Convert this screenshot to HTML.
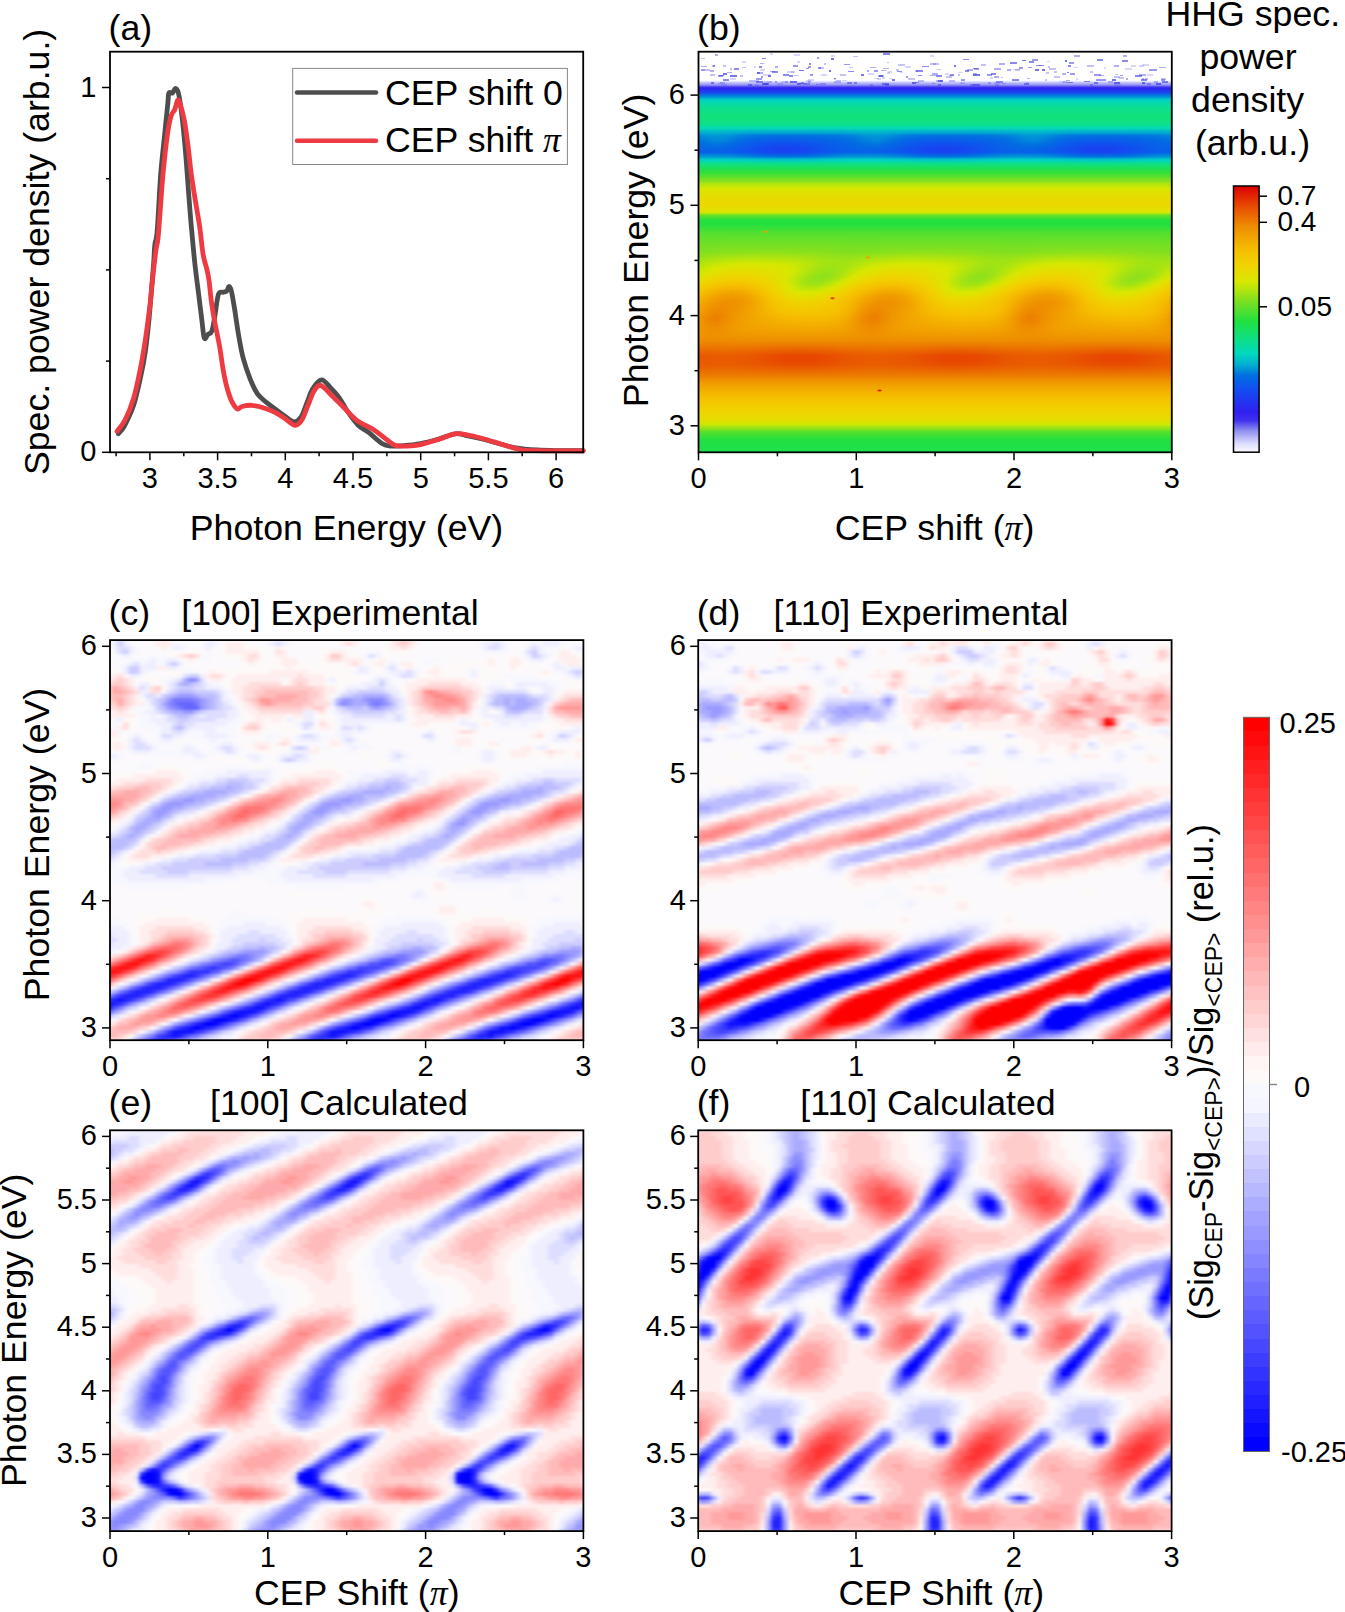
<!DOCTYPE html>
<html><head><meta charset="utf-8"><style>
html,body{margin:0;padding:0;background:#fff;}
body{width:1345px;height:1612px;position:relative;overflow:hidden;font-family:"Liberation Sans",sans-serif;}
.hm{position:absolute;overflow:hidden;}
.hm div{width:100%;}
svg.main{position:absolute;left:0;top:0;}
</style></head><body>
<div class="hm" style="left:698.5px;top:51.7px;width:473.3px;height:400.6px"><div style="position:absolute;left:-6.0px;top:-6.0px;width:485.3px;filter:blur(1.0px)"><div style="height:4px;background:#fff"></div><div style="height:4px;background:#fff"></div><div style="height:4px;background:#fff"></div><div style="height:4px;background:#fff"></div><div style="height:4px;background:#fff"></div><div style="height:4px;background:#fff"></div><div style="height:4px;background:#fff"></div><div style="height:4px;background:#fff"></div><div style="height:4px;background:#fff"></div><div style="height:4px;background:#a8a8f4"></div><div style="height:4px;background:#2e23f0"></div><div style="height:4px;background:#1c3ef0"></div><div style="height:4px;background:#0085db"></div><div style="height:4px;background:#00d3c2"></div><div style="height:4px;background:#07dba6"></div><div style="height:4px;background:#0cde90"></div><div style="height:4px;background:#0fdf85"></div><div style="height:4px;background:#12e079"></div><div style="height:4px;background:#11e07e"></div><div style="height:4px;background:#0edf8a"></div><div style="height:4px;background:linear-gradient(90deg,#04dab2,#04dab1,#04dab1,#04dab1,#04dab1,#04dab1,#04dab1,#04dab2,#04dab2,#03dab2,#03dab2,#03dab2,#03dab2,#03dab2,#03dab2,#03dab2,#03dab2,#03dab2,#03dab2,#04dab2,#04dab2,#04dab1,#04dab1,#04dab1,#04dab1,#04dab1,#04dab1,#04dab2,#04dab2,#03dab2,#03dab2,#03dab2,#03dab2,#03dab2,#03dab2,#03dab2,#03dab2,#03dab2,#03dab2,#03dab2,#04dab2,#04dab2,#04dab1,#04dab1,#04dab1,#04dab1,#04dab1,#04dab1,#04dab2,#03dab2,#03dab2,#03dab2,#03dab2,#03dab2,#03dab2,#03dab2,#03dab2,#03dab2,#03dab2,#03dab2,#04dab2,#04dab2,#04dab1,#04dab1)"></div><div style="height:4px;background:linear-gradient(90deg,#00b2cf,#00b4ce,#00b6ce,#00b7cd,#00b7cd,#00b5ce,#00b3cf,#00b1d0,#00b0d0,#00afd0,#00aed0,#00aed1,#00aed1,#00aed1,#00aed1,#00aed0,#00aed0,#00afd0,#00afd0,#00b0d0,#00b1cf,#00b3cf,#00b5ce,#00b7cd,#00b7cd,#00b6ce,#00b4ce,#00b2cf,#00b0d0,#00afd0,#00aed0,#00aed1,#00aed1,#00aed1,#00aed1,#00aed1,#00aed0,#00aed0,#00afd0,#00b0d0,#00b1d0,#00b2cf,#00b4ce,#00b6ce,#00b7cd,#00b7cd,#00b5ce,#00b3cf,#00b1d0,#00b0d0,#00afd0,#00aed0,#00aed1,#00aed1,#00aed1,#00aed1,#00aed0,#00aed0,#00afd0,#00afd0,#00b0d0,#00b1cf,#00b3cf,#00b5ce)"></div><div style="height:4px;background:linear-gradient(90deg,#0081dc,#008ada,#0092d8,#0096d7,#0094d7,#008ed9,#0084db,#007cdd,#0075df,#0071e0,#0070e0,#006fe0,#006fe0,#006fe0,#0070e0,#0070e0,#0071e0,#0073df,#0075df,#0078de,#007edd,#0085db,#008ed8,#0095d7,#0096d7,#0091d8,#0089da,#007fdc,#0078de,#0073df,#0070e0,#006fe0,#006fe0,#006fe0,#006fe0,#0070e0,#0070e0,#0072e0,#0074df,#0076de,#007bdd,#0082dc,#008ad9,#0092d8,#0096d6,#0094d7,#008dd9,#0084db,#007bdd,#0075df,#0071e0,#0070e0,#006fe0,#006fe0,#006fe0,#0070e0,#0070e0,#0071e0,#0073df,#0075df,#0078de,#007edc,#0086db,#008fd8)"></div><div style="height:4px;background:linear-gradient(90deg,#016ee1,#0078de,#0084db,#008ad9,#0087da,#007cdd,#016fe1,#0469e4,#0664e6,#0861e8,#095fe9,#095ee9,#095de9,#095ee9,#095fe9,#0860e8,#0762e7,#0663e6,#0566e5,#0468e4,#026ce2,#0072df,#007fdc,#0088da,#008ada,#0082dc,#0074df,#026be2,#0566e5,#0762e7,#0860e8,#095ee9,#095de9,#095de9,#095ee9,#085fe8,#0861e8,#0763e7,#0665e6,#0567e5,#036ae3,#016ee1,#0079de,#0085db,#008ad9,#0087da,#007bdd,#016ee1,#0468e4,#0664e6,#0861e8,#095fe9,#095ee9,#095de9,#095ee9,#095fe9,#0860e8,#0762e7,#0664e6,#0566e5,#0468e4,#026ce2,#0073df,#0080dc)"></div><div style="height:4px;background:linear-gradient(90deg,#0469e4,#016de1,#0072df,#0076de,#0072e0,#026ce2,#0565e5,#095fe9,#0c59ec,#0e54ee,#1050f0,#114ef0,#124ef0,#114ef0,#1050f0,#0f53ef,#0d57ed,#0b5beb,#095ee9,#0762e7,#0567e5,#026be2,#006fe0,#0075df,#0075df,#016ee1,#0469e4,#0762e7,#0a5bea,#0d56ed,#0f52ef,#114ff0,#124ef0,#124ef0,#114ff0,#0f51ef,#0e55ee,#0c59ec,#0a5dea,#0860e8,#0665e6,#0469e4,#016de1,#0073df,#0076de,#0071e0,#026ce2,#0665e6,#095ee9,#0c58ec,#0e54ee,#1050f0,#114ef0,#124ef0,#114ef0,#1050f0,#0e53ee,#0d57ed,#0b5beb,#095fe9,#0763e7,#0567e5,#026be2,#0070e0)"></div><div style="height:4px;background:linear-gradient(90deg,#0762e7,#0665e6,#0567e5,#0567e5,#0665e6,#0860e8,#0b5beb,#0e55ee,#114ff0,#144af0,#1746f0,#1843f0,#1942f0,#1843f0,#1746f0,#144af0,#114ef0,#0f53ef,#0c58ec,#0a5dea,#0860e8,#0664e6,#0566e5,#0567e5,#0566e5,#0763e7,#095ee9,#0c58ec,#0f51ef,#134cf0,#1648f0,#1844f0,#1943f0,#1943f0,#1844f0,#1648f0,#134cf0,#1050f0,#0d56ed,#0b5beb,#095fe9,#0762e7,#0665e6,#0567e5,#0567e5,#0664e6,#0860e8,#0b5beb,#0e54ee,#114ef0,#144af0,#1746f0,#1943f0,#1942f0,#1843f0,#1746f0,#144af0,#114ef0,#0e53ee,#0c58ec,#0a5dea,#0861e8,#0664e6,#0566e5)"></div><div style="height:4px;background:linear-gradient(90deg,#095fe9,#0860e8,#0761e7,#0860e8,#095fe9,#0a5cea,#0c58ec,#0f53ef,#114ef0,#144af0,#1646f0,#1844f0,#1943f0,#1844f0,#1646f0,#144af0,#114ef0,#0f52ef,#0c57ec,#0b5beb,#095ee9,#0860e8,#0861e8,#0861e8,#0860e8,#095de9,#0b5aeb,#0d55ed,#1050f0,#134cf0,#1548f0,#1745f0,#1843f0,#1843f0,#1745f0,#1548f0,#134cf0,#1050f0,#0e55ee,#0b59eb,#0a5dea,#085fe8,#0861e8,#0761e7,#0860e8,#095fe9,#0a5cea,#0c57ec,#0f53ef,#114ef0,#144af0,#1746f0,#1844f0,#1943f0,#1844f0,#1647f0,#144af0,#114ef0,#0f53ef,#0c57ec,#0a5bea,#095ee9,#0860e8,#0861e8)"></div><div style="height:4px;background:linear-gradient(90deg,#008ed9,#0090d8,#0090d8,#008fd8,#008dd9,#0089da,#0083db,#007cdd,#0075df,#016fe1,#026de2,#036be3,#036ae3,#036be3,#026ce2,#016fe1,#0075df,#007cdd,#0083db,#0088da,#008dd9,#008fd8,#0090d8,#0090d8,#008ed8,#008bd9,#0086db,#0080dc,#0078de,#0071e0,#016ee1,#026ce2,#036ae3,#036ae3,#026ce2,#016ee1,#0071e0,#0079de,#0080dc,#0086db,#008bd9,#008ed8,#0090d8,#0090d8,#008fd8,#008dd9,#0088da,#0083db,#007cdd,#0074df,#016fe1,#026ce2,#036be3,#036ae3,#036be3,#026de2,#006fe0,#0075df,#007cdd,#0083db,#0089da,#008dd9,#008fd8,#0090d8)"></div><div style="height:4px;background:linear-gradient(90deg,#00d3c2,#00d4c2,#00d4c2,#00d4c2,#00d3c2,#00d2c2,#00d1c3,#00cfc3,#00cec4,#00ccc5,#00cac5,#00c9c6,#00c9c6,#00c9c6,#00cac5,#00ccc5,#00cdc4,#00cfc4,#00d1c3,#00d2c2,#00d3c2,#00d4c2,#00d4c2,#00d4c2,#00d4c2,#00d3c2,#00d2c3,#00d0c3,#00cec4,#00cdc5,#00cbc5,#00cac6,#00c9c6,#00c9c6,#00cac6,#00cbc5,#00cdc5,#00cec4,#00d0c3,#00d2c3,#00d3c2,#00d4c2,#00d4c2,#00d4c2,#00d4c2,#00d3c2,#00d2c2,#00d1c3,#00cfc4,#00cdc4,#00ccc5,#00cac6,#00c9c6,#00c9c6,#00c9c6,#00cac5,#00ccc5,#00cec4,#00cfc3,#00d1c3,#00d2c2,#00d3c2,#00d4c2,#00d4c2)"></div><div style="height:4px;background:linear-gradient(90deg,#0fe084,#0fe084,#0fe084,#0fe084,#0fe084,#0fe084,#0fdf84,#0fdf85,#0fdf85,#0fdf86,#0edf86,#0edf86,#0edf86,#0edf86,#0edf86,#0fdf86,#0fdf85,#0fdf85,#0fdf84,#0fe084,#0fe084,#0fe084,#0fe084,#0fe084,#0fe084,#0fe084,#0fdf84,#0fdf85,#0fdf85,#0fdf85,#0fdf86,#0edf86,#0edf86,#0edf86,#0edf86,#0fdf86,#0fdf85,#0fdf85,#0fdf85,#0fdf84,#0fe084,#0fe084,#0fe084,#0fe084,#0fe084,#0fe084,#0fdf84,#0fdf84,#0fdf85,#0fdf85,#0fdf86,#0edf86,#0edf86,#0edf86,#0edf86,#0edf86,#0fdf86,#0fdf85,#0fdf85,#0fdf84,#0fe084,#0fe084,#0fe084,#0fe084)"></div><div style="height:4px;background:#1ae059"></div><div style="height:4px;background:#2fe03b"></div><div style="height:4px;background:#53e02f"></div><div style="height:4px;background:#7ce021"></div><div style="height:4px;background:#afe40f"></div><div style="height:4px;background:#d5e801"></div><div style="height:4px;background:#dee300"></div><div style="height:4px;background:#e5dd00"></div><div style="height:4px;background:#e9da00"></div><div style="height:4px;background:#ebd800"></div><div style="height:4px;background:#e7dc00"></div><div style="height:4px;background:#d9e700"></div><div style="height:4px;background:#5be02c"></div><div style="height:4px;background:#27e03e"></div><div style="height:4px;background:#21e040"></div><div style="height:4px;background:#36e039"></div><div style="height:4px;background:#4ee031"></div><div style="height:4px;background:#5be02c"></div><div style="height:4px;background:linear-gradient(90deg,#66e029,#66e029,#66e029,#66e029,#66e029,#67e028,#67e028,#67e028,#67e028,#67e028,#67e028,#67e028,#67e028,#67e028,#67e028,#67e028,#67e028,#67e028,#67e028,#67e028,#66e029,#66e029,#66e029,#66e029,#66e029,#67e028,#67e028,#67e028,#67e028,#67e028,#67e028,#67e028,#67e028,#67e028,#67e028,#67e028,#67e028,#67e028,#67e028,#67e028,#66e029,#66e029,#66e029,#66e029,#66e029,#66e029,#67e028,#67e028,#67e028,#67e028,#67e028,#67e028,#67e028,#67e028,#67e028,#67e028,#67e028,#67e028,#67e028,#67e028,#67e028,#66e029,#66e029,#66e029)"></div><div style="height:4px;background:linear-gradient(90deg,#71e025,#71e025,#71e025,#71e025,#72e025,#72e025,#72e025,#73e024,#73e024,#73e024,#73e024,#73e024,#73e024,#73e024,#73e024,#73e024,#73e024,#72e025,#72e025,#72e025,#71e025,#71e025,#71e025,#71e025,#71e025,#72e025,#72e025,#73e024,#73e024,#73e024,#73e024,#73e024,#73e024,#73e024,#73e024,#73e024,#73e024,#72e025,#72e025,#72e025,#71e025,#71e025,#71e025,#71e025,#71e025,#72e025,#72e025,#72e025,#73e024,#73e024,#73e024,#73e024,#73e024,#73e024,#73e024,#73e024,#73e024,#73e024,#72e025,#72e025,#72e025,#71e025,#71e025,#71e025)"></div><div style="height:4px;background:linear-gradient(90deg,#7ae022,#7ae022,#7be022,#7ce021,#7ce021,#7de021,#7ee021,#7fe020,#7fe020,#7fe020,#7fe020,#7fe020,#7fe020,#7fe020,#7fe020,#7ee021,#7ee021,#7de021,#7ce021,#7be022,#7ae022,#7ae022,#7be022,#7be022,#7ce021,#7de021,#7ee021,#7ee021,#7fe020,#7fe020,#7fe020,#7fe020,#7fe020,#7fe020,#7fe020,#7ee021,#7ee021,#7de021,#7ce021,#7be022,#7be022,#7ae022,#7ae022,#7be022,#7ce021,#7ce021,#7de021,#7ee021,#7fe020,#7fe020,#7fe020,#7fe020,#7fe020,#7fe020,#7fe020,#7fe020,#7ee021,#7ee021,#7de021,#7ce021,#7be022,#7ae022,#7ae022,#7be022)"></div><div style="height:4px;background:linear-gradient(90deg,#81e020,#82e01f,#83e01f,#85e01e,#87e11d,#89e11d,#8ae11c,#8be11c,#8be11c,#8ce11c,#8ce11c,#8ce11c,#8be11c,#8be11c,#8ae11c,#89e11d,#87e11d,#86e11e,#84e01f,#82e01f,#81e020,#81e01f,#82e01f,#84e01e,#86e11e,#88e11d,#8ae11d,#8be11c,#8be11c,#8ce11c,#8ce11c,#8ce11c,#8be11c,#8be11c,#8be11c,#8ae11c,#88e11d,#87e11e,#85e01e,#83e01f,#82e01f,#81e020,#82e01f,#83e01f,#85e01e,#87e11d,#89e11d,#8ae11c,#8be11c,#8be11c,#8ce11c,#8ce11c,#8ce11c,#8be11c,#8be11c,#8ae11c,#89e11d,#87e11d,#86e11e,#84e01f,#82e01f,#81e020,#81e01f,#83e01f)"></div><div style="height:4px;background:linear-gradient(90deg,#91e21a,#93e219,#96e218,#9ae217,#9ee315,#a0e314,#a2e314,#a3e313,#a4e313,#a4e313,#a4e313,#a4e313,#a3e313,#a2e314,#a0e314,#9de315,#9ae217,#96e218,#93e219,#91e21a,#90e11a,#92e21a,#95e219,#98e217,#9ce316,#9fe315,#a1e314,#a3e313,#a4e313,#a4e313,#a4e313,#a4e313,#a3e313,#a2e313,#a1e314,#9fe315,#9ce316,#98e217,#95e219,#92e21a,#90e11a,#91e21a,#93e219,#96e218,#9ae216,#9ee315,#a0e314,#a2e313,#a3e313,#a4e313,#a4e313,#a4e313,#a4e313,#a3e313,#a2e314,#a0e314,#9de315,#9ae217,#96e218,#93e219,#91e21a,#90e11a,#92e21a,#95e218)"></div><div style="height:4px;background:linear-gradient(90deg,#9ee315,#a3e313,#aae411,#b0e40e,#b6e50c,#bae50b,#bce50a,#bee60a,#bee609,#bee609,#bde60a,#bce50a,#bbe50b,#b8e50c,#b4e50d,#afe40f,#a9e411,#a3e313,#9ee315,#9ce316,#9de316,#a1e314,#a7e412,#ade410,#b3e50d,#b8e50c,#bbe50a,#bde60a,#bee609,#bee609,#bee60a,#bde60a,#bce50a,#b9e50b,#b6e50c,#b1e40e,#ace410,#a5e312,#a0e314,#9ce316,#9ce316,#9ee315,#a4e313,#aae411,#b1e40e,#b6e50c,#bae50b,#bce50a,#bee60a,#bee609,#bee609,#bde60a,#bce50a,#bbe50b,#b8e50c,#b4e50d,#aee40f,#a8e411,#a2e314,#9ee315,#9ce316,#9de316,#a1e314,#a7e412)"></div><div style="height:4px;background:linear-gradient(90deg,#a8e411,#b2e50e,#bce50a,#c6e607,#cde704,#d3e802,#d6e801,#d7e800,#d7e800,#d6e801,#d4e801,#d2e702,#cee704,#c9e706,#c1e608,#b8e50c,#aee40f,#a6e312,#a0e314,#a0e314,#a4e313,#ade410,#b7e50c,#c2e608,#cae705,#d0e703,#d4e801,#d6e801,#d7e800,#d6e801,#d5e801,#d3e802,#d0e703,#cce705,#c5e607,#bce50a,#b3e50e,#a9e411,#a2e314,#9fe315,#a2e314,#a8e411,#b2e50e,#bde60a,#c6e606,#cee704,#d3e802,#d6e801,#d7e800,#d7e800,#d6e801,#d4e801,#d2e702,#cee704,#c8e706,#c1e608,#b7e50c,#aee40f,#a5e312,#a0e314,#a0e314,#a5e313,#ade410,#b8e50c)"></div><div style="height:4px;background:linear-gradient(90deg,#b1e40e,#c0e609,#cfe703,#d9e700,#dce500,#dee300,#dfe200,#dfe200,#dfe200,#dee300,#dde400,#dbe500,#d9e700,#d2e702,#c5e607,#b7e50c,#aae411,#a0e314,#9ce316,#a0e314,#aae411,#b9e50b,#c8e706,#d6e801,#dbe600,#dde400,#dfe200,#dfe200,#dfe200,#dfe300,#dee300,#dce400,#dae600,#d7e800,#cbe705,#bee60a,#b0e40f,#a4e313,#9de315,#9de315,#a5e313,#b1e40e,#c1e608,#d0e703,#d9e700,#dce400,#dee300,#dfe200,#dfe200,#dfe200,#dee300,#dde400,#dbe500,#d9e700,#d1e703,#c4e607,#b6e50c,#a9e411,#a0e314,#9ce316,#a0e314,#abe410,#b9e50b,#c9e705)"></div><div style="height:4px;background:linear-gradient(90deg,#bce50a,#d1e702,#dce500,#e1e100,#e4de00,#e6dc00,#e7dc00,#e7dc00,#e6dd00,#e4de00,#e2e000,#dfe200,#dbe500,#d3e802,#c1e609,#aee40f,#9fe315,#97e218,#97e218,#a2e314,#b3e50e,#c7e606,#d9e700,#dfe200,#e3df00,#e5dd00,#e6dc00,#e7dc00,#e6dc00,#e5dd00,#e3df00,#e1e100,#dde400,#d9e700,#c9e705,#b7e50c,#a5e312,#99e217,#96e218,#9ce316,#aae411,#bee60a,#d2e702,#dce400,#e1e100,#e4de00,#e6dc00,#e7dc00,#e6dc00,#e6dd00,#e4de00,#e2e000,#dfe200,#dbe500,#d2e702,#c0e609,#ade410,#9ee315,#96e218,#98e217,#a2e314,#b4e50d,#c9e706,#dae700)"></div><div style="height:4px;background:linear-gradient(90deg,#cde704,#dce400,#e3df00,#e9da00,#ecd700,#eed600,#eed500,#eed600,#ecd700,#e9da00,#e6dc00,#e1e000,#dbe500,#cce704,#b5e50d,#a1e314,#92e219,#8fe11b,#96e218,#a8e411,#c0e609,#d9e700,#e0e100,#e6dc00,#ebd800,#edd600,#eed500,#eed600,#edd700,#ebd800,#e8db00,#e4de00,#dee300,#d7e800,#c0e609,#aae411,#98e217,#8fe11b,#91e21a,#9fe315,#b5e50d,#cee704,#dde400,#e4de00,#e9da00,#ecd700,#eed600,#eed500,#eed600,#ecd700,#e9da00,#e6dd00,#e1e100,#dbe600,#cbe705,#b4e50d,#a0e315,#92e219,#8fe11b,#97e218,#a9e411,#c2e608,#d9e700,#e1e100)"></div><div style="height:4px;background:linear-gradient(90deg,#dde400,#e5dd00,#edd700,#f1d200,#f1cf00,#f2cd00,#f2cd00,#f2ce00,#f1d100,#efd500,#ead900,#e3df00,#dbe500,#c7e606,#aee40f,#9ae216,#91e21a,#94e219,#a3e313,#bce50a,#d8e800,#e1e000,#ead900,#f0d400,#f1d000,#f2ce00,#f2cd00,#f2ce00,#f1d000,#f0d300,#edd700,#e6dc00,#dfe200,#d4e801,#bae50b,#a3e313,#94e219,#91e21a,#9ae216,#afe40f,#cbe705,#dde400,#e6dc00,#edd600,#f1d200,#f2ce00,#f2cd00,#f2cd00,#f2ce00,#f1d100,#efd500,#e9d900,#e3df00,#dbe600,#c6e607,#ade410,#99e217,#90e11a,#94e219,#a4e313,#bde60a,#d9e700,#e2e000,#ead900)"></div><div style="height:4px;background:linear-gradient(90deg,#e7db00,#f0d400,#f2cd00,#f3c800,#f4c400,#f5c300,#f5c300,#f4c500,#f3c900,#f1cf00,#eed500,#e6dd00,#dce400,#c9e706,#b0e40e,#a1e314,#9ee315,#a8e411,#bde60a,#d9e800,#e2df00,#ecd700,#f1d000,#f3ca00,#f4c600,#f5c300,#f5c300,#f4c400,#f3c700,#f2cc00,#f1d200,#ead900,#e1e100,#d6e801,#bbe50b,#a7e412,#9ee315,#a2e314,#b2e50e,#cce704,#dee300,#e8db00,#f0d400,#f2cd00,#f3c800,#f4c400,#f5c300,#f5c300,#f4c600,#f3ca00,#f1cf00,#eed600,#e5dd00,#dce500,#c7e606,#afe40f,#a0e314,#9ee315,#a9e411,#bfe609,#d9e700,#e3df00,#ecd700,#f1d000)"></div><div style="height:4px;background:linear-gradient(90deg,#f0d200,#f3ca00,#f5c300,#f6bd00,#f5b800,#f5b500,#f5b600,#f6bb00,#f5c100,#f3c800,#f1d000,#ead900,#e0e200,#d4e801,#c0e609,#b6e50c,#b9e50b,#c9e706,#dbe600,#e4de00,#eed600,#f2ce00,#f4c600,#f5c000,#f5ba00,#f5b600,#f5b500,#f5b800,#f6be00,#f4c500,#f2cc00,#efd500,#e4de00,#dbe600,#c8e706,#b9e50b,#b6e50c,#c0e609,#d4e801,#dfe200,#e9da00,#f1d200,#f3ca00,#f5c300,#f6bd00,#f5b700,#f5b500,#f5b700,#f6bb00,#f5c200,#f3c900,#f1d100,#e9da00,#dfe200,#d3e802,#bfe609,#b6e50c,#bae50b,#cae705,#dbe500,#e4de00,#eed600,#f2cd00,#f4c600)"></div><div style="height:4px;background:linear-gradient(90deg,#f3c900,#f5c100,#f5b800,#f4af00,#f3a900,#f2a600,#f2a800,#f3ae00,#f5b700,#f5c200,#f2cb00,#efd500,#e5dd00,#dde400,#d8e800,#d5e801,#d9e700,#dfe200,#e6dc00,#efd500,#f2cd00,#f4c500,#f6bd00,#f4b300,#f3ab00,#f2a700,#f2a700,#f3ab00,#f4b200,#f6be00,#f4c700,#f1d000,#ead900,#e1e100,#dae600,#d6e801,#d8e800,#dce500,#e3df00,#ebd900,#f1d100,#f3c900,#f5c100,#f5b700,#f3ae00,#f3a800,#f2a600,#f3a800,#f3ae00,#f5b800,#f5c200,#f2cc00,#eed500,#e5dd00,#dde400,#d8e800,#d5e801,#dae700,#dfe200,#e7dc00,#efd500,#f2cd00,#f4c400,#f6bc00)"></div><div style="height:4px;background:linear-gradient(90deg,#f5c200,#f5b800,#f3ac00,#f2a300,#f19d00,#f09b00,#f19d00,#f2a400,#f3ae00,#f6bc00,#f4c600,#f1cf00,#ecd700,#e6dd00,#e2e000,#e2e000,#e5dd00,#ead900,#f0d400,#f2cd00,#f4c600,#f6be00,#f4b100,#f2a700,#f19f00,#f09b00,#f09b00,#f1a000,#f3a900,#f5b500,#f5c100,#f2cb00,#f0d400,#e8da00,#e3df00,#e2e000,#e3df00,#e7db00,#edd700,#f1d100,#f3c900,#f5c200,#f5b700,#f3ac00,#f2a200,#f19c00,#f09b00,#f19d00,#f2a400,#f4af00,#f6bc00,#f4c700,#f1d000,#ecd800,#e5dd00,#e2e000,#e2e000,#e5dd00,#ead900,#f0d400,#f2cd00,#f4c500,#f6bd00,#f4b100)"></div><div style="height:4px;background:linear-gradient(90deg,#f6bc00,#f4af00,#f2a300,#f09900,#ef9400,#ef9300,#f09600,#f19e00,#f3a800,#f5b500,#f5c100,#f3ca00,#f1d100,#eed500,#ecd700,#ecd700,#eed500,#f1d200,#f2cd00,#f3c700,#f5c000,#f5b500,#f3a800,#f19d00,#f09600,#ef9300,#ef9400,#f09a00,#f2a300,#f4af00,#f6bd00,#f4c600,#f2ce00,#f0d400,#edd700,#ecd800,#edd600,#f0d400,#f1d000,#f3ca00,#f4c400,#f6bb00,#f4ae00,#f2a200,#f09900,#ef9400,#ef9300,#f09700,#f19e00,#f3a900,#f5b600,#f5c200,#f3ca00,#f1d100,#eed600,#ecd800,#ecd700,#efd500,#f1d200,#f2cd00,#f4c700,#f5c000,#f4b500,#f2a800)"></div><div style="height:4px;background:linear-gradient(90deg,#f5b600,#f3a800,#f09b00,#ef9200,#ee8e00,#ef9000,#ef9400,#f09c00,#f2a600,#f4b200,#f6be00,#f4c500,#f2cb00,#f1cf00,#f1d000,#f1d000,#f1cf00,#f2cc00,#f3c900,#f4c400,#f6bc00,#f4af00,#f1a100,#f09600,#ef9000,#ee8f00,#ef9200,#f09800,#f1a100,#f3ac00,#f5b800,#f5c200,#f3c800,#f2cd00,#f1d000,#f1d100,#f1d000,#f2ce00,#f3ca00,#f4c600,#f5c000,#f5b600,#f2a800,#f09b00,#ef9200,#ee8e00,#ef9000,#ef9400,#f19c00,#f2a600,#f4b200,#f6be00,#f4c600,#f2cb00,#f1cf00,#f1d000,#f1d000,#f1cf00,#f2cc00,#f3c800,#f5c300,#f6bb00,#f3ae00,#f1a000)"></div><div style="height:4px;background:linear-gradient(90deg,#f4b200,#f2a300,#f09500,#ee8d00,#ee8c00,#ef9000,#f09600,#f19e00,#f2a700,#f4b100,#f5bb00,#f5c200,#f4c600,#f3c900,#f2cb00,#f2cb00,#f3ca00,#f3c800,#f4c600,#f5c100,#f5b900,#f3ab00,#f09c00,#ef9000,#ee8c00,#ee8e00,#ef9300,#f09a00,#f2a200,#f3ac00,#f5b600,#f6bf00,#f4c400,#f3c800,#f3ca00,#f2cb00,#f3cb00,#f3c900,#f4c700,#f5c300,#f6be00,#f4b200,#f2a300,#ef9500,#ee8d00,#ee8c00,#ef9000,#f09700,#f19e00,#f2a700,#f4b100,#f6bb00,#f5c200,#f4c700,#f3ca00,#f2cb00,#f2cb00,#f3ca00,#f3c800,#f4c500,#f5c100,#f5b800,#f3aa00,#f09b00)"></div><div style="height:4px;background:linear-gradient(90deg,#f3ae00,#f19e00,#ef9000,#ee8700,#ee8a00,#ef9200,#f09900,#f1a000,#f2a800,#f4b000,#f5b800,#f6be00,#f5c200,#f4c400,#f4c600,#f4c600,#f4c500,#f4c400,#f5c200,#f6be00,#f4b400,#f2a600,#f09600,#ee8a00,#ee8700,#ee8e00,#f09600,#f19d00,#f2a400,#f3ac00,#f4b400,#f6bb00,#f5c000,#f5c300,#f4c500,#f4c600,#f4c600,#f4c500,#f5c300,#f5c000,#f5b900,#f3ad00,#f19d00,#ee8f00,#ed8700,#ee8b00,#ef9200,#f09a00,#f1a100,#f3a800,#f4b000,#f5b800,#f6bf00,#f5c200,#f4c400,#f4c600,#f4c600,#f4c500,#f4c400,#f5c200,#f6be00,#f4b300,#f2a500,#ef9500)"></div><div style="height:4px;background:linear-gradient(90deg,#f2a700,#f09800,#ee8900,#ed8000,#ee8700,#ef9200,#f09a00,#f1a100,#f2a700,#f3ad00,#f4b300,#f5b800,#f6bc00,#f6be00,#f6bf00,#f6c000,#f6bf00,#f6bf00,#f6bc00,#f5b700,#f3ae00,#f19f00,#ef9000,#ed8200,#ed8200,#ee8e00,#f09700,#f19e00,#f2a400,#f3aa00,#f4b000,#f5b500,#f5ba00,#f6bd00,#f6bf00,#f6c000,#f6c000,#f6bf00,#f6be00,#f5ba00,#f4b300,#f2a700,#f09700,#e80,#ed8000,#e80,#ef9200,#f09b00,#f1a100,#f2a700,#f3ad00,#f4b300,#f5b800,#f6bc00,#f6be00,#f6bf00,#f6c000,#f6bf00,#f6bf00,#f6bc00,#f5b700,#f3ad00,#f19e00,#ee8f00)"></div><div style="height:4px;background:linear-gradient(90deg,#f2a300,#ef9400,#ed8600,#ed8000,#ee8900,#ef9400,#f19c00,#f1a200,#f2a600,#f3aa00,#f3ae00,#f4b100,#f4b400,#f5b600,#f5b700,#f5b800,#f5b800,#f5b700,#f5b500,#f4b100,#f3a800,#f09b00,#ee8d00,#ed8100,#ed8300,#ee8f00,#f09800,#f19f00,#f2a400,#f3a800,#f3ac00,#f4b000,#f4b300,#f5b500,#f5b700,#f5b800,#f5b800,#f5b700,#f5b600,#f4b300,#f3ad00,#f2a200,#ef9400,#ed8500,#ed8000,#ee8a00,#ef9400,#f19c00,#f1a200,#f2a600,#f3aa00,#f3ae00,#f4b200,#f4b400,#f5b600,#f5b700,#f5b800,#f5b800,#f5b700,#f5b500,#f4b000,#f2a800,#f09b00,#ee8d00)"></div><div style="height:4px;background:linear-gradient(90deg,#f1a000,#ef9400,#ee8a00,#ed8600,#ee8e00,#f09600,#f19d00,#f1a200,#f2a500,#f2a700,#f3aa00,#f3ac00,#f3ae00,#f4af00,#f4b000,#f4b000,#f4b000,#f4b000,#f3ae00,#f3ab00,#f2a400,#f09a00,#ee8f00,#ed8600,#ee8900,#ef9200,#f09a00,#f1a000,#f2a300,#f2a600,#f3a900,#f3ab00,#f3ad00,#f4ae00,#f4af00,#f4b000,#f4b000,#f4b000,#f4af00,#f3ad00,#f2a800,#f19f00,#ef9400,#ee8900,#ed8600,#ee8e00,#f09700,#f19d00,#f1a200,#f2a500,#f2a700,#f3aa00,#f3ac00,#f3ae00,#f4af00,#f4b000,#f4b000,#f4b000,#f4b000,#f3ae00,#f3ab00,#f2a400,#f09900,#ee8e00)"></div><div style="height:4px;background:linear-gradient(90deg,#f19d00,#f09500,#ee8f00,#ee8d00,#ef9100,#f09800,#f19d00,#f1a000,#f1a200,#f2a300,#f2a500,#f2a600,#f2a700,#f2a800,#f3a800,#f3a900,#f3a900,#f3a800,#f2a700,#f2a500,#f1a100,#f09900,#ef9100,#ee8d00,#ee8f00,#ef9500,#f09a00,#f19e00,#f1a100,#f2a300,#f2a400,#f2a500,#f2a700,#f2a800,#f3a800,#f3a800,#f3a900,#f3a800,#f2a800,#f2a600,#f2a300,#f19d00,#ef9500,#ee8e00,#ee8d00,#ef9200,#f09800,#f19d00,#f1a000,#f1a200,#f2a300,#f2a500,#f2a600,#f2a700,#f2a800,#f3a800,#f3a900,#f3a900,#f3a800,#f2a700,#f2a500,#f1a000,#f09900,#ef9100)"></div><div style="height:4px;background:linear-gradient(90deg,#f09a00,#ef9500,#ef9100,#ef9000,#ef9300,#f09700,#f09a00,#f19c00,#f19d00,#f19e00,#f19f00,#f19f00,#f1a000,#f1a000,#f1a100,#f1a100,#f1a100,#f1a100,#f1a000,#f19f00,#f19c00,#f09800,#ef9300,#ef9000,#ef9100,#ef9500,#f09900,#f09b00,#f19d00,#f19e00,#f19e00,#f19f00,#f1a000,#f1a000,#f1a100,#f1a100,#f1a100,#f1a100,#f1a000,#f1a000,#f19e00,#f09a00,#ef9500,#ef9100,#ef9000,#ef9300,#f09700,#f09a00,#f19c00,#f19d00,#f19e00,#f19f00,#f19f00,#f1a000,#f1a000,#f1a100,#f1a100,#f1a100,#f1a100,#f1a000,#f19f00,#f19c00,#f09700,#ef9300)"></div><div style="height:4px;background:linear-gradient(90deg,#ef9500,#ef9200,#ef9000,#ef9000,#ef9100,#ef9300,#ef9500,#f09600,#f09700,#f09700,#f09700,#f09800,#f09800,#f09800,#f09800,#f09800,#f09800,#f09800,#f09800,#f09800,#f09600,#ef9400,#ef9100,#ef9000,#ef9100,#ef9200,#ef9400,#f09600,#f09600,#f09700,#f09700,#f09800,#f09800,#f09800,#f09800,#f09800,#f09800,#f09800,#f09800,#f09800,#f09700,#ef9500,#ef9200,#ef9000,#ef9000,#ef9100,#ef9400,#ef9500,#f09600,#f09700,#f09700,#f09700,#f09800,#f09800,#f09800,#f09800,#f09800,#f09800,#f09800,#f09800,#f09700,#f09600,#ef9400,#ef9100)"></div><div style="height:4px;background:linear-gradient(90deg,#ee8e00,#ee8d00,#ee8c00,#ee8c00,#ee8c00,#ee8d00,#ee8e00,#ee8e00,#ee8f00,#ee8f00,#ee8f00,#ee8f00,#ee8f00,#ee8f00,#ee8f00,#ee8f00,#ee8f00,#ee8f00,#ee8f00,#ee8f00,#ee8e00,#ee8d00,#ee8c00,#ee8b00,#ee8c00,#ee8d00,#ee8e00,#ee8e00,#ee8e00,#ee8f00,#ee8f00,#ee8f00,#ee8f00,#ee8f00,#ee8f00,#ee8f00,#ee8f00,#ee8f00,#ee8f00,#ee8f00,#ee8f00,#ee8e00,#ee8d00,#ee8c00,#ee8c00,#ee8c00,#ee8d00,#ee8e00,#ee8e00,#ee8f00,#ee8f00,#ee8f00,#ee8f00,#ee8f00,#ee8f00,#ee8f00,#ee8f00,#ee8f00,#ee8f00,#ee8f00,#ee8f00,#ee8e00,#ee8d00,#ee8c00)"></div><div style="height:4px;background:linear-gradient(90deg,#ed8100,#ed8100,#ed8100,#ed8100,#ed8100,#ed8200,#ed8200,#ed8200,#ed8100,#ed8100,#ed8000,#ed8000,#ed7f00,#ed7f00,#ed7f00,#ed7f00,#ed7f00,#ed8000,#ed8000,#ed8100,#ed8100,#ed8100,#ed8100,#ed8100,#ed8100,#ed8100,#ed8200,#ed8200,#ed8100,#ed8100,#ed8000,#ed8000,#ed7f00,#ed7f00,#ed7f00,#ed7f00,#ed7f00,#ed8000,#ed8000,#ed8100,#ed8100,#ed8100,#ed8100,#ed8100,#ed8100,#ed8100,#ed8200,#ed8200,#ed8200,#ed8100,#ed8100,#ed8000,#ed8000,#ed7f00,#ed7f00,#ed7f00,#ed7f00,#ed7f00,#ed8000,#ed8000,#ed8100,#ed8100,#ed8100,#ed8100)"></div><div style="height:4px;background:linear-gradient(90deg,#ec7300,#ec7300,#ec7400,#ec7400,#ec7500,#ec7500,#ec7400,#ec7300,#eb7200,#eb7100,#eb6f00,#eb6e00,#eb6d00,#eb6c00,#eb6c00,#eb6c00,#eb6d00,#eb6e00,#eb6f00,#eb7100,#eb7200,#ec7300,#ec7400,#ec7400,#ec7500,#ec7500,#ec7400,#ec7400,#ec7300,#eb7100,#eb7000,#eb6e00,#eb6d00,#eb6c00,#eb6c00,#eb6c00,#eb6c00,#eb6d00,#eb6f00,#eb7000,#eb7200,#ec7300,#ec7300,#ec7400,#ec7400,#ec7500,#ec7500,#ec7400,#ec7300,#eb7200,#eb7100,#eb6f00,#eb6e00,#eb6d00,#eb6c00,#eb6c00,#eb6c00,#eb6d00,#eb6e00,#eb6f00,#eb7100,#eb7200,#ec7300,#ec7400)"></div><div style="height:4px;background:linear-gradient(90deg,#ea6300,#ea6500,#ea6600,#ea6700,#ea6700,#ea6700,#ea6600,#ea6400,#ea6200,#ea5f00,#e95d00,#e95b00,#e95900,#e95700,#e95700,#e95700,#e95900,#e95b00,#e95d00,#ea6000,#ea6200,#ea6400,#ea6600,#ea6700,#ea6700,#ea6700,#ea6600,#ea6500,#ea6300,#ea6100,#ea5e00,#e95c00,#e95900,#e95800,#e95700,#e95700,#e95800,#e95a00,#e95c00,#ea5f00,#ea6100,#ea6300,#ea6500,#ea6600,#ea6700,#ea6700,#ea6700,#ea6500,#ea6400,#ea6200,#ea5f00,#e95d00,#e95a00,#e95800,#e95700,#e95700,#e95700,#e95900,#e95b00,#e95d00,#ea6000,#ea6200,#ea6400,#ea6600)"></div><div style="height:4px;background:linear-gradient(90deg,#e95600,#e95900,#e95a00,#e95b00,#e95c00,#e95b00,#e95a00,#e95700,#e95500,#e85200,#e84e00,#e84b00,#e74800,#e74600,#e74500,#e74600,#e74800,#e84b00,#e84f00,#e85200,#e95500,#e95800,#e95a00,#e95b00,#e95c00,#e95b00,#e95a00,#e95900,#e95600,#e85300,#e85000,#e84c00,#e74900,#e74700,#e74600,#e74600,#e74700,#e74a00,#e84d00,#e85000,#e95400,#e95600,#e95900,#e95b00,#e95b00,#e95c00,#e95b00,#e95900,#e95700,#e95500,#e85100,#e84e00,#e74b00,#e74800,#e74600,#e74500,#e74600,#e74800,#e84b00,#e84f00,#e85200,#e95500,#e95800,#e95a00)"></div><div style="height:4px;background:linear-gradient(90deg,#e95600,#e95900,#e95a00,#e95b00,#e95c00,#e95b00,#e95a00,#e95700,#e95500,#e85100,#e84e00,#e74a00,#e74700,#e74600,#e74500,#e74600,#e74800,#e74b00,#e84e00,#e85200,#e95500,#e95800,#e95a00,#e95b00,#e95c00,#e95b00,#e95a00,#e95800,#e95600,#e85300,#e84f00,#e84c00,#e74900,#e74600,#e74500,#e74500,#e74700,#e74900,#e84c00,#e85000,#e95300,#e95600,#e95900,#e95a00,#e95b00,#e95c00,#e95b00,#e95900,#e95700,#e95400,#e85100,#e84e00,#e74a00,#e74700,#e74500,#e74500,#e74600,#e74800,#e84b00,#e84e00,#e85200,#e95500,#e95800,#e95a00)"></div><div style="height:4px;background:linear-gradient(90deg,#e95800,#e95a00,#e95c00,#e95c00,#e95c00,#e95c00,#e95b00,#e95900,#e95700,#e95400,#e85200,#e84f00,#e84d00,#e84b00,#e84b00,#e84b00,#e84d00,#e84f00,#e85200,#e95500,#e95700,#e95900,#e95b00,#e95c00,#e95c00,#e95c00,#e95b00,#e95a00,#e95800,#e95600,#e85300,#e85000,#e84e00,#e84c00,#e84b00,#e84b00,#e84c00,#e84e00,#e85100,#e95300,#e95600,#e95800,#e95a00,#e95c00,#e95c00,#e95c00,#e95c00,#e95b00,#e95900,#e95700,#e95400,#e85100,#e84f00,#e84d00,#e84b00,#e84b00,#e84b00,#e84d00,#e84f00,#e85200,#e95500,#e95700,#e95900,#e95b00)"></div><div style="height:4px;background:linear-gradient(90deg,#ea6200,#ea6300,#ea6400,#ea6500,#ea6500,#ea6500,#ea6400,#ea6300,#ea6100,#ea6000,#ea5e00,#e95d00,#e95b00,#e95a00,#e95a00,#e95a00,#e95b00,#e95d00,#ea5e00,#ea6000,#ea6200,#ea6300,#ea6400,#ea6500,#ea6500,#ea6500,#ea6400,#ea6300,#ea6200,#ea6100,#ea5f00,#e95d00,#e95c00,#e95b00,#e95a00,#e95a00,#e95b00,#e95c00,#ea5e00,#ea5f00,#ea6100,#ea6200,#ea6300,#ea6400,#ea6500,#ea6500,#ea6500,#ea6400,#ea6300,#ea6100,#ea6000,#ea5e00,#e95c00,#e95b00,#e95a00,#e95a00,#e95b00,#e95b00,#e95d00,#ea5e00,#ea6000,#ea6200,#ea6300,#ea6400)"></div><div style="height:4px;background:linear-gradient(90deg,#eb6f00,#eb7000,#eb7000,#eb7000,#eb7100,#eb7000,#eb7000,#eb7000,#eb6f00,#eb6e00,#eb6d00,#eb6d00,#eb6c00,#eb6c00,#eb6b00,#eb6c00,#eb6c00,#eb6d00,#eb6d00,#eb6e00,#eb6f00,#eb7000,#eb7000,#eb7000,#eb7100,#eb7000,#eb7000,#eb7000,#eb6f00,#eb6e00,#eb6e00,#eb6d00,#eb6c00,#eb6c00,#eb6b00,#eb6b00,#eb6c00,#eb6c00,#eb6d00,#eb6e00,#eb6f00,#eb6f00,#eb7000,#eb7000,#eb7100,#eb7100,#eb7000,#eb7000,#eb7000,#eb6f00,#eb6e00,#eb6d00,#eb6d00,#eb6c00,#eb6c00,#eb6b00,#eb6c00,#eb6c00,#eb6d00,#eb6d00,#eb6e00,#eb6f00,#eb7000,#eb7000)"></div><div style="height:4px;background:linear-gradient(90deg,#ed7d00,#ed7d00,#ed7e00,#ed7e00,#ed7e00,#ed7e00,#ed7d00,#ed7d00,#ed7d00,#ed7d00,#ec7c00,#ec7c00,#ec7c00,#ec7c00,#ec7c00,#ec7c00,#ec7c00,#ec7c00,#ec7c00,#ed7d00,#ed7d00,#ed7d00,#ed7d00,#ed7e00,#ed7e00,#ed7e00,#ed7e00,#ed7d00,#ed7d00,#ed7d00,#ed7d00,#ec7c00,#ec7c00,#ec7c00,#ec7c00,#ec7c00,#ec7c00,#ec7c00,#ec7c00,#ed7d00,#ed7d00,#ed7d00,#ed7d00,#ed7e00,#ed7e00,#ed7e00,#ed7e00,#ed7d00,#ed7d00,#ed7d00,#ed7d00,#ec7c00,#ec7c00,#ec7c00,#ec7c00,#ec7c00,#ec7c00,#ec7c00,#ec7c00,#ec7c00,#ed7d00,#ed7d00,#ed7d00,#ed7d00)"></div><div style="height:4px;background:#ef9000"></div><div style="height:4px;background:#f19e00"></div><div style="height:4px;background:#f3a900"></div><div style="height:4px;background:#f4b300"></div><div style="height:4px;background:#f6bc00"></div><div style="height:4px;background:#f5c300"></div><div style="height:4px;background:#f3ca00"></div><div style="height:4px;background:#f1d000"></div><div style="height:4px;background:#efd500"></div><div style="height:4px;background:#ead900"></div><div style="height:4px;background:#e4de00"></div><div style="height:4px;background:#cfe703"></div><div style="height:4px;background:#99e217"></div><div style="height:4px;background:#55e02e"></div><div style="height:4px;background:#3ae037"></div><div style="height:4px;background:#22e03f"></div><div style="height:4px;background:#1fe044"></div><div style="height:4px;background:#1ee048"></div><div style="height:4px;background:#1de04c"></div><div style="height:4px;background:#1ce051"></div><div style="height:4px;background:#1be055"></div></div></div><div class="hm" style="left:110.0px;top:640.1px;width:473.4px;height:400.1px"><div style="position:absolute;left:-6.0px;top:-6.0px;width:485.4px;filter:blur(1.0px)"><div style="height:4px;background:linear-gradient(90deg,#fbf9fc,#fbf9fc,#f7f7fe,#f7f7fe,#f7f7fe,#fbf9fc,#fbf9fc,#fbf9fc,#fbf9fc,#fbf9fc,#fdf9f8,#fdf9f8,#fbf9fc,#fbf9fc,#fbf9fc,#fbf9fc,#fbf9fc,#fbf9fc,#fbf9fc,#fbf9fc,#fbf9fc,#fbf9fc,#fbf9fc,#fbf9fc,#fbf9fc,#fbf9fc,#fbf9fc,#fbf9fc,#fbf9fc,#fbf9fc,#fbf9fc,#fbf9fc,#fbf9fc,#fbf9fc,#fbf9fc,#fbf9fc,#fbf9fc,#fbf9fc,#fbf9fc,#fbf9fc,#fbf9fc,#fbf9fc,#fbf9fc,#fbf9fc,#fbf9fc,#fbf9fc,#fbf9fc,#fbf9fc,#fbf9fc,#fbf9fc,#fbf9fc,#fbf9fc,#fbf9fc,#fdf9f8,#fee,#fee,#fee,#fdf9f8,#fbf9fc,#fbf9fc,#fbf9fc,#fbf9fc,#fbf9fc,#fbf9fc,#fbf9fc,#fbf9fc,#fbf9fc,#fbf9fc,#fbf9fc,#fbf9fc,#fbf9fc,#fbf9fc,#fbf9fc,#fbf9fc,#fbf9fc,#fbf9fc,#fbf9fc,#fbf9fc,#fbf9fc,#fbf9fc,#fbf9fc,#f7f7fe,#eef,#f7f7fe,#fbf9fc,#fbf9fc,#fbf9fc,#fbf9fc,#fbf9fc,#fbf9fc)"></div><div style="height:4px;background:linear-gradient(90deg,#fbf9fc,#fbf9fc,#eef,#ddf,#eef,#fbf9fc,#fbf9fc,#fbf9fc,#fbf9fc,#fbf9fc,#fee,#fee,#fdf9f8,#fbf9fc,#fbf9fc,#fbf9fc,#fbf9fc,#fbf9fc,#fbf9fc,#f7f7fe,#f7f7fe,#fbf9fc,#fbf9fc,#fdf9f8,#fdf9f8,#fdf9f8,#fbf9fc,#fbf9fc,#fbf9fc,#fbf9fc,#f7f7fe,#f7f7fe,#eef,#f7f7fe,#f7f7fe,#fbf9fc,#fbf9fc,#fbf9fc,#fbf9fc,#fbf9fc,#fbf9fc,#fbf9fc,#fbf9fc,#fdf9f8,#fee,#fee,#fee,#fdf9f8,#fbf9fc,#fbf9fc,#fbf9fc,#fbf9fc,#fdf9f8,#fee,#fdd,#fcc,#fdd,#fee,#fbf9fc,#fbf9fc,#fbf9fc,#fbf9fc,#fbf9fc,#fbf9fc,#fbf9fc,#fbf9fc,#fbf9fc,#fbf9fc,#fbf9fc,#fbf9fc,#f7f7fe,#f7f7fe,#f7f7fe,#f7f7fe,#fbf9fc,#fbf9fc,#fbf9fc,#fbf9fc,#fbf9fc,#fbf9fc,#f7f7fe,#eef,#eef,#eef,#f7f7fe,#fbf9fc,#fbf9fc,#fbf9fc,#fbf9fc,#fbf9fc)"></div><div style="height:4px;background:linear-gradient(90deg,#fbf9fc,#f7f7fe,#eef,#ccf,#eef,#fbf9fc,#fbf9fc,#fbf9fc,#fbf9fc,#fdf9f8,#fee,#fee,#fee,#f7f7fe,#f7f7fe,#fbf9fc,#fbf9fc,#fbf9fc,#fbf9fc,#eef,#eef,#fbf9fc,#fdf9f8,#fee,#fee,#fee,#fdf9f8,#fbf9fc,#fbf9fc,#fbf9fc,#f7f7fe,#eef,#ddf,#eef,#f7f7fe,#fbf9fc,#fbf9fc,#fbf9fc,#fbf9fc,#fbf9fc,#fbf9fc,#fbf9fc,#fbf9fc,#fdf9f8,#fee,#fdd,#fee,#fdf9f8,#fbf9fc,#fbf9fc,#fbf9fc,#fbf9fc,#fdf9f8,#fee,#fdd,#fcc,#fdd,#fee,#fbf9fc,#fbf9fc,#fbf9fc,#fbf9fc,#fbf9fc,#fbf9fc,#fbf9fc,#fbf9fc,#fbf9fc,#fbf9fc,#fbf9fc,#f7f7fe,#eef,#eef,#ddf,#eef,#f7f7fe,#fbf9fc,#fbf9fc,#fbf9fc,#f7f7fe,#eef,#f7f7fe,#eef,#eef,#eef,#f7f7fe,#fbf9fc,#fbf9fc,#fbf9fc,#fbf9fc,#fbf9fc)"></div><div style="height:4px;background:linear-gradient(90deg,#fbf9fc,#fbf9fc,#eef,#ddf,#ddf,#eef,#fbf9fc,#fbf9fc,#fbf9fc,#fbf9fc,#fdf9f8,#fee,#fdf9f8,#eef,#eef,#f7f7fe,#fbf9fc,#fbf9fc,#fbf9fc,#eef,#f7f7fe,#fbf9fc,#fdf9f8,#fee,#fee,#fee,#fdf9f8,#fdf9f8,#fdf9f8,#fbf9fc,#fbf9fc,#fdf9f8,#fee,#fdf9f8,#fbf9fc,#fbf9fc,#fbf9fc,#fbf9fc,#fbf9fc,#fbf9fc,#fbf9fc,#fbf9fc,#fbf9fc,#fbf9fc,#fbf9fc,#fbf9fc,#fbf9fc,#fbf9fc,#fbf9fc,#fbf9fc,#fbf9fc,#fbf9fc,#fdf9f8,#fee,#fee,#fdd,#fee,#fdf9f8,#fbf9fc,#fbf9fc,#fbf9fc,#fbf9fc,#fbf9fc,#fbf9fc,#fbf9fc,#fbf9fc,#fbf9fc,#fbf9fc,#fbf9fc,#f7f7fe,#eef,#ddf,#ddf,#eef,#f7f7fe,#fbf9fc,#fbf9fc,#fbf9fc,#eef,#ddf,#eef,#f7f7fe,#f7f7fe,#f7f7fe,#fdf9f8,#fdf9f8,#f7f7fe,#eef,#eef,#f7f7fe)"></div><div style="height:4px;background:linear-gradient(90deg,#fbf9fc,#fbf9fc,#f7f7fe,#ddf,#ccf,#eef,#f7f7fe,#fbf9fc,#fbf9fc,#fbf9fc,#fbf9fc,#fbf9fc,#fbf9fc,#fdf9f8,#fbf9fc,#fdf9f8,#fdf9f8,#fdf9f8,#fbf9fc,#f7f7fe,#fbf9fc,#fbf9fc,#fdf9f8,#fee,#fee,#fee,#fee,#fee,#fee,#fdf9f8,#fbf9fc,#fdf9f8,#fdd,#fee,#fbf9fc,#fbf9fc,#fbf9fc,#fbf9fc,#fbf9fc,#fbf9fc,#fdf9f8,#fdf9f8,#fee,#fee,#fee,#fdf9f8,#fbf9fc,#fbf9fc,#fbf9fc,#f7f7fe,#f7f7fe,#fbf9fc,#fbf9fc,#fdf9f8,#fdf9f8,#fdf9f8,#fdf9f8,#fbf9fc,#fbf9fc,#fbf9fc,#fbf9fc,#fbf9fc,#fbf9fc,#fbf9fc,#fbf9fc,#fbf9fc,#fbf9fc,#fbf9fc,#fbf9fc,#fbf9fc,#f7f7fe,#f7f7fe,#f7f7fe,#f7f7fe,#fbf9fc,#fbf9fc,#fbf9fc,#f7f7fe,#ddf,#ccf,#eef,#f7f7fe,#f7f7fe,#fbf9fc,#fee,#fee,#fdf9f8,#f7f7fe,#f7f7fe,#f7f7fe)"></div><div style="height:4px;background:linear-gradient(90deg,#fbf9fc,#fbf9fc,#fbf9fc,#f7f7fe,#eef,#f7f7fe,#fbf9fc,#fbf9fc,#fbf9fc,#f7f7fe,#fbf9fc,#fbf9fc,#fbf9fc,#fdf9f8,#fee,#fdd,#fcc,#fdd,#fbf9fc,#f7f7fe,#fbf9fc,#fbf9fc,#fbf9fc,#fdf9f8,#fdf9f8,#fdf9f8,#fee,#fdd,#fdd,#fdf9f8,#fbf9fc,#fdf9f8,#fee,#fee,#fdf9f8,#fdf9f8,#fbf9fc,#fbf9fc,#fbf9fc,#fbf9fc,#fdf9f8,#fee,#fcc,#fcc,#fee,#fdf9f8,#fdf9f8,#fdf9f8,#f7f7fe,#ddf,#eef,#fdf9f8,#fdf9f8,#fbf9fc,#fbf9fc,#fbf9fc,#fbf9fc,#fbf9fc,#fbf9fc,#fbf9fc,#fbf9fc,#fbf9fc,#fbf9fc,#fbf9fc,#fbf9fc,#fbf9fc,#fbf9fc,#fbf9fc,#fbf9fc,#fbf9fc,#fbf9fc,#fdf9f8,#fbf9fc,#fbf9fc,#fbf9fc,#fdf9f8,#fdf9f8,#f7f7fe,#eef,#ccf,#ddf,#eef,#f7f7fe,#fdf9f8,#fee,#fee,#fee,#fdf9f8,#fdf9f8,#fbf9fc)"></div><div style="height:4px;background:linear-gradient(90deg,#fbf9fc,#fbf9fc,#fbf9fc,#fbf9fc,#fbf9fc,#f7f7fe,#f7f7fe,#f7f7fe,#f7f7fe,#eef,#f7f7fe,#f7f7fe,#eef,#eef,#f7f7fe,#fdf9f8,#fee,#fdf9f8,#f7f7fe,#f7f7fe,#fbf9fc,#fbf9fc,#fbf9fc,#fbf9fc,#fbf9fc,#fdf9f8,#fee,#fdd,#fee,#fdf9f8,#fbf9fc,#fdf9f8,#fdf9f8,#fee,#fee,#fee,#fbf9fc,#fbf9fc,#fbf9fc,#fbf9fc,#fdf9f8,#fee,#fdd,#fdd,#fee,#fee,#fee,#fee,#fbf9fc,#f7f7fe,#fdf9f8,#fee,#fdf9f8,#fbf9fc,#fbf9fc,#fbf9fc,#fdf9f8,#fbf9fc,#fbf9fc,#f7f7fe,#f7f7fe,#f7f7fe,#fbf9fc,#fbf9fc,#fdf9f8,#fdf9f8,#fdf9f8,#fdf9f8,#fbf9fc,#fbf9fc,#fdf9f8,#fee,#fdf9f8,#fbf9fc,#fdf9f8,#fee,#fee,#fbf9fc,#f7f7fe,#eef,#eef,#f7f7fe,#fbf9fc,#fbf9fc,#fee,#fee,#fee,#fee,#fdf9f8,#fbf9fc)"></div><div style="height:4px;background:linear-gradient(90deg,#fbf9fc,#fbf9fc,#fbf9fc,#fbf9fc,#f7f7fe,#eef,#ddf,#f7f7fe,#eef,#eef,#f7f7fe,#f7f7fe,#ddf,#ccf,#eef,#fbf9fc,#fbf9fc,#fbf9fc,#fbf9fc,#fbf9fc,#fbf9fc,#fbf9fc,#fbf9fc,#fbf9fc,#fbf9fc,#fbf9fc,#fdf9f8,#fee,#fdf9f8,#fdf9f8,#fdf9f8,#fdf9f8,#fdf9f8,#fee,#fee,#fee,#fdf9f8,#fdf9f8,#fdf9f8,#fbf9fc,#fdf9f8,#fdf9f8,#fdf9f8,#fdf9f8,#fdf9f8,#fee,#fdd,#fee,#fbf9fc,#fdf9f8,#fee,#fee,#fbf9fc,#eef,#f7f7fe,#fee,#fee,#fdf9f8,#fbf9fc,#f7f7fe,#f7f7fe,#fbf9fc,#fbf9fc,#fbf9fc,#fdf9f8,#fdf9f8,#fdf9f8,#fdf9f8,#fdf9f8,#fdf9f8,#fdf9f8,#fee,#fdf9f8,#fbf9fc,#fdf9f8,#fee,#fee,#fdf9f8,#fdf9f8,#fdf9f8,#fbf9fc,#fbf9fc,#fbf9fc,#eef,#f7f7fe,#fee,#fee,#fee,#fdf9f8,#fbf9fc)"></div><div style="height:4px;background:linear-gradient(90deg,#fbf9fc,#fbf9fc,#fbf9fc,#fbf9fc,#eef,#ccf,#ccf,#eef,#eef,#eef,#fee,#fee,#eef,#eef,#f7f7fe,#fbf9fc,#fbf9fc,#fbf9fc,#fbf9fc,#fbf9fc,#fbf9fc,#fbf9fc,#fbf9fc,#fbf9fc,#fbf9fc,#fdf9f8,#fdf9f8,#fdf9f8,#fdf9f8,#fdf9f8,#fdf9f8,#fdf9f8,#fdf9f8,#fdf9f8,#fee,#fdf9f8,#fdf9f8,#fdf9f8,#fdf9f8,#fdf9f8,#fdf9f8,#fdf9f8,#fdf9f8,#fdf9f8,#fbf9fc,#fdf9f8,#fdf9f8,#eef,#eef,#f7f7fe,#fdf9f8,#fdf9f8,#eef,#ddf,#f7f7fe,#fdf9f8,#fee,#fbf9fc,#fbf9fc,#fbf9fc,#fdf9f8,#fee,#fdf9f8,#fbf9fc,#fdf9f8,#fdf9f8,#fdf9f8,#fdf9f8,#fbf9fc,#fbf9fc,#fdf9f8,#fdf9f8,#fdf9f8,#fbf9fc,#fdf9f8,#fee,#fdf9f8,#fbf9fc,#fbf9fc,#fbf9fc,#fbf9fc,#fbf9fc,#fbf9fc,#eef,#eef,#f7f7fe,#eef,#eef,#eef,#f7f7fe)"></div><div style="height:4px;background:linear-gradient(90deg,#fdf9f8,#fdf9f8,#fdf9f8,#fdf9f8,#eef,#ccf,#ccf,#eef,#f7f7fe,#f7f7fe,#fbf9fc,#fbf9fc,#fdf9f8,#fdf9f8,#fdf9f8,#f7f7fe,#f7f7fe,#f7f7fe,#fbf9fc,#fdf9f8,#fee,#fdf9f8,#fdf9f8,#fdf9f8,#fdf9f8,#fdf9f8,#fdf9f8,#fdf9f8,#fdf9f8,#fdf9f8,#fdf9f8,#fee,#fee,#fee,#fee,#fee,#fee,#fee,#fdf9f8,#fdf9f8,#fdf9f8,#fdf9f8,#fdf9f8,#fdf9f8,#fdf9f8,#fbf9fc,#f7f7fe,#eef,#eef,#f7f7fe,#fdf9f8,#fdf9f8,#f7f7fe,#eef,#eef,#eef,#ddf,#eef,#fbf9fc,#fdf9f8,#fee,#fee,#fdf9f8,#fdf9f8,#fdf9f8,#fdf9f8,#fdf9f8,#f7f7fe,#eef,#fbf9fc,#fdf9f8,#fdf9f8,#fdf9f8,#fbf9fc,#fbf9fc,#fbf9fc,#fbf9fc,#fbf9fc,#fbf9fc,#fbf9fc,#fdf9f8,#fee,#fdf9f8,#f7f7fe,#f7f7fe,#eef,#ddf,#ccf,#ddf,#eef)"></div><div style="height:4px;background:linear-gradient(90deg,#fdf9f8,#fee,#fee,#fdd,#fdf9f8,#eef,#eef,#f7f7fe,#fdf9f8,#fdf9f8,#fbf9fc,#fbf9fc,#fdf9f8,#fdf9f8,#f7f7fe,#ddf,#ccf,#ccf,#eef,#fee,#fdd,#fdd,#fee,#fdf9f8,#fdf9f8,#fee,#fee,#fee,#fee,#fee,#fee,#fee,#fee,#fee,#fee,#fee,#fdd,#fee,#fee,#fee,#fee,#fdf9f8,#fdf9f8,#fdf9f8,#fdf9f8,#fdf9f8,#fdf9f8,#fbf9fc,#fbf9fc,#fbf9fc,#f7f7fe,#f7f7fe,#f7f7fe,#f7f7fe,#eef,#ddf,#ddf,#eef,#fdf9f8,#fdf9f8,#fdf9f8,#fee,#fdf9f8,#fdf9f8,#fdf9f8,#fdf9f8,#fdf9f8,#f7f7fe,#eef,#fbf9fc,#fdf9f8,#fdf9f8,#fdf9f8,#fbf9fc,#f7f7fe,#f7f7fe,#f7f7fe,#f7f7fe,#f7f7fe,#fbf9fc,#fbf9fc,#fdf9f8,#fdf9f8,#fbf9fc,#fbf9fc,#f7f7fe,#eef,#ddf,#eef,#f7f7fe)"></div><div style="height:4px;background:linear-gradient(90deg,#fee,#fee,#fdd,#fcc,#fdd,#fee,#fdf9f8,#fdf9f8,#fdf9f8,#fdf9f8,#fdf9f8,#f7f7fe,#f7f7fe,#eef,#ddf,#aaf,#88f,#99f,#ddf,#f7f7fe,#fee,#fee,#fdf9f8,#fdf9f8,#fee,#fee,#fee,#fee,#fee,#fee,#fee,#fee,#fee,#f7f7fe,#fdf9f8,#fdd,#fdd,#fdd,#fee,#fee,#fee,#f7f7fe,#eef,#fbf9fc,#fdf9f8,#fdf9f8,#fdf9f8,#fbf9fc,#fbf9fc,#f7f7fe,#eef,#ddf,#eef,#fbf9fc,#fbf9fc,#f7f7fe,#fbf9fc,#fdf9f8,#fee,#fee,#fee,#fee,#fee,#fee,#fee,#fee,#fee,#fdf9f8,#fdf9f8,#fdf9f8,#fdf9f8,#fbf9fc,#fbf9fc,#f7f7fe,#fbf9fc,#f7f7fe,#f7f7fe,#f7f7fe,#f7f7fe,#f7f7fe,#f7f7fe,#f7f7fe,#f7f7fe,#fbf9fc,#fbf9fc,#fdf9f8,#fdf9f8,#f7f7fe,#f7f7fe,#fbf9fc)"></div><div style="height:4px;background:linear-gradient(90deg,#fee,#fdd,#fcc,#fcc,#fdd,#fee,#fbf9fc,#eef,#eef,#fdf9f8,#fdf9f8,#f7f7fe,#eef,#ddf,#bbf,#aaf,#bbf,#ccf,#ddf,#eef,#f7f7fe,#f7f7fe,#fbf9fc,#fdf9f8,#fee,#fee,#fee,#fdd,#fdd,#fdd,#fdd,#fdd,#fdd,#fdf9f8,#fee,#fdd,#fcc,#fdd,#fee,#fee,#fee,#fdf9f8,#fbf9fc,#fdf9f8,#fdf9f8,#fbf9fc,#f7f7fe,#f7f7fe,#eef,#eef,#eef,#ccf,#eef,#f7f7fe,#fbf9fc,#fdf9f8,#fee,#fee,#fee,#fee,#fdd,#fdd,#fdd,#fdd,#fdd,#fdd,#fee,#fee,#fee,#fdf9f8,#fbf9fc,#f7f7fe,#f7f7fe,#f7f7fe,#fdf9f8,#fdf9f8,#eef,#eef,#eef,#eef,#eef,#eef,#f7f7fe,#f7f7fe,#fbf9fc,#fdf9f8,#fdf9f8,#fdf9f8,#fdf9f8,#fdf9f8)"></div><div style="height:4px;background:linear-gradient(90deg,#fee,#fcc,#faa,#fbb,#fcc,#fdd,#fee,#ddf,#eef,#fdd,#fcc,#fdf9f8,#eef,#ddf,#ccf,#ccf,#ccf,#ddf,#ddf,#eef,#eef,#eef,#f7f7fe,#fdf9f8,#fee,#fee,#fdd,#fdd,#fdd,#fcc,#fcc,#fcc,#fcc,#fcc,#fcc,#fcc,#fcc,#fcc,#fcc,#fdd,#fdd,#fee,#fee,#fdf9f8,#fbf9fc,#eef,#eef,#eef,#eef,#ddf,#ddf,#ddf,#eef,#eef,#f7f7fe,#fdf9f8,#fee,#fee,#fdd,#fcc,#fcc,#fcc,#fcc,#fcc,#fcc,#fcc,#fdd,#fdd,#fee,#fee,#fbf9fc,#eef,#eef,#eef,#f7f7fe,#f7f7fe,#eef,#eef,#f7f7fe,#fdf9f8,#f7f7fe,#eef,#eef,#f7f7fe,#fbf9fc,#fdf9f8,#fdf9f8,#fdf9f8,#fdf9f8,#fdf9f8)"></div><div style="height:4px;background:linear-gradient(90deg,#fdd,#fcc,#faa,#faa,#fbb,#fcc,#fdd,#eef,#eef,#fdd,#fdd,#f7f7fe,#ddf,#ccf,#bbf,#bbf,#bbf,#ccf,#ccf,#ccf,#ccf,#ddf,#eef,#f7f7fe,#fee,#fee,#fdd,#fdd,#fcc,#fcc,#fbb,#fbb,#fbb,#fbb,#fbb,#fbb,#fbb,#fbb,#fcc,#fcc,#fdd,#fee,#fee,#f7f7fe,#eef,#ddf,#ddf,#ccf,#ccf,#ccf,#ccf,#ccf,#ddf,#eef,#eef,#fdf9f8,#fee,#fdd,#fcc,#f99,#f88,#f99,#faa,#faa,#fbb,#fbb,#fcc,#fcc,#fdd,#fee,#f7f7fe,#eef,#ddf,#ddf,#ddf,#ddf,#ddf,#ddf,#eef,#fdf9f8,#f7f7fe,#eef,#eef,#f7f7fe,#fdf9f8,#fee,#fee,#fee,#fee,#fee)"></div><div style="height:4px;background:linear-gradient(90deg,#fdd,#fcc,#fbb,#fbb,#fcc,#fdd,#fee,#f7f7fe,#ddf,#ddf,#eef,#ccf,#bbf,#aaf,#99f,#99f,#99f,#aaf,#bbf,#bbf,#bbf,#ccf,#eef,#f7f7fe,#fdf9f8,#fee,#fdd,#fdd,#fcc,#fbb,#fbb,#fbb,#faa,#faa,#faa,#faa,#fbb,#fbb,#fcc,#fcc,#fdd,#fee,#fbf9fc,#eef,#ccf,#ccf,#bbf,#bbf,#aaf,#aaf,#aaf,#aaf,#bbf,#ddf,#eef,#f7f7fe,#fee,#fdd,#fcc,#faa,#f99,#f88,#f88,#f99,#f99,#faa,#fbb,#fcc,#fdd,#fee,#eef,#ddf,#ccf,#bbf,#bbf,#bbf,#bbf,#bbf,#ccf,#ddf,#ddf,#ddf,#eef,#fbf9fc,#fee,#fdd,#fdd,#fdd,#fdd,#fdd)"></div><div style="height:4px;background:linear-gradient(90deg,#fdd,#fcc,#fbb,#faa,#fcc,#fdd,#fee,#fdf9f8,#eef,#ddf,#ccf,#bbf,#99f,#77f,#77f,#77f,#77f,#88f,#99f,#aaf,#bbf,#ccf,#eef,#eef,#fbf9fc,#fee,#fdd,#fcc,#fbb,#f99,#f99,#faa,#faa,#faa,#faa,#fbb,#fbb,#fbb,#fcc,#fdd,#fdd,#fee,#eef,#bbf,#99f,#99f,#aaf,#aaf,#99f,#88f,#88f,#88f,#aaf,#ccf,#ddf,#eef,#fee,#fdd,#fcc,#faa,#faa,#f99,#f99,#f88,#f88,#f99,#faa,#fcc,#fdd,#fdf9f8,#eef,#ddf,#bbf,#bbf,#aaf,#bbf,#aaf,#aaf,#bbf,#bbf,#ccf,#ddf,#eef,#fee,#fdd,#fcc,#fbb,#fbb,#fbb,#fcc)"></div><div style="height:4px;background:linear-gradient(90deg,#fdd,#fdd,#fcc,#faa,#fcc,#fdd,#fee,#fee,#f7f7fe,#ddf,#ccf,#aaf,#88f,#77f,#66f,#66f,#66f,#77f,#99f,#aaf,#bbf,#ccf,#ddf,#eef,#f7f7fe,#fdf9f8,#fee,#fdd,#fcc,#faa,#f99,#faa,#fbb,#fbb,#fbb,#fbb,#fbb,#fcc,#fcc,#fdd,#fdd,#fdd,#eef,#aaf,#88f,#99f,#aaf,#aaf,#aaf,#88f,#77f,#88f,#99f,#bbf,#ddf,#eef,#fee,#fdd,#fcc,#fbb,#faa,#f99,#f99,#f99,#f99,#f99,#faa,#fcc,#fee,#fbf9fc,#eef,#ccf,#bbf,#bbf,#aaf,#bbf,#aaf,#aaf,#aaf,#bbf,#ccf,#eef,#fee,#fcc,#fbb,#faa,#faa,#faa,#faa,#fbb)"></div><div style="height:4px;background:linear-gradient(90deg,#fee,#fdd,#fdd,#fcc,#fdd,#fee,#f7f7fe,#f7f7fe,#f7f7fe,#eef,#ccf,#bbf,#99f,#88f,#77f,#66f,#66f,#66f,#99f,#aaf,#bbf,#ccf,#ddf,#ddf,#eef,#fbf9fc,#fee,#fee,#fdd,#fcc,#fcc,#fcc,#fcc,#fcc,#fcc,#fcc,#fcc,#fdd,#fdd,#fcc,#fcc,#fee,#f7f7fe,#ddf,#ccf,#bbf,#bbf,#bbf,#ccf,#aaf,#99f,#aaf,#bbf,#ccf,#ddf,#eef,#fdf9f8,#fee,#fdd,#fcc,#fbb,#faa,#faa,#faa,#fbb,#fbb,#faa,#fcc,#fee,#f7f7fe,#eef,#eef,#ddf,#ddf,#bbf,#aaf,#aaf,#aaf,#bbf,#ccf,#ddf,#eef,#fdd,#faa,#f99,#f99,#f99,#f99,#faa,#fbb)"></div><div style="height:4px;background:linear-gradient(90deg,#fee,#fee,#fee,#fdd,#fee,#fdf9f8,#f7f7fe,#f7f7fe,#eef,#eef,#ddf,#ccf,#bbf,#aaf,#aaf,#99f,#99f,#bbf,#ccf,#ddf,#ddf,#ddf,#ddf,#eef,#eef,#f7f7fe,#fdf9f8,#fee,#fee,#fdd,#fdd,#fdd,#fdd,#fdd,#fdd,#fdd,#fdd,#eef,#eef,#fee,#fdd,#fdf9f8,#f7f7fe,#eef,#ddf,#ddf,#ccf,#ccf,#ccf,#ccf,#ccf,#ccf,#ddf,#ddf,#eef,#eef,#fdf9f8,#fee,#fdd,#fdd,#fcc,#fcc,#fbb,#fbb,#fcc,#fcc,#fbb,#fdd,#fdf9f8,#f7f7fe,#eef,#fbf9fc,#fdf9f8,#eef,#ccf,#bbf,#bbf,#ccf,#ddf,#ddf,#ddf,#f7f7fe,#fdd,#fbb,#fbb,#faa,#faa,#faa,#faa,#fbb)"></div><div style="height:4px;background:linear-gradient(90deg,#fee,#fee,#fee,#fee,#fee,#fee,#fdf9f8,#f7f7fe,#f7f7fe,#eef,#f7f7fe,#eef,#ddf,#ccf,#bbf,#bbf,#ccf,#ddf,#eef,#ddf,#ddf,#ddf,#ddf,#eef,#eef,#f7f7fe,#fdf9f8,#fdf9f8,#fee,#fee,#fee,#fee,#fee,#fee,#fdf9f8,#fee,#fee,#eef,#eef,#fdf9f8,#fdf9f8,#fdf9f8,#fbf9fc,#f7f7fe,#eef,#eef,#ddf,#ddf,#ddf,#ddf,#ddf,#ddf,#eef,#eef,#ddf,#eef,#fbf9fc,#fee,#fee,#fee,#fee,#fdd,#fdd,#fdd,#fdd,#fee,#fee,#fee,#fdf9f8,#f7f7fe,#eef,#eef,#eef,#eef,#ddf,#ddf,#ddf,#eef,#eef,#eef,#eef,#f7f7fe,#fee,#fdd,#fcc,#fcc,#fbb,#fbb,#fbb,#fcc)"></div><div style="height:4px;background:linear-gradient(90deg,#fdf9f8,#fdf9f8,#f7f7fe,#eef,#fdf9f8,#fdf9f8,#fdf9f8,#f7f7fe,#f7f7fe,#eef,#eef,#eef,#ddf,#ddf,#ccf,#ccf,#ddf,#ddf,#ddf,#ddf,#ddf,#eef,#eef,#eef,#f7f7fe,#f7f7fe,#fdf9f8,#fdf9f8,#fee,#fee,#fdf9f8,#fee,#fee,#fdf9f8,#eef,#f7f7fe,#fdf9f8,#eef,#eef,#fbf9fc,#fee,#fdf9f8,#fdf9f8,#f7f7fe,#eef,#eef,#eef,#eef,#eef,#eef,#eef,#eef,#eef,#eef,#ddf,#eef,#fbf9fc,#fdf9f8,#fee,#fee,#fee,#fee,#fee,#fee,#fee,#fbf9fc,#eef,#fbf9fc,#fbf9fc,#fdf9f8,#fdf9f8,#f7f7fe,#eef,#eef,#eef,#eef,#eef,#eef,#eef,#eef,#eef,#f7f7fe,#fdf9f8,#fee,#fee,#fdd,#fdd,#fdd,#fdd,#fdd)"></div><div style="height:4px;background:linear-gradient(90deg,#fdf9f8,#fdf9f8,#f7f7fe,#fbf9fc,#fdd,#fdf9f8,#fbf9fc,#f7f7fe,#f7f7fe,#f7f7fe,#eef,#eef,#eef,#ddf,#ccf,#ddf,#ddf,#eef,#eef,#eef,#eef,#eef,#eef,#f7f7fe,#f7f7fe,#fbf9fc,#fee,#fdd,#fdd,#fee,#fdf9f8,#fdf9f8,#fdf9f8,#fdf9f8,#fdf9f8,#fdf9f8,#eef,#ddf,#ddf,#fdf9f8,#fdd,#fee,#fdf9f8,#f7f7fe,#eef,#eef,#eef,#eef,#f7f7fe,#f7f7fe,#f7f7fe,#f7f7fe,#f7f7fe,#f7f7fe,#f7f7fe,#f7f7fe,#fdf9f8,#fee,#fee,#fee,#fdf9f8,#fdf9f8,#fdf9f8,#fdf9f8,#fdf9f8,#f7f7fe,#eef,#eef,#eef,#fdf9f8,#fee,#fdf9f8,#f7f7fe,#eef,#eef,#f7f7fe,#f7f7fe,#eef,#f7f7fe,#f7f7fe,#fbf9fc,#fdf9f8,#fdf9f8,#fdf9f8,#fee,#fee,#fee,#fee,#fee,#fee)"></div><div style="height:4px;background:linear-gradient(90deg,#fbf9fc,#fbf9fc,#f7f7fe,#fee,#fdd,#fdf9f8,#fbf9fc,#f7f7fe,#f7f7fe,#f7f7fe,#f7f7fe,#eef,#eef,#ccf,#bbf,#ddf,#eef,#eef,#eef,#eef,#eef,#f7f7fe,#f7f7fe,#f7f7fe,#f7f7fe,#fdf9f8,#fdd,#fcc,#fcc,#fee,#fdf9f8,#fdf9f8,#fdf9f8,#fdf9f8,#fdf9f8,#fdf9f8,#f7f7fe,#ddf,#eef,#fdf9f8,#fee,#fee,#fdf9f8,#f7f7fe,#ddf,#ddf,#eef,#ddf,#eef,#f7f7fe,#fbf9fc,#fbf9fc,#fbf9fc,#fbf9fc,#fbf9fc,#fbf9fc,#fbf9fc,#fdf9f8,#fdf9f8,#fdf9f8,#fdf9f8,#fdf9f8,#fdf9f8,#fdf9f8,#fdf9f8,#fdf9f8,#fdf9f8,#f7f7fe,#eef,#f7f7fe,#fdf9f8,#fbf9fc,#f7f7fe,#f7f7fe,#f7f7fe,#f7f7fe,#f7f7fe,#f7f7fe,#f7f7fe,#f7f7fe,#fbf9fc,#fdf9f8,#fdf9f8,#fdf9f8,#fdf9f8,#fdf9f8,#f7f7fe,#eef,#f7f7fe,#fdf9f8)"></div><div style="height:4px;background:linear-gradient(90deg,#fdf9f8,#fee,#fee,#f7f7fe,#fbf9fc,#fbf9fc,#fbf9fc,#fbf9fc,#fbf9fc,#f7f7fe,#f7f7fe,#eef,#eef,#ddf,#ddf,#eef,#f7f7fe,#f7f7fe,#f7f7fe,#eef,#eef,#f7f7fe,#f7f7fe,#f7f7fe,#f7f7fe,#fdf9f8,#fee,#fee,#fee,#fdf9f8,#fbf9fc,#fbf9fc,#fdf9f8,#fdf9f8,#fdf9f8,#fdf9f8,#fbf9fc,#f7f7fe,#f7f7fe,#f7f7fe,#fbf9fc,#fbf9fc,#fbf9fc,#f7f7fe,#eef,#eef,#f7f7fe,#eef,#f7f7fe,#f7f7fe,#fbf9fc,#fbf9fc,#fbf9fc,#fbf9fc,#fbf9fc,#fbf9fc,#fbf9fc,#fbf9fc,#fbf9fc,#f7f7fe,#eef,#fbf9fc,#fbf9fc,#fbf9fc,#fdf9f8,#fee,#fdd,#fdd,#fee,#fdf9f8,#fbf9fc,#fbf9fc,#fbf9fc,#fbf9fc,#fbf9fc,#fbf9fc,#fbf9fc,#fbf9fc,#fbf9fc,#fdf9f8,#fee,#fdf9f8,#fbf9fc,#f7f7fe,#eef,#eef,#eef,#eef,#f7f7fe,#fbf9fc)"></div><div style="height:4px;background:linear-gradient(90deg,#fdf9f8,#fee,#fee,#fbf9fc,#fbf9fc,#f7f7fe,#eef,#f7f7fe,#fbf9fc,#fbf9fc,#f7f7fe,#ddf,#ddf,#eef,#eef,#f7f7fe,#f7f7fe,#f7f7fe,#f7f7fe,#eef,#eef,#eef,#eef,#f7f7fe,#f7f7fe,#fbf9fc,#fdf9f8,#fdf9f8,#fbf9fc,#fbf9fc,#f7f7fe,#f7f7fe,#f7f7fe,#fdf9f8,#fdf9f8,#f7f7fe,#eef,#ddf,#ddf,#eef,#f7f7fe,#f7f7fe,#fbf9fc,#f7f7fe,#eef,#eef,#f7f7fe,#fbf9fc,#fbf9fc,#fbf9fc,#fbf9fc,#fbf9fc,#fbf9fc,#fbf9fc,#fbf9fc,#fbf9fc,#fbf9fc,#fbf9fc,#f7f7fe,#ddf,#ddf,#f7f7fe,#fbf9fc,#fbf9fc,#fbf9fc,#fdf9f8,#fdf9f8,#fdf9f8,#fdf9f8,#fbf9fc,#fbf9fc,#fbf9fc,#fbf9fc,#fbf9fc,#fbf9fc,#fbf9fc,#fbf9fc,#fbf9fc,#fbf9fc,#fee,#fdd,#fdf9f8,#f7f7fe,#eef,#ccf,#ddf,#eef,#fbf9fc,#fdf9f8,#fdf9f8)"></div><div style="height:4px;background:linear-gradient(90deg,#fbf9fc,#fdf9f8,#fdf9f8,#fdf9f8,#fbf9fc,#eef,#ddf,#eef,#f7f7fe,#fbf9fc,#f7f7fe,#eef,#eef,#f7f7fe,#fbf9fc,#fbf9fc,#fbf9fc,#fbf9fc,#fbf9fc,#f7f7fe,#eef,#f7f7fe,#f7f7fe,#f7f7fe,#fbf9fc,#fbf9fc,#fbf9fc,#fbf9fc,#fdf9f8,#fdf9f8,#f7f7fe,#f7f7fe,#fbf9fc,#fee,#fee,#fbf9fc,#eef,#eef,#eef,#eef,#f7f7fe,#fbf9fc,#fee,#fdf9f8,#eef,#ddf,#eef,#fbf9fc,#fbf9fc,#fbf9fc,#fbf9fc,#fbf9fc,#fbf9fc,#fbf9fc,#fbf9fc,#fbf9fc,#fbf9fc,#fbf9fc,#fbf9fc,#f7f7fe,#eef,#f7f7fe,#fbf9fc,#fbf9fc,#fdf9f8,#fee,#fee,#fee,#fdf9f8,#fbf9fc,#fbf9fc,#fbf9fc,#fbf9fc,#f7f7fe,#fbf9fc,#fbf9fc,#fbf9fc,#fbf9fc,#fbf9fc,#fdf9f8,#fdf9f8,#fbf9fc,#f7f7fe,#eef,#eef,#eef,#fdf9f8,#fee,#fee,#fdf9f8)"></div><div style="height:4px;background:linear-gradient(90deg,#fdf9f8,#fdf9f8,#fee,#fee,#fdf9f8,#eef,#ddf,#ddf,#eef,#f7f7fe,#f7f7fe,#f7f7fe,#f7f7fe,#fbf9fc,#fbf9fc,#f7f7fe,#f7f7fe,#fbf9fc,#fbf9fc,#fbf9fc,#f7f7fe,#f7f7fe,#eef,#eef,#f7f7fe,#fdf9f8,#fdf9f8,#fdf9f8,#fee,#fee,#fee,#fdf9f8,#fee,#fdd,#fee,#fbf9fc,#f7f7fe,#f7f7fe,#f7f7fe,#fbf9fc,#fbf9fc,#fdf9f8,#fee,#fee,#f7f7fe,#eef,#f7f7fe,#f7f7fe,#f7f7fe,#fbf9fc,#fbf9fc,#fbf9fc,#fbf9fc,#fbf9fc,#fbf9fc,#fbf9fc,#fbf9fc,#fbf9fc,#fbf9fc,#fbf9fc,#fbf9fc,#fbf9fc,#fbf9fc,#fbf9fc,#fdf9f8,#fee,#fee,#fee,#fdf9f8,#fbf9fc,#fdf9f8,#fee,#fee,#fbf9fc,#fbf9fc,#fbf9fc,#fbf9fc,#fdf9f8,#fdf9f8,#fbf9fc,#fbf9fc,#f7f7fe,#fbf9fc,#fbf9fc,#fbf9fc,#fbf9fc,#fbf9fc,#fdf9f8,#fdf9f8,#fbf9fc)"></div><div style="height:4px;background:linear-gradient(90deg,#fbf9fc,#fdf9f8,#fee,#fee,#fdf9f8,#eef,#ddf,#ddf,#ddf,#eef,#f7f7fe,#fbf9fc,#fbf9fc,#fbf9fc,#f7f7fe,#eef,#eef,#f7f7fe,#fbf9fc,#fbf9fc,#f7f7fe,#eef,#ddf,#ddf,#eef,#f7f7fe,#fdf9f8,#fdf9f8,#fee,#fdd,#fee,#fdf9f8,#fdf9f8,#fdf9f8,#f7f7fe,#ddf,#ccf,#ddf,#fdf9f8,#fee,#f7f7fe,#f7f7fe,#fdf9f8,#fdf9f8,#fbf9fc,#f7f7fe,#eef,#f7f7fe,#f7f7fe,#f7f7fe,#fbf9fc,#fbf9fc,#fbf9fc,#fbf9fc,#fbf9fc,#fbf9fc,#fbf9fc,#fbf9fc,#fbf9fc,#fbf9fc,#fbf9fc,#fbf9fc,#fbf9fc,#fbf9fc,#f7f7fe,#f7f7fe,#fdf9f8,#fdf9f8,#fdf9f8,#fbf9fc,#fbf9fc,#fdf9f8,#fdf9f8,#fbf9fc,#fbf9fc,#fbf9fc,#fdf9f8,#fee,#fee,#fdf9f8,#eef,#eef,#fdf9f8,#fdf9f8,#fdf9f8,#fbf9fc,#fdf9f8,#fdf9f8,#fbf9fc,#fbf9fc)"></div><div style="height:4px;background:linear-gradient(90deg,#f7f7fe,#f7f7fe,#fbf9fc,#fbf9fc,#fbf9fc,#f7f7fe,#eef,#eef,#eef,#f7f7fe,#f7f7fe,#f7f7fe,#f7f7fe,#f7f7fe,#f7f7fe,#eef,#eef,#eef,#f7f7fe,#fbf9fc,#f7f7fe,#f7f7fe,#eef,#ddf,#eef,#f7f7fe,#fbf9fc,#fbf9fc,#fdf9f8,#fdf9f8,#fdf9f8,#fdf9f8,#fbf9fc,#fbf9fc,#f7f7fe,#eef,#eef,#eef,#fee,#fee,#fdf9f8,#fbf9fc,#fbf9fc,#fbf9fc,#fbf9fc,#f7f7fe,#f7f7fe,#fdf9f8,#fdf9f8,#fdf9f8,#fdf9f8,#fbf9fc,#fbf9fc,#eef,#eef,#f7f7fe,#f7f7fe,#fbf9fc,#fbf9fc,#fbf9fc,#fbf9fc,#fbf9fc,#fbf9fc,#fbf9fc,#f7f7fe,#f7f7fe,#fbf9fc,#fbf9fc,#fbf9fc,#f7f7fe,#eef,#eef,#f7f7fe,#fbf9fc,#fdf9f8,#fee,#fee,#fee,#fee,#fdf9f8,#fdf9f8,#fee,#fdd,#fee,#fee,#fdf9f8,#fdf9f8,#fee,#fdf9f8,#fbf9fc)"></div><div style="height:4px;background:linear-gradient(90deg,#f7f7fe,#eef,#eef,#f7f7fe,#fbf9fc,#fbf9fc,#fbf9fc,#fdf9f8,#fdf9f8,#fbf9fc,#f7f7fe,#f7f7fe,#f7f7fe,#fbf9fc,#f7f7fe,#f7f7fe,#f7f7fe,#eef,#eef,#f7f7fe,#fbf9fc,#fdf9f8,#fdf9f8,#f7f7fe,#f7f7fe,#fbf9fc,#f7f7fe,#eef,#eef,#f7f7fe,#fbf9fc,#fbf9fc,#f7f7fe,#eef,#eef,#ddf,#ddf,#eef,#f7f7fe,#fbf9fc,#fbf9fc,#fbf9fc,#fbf9fc,#fbf9fc,#fbf9fc,#fbf9fc,#fbf9fc,#fdf9f8,#fdf9f8,#fdf9f8,#fbf9fc,#fbf9fc,#f7f7fe,#eef,#ddf,#eef,#f7f7fe,#fbf9fc,#fbf9fc,#fbf9fc,#fbf9fc,#fbf9fc,#fbf9fc,#fbf9fc,#fbf9fc,#fbf9fc,#fbf9fc,#fbf9fc,#fbf9fc,#f7f7fe,#eef,#eef,#f7f7fe,#fbf9fc,#fdf9f8,#fee,#fee,#fee,#fdf9f8,#fdf9f8,#fdf9f8,#fdf9f8,#fee,#fdf9f8,#fdf9f8,#fbf9fc,#fdf9f8,#fee,#fdf9f8,#fbf9fc)"></div><div style="height:4px;background:linear-gradient(90deg,#f7f7fe,#f7f7fe,#f7f7fe,#f7f7fe,#fbf9fc,#fbf9fc,#fbf9fc,#fbf9fc,#fbf9fc,#fbf9fc,#fbf9fc,#fbf9fc,#fbf9fc,#fbf9fc,#fbf9fc,#fbf9fc,#fbf9fc,#f7f7fe,#f7f7fe,#fbf9fc,#fbf9fc,#fdf9f8,#fdf9f8,#fbf9fc,#fdf9f8,#fdf9f8,#fbf9fc,#f7f7fe,#eef,#f7f7fe,#fbf9fc,#fbf9fc,#f7f7fe,#ddf,#ccf,#ddf,#eef,#eef,#f7f7fe,#fbf9fc,#fbf9fc,#fbf9fc,#fbf9fc,#fbf9fc,#fbf9fc,#fbf9fc,#fbf9fc,#fbf9fc,#fbf9fc,#fbf9fc,#fbf9fc,#fdf9f8,#fdf9f8,#eef,#eef,#f7f7fe,#fbf9fc,#fdf9f8,#fbf9fc,#fbf9fc,#fbf9fc,#fbf9fc,#fbf9fc,#fbf9fc,#fbf9fc,#fbf9fc,#fbf9fc,#fbf9fc,#fbf9fc,#f7f7fe,#eef,#eef,#f7f7fe,#fbf9fc,#fbf9fc,#fbf9fc,#fbf9fc,#fbf9fc,#fbf9fc,#fbf9fc,#fbf9fc,#fbf9fc,#fbf9fc,#fbf9fc,#fbf9fc,#fbf9fc,#fbf9fc,#fdf9f8,#fbf9fc,#fbf9fc)"></div><div style="height:4px;background:linear-gradient(90deg,#fbf9fc,#fbf9fc,#fbf9fc,#fbf9fc,#fbf9fc,#fbf9fc,#fbf9fc,#f7f7fe,#f7f7fe,#f7f7fe,#fbf9fc,#fbf9fc,#fdf9f8,#fdf9f8,#fbf9fc,#fbf9fc,#fbf9fc,#fbf9fc,#fbf9fc,#fbf9fc,#fbf9fc,#fbf9fc,#fbf9fc,#fbf9fc,#fbf9fc,#fdf9f8,#fbf9fc,#fbf9fc,#fdf9f8,#fdf9f8,#fbf9fc,#fbf9fc,#fbf9fc,#f7f7fe,#f7f7fe,#f7f7fe,#f7f7fe,#fbf9fc,#fbf9fc,#fdf9f8,#fdf9f8,#fdf9f8,#fdf9f8,#fbf9fc,#fbf9fc,#fbf9fc,#fbf9fc,#fbf9fc,#fbf9fc,#fbf9fc,#fbf9fc,#fdf9f8,#fdf9f8,#fbf9fc,#f7f7fe,#f7f7fe,#fbf9fc,#fbf9fc,#f7f7fe,#fbf9fc,#fbf9fc,#fbf9fc,#fbf9fc,#fbf9fc,#fbf9fc,#fbf9fc,#fbf9fc,#fbf9fc,#fbf9fc,#fbf9fc,#fbf9fc,#fbf9fc,#fbf9fc,#fbf9fc,#fbf9fc,#fbf9fc,#fbf9fc,#fbf9fc,#fbf9fc,#fbf9fc,#fbf9fc,#fbf9fc,#fbf9fc,#fbf9fc,#fbf9fc,#f7f7fe,#f7f7fe,#f7f7fe,#fbf9fc,#fbf9fc)"></div><div style="height:4px;background:linear-gradient(90deg,#fbf9fc,#fbf9fc,#fbf9fc,#fbf9fc,#fbf9fc,#fbf9fc,#f7f7fe,#f7f7fe,#f7f7fe,#fbf9fc,#fdf9f8,#fdf9f8,#fdf9f8,#fdf9f8,#fdf9f8,#fbf9fc,#fbf9fc,#fbf9fc,#fbf9fc,#fbf9fc,#fbf9fc,#fbf9fc,#f7f7fe,#f7f7fe,#f7f7fe,#f7f7fe,#f7f7fe,#fbf9fc,#fdf9f8,#fdf9f8,#f7f7fe,#f7f7fe,#fbf9fc,#fbf9fc,#fbf9fc,#fbf9fc,#fbf9fc,#fdf9f8,#fdf9f8,#fdf9f8,#fdf9f8,#fdf9f8,#fdf9f8,#fdf9f8,#fbf9fc,#fbf9fc,#fbf9fc,#fbf9fc,#fbf9fc,#fbf9fc,#fbf9fc,#fbf9fc,#fbf9fc,#f7f7fe,#f7f7fe,#f7f7fe,#f7f7fe,#f7f7fe,#f7f7fe,#f7f7fe,#f7f7fe,#fbf9fc,#fbf9fc,#fbf9fc,#fbf9fc,#fbf9fc,#fdf9f8,#fdf9f8,#fdf9f8,#fdf9f8,#fdf9f8,#fdf9f8,#fdf9f8,#fbf9fc,#fbf9fc,#fbf9fc,#fbf9fc,#fbf9fc,#fbf9fc,#fbf9fc,#f7f7fe,#f7f7fe,#f7f7fe,#f7f7fe,#f7f7fe,#f7f7fe,#f7f7fe,#f7f7fe,#f7f7fe,#f7f7fe)"></div><div style="height:4px;background:linear-gradient(90deg,#fbf9fc,#fbf9fc,#fbf9fc,#fbf9fc,#fbf9fc,#fdf9f8,#fdf9f8,#fdf9f8,#fdf9f8,#fdf9f8,#fee,#fee,#fee,#fee,#fdf9f8,#fdf9f8,#fbf9fc,#fbf9fc,#fbf9fc,#f7f7fe,#f7f7fe,#f7f7fe,#f7f7fe,#eef,#eef,#eef,#eef,#eef,#eef,#eef,#eef,#f7f7fe,#fbf9fc,#fbf9fc,#fdf9f8,#fdf9f8,#fdf9f8,#fdf9f8,#fdf9f8,#fee,#fee,#fee,#fee,#fdf9f8,#fdf9f8,#f7f7fe,#f7f7fe,#f7f7fe,#f7f7fe,#f7f7fe,#f7f7fe,#f7f7fe,#eef,#eef,#eef,#eef,#f7f7fe,#f7f7fe,#eef,#eef,#f7f7fe,#fbf9fc,#fbf9fc,#fdf9f8,#fdf9f8,#fdf9f8,#fdf9f8,#fdf9f8,#fee,#fee,#fee,#fee,#fdf9f8,#fdf9f8,#fbf9fc,#fbf9fc,#fbf9fc,#f7f7fe,#f7f7fe,#f7f7fe,#f7f7fe,#eef,#eef,#eef,#eef,#eef,#eef,#eef,#eef,#f7f7fe)"></div><div style="height:4px;background:linear-gradient(90deg,#fbf9fc,#fbf9fc,#fdf9f8,#fdf9f8,#fdf9f8,#fdf9f8,#fee,#fee,#fee,#fee,#fee,#fee,#fee,#fee,#fee,#fdf9f8,#fbf9fc,#f7f7fe,#f7f7fe,#f7f7fe,#f7f7fe,#eef,#eef,#eef,#eef,#ddf,#ddf,#eef,#eef,#eef,#eef,#f7f7fe,#fbf9fc,#fdf9f8,#fdf9f8,#fee,#fee,#fee,#fee,#fee,#fee,#fee,#fee,#fee,#fdf9f8,#fbf9fc,#f7f7fe,#f7f7fe,#eef,#eef,#eef,#eef,#eef,#ddf,#ddf,#ddf,#eef,#eef,#eef,#eef,#f7f7fe,#fbf9fc,#fdf9f8,#fdf9f8,#fee,#fee,#fee,#fee,#fee,#fee,#fee,#fee,#fee,#fdf9f8,#fbf9fc,#f7f7fe,#f7f7fe,#f7f7fe,#eef,#eef,#eef,#eef,#eef,#eef,#eef,#eef,#eef,#eef,#eef,#f7f7fe)"></div><div style="height:4px;background:linear-gradient(90deg,#fdf9f8,#fdf9f8,#fdf9f8,#fee,#fee,#fee,#fee,#fee,#fdd,#fdd,#fdd,#fdd,#fdd,#fee,#fee,#fdf9f8,#f7f7fe,#f7f7fe,#eef,#eef,#eef,#ddf,#ddf,#ccf,#ccf,#ccf,#ccf,#ddf,#ddf,#ddf,#eef,#f7f7fe,#fdf9f8,#fee,#fee,#fee,#fdd,#fdd,#fdd,#fdd,#fdd,#fdd,#fee,#fee,#fdf9f8,#f7f7fe,#f7f7fe,#eef,#eef,#eef,#ddf,#ddf,#ccf,#ccf,#ccf,#ddf,#ddf,#ddf,#eef,#eef,#f7f7fe,#fdf9f8,#fee,#fee,#fee,#fdd,#fdd,#fdd,#fdd,#fdd,#fdd,#fee,#fee,#fbf9fc,#f7f7fe,#f7f7fe,#eef,#eef,#eef,#ddf,#ddf,#ccf,#ccf,#ddf,#ddf,#ddf,#ddf,#ddf,#eef,#f7f7fe)"></div><div style="height:4px;background:linear-gradient(90deg,#fdf9f8,#fee,#fee,#fee,#fdd,#fdd,#fdd,#fcc,#fcc,#fcc,#fcc,#fdd,#fdd,#fee,#fdf9f8,#f7f7fe,#eef,#eef,#ddf,#ddf,#ddf,#ccf,#ccf,#bbf,#bbf,#bbf,#ccf,#ccf,#ddf,#eef,#eef,#fdf9f8,#fee,#fdd,#fdd,#fdd,#fcc,#fcc,#fcc,#fcc,#fdd,#fdd,#fee,#fdf9f8,#f7f7fe,#eef,#eef,#ddf,#ddf,#ccf,#ccf,#ccf,#bbf,#bbf,#bbf,#ccf,#ddf,#eef,#eef,#eef,#fdf9f8,#fee,#fdd,#fdd,#fdd,#fcc,#fcc,#fcc,#fcc,#fcc,#fdd,#fee,#fdf9f8,#f7f7fe,#eef,#eef,#ddf,#ddf,#ccf,#ccf,#ccf,#bbf,#bbf,#ccf,#ccf,#ccf,#ddf,#eef,#eef,#fdf9f8)"></div><div style="height:4px;background:linear-gradient(90deg,#fee,#fdd,#fdd,#fcc,#fcc,#fcc,#fbb,#fbb,#fbb,#fcc,#fcc,#fdd,#fee,#fdf9f8,#f7f7fe,#eef,#ddf,#ddf,#ccf,#ccf,#bbf,#bbf,#bbf,#aaf,#bbf,#bbf,#ccf,#ccf,#ddf,#f7f7fe,#fdf9f8,#fdd,#fdd,#fcc,#fbb,#fbb,#fbb,#fbb,#fcc,#fdd,#fdd,#fee,#fdf9f8,#f7f7fe,#eef,#ddf,#ddf,#ccf,#ccf,#bbf,#bbf,#bbf,#aaf,#bbf,#bbf,#ccf,#ddf,#f7f7fe,#fbf9fc,#fee,#fdd,#fdd,#fcc,#fcc,#fbb,#fbb,#fbb,#fcc,#fcc,#fdd,#fee,#fdf9f8,#eef,#eef,#ddf,#ddf,#ccf,#bbf,#bbf,#bbf,#aaf,#bbf,#bbf,#bbf,#ccf,#ddf,#eef,#f7f7fe,#fee,#fdd)"></div><div style="height:4px;background:linear-gradient(90deg,#fdd,#fcc,#fbb,#fbb,#faa,#faa,#faa,#fbb,#fbb,#fcc,#fdd,#fee,#f7f7fe,#eef,#ddf,#ccf,#ccf,#bbf,#bbf,#aaf,#aaf,#aaf,#aaf,#bbf,#bbf,#ccf,#ddf,#eef,#fdf9f8,#fee,#fdd,#fcc,#fbb,#faa,#faa,#faa,#fbb,#fbb,#fcc,#fdd,#fee,#f7f7fe,#eef,#ddf,#ccf,#ccf,#bbf,#bbf,#aaf,#aaf,#aaf,#aaf,#bbf,#bbf,#ccf,#ddf,#eef,#fee,#fdd,#fdd,#fcc,#fbb,#faa,#faa,#faa,#fbb,#fbb,#fcc,#fdd,#fee,#f7f7fe,#eef,#ddf,#ccf,#ccf,#bbf,#bbf,#aaf,#aaf,#aaf,#aaf,#bbf,#ccf,#ddf,#ddf,#eef,#fdf9f8,#fee,#fdd,#fbb)"></div><div style="height:4px;background:linear-gradient(90deg,#fbb,#faa,#faa,#faa,#faa,#faa,#faa,#fbb,#fcc,#fdd,#fdf9f8,#eef,#ddf,#ccf,#bbf,#bbf,#aaf,#aaf,#aaf,#aaf,#aaf,#bbf,#bbf,#ccf,#ddf,#eef,#fdf9f8,#fee,#fcc,#fbb,#faa,#faa,#f99,#f99,#faa,#faa,#fbb,#fcc,#fdd,#fdf9f8,#eef,#ddf,#ccf,#bbf,#bbf,#aaf,#aaf,#aaf,#bbf,#bbf,#bbf,#bbf,#ccf,#ddf,#eef,#fdf9f8,#fdd,#fcc,#fbb,#faa,#faa,#f99,#f99,#faa,#faa,#fbb,#fcc,#fdd,#fdf9f8,#eef,#ddf,#ccf,#bbf,#bbf,#aaf,#aaf,#aaf,#aaf,#aaf,#bbf,#bbf,#ccf,#ddf,#eef,#fee,#fdd,#fcc,#fbb,#faa,#faa)"></div><div style="height:4px;background:linear-gradient(90deg,#f99,#f99,#f99,#f99,#faa,#faa,#fbb,#fcc,#fdd,#fdf9f8,#eef,#ccf,#bbf,#aaf,#aaf,#99f,#99f,#aaf,#aaf,#bbf,#bbf,#ccf,#ddf,#eef,#fdf9f8,#fdd,#fcc,#fbb,#faa,#f99,#f99,#f88,#f88,#f99,#faa,#fbb,#fcc,#fee,#fdf9f8,#eef,#ccf,#bbf,#aaf,#aaf,#99f,#99f,#aaf,#aaf,#bbf,#ccf,#ccf,#ddf,#eef,#f7f7fe,#fdd,#fcc,#fbb,#faa,#f99,#f99,#f88,#f88,#f99,#faa,#fbb,#fcc,#fee,#fbf9fc,#ddf,#ccf,#bbf,#aaf,#aaf,#99f,#99f,#aaf,#aaf,#bbf,#bbf,#ccf,#ddf,#eef,#fee,#fdd,#fcc,#fbb,#faa,#f99,#f99,#f88)"></div><div style="height:4px;background:linear-gradient(90deg,#f88,#f88,#f88,#f99,#fbb,#fbb,#fcc,#fee,#fbf9fc,#ddf,#ccf,#aaf,#99f,#99f,#99f,#aaf,#aaf,#bbf,#bbf,#ccf,#ddf,#eef,#fbf9fc,#fee,#fcc,#fbb,#f99,#f99,#f88,#f88,#f88,#f88,#f99,#faa,#fbb,#fcc,#fee,#fbf9fc,#ddf,#ccf,#aaf,#99f,#99f,#99f,#aaf,#aaf,#bbf,#bbf,#ccf,#ddf,#eef,#fdf9f8,#fee,#fcc,#faa,#f99,#f99,#f88,#f88,#f88,#f88,#f99,#faa,#fbb,#fcc,#fee,#f7f7fe,#ddf,#ccf,#aaf,#99f,#99f,#99f,#aaf,#aaf,#bbf,#bbf,#ccf,#ddf,#eef,#fdf9f8,#fdd,#fcc,#faa,#f99,#f88,#f88,#f88,#f88,#f88)"></div><div style="height:4px;background:linear-gradient(90deg,#f77,#f88,#f99,#faa,#fbb,#fdd,#fee,#fbf9fc,#ddf,#bbf,#aaf,#99f,#99f,#aaf,#aaf,#bbf,#ccf,#ccf,#ddf,#eef,#f7f7fe,#fee,#fdd,#fbb,#faa,#f88,#f77,#f77,#f77,#f77,#f88,#f99,#faa,#fbb,#fdd,#fee,#f7f7fe,#ddf,#ccf,#aaf,#99f,#99f,#aaf,#aaf,#bbf,#ccf,#ccf,#ddf,#eef,#f7f7fe,#fee,#fdd,#fbb,#faa,#f88,#f77,#f77,#f77,#f77,#f88,#f99,#faa,#fbb,#fdd,#fee,#f7f7fe,#ddf,#ccf,#aaf,#99f,#99f,#aaf,#aaf,#bbf,#ccf,#ddf,#ddf,#eef,#fbf9fc,#fee,#fdd,#fbb,#faa,#f88,#f77,#f77,#f77,#f77,#f88,#f99)"></div><div style="height:4px;background:linear-gradient(90deg,#f88,#f99,#faa,#fcc,#fdd,#fee,#f7f7fe,#ddf,#ccf,#aaf,#99f,#99f,#aaf,#bbf,#ccf,#ddf,#ddf,#eef,#f7f7fe,#fee,#fdd,#fcc,#fbb,#f99,#f88,#f77,#f66,#f77,#f77,#f88,#f99,#fbb,#fcc,#fdd,#fee,#f7f7fe,#ddf,#ccf,#aaf,#99f,#99f,#aaf,#bbf,#ccf,#ccf,#ddf,#eef,#f7f7fe,#fee,#fdd,#fcc,#fbb,#f99,#f88,#f77,#f66,#f77,#f77,#f88,#faa,#fbb,#fcc,#fdd,#fee,#f7f7fe,#ddf,#ccf,#aaf,#99f,#99f,#aaf,#bbf,#ccf,#eef,#eef,#f7f7fe,#fbf9fc,#fee,#fdd,#fcc,#fbb,#f99,#f88,#f66,#f66,#f77,#f77,#f88,#faa,#fbb)"></div><div style="height:4px;background:linear-gradient(90deg,#faa,#fbb,#fcc,#fdd,#fee,#f7f7fe,#ddf,#ccf,#bbf,#aaf,#99f,#aaf,#bbf,#ddf,#eef,#eef,#f7f7fe,#fee,#fee,#fdd,#fcc,#faa,#f99,#f88,#f77,#f66,#f77,#f88,#f99,#faa,#fbb,#fcc,#fdd,#fee,#f7f7fe,#ddf,#ccf,#aaf,#aaf,#aaf,#aaf,#ccf,#ddf,#eef,#eef,#eef,#fbf9fc,#fee,#fdd,#fcc,#faa,#f99,#f88,#f77,#f66,#f77,#f88,#f99,#faa,#fbb,#fcc,#fdd,#fee,#f7f7fe,#ddf,#ccf,#aaf,#aaf,#aaf,#aaf,#ccf,#ddf,#eef,#fdf9f8,#fee,#fee,#fee,#fdd,#fcc,#faa,#f99,#f88,#f77,#f66,#f77,#f88,#f99,#faa,#fbb,#fcc)"></div><div style="height:4px;background:linear-gradient(90deg,#fcc,#fdd,#fee,#fee,#f7f7fe,#eef,#ccf,#bbf,#aaf,#aaf,#aaf,#ccf,#ddf,#eef,#fbf9fc,#fee,#fee,#fdd,#fcc,#fcc,#faa,#f99,#f88,#f88,#f77,#f88,#f88,#faa,#fbb,#fcc,#fdd,#fee,#fee,#f7f7fe,#eef,#ccf,#bbf,#aaf,#aaf,#bbf,#ccf,#ddf,#eef,#fbf9fc,#fdf9f8,#fee,#fee,#fdd,#fcc,#faa,#f99,#f88,#f88,#f77,#f88,#f88,#faa,#fbb,#fcc,#fdd,#fee,#fee,#f7f7fe,#ddf,#ccf,#aaf,#99f,#aaf,#bbf,#ccf,#ddf,#f7f7fe,#fdf9f8,#fee,#fdd,#fdd,#fcc,#fbb,#faa,#f99,#f88,#f88,#f77,#f88,#f99,#faa,#fbb,#fcc,#fdd,#fee)"></div><div style="height:4px;background:linear-gradient(90deg,#fdd,#fee,#fdf9f8,#f7f7fe,#eef,#ddf,#bbf,#aaf,#aaf,#bbf,#ccf,#ddf,#f7f7fe,#fee,#fee,#fdd,#fcc,#fcc,#fbb,#faa,#faa,#f99,#f88,#f99,#f99,#faa,#fbb,#fcc,#fdd,#fdd,#fee,#fdf9f8,#f7f7fe,#eef,#ccf,#bbf,#aaf,#aaf,#bbf,#ccf,#ddf,#f7f7fe,#fee,#fee,#fdd,#fdd,#fcc,#fbb,#fbb,#faa,#f99,#f88,#f99,#f99,#faa,#fbb,#fcc,#fdd,#fee,#fee,#fdf9f8,#f7f7fe,#eef,#ccf,#aaf,#99f,#99f,#bbf,#ccf,#eef,#f7f7fe,#fee,#fee,#fdd,#fcc,#fcc,#fbb,#faa,#f99,#f99,#f88,#f99,#f99,#faa,#fbb,#fcc,#fdd,#fee,#fee,#fdf9f8)"></div><div style="height:4px;background:linear-gradient(90deg,#fee,#fdf9f8,#f7f7fe,#eef,#ddf,#bbf,#aaf,#aaf,#bbf,#ccf,#ddf,#f7f7fe,#fee,#fdd,#fcc,#fcc,#fbb,#fbb,#faa,#faa,#faa,#f99,#faa,#faa,#fbb,#fcc,#fdd,#fdd,#fee,#fee,#fbf9fc,#f7f7fe,#eef,#ddf,#bbf,#aaf,#aaf,#bbf,#ccf,#eef,#fbf9fc,#fee,#fdd,#fcc,#fcc,#fbb,#fbb,#faa,#faa,#faa,#f99,#faa,#faa,#fbb,#fcc,#fdd,#fdd,#fee,#fdf9f8,#fbf9fc,#f7f7fe,#eef,#ddf,#bbf,#aaf,#aaf,#bbf,#ccf,#eef,#fbf9fc,#fee,#fdd,#fcc,#fcc,#fbb,#faa,#faa,#faa,#f99,#f99,#faa,#faa,#fbb,#fcc,#fdd,#fdd,#fee,#fdf9f8,#fbf9fc,#f7f7fe)"></div><div style="height:4px;background:linear-gradient(90deg,#f7f7fe,#eef,#eef,#ddf,#ccf,#bbf,#aaf,#bbf,#ccf,#ddf,#f7f7fe,#fee,#fdd,#fcc,#fbb,#fbb,#faa,#faa,#faa,#faa,#faa,#fbb,#fbb,#fcc,#fdd,#fdd,#fee,#fee,#fdf9f8,#f7f7fe,#eef,#eef,#ddf,#ccf,#bbf,#aaf,#bbf,#ddf,#eef,#fee,#fee,#fdd,#fcc,#fbb,#fbb,#faa,#faa,#faa,#faa,#faa,#fbb,#fbb,#fcc,#fdd,#fdd,#fee,#fee,#fdf9f8,#f7f7fe,#eef,#eef,#ddf,#ccf,#bbf,#aaf,#bbf,#ccf,#eef,#fdf9f8,#fee,#fcc,#fcc,#fbb,#fbb,#faa,#faa,#faa,#faa,#faa,#fbb,#fbb,#fcc,#fdd,#fee,#fee,#fdf9f8,#fdf9f8,#f7f7fe,#eef,#eef)"></div><div style="height:4px;background:linear-gradient(90deg,#eef,#ddf,#ddf,#ccf,#bbf,#aaf,#bbf,#ccf,#eef,#fbf9fc,#fee,#fdd,#fcc,#fbb,#faa,#faa,#faa,#faa,#fbb,#fbb,#fcc,#fcc,#fdd,#fdd,#fee,#fee,#fdf9f8,#f7f7fe,#f7f7fe,#eef,#ddf,#ddf,#ccf,#bbf,#aaf,#bbf,#ccf,#eef,#fee,#fdd,#fcc,#fbb,#fbb,#faa,#faa,#faa,#faa,#fbb,#fbb,#fcc,#fcc,#fdd,#fdd,#fee,#fee,#fdf9f8,#f7f7fe,#eef,#eef,#ddf,#ddf,#ccf,#bbf,#aaf,#bbf,#ccf,#eef,#fdf9f8,#fdd,#fcc,#fbb,#fbb,#faa,#faa,#faa,#faa,#fbb,#fbb,#fcc,#fcc,#fdd,#fdd,#fee,#fdf9f8,#f7f7fe,#f7f7fe,#eef,#eef,#ddf,#ccf)"></div><div style="height:4px;background:linear-gradient(90deg,#ddf,#ccf,#bbf,#bbf,#bbf,#bbf,#ccf,#eef,#fdf9f8,#fdd,#fcc,#fcc,#fbb,#fbb,#fbb,#fbb,#fbb,#fbb,#fcc,#fdd,#fdd,#fee,#fee,#fee,#fdf9f8,#f7f7fe,#f7f7fe,#eef,#eef,#ddf,#ddf,#ccf,#bbf,#bbf,#bbf,#ccf,#eef,#fdf9f8,#fdd,#fcc,#fbb,#fbb,#fbb,#fbb,#fbb,#fbb,#fbb,#fcc,#fdd,#fdd,#fee,#fee,#fee,#fdf9f8,#f7f7fe,#f7f7fe,#eef,#eef,#ddf,#ccf,#bbf,#bbf,#bbf,#bbf,#ccf,#eef,#fdf9f8,#fdd,#fcc,#fbb,#fbb,#fbb,#fbb,#fbb,#fbb,#fbb,#fcc,#fdd,#fdd,#fee,#fee,#fee,#fdf9f8,#f7f7fe,#eef,#eef,#eef,#ddf,#ccf,#bbf)"></div><div style="height:4px;background:linear-gradient(90deg,#ccf,#bbf,#bbf,#bbf,#bbf,#ccf,#ddf,#fdf9f8,#fdd,#fcc,#fcc,#fbb,#fbb,#fbb,#fbb,#fcc,#fcc,#fdd,#fdd,#fee,#fee,#fdf9f8,#fdf9f8,#f7f7fe,#f7f7fe,#eef,#eef,#ddf,#ddf,#ccf,#bbf,#bbf,#bbf,#bbf,#ccf,#eef,#fdf9f8,#fdd,#fcc,#fcc,#fbb,#fbb,#fbb,#fbb,#fcc,#fdd,#fdd,#fdd,#fee,#fee,#fdf9f8,#fdf9f8,#f7f7fe,#f7f7fe,#eef,#eef,#ddf,#ccf,#ccf,#bbf,#bbf,#bbf,#bbf,#ccf,#eef,#fdf9f8,#fdd,#fcc,#fbb,#fbb,#fbb,#fbb,#fbb,#fcc,#fcc,#fdd,#fdd,#fee,#fee,#fdf9f8,#fdf9f8,#f7f7fe,#eef,#eef,#eef,#eef,#ddf,#ccf,#bbf,#bbf)"></div><div style="height:4px;background:linear-gradient(90deg,#bbf,#bbf,#bbf,#bbf,#ccf,#ddf,#fbf9fc,#fee,#fdd,#fcc,#fbb,#fbb,#fcc,#fcc,#fdd,#fdd,#fee,#fee,#fdf9f8,#fdf9f8,#f7f7fe,#f7f7fe,#eef,#eef,#eef,#ddf,#ddf,#ccf,#bbf,#bbf,#bbf,#bbf,#bbf,#ccf,#eef,#fbf9fc,#fdd,#fcc,#fcc,#fbb,#fbb,#fcc,#fcc,#fdd,#fee,#fbf9fc,#fdf9f8,#fdf9f8,#fdf9f8,#f7f7fe,#f7f7fe,#eef,#eef,#eef,#ddf,#ccf,#bbf,#bbf,#bbf,#bbf,#bbf,#bbf,#ccf,#eef,#fdf9f8,#fdd,#fcc,#fcc,#fbb,#fbb,#fcc,#fcc,#fdd,#fdd,#fee,#fee,#fdf9f8,#fbf9fc,#f7f7fe,#f7f7fe,#eef,#eef,#eef,#ddf,#ddf,#ccf,#bbf,#bbf,#bbf,#bbf)"></div><div style="height:4px;background:linear-gradient(90deg,#bbf,#bbf,#ccf,#ddf,#eef,#fbf9fc,#fee,#fdd,#fdd,#fdd,#fcc,#fdd,#fdd,#fee,#fee,#fdf9f8,#fbf9fc,#f7f7fe,#eef,#eef,#eef,#eef,#ddf,#ddf,#ddf,#ccf,#bbf,#bbf,#bbf,#bbf,#bbf,#ccf,#ddf,#eef,#fbf9fc,#fee,#fdd,#fcc,#fcc,#fcc,#fdd,#fdd,#fee,#fee,#fdf9f8,#eef,#eef,#eef,#eef,#eef,#eef,#ddf,#ddf,#ddf,#ccf,#bbf,#bbf,#bbf,#bbf,#bbf,#ccf,#ddf,#eef,#fdf9f8,#fee,#fdd,#fcc,#fcc,#fcc,#fdd,#fdd,#fee,#fee,#fdf9f8,#fbf9fc,#f7f7fe,#eef,#eef,#eef,#eef,#ddf,#ddf,#ddf,#ccf,#bbf,#bbf,#bbf,#bbf,#bbf,#ccf)"></div><div style="height:4px;background:linear-gradient(90deg,#bbf,#ccf,#ddf,#eef,#fbf9fc,#fee,#fdd,#fdd,#fdd,#fee,#fee,#fee,#fdf9f8,#f7f7fe,#eef,#eef,#eef,#ddf,#ddf,#ddf,#ddf,#ccf,#ccf,#ccf,#ccf,#bbf,#bbf,#bbf,#bbf,#bbf,#ccf,#ddf,#eef,#fbf9fc,#fee,#fdd,#fdd,#fdd,#fdd,#fee,#fee,#fdf9f8,#f7f7fe,#eef,#eef,#eef,#ddf,#ddf,#ddf,#ddf,#ccf,#ccf,#ccf,#ccf,#bbf,#bbf,#bbf,#bbf,#bbf,#ccf,#ddf,#eef,#fdf9f8,#fee,#fdd,#fdd,#fdd,#fdd,#fee,#fee,#fdf9f8,#f7f7fe,#eef,#eef,#eef,#ddf,#ddf,#ddf,#ddf,#ccf,#ccf,#ccf,#ccf,#bbf,#bbf,#bbf,#bbf,#bbf,#ccf,#ddf)"></div><div style="height:4px;background:linear-gradient(90deg,#ccf,#ddf,#eef,#f7f7fe,#fdf9f8,#fee,#fee,#fee,#fee,#fbf9fc,#f7f7fe,#eef,#eef,#ddf,#ddf,#ddf,#ccf,#ccf,#ccf,#ccf,#ccf,#ccf,#bbf,#bbf,#bbf,#bbf,#bbf,#ccf,#ccf,#ccf,#ddf,#eef,#f7f7fe,#fee,#fee,#fee,#fee,#fee,#fdf9f8,#f7f7fe,#eef,#eef,#ddf,#ddf,#ddf,#ccf,#ccf,#ccf,#ccf,#ccf,#ccf,#bbf,#bbf,#bbf,#bbf,#bbf,#ccf,#ccf,#ddf,#ddf,#eef,#fbf9fc,#fee,#fee,#fee,#fee,#fee,#fdf9f8,#f7f7fe,#eef,#eef,#eef,#ddf,#ddf,#ccf,#ccf,#ccf,#ccf,#ccf,#ccf,#bbf,#bbf,#bbf,#bbf,#bbf,#ccf,#ccf,#ddf,#ddf,#eef)"></div><div style="height:4px;background:linear-gradient(90deg,#eef,#eef,#f7f7fe,#fbf9fc,#fdf9f8,#fdf9f8,#fbf9fc,#f7f7fe,#eef,#eef,#ddf,#ddf,#ddf,#ccf,#ccf,#ccf,#ccf,#ccf,#ccf,#bbf,#bbf,#bbf,#bbf,#bbf,#ccf,#ccf,#ccf,#ddf,#ddf,#eef,#eef,#f7f7fe,#fbf9fc,#fdf9f8,#fdf9f8,#fbf9fc,#f7f7fe,#eef,#eef,#ddf,#ddf,#ddf,#ccf,#ccf,#ccf,#ccf,#ccf,#ccf,#bbf,#bbf,#bbf,#bbf,#bbf,#ccf,#ccf,#ccf,#ddf,#ddf,#eef,#eef,#f7f7fe,#fbf9fc,#fdf9f8,#fdf9f8,#fbf9fc,#f7f7fe,#eef,#eef,#ddf,#ddf,#ddf,#ccf,#ccf,#bbf,#bbf,#ccf,#ccf,#bbf,#bbf,#bbf,#bbf,#bbf,#ccf,#ccf,#ccf,#ddf,#ddf,#eef,#eef,#f7f7fe)"></div><div style="height:4px;background:linear-gradient(90deg,#eef,#f7f7fe,#f7f7fe,#f7f7fe,#f7f7fe,#eef,#eef,#eef,#ddf,#ddf,#ddf,#ccf,#ccf,#ccf,#ccf,#ccf,#ccf,#ccf,#ccf,#ccf,#ccf,#ccf,#ccf,#ccf,#ddf,#ddf,#ddf,#eef,#eef,#eef,#f7f7fe,#f7f7fe,#f7f7fe,#f7f7fe,#eef,#eef,#eef,#eef,#ddf,#ddf,#ccf,#ccf,#ccf,#ccf,#ccf,#ccf,#ccf,#ccf,#ccf,#ccf,#ccf,#ccf,#ccf,#ddf,#ddf,#ddf,#eef,#eef,#eef,#f7f7fe,#f7f7fe,#f7f7fe,#f7f7fe,#eef,#eef,#eef,#ddf,#ddf,#ddf,#ccf,#ccf,#ccf,#bbf,#bbf,#bbf,#ccf,#ccf,#ccf,#ccf,#ccf,#ccf,#ccf,#ddf,#ddf,#ddf,#eef,#eef,#eef,#f7f7fe,#f7f7fe)"></div><div style="height:4px;background:linear-gradient(90deg,#f7f7fe,#f7f7fe,#f7f7fe,#f7f7fe,#eef,#eef,#eef,#ddf,#ddf,#ddf,#ddf,#ddf,#ccf,#ccf,#ccf,#ccf,#ddf,#ddf,#ddf,#ddf,#ddf,#ddf,#ddf,#ddf,#eef,#eef,#eef,#eef,#f7f7fe,#f7f7fe,#f7f7fe,#f7f7fe,#f7f7fe,#eef,#eef,#eef,#ddf,#ddf,#ddf,#ddf,#ddf,#ccf,#ccf,#ccf,#ccf,#ddf,#ddf,#ddf,#ddf,#ddf,#ddf,#ddf,#ddf,#eef,#eef,#eef,#f7f7fe,#f7f7fe,#f7f7fe,#f7f7fe,#f7f7fe,#f7f7fe,#eef,#eef,#eef,#ddf,#ddf,#ddf,#ddf,#ddf,#ccf,#ccf,#ccf,#ccf,#ccf,#ddf,#ddf,#ddf,#ddf,#ddf,#ddf,#ddf,#eef,#eef,#eef,#f7f7fe,#f7f7fe,#f7f7fe,#f7f7fe,#f7f7fe)"></div><div style="height:4px;background:linear-gradient(90deg,#f7f7fe,#f7f7fe,#f7f7fe,#f7f7fe,#eef,#eef,#eef,#eef,#eef,#eef,#ddf,#ddf,#ddf,#ddf,#ddf,#ddf,#eef,#eef,#eef,#eef,#eef,#eef,#eef,#eef,#eef,#f7f7fe,#f7f7fe,#f7f7fe,#f7f7fe,#f7f7fe,#f7f7fe,#f7f7fe,#f7f7fe,#eef,#eef,#eef,#eef,#eef,#eef,#ddf,#ddf,#ddf,#ddf,#ddf,#ddf,#eef,#eef,#eef,#eef,#eef,#eef,#eef,#eef,#eef,#f7f7fe,#f7f7fe,#f7f7fe,#f7f7fe,#f7f7fe,#f7f7fe,#f7f7fe,#f7f7fe,#eef,#eef,#eef,#eef,#eef,#eef,#ddf,#ddf,#ddf,#ddf,#ddf,#ddf,#eef,#eef,#eef,#eef,#eef,#eef,#eef,#eef,#eef,#f7f7fe,#f7f7fe,#f7f7fe,#f7f7fe,#f7f7fe,#f7f7fe,#f7f7fe)"></div><div style="height:4px;background:linear-gradient(90deg,#fbf9fc,#f7f7fe,#f7f7fe,#f7f7fe,#f7f7fe,#eef,#eef,#eef,#eef,#eef,#eef,#eef,#eef,#eef,#eef,#eef,#eef,#eef,#eef,#f7f7fe,#f7f7fe,#f7f7fe,#f7f7fe,#f7f7fe,#f7f7fe,#f7f7fe,#fbf9fc,#fbf9fc,#fbf9fc,#fbf9fc,#f7f7fe,#f7f7fe,#f7f7fe,#f7f7fe,#eef,#eef,#eef,#eef,#eef,#eef,#eef,#eef,#eef,#eef,#eef,#eef,#eef,#eef,#eef,#eef,#f7f7fe,#f7f7fe,#f7f7fe,#f7f7fe,#f7f7fe,#fbf9fc,#fbf9fc,#fbf9fc,#fbf9fc,#fbf9fc,#fbf9fc,#fbf9fc,#fbf9fc,#f7f7fe,#eef,#eef,#eef,#eef,#eef,#eef,#eef,#eef,#eef,#eef,#eef,#eef,#eef,#f7f7fe,#f7f7fe,#f7f7fe,#f7f7fe,#f7f7fe,#f7f7fe,#f7f7fe,#fbf9fc,#fbf9fc,#fbf9fc,#fbf9fc,#f7f7fe,#f7f7fe)"></div><div style="height:4px;background:linear-gradient(90deg,#fbf9fc,#fbf9fc,#f7f7fe,#f7f7fe,#f7f7fe,#f7f7fe,#f7f7fe,#f7f7fe,#f7f7fe,#f7f7fe,#f7f7fe,#f7f7fe,#f7f7fe,#f7f7fe,#f7f7fe,#f7f7fe,#f7f7fe,#f7f7fe,#f7f7fe,#f7f7fe,#f7f7fe,#f7f7fe,#fbf9fc,#fbf9fc,#fbf9fc,#fbf9fc,#fbf9fc,#fbf9fc,#fbf9fc,#fbf9fc,#fbf9fc,#f7f7fe,#f7f7fe,#f7f7fe,#f7f7fe,#f7f7fe,#f7f7fe,#f7f7fe,#f7f7fe,#f7f7fe,#f7f7fe,#f7f7fe,#f7f7fe,#f7f7fe,#f7f7fe,#f7f7fe,#f7f7fe,#f7f7fe,#f7f7fe,#f7f7fe,#f7f7fe,#fbf9fc,#fbf9fc,#fbf9fc,#fbf9fc,#fbf9fc,#fbf9fc,#fbf9fc,#fbf9fc,#fbf9fc,#fdf9f8,#fee,#fee,#fdf9f8,#f7f7fe,#f7f7fe,#f7f7fe,#f7f7fe,#f7f7fe,#f7f7fe,#f7f7fe,#f7f7fe,#f7f7fe,#f7f7fe,#f7f7fe,#f7f7fe,#f7f7fe,#f7f7fe,#f7f7fe,#f7f7fe,#fbf9fc,#fbf9fc,#fbf9fc,#fbf9fc,#fbf9fc,#fbf9fc,#fbf9fc,#fbf9fc,#fbf9fc,#f7f7fe)"></div><div style="height:4px;background:linear-gradient(90deg,#fbf9fc,#fbf9fc,#fbf9fc,#fbf9fc,#fbf9fc,#f7f7fe,#f7f7fe,#f7f7fe,#f7f7fe,#f7f7fe,#f7f7fe,#f7f7fe,#f7f7fe,#f7f7fe,#f7f7fe,#fbf9fc,#fbf9fc,#fbf9fc,#fbf9fc,#fbf9fc,#fbf9fc,#fbf9fc,#fbf9fc,#fbf9fc,#fbf9fc,#fbf9fc,#fbf9fc,#fbf9fc,#fbf9fc,#fbf9fc,#fbf9fc,#fbf9fc,#fbf9fc,#fbf9fc,#fbf9fc,#fbf9fc,#f7f7fe,#f7f7fe,#f7f7fe,#f7f7fe,#f7f7fe,#f7f7fe,#f7f7fe,#f7f7fe,#fbf9fc,#fbf9fc,#fbf9fc,#fbf9fc,#fbf9fc,#fbf9fc,#fbf9fc,#fbf9fc,#fbf9fc,#fbf9fc,#fbf9fc,#fbf9fc,#fbf9fc,#fbf9fc,#fbf9fc,#fbf9fc,#fdf9f8,#fee,#fee,#fdf9f8,#fbf9fc,#f7f7fe,#f7f7fe,#f7f7fe,#f7f7fe,#f7f7fe,#f7f7fe,#f7f7fe,#f7f7fe,#fbf9fc,#fbf9fc,#fbf9fc,#f7f7fe,#f7f7fe,#fbf9fc,#fbf9fc,#fbf9fc,#fbf9fc,#fbf9fc,#fbf9fc,#fbf9fc,#fbf9fc,#fbf9fc,#fbf9fc,#fbf9fc,#fbf9fc)"></div><div style="height:4px;background:linear-gradient(90deg,#fbf9fc,#fbf9fc,#fbf9fc,#fbf9fc,#fbf9fc,#fbf9fc,#fbf9fc,#fbf9fc,#fbf9fc,#fbf9fc,#fbf9fc,#fbf9fc,#fbf9fc,#fbf9fc,#fbf9fc,#fbf9fc,#fbf9fc,#fbf9fc,#fbf9fc,#fbf9fc,#fbf9fc,#fbf9fc,#fbf9fc,#fbf9fc,#fbf9fc,#fbf9fc,#fbf9fc,#fbf9fc,#fbf9fc,#fbf9fc,#fbf9fc,#fbf9fc,#fbf9fc,#fbf9fc,#fbf9fc,#fdf9f8,#fbf9fc,#fbf9fc,#fbf9fc,#fbf9fc,#fbf9fc,#fbf9fc,#fbf9fc,#fbf9fc,#fbf9fc,#fbf9fc,#fbf9fc,#fbf9fc,#fbf9fc,#fbf9fc,#fbf9fc,#fbf9fc,#fbf9fc,#fbf9fc,#fbf9fc,#fbf9fc,#fbf9fc,#f7f7fe,#eef,#f7f7fe,#fbf9fc,#fdf9f8,#fdf9f8,#fdf9f8,#fbf9fc,#fbf9fc,#fbf9fc,#fbf9fc,#fbf9fc,#fbf9fc,#fbf9fc,#fbf9fc,#fbf9fc,#fbf9fc,#fbf9fc,#f7f7fe,#f7f7fe,#f7f7fe,#fbf9fc,#fbf9fc,#fbf9fc,#fbf9fc,#fbf9fc,#fbf9fc,#fbf9fc,#fbf9fc,#fbf9fc,#fbf9fc,#fbf9fc,#fbf9fc)"></div><div style="height:4px;background:linear-gradient(90deg,#fbf9fc,#fbf9fc,#fbf9fc,#fbf9fc,#fbf9fc,#fbf9fc,#fbf9fc,#fbf9fc,#fbf9fc,#fbf9fc,#fbf9fc,#fbf9fc,#fbf9fc,#fbf9fc,#fbf9fc,#fbf9fc,#fbf9fc,#fbf9fc,#fbf9fc,#fbf9fc,#fbf9fc,#fbf9fc,#fbf9fc,#fbf9fc,#fbf9fc,#fbf9fc,#fbf9fc,#fbf9fc,#fbf9fc,#fbf9fc,#fbf9fc,#fbf9fc,#fbf9fc,#fbf9fc,#fdf9f8,#fdf9f8,#fbf9fc,#fbf9fc,#fbf9fc,#fbf9fc,#fbf9fc,#fbf9fc,#fbf9fc,#fbf9fc,#fbf9fc,#fbf9fc,#fbf9fc,#fbf9fc,#fbf9fc,#fbf9fc,#fbf9fc,#fbf9fc,#fbf9fc,#fbf9fc,#fbf9fc,#fbf9fc,#fbf9fc,#eef,#eef,#f7f7fe,#fbf9fc,#fdf9f8,#fdf9f8,#fdf9f8,#fbf9fc,#fbf9fc,#fbf9fc,#fbf9fc,#fbf9fc,#fbf9fc,#fbf9fc,#fbf9fc,#fbf9fc,#fbf9fc,#fbf9fc,#f7f7fe,#f7f7fe,#f7f7fe,#fbf9fc,#fbf9fc,#fbf9fc,#fbf9fc,#f7f7fe,#f7f7fe,#f7f7fe,#fbf9fc,#fbf9fc,#fbf9fc,#fbf9fc,#fbf9fc)"></div><div style="height:4px;background:linear-gradient(90deg,#fbf9fc,#fbf9fc,#fbf9fc,#fbf9fc,#fbf9fc,#fbf9fc,#fbf9fc,#fbf9fc,#fbf9fc,#fbf9fc,#fbf9fc,#fbf9fc,#fbf9fc,#fbf9fc,#fbf9fc,#fbf9fc,#fbf9fc,#fbf9fc,#fbf9fc,#fbf9fc,#fbf9fc,#fbf9fc,#fbf9fc,#fbf9fc,#fbf9fc,#fbf9fc,#fbf9fc,#fbf9fc,#fbf9fc,#fbf9fc,#fbf9fc,#fbf9fc,#fbf9fc,#fbf9fc,#fbf9fc,#fbf9fc,#fbf9fc,#fbf9fc,#fbf9fc,#fbf9fc,#fbf9fc,#fbf9fc,#fbf9fc,#fbf9fc,#fbf9fc,#fbf9fc,#fbf9fc,#fbf9fc,#fdf9f8,#fdf9f8,#fbf9fc,#fbf9fc,#fbf9fc,#fbf9fc,#fbf9fc,#fbf9fc,#fbf9fc,#f7f7fe,#f7f7fe,#f7f7fe,#fbf9fc,#fbf9fc,#fbf9fc,#fbf9fc,#fbf9fc,#fbf9fc,#fbf9fc,#fbf9fc,#fbf9fc,#fbf9fc,#fbf9fc,#fbf9fc,#fbf9fc,#fbf9fc,#fbf9fc,#fbf9fc,#f7f7fe,#fbf9fc,#fbf9fc,#fbf9fc,#fbf9fc,#fbf9fc,#f7f7fe,#eef,#f7f7fe,#fbf9fc,#fbf9fc,#fbf9fc,#fbf9fc,#fbf9fc)"></div><div style="height:4px;background:linear-gradient(90deg,#fbf9fc,#fbf9fc,#fbf9fc,#fbf9fc,#fbf9fc,#fbf9fc,#fbf9fc,#fbf9fc,#fbf9fc,#fbf9fc,#fbf9fc,#fbf9fc,#fbf9fc,#fbf9fc,#fbf9fc,#fbf9fc,#fbf9fc,#fbf9fc,#fbf9fc,#fbf9fc,#fbf9fc,#fbf9fc,#fbf9fc,#fbf9fc,#fbf9fc,#fbf9fc,#fbf9fc,#fbf9fc,#fbf9fc,#fbf9fc,#fbf9fc,#fbf9fc,#fbf9fc,#fbf9fc,#fbf9fc,#fbf9fc,#fbf9fc,#fbf9fc,#fbf9fc,#fbf9fc,#fbf9fc,#fbf9fc,#fbf9fc,#fbf9fc,#fbf9fc,#fbf9fc,#fbf9fc,#fbf9fc,#fee,#fee,#fdf9f8,#fdf9f8,#fbf9fc,#fbf9fc,#fbf9fc,#fbf9fc,#fbf9fc,#fbf9fc,#fbf9fc,#fbf9fc,#fbf9fc,#fbf9fc,#fbf9fc,#fdf9f8,#fbf9fc,#fbf9fc,#fbf9fc,#fbf9fc,#fbf9fc,#fbf9fc,#fbf9fc,#fbf9fc,#fbf9fc,#fbf9fc,#fbf9fc,#fbf9fc,#fbf9fc,#fbf9fc,#fbf9fc,#fbf9fc,#fbf9fc,#fbf9fc,#fbf9fc,#fbf9fc,#fbf9fc,#fbf9fc,#fbf9fc,#fbf9fc,#fbf9fc,#fbf9fc)"></div><div style="height:4px;background:linear-gradient(90deg,#fbf9fc,#fbf9fc,#fbf9fc,#fbf9fc,#fbf9fc,#fbf9fc,#fbf9fc,#fbf9fc,#fbf9fc,#fbf9fc,#fbf9fc,#fbf9fc,#fbf9fc,#fbf9fc,#fbf9fc,#fbf9fc,#fbf9fc,#fbf9fc,#fbf9fc,#fbf9fc,#fbf9fc,#fbf9fc,#fbf9fc,#fbf9fc,#fbf9fc,#fbf9fc,#fbf9fc,#fbf9fc,#fbf9fc,#fbf9fc,#fbf9fc,#fbf9fc,#fbf9fc,#fbf9fc,#fbf9fc,#fbf9fc,#fbf9fc,#fbf9fc,#fbf9fc,#fbf9fc,#fbf9fc,#fbf9fc,#fbf9fc,#fbf9fc,#fbf9fc,#fbf9fc,#fbf9fc,#fbf9fc,#fdf9f8,#fee,#fdf9f8,#fdf9f8,#fbf9fc,#fbf9fc,#fbf9fc,#fbf9fc,#fbf9fc,#fbf9fc,#fbf9fc,#fbf9fc,#fbf9fc,#fdf9f8,#fee,#fee,#fee,#fdf9f8,#fbf9fc,#fbf9fc,#fbf9fc,#fbf9fc,#fbf9fc,#fbf9fc,#fbf9fc,#fbf9fc,#fbf9fc,#fbf9fc,#fbf9fc,#fbf9fc,#fbf9fc,#fbf9fc,#fbf9fc,#fbf9fc,#fbf9fc,#fbf9fc,#fbf9fc,#fbf9fc,#fbf9fc,#fbf9fc,#fbf9fc,#fbf9fc)"></div><div style="height:4px;background:linear-gradient(90deg,#fbf9fc,#fbf9fc,#fbf9fc,#fbf9fc,#fbf9fc,#fbf9fc,#fbf9fc,#fbf9fc,#fbf9fc,#fbf9fc,#fbf9fc,#fdf9f8,#fdf9f8,#fdf9f8,#fdf9f8,#fbf9fc,#fbf9fc,#fbf9fc,#fbf9fc,#fbf9fc,#fbf9fc,#fbf9fc,#fbf9fc,#fbf9fc,#f7f7fe,#f7f7fe,#fbf9fc,#fbf9fc,#fbf9fc,#fbf9fc,#fbf9fc,#fbf9fc,#fbf9fc,#fbf9fc,#fbf9fc,#fbf9fc,#fdf9f8,#fdf9f8,#fdf9f8,#fdf9f8,#fdf9f8,#fdf9f8,#fdf9f8,#fdf9f8,#fbf9fc,#fbf9fc,#fbf9fc,#fbf9fc,#fdf9f8,#fdf9f8,#fdf9f8,#fdf9f8,#fbf9fc,#fbf9fc,#fbf9fc,#fbf9fc,#fbf9fc,#fbf9fc,#fbf9fc,#fbf9fc,#fbf9fc,#fdf9f8,#fee,#fee,#fee,#fdf9f8,#fbf9fc,#fbf9fc,#fbf9fc,#fdf9f8,#fdf9f8,#fdf9f8,#fdf9f8,#fbf9fc,#fbf9fc,#fbf9fc,#fbf9fc,#fbf9fc,#fbf9fc,#fbf9fc,#fbf9fc,#fbf9fc,#fbf9fc,#fbf9fc,#fbf9fc,#fbf9fc,#fbf9fc,#fbf9fc,#fbf9fc,#fbf9fc)"></div><div style="height:4px;background:linear-gradient(90deg,#f7f7fe,#f7f7fe,#fbf9fc,#fbf9fc,#fbf9fc,#fbf9fc,#fbf9fc,#fdf9f8,#fdf9f8,#fdf9f8,#fdf9f8,#fdf9f8,#fdf9f8,#fdf9f8,#fdf9f8,#fdf9f8,#fdf9f8,#fdf9f8,#fdf9f8,#fbf9fc,#fbf9fc,#fbf9fc,#fbf9fc,#f7f7fe,#f7f7fe,#f7f7fe,#f7f7fe,#f7f7fe,#f7f7fe,#f7f7fe,#f7f7fe,#fbf9fc,#fbf9fc,#fbf9fc,#fdf9f8,#fdf9f8,#fdf9f8,#fdf9f8,#fdf9f8,#fdf9f8,#fdf9f8,#fdf9f8,#fdf9f8,#fdf9f8,#fdf9f8,#fdf9f8,#fdf9f8,#fdf9f8,#fdf9f8,#fbf9fc,#fbf9fc,#fbf9fc,#fbf9fc,#fbf9fc,#f7f7fe,#f7f7fe,#f7f7fe,#f7f7fe,#f7f7fe,#f7f7fe,#fbf9fc,#fbf9fc,#fdf9f8,#fdf9f8,#fdf9f8,#fdf9f8,#fdf9f8,#fdf9f8,#fdf9f8,#fdf9f8,#fdf9f8,#fdf9f8,#fdf9f8,#fdf9f8,#fdf9f8,#fdf9f8,#fdf9f8,#fbf9fc,#fbf9fc,#fbf9fc,#fbf9fc,#fbf9fc,#fbf9fc,#f7f7fe,#f7f7fe,#f7f7fe,#f7f7fe,#f7f7fe,#f7f7fe,#fbf9fc)"></div><div style="height:4px;background:linear-gradient(90deg,#f7f7fe,#f7f7fe,#f7f7fe,#f7f7fe,#fbf9fc,#fbf9fc,#fdf9f8,#fdf9f8,#fdf9f8,#fdf9f8,#fee,#fee,#fee,#fee,#fee,#fee,#fdf9f8,#fdf9f8,#fdf9f8,#fdf9f8,#fbf9fc,#fbf9fc,#f7f7fe,#f7f7fe,#f7f7fe,#f7f7fe,#f7f7fe,#f7f7fe,#f7f7fe,#f7f7fe,#f7f7fe,#f7f7fe,#f7f7fe,#fbf9fc,#fdf9f8,#fdf9f8,#fdf9f8,#fee,#fee,#fee,#fee,#fee,#fee,#fee,#fee,#fdf9f8,#fdf9f8,#fdf9f8,#fdf9f8,#fbf9fc,#fbf9fc,#fbf9fc,#f7f7fe,#f7f7fe,#f7f7fe,#f7f7fe,#f7f7fe,#f7f7fe,#f7f7fe,#f7f7fe,#f7f7fe,#f7f7fe,#f7f7fe,#fbf9fc,#fdf9f8,#fdf9f8,#fdf9f8,#fdf9f8,#fee,#fee,#fee,#fee,#fee,#fee,#fdf9f8,#fdf9f8,#fdf9f8,#fdf9f8,#fbf9fc,#fbf9fc,#f7f7fe,#f7f7fe,#f7f7fe,#f7f7fe,#f7f7fe,#f7f7fe,#f7f7fe,#f7f7fe,#f7f7fe,#f7f7fe)"></div><div style="height:4px;background:linear-gradient(90deg,#eef,#f7f7fe,#f7f7fe,#f7f7fe,#f7f7fe,#fbf9fc,#fdf9f8,#fdf9f8,#fee,#fee,#fee,#fee,#fee,#fee,#fee,#fee,#fee,#fee,#fee,#fdf9f8,#fdf9f8,#fbf9fc,#f7f7fe,#f7f7fe,#f7f7fe,#f7f7fe,#eef,#eef,#eef,#eef,#f7f7fe,#f7f7fe,#f7f7fe,#f7f7fe,#fbf9fc,#fdf9f8,#fee,#fee,#fee,#fee,#fee,#fee,#fee,#fee,#fee,#fee,#fee,#fee,#fdf9f8,#fdf9f8,#fbf9fc,#f7f7fe,#f7f7fe,#f7f7fe,#f7f7fe,#eef,#eef,#eef,#eef,#eef,#eef,#eef,#f7f7fe,#fbf9fc,#fdf9f8,#fdf9f8,#fee,#fee,#fee,#fee,#fee,#fee,#fee,#fee,#fee,#fee,#fee,#fdf9f8,#fdf9f8,#fbf9fc,#f7f7fe,#f7f7fe,#f7f7fe,#eef,#eef,#eef,#eef,#eef,#f7f7fe,#f7f7fe)"></div><div style="height:4px;background:linear-gradient(90deg,#eef,#eef,#eef,#eef,#f7f7fe,#fbf9fc,#fdf9f8,#fee,#fee,#fee,#fdd,#fdd,#fdd,#fdd,#fdd,#fdd,#fdd,#fee,#fee,#fee,#fdf9f8,#f7f7fe,#f7f7fe,#eef,#eef,#eef,#eef,#eef,#eef,#eef,#eef,#eef,#eef,#f7f7fe,#fbf9fc,#fdf9f8,#fee,#fee,#fee,#fdd,#fdd,#fdd,#fdd,#fdd,#fdd,#fdd,#fee,#fee,#fee,#fdf9f8,#f7f7fe,#f7f7fe,#eef,#eef,#eef,#eef,#eef,#eef,#eef,#eef,#eef,#eef,#eef,#f7f7fe,#fdf9f8,#fee,#fee,#fee,#fdd,#fdd,#fdd,#fdd,#fdd,#fdd,#fdd,#fee,#fee,#fee,#fdf9f8,#f7f7fe,#f7f7fe,#eef,#eef,#eef,#eef,#eef,#eef,#eef,#eef,#eef)"></div><div style="height:4px;background:linear-gradient(90deg,#eef,#eef,#eef,#eef,#eef,#f7f7fe,#fdf9f8,#fee,#fee,#fdd,#fdd,#fdd,#fcc,#fcc,#fcc,#fcc,#fcc,#fdd,#fdd,#fee,#fdf9f8,#f7f7fe,#eef,#eef,#eef,#eef,#eef,#ddf,#ddf,#eef,#eef,#eef,#eef,#eef,#f7f7fe,#fdf9f8,#fee,#fee,#fdd,#fdd,#fdd,#fcc,#fcc,#fcc,#fcc,#fcc,#fdd,#fdd,#fee,#fdf9f8,#f7f7fe,#eef,#eef,#eef,#eef,#eef,#ddf,#ddf,#eef,#eef,#eef,#eef,#eef,#f7f7fe,#fdf9f8,#fee,#fee,#fdd,#fdd,#fdd,#fcc,#fcc,#fcc,#fcc,#fcc,#fdd,#fdd,#fee,#fdf9f8,#f7f7fe,#eef,#eef,#eef,#eef,#eef,#ddf,#ddf,#eef,#eef,#eef)"></div><div style="height:4px;background:linear-gradient(90deg,#ddf,#ddf,#eef,#eef,#eef,#f7f7fe,#fdf9f8,#fee,#fee,#fdd,#fdd,#fcc,#fbb,#fbb,#fbb,#fbb,#fbb,#fcc,#fcc,#fdd,#fee,#f7f7fe,#eef,#eef,#eef,#ddf,#ddf,#ddf,#ddf,#ddf,#ddf,#ddf,#eef,#eef,#f7f7fe,#fdf9f8,#fee,#fee,#fdd,#fcc,#fcc,#fbb,#fbb,#fbb,#fbb,#fbb,#fcc,#fcc,#fdd,#fdf9f8,#f7f7fe,#eef,#eef,#eef,#ddf,#ddf,#ddf,#ddf,#ddf,#ddf,#ddf,#eef,#eef,#f7f7fe,#fdf9f8,#fee,#fee,#fdd,#fcc,#fcc,#fbb,#fbb,#fbb,#fbb,#fbb,#fcc,#fcc,#fdd,#fdf9f8,#f7f7fe,#eef,#eef,#eef,#ddf,#ddf,#ddf,#ddf,#ddf,#ddf,#ddf)"></div><div style="height:4px;background:linear-gradient(90deg,#ddf,#ddf,#ddf,#eef,#eef,#f7f7fe,#fbf9fc,#fee,#fee,#fdd,#fcc,#fbb,#faa,#f99,#f99,#f99,#faa,#fbb,#fcc,#fdd,#fdf9f8,#f7f7fe,#eef,#eef,#ddf,#ddf,#ddf,#ddf,#ddf,#ccf,#ddf,#ddf,#ddf,#eef,#eef,#fbf9fc,#fee,#fdd,#fdd,#fcc,#fbb,#faa,#f99,#f99,#f99,#faa,#fbb,#fcc,#fdd,#fdf9f8,#eef,#eef,#eef,#ddf,#ddf,#ddf,#ddf,#ddf,#ccf,#ddf,#ddf,#ddf,#eef,#eef,#fdf9f8,#fee,#fdd,#fdd,#fcc,#fbb,#faa,#f99,#f99,#f99,#faa,#fbb,#fcc,#fdd,#fdf9f8,#eef,#eef,#eef,#ddf,#ddf,#ddf,#ddf,#ddf,#ccf,#ddf,#ddf)"></div><div style="height:4px;background:linear-gradient(90deg,#ddf,#ddf,#eef,#eef,#eef,#f7f7fe,#fdf9f8,#fee,#fdd,#fbb,#faa,#f99,#f88,#f77,#f77,#f88,#f99,#fbb,#fcc,#fdd,#fdf9f8,#eef,#eef,#eef,#ddf,#ddf,#ccf,#ccf,#ccf,#ccf,#ccf,#ccf,#ddf,#ddf,#eef,#fdf9f8,#fee,#fcc,#fbb,#faa,#f99,#f88,#f77,#f77,#f88,#f99,#fbb,#fcc,#fee,#fdf9f8,#eef,#eef,#ddf,#ddf,#ddf,#ccf,#ccf,#ccf,#ccf,#ccf,#ccf,#ddf,#ddf,#eef,#fdf9f8,#fee,#fcc,#fbb,#faa,#f99,#f88,#f77,#f77,#f88,#f99,#fbb,#fdd,#fee,#fdf9f8,#eef,#eef,#ddf,#ddf,#ddf,#ccf,#ccf,#ccf,#ccf,#ccf,#ccf)"></div><div style="height:4px;background:linear-gradient(90deg,#eef,#eef,#eef,#eef,#f7f7fe,#fee,#fdd,#fcc,#faa,#f88,#f77,#f66,#f66,#f66,#f77,#f88,#faa,#fcc,#fdd,#fee,#f7f7fe,#eef,#eef,#ddf,#ccf,#ccf,#bbf,#bbf,#bbf,#aaf,#bbf,#bbf,#ccf,#ddf,#f7f7fe,#fdd,#fcc,#faa,#f88,#f77,#f66,#f66,#f66,#f77,#f99,#faa,#fcc,#fdd,#fee,#f7f7fe,#eef,#eef,#ddf,#ccf,#ccf,#bbf,#bbf,#aaf,#aaf,#bbf,#bbf,#ccf,#eef,#fbf9fc,#fdd,#fbb,#faa,#f88,#f77,#f66,#f66,#f66,#f77,#f99,#faa,#fcc,#fdd,#fee,#f7f7fe,#eef,#eef,#ddf,#ccf,#ccf,#bbf,#bbf,#aaf,#aaf,#bbf,#ccf)"></div><div style="height:4px;background:linear-gradient(90deg,#eef,#eef,#f7f7fe,#fdf9f8,#fee,#fcc,#faa,#f88,#f66,#f55,#f44,#f44,#f55,#f77,#f88,#faa,#fcc,#fdd,#fee,#f7f7fe,#eef,#ddf,#ccf,#bbf,#bbf,#aaf,#99f,#99f,#99f,#99f,#aaf,#ccf,#ddf,#fdf9f8,#fdd,#faa,#f88,#f66,#f55,#f44,#f44,#f55,#f77,#f88,#faa,#fcc,#fdd,#fee,#f7f7fe,#eef,#ddf,#ccf,#bbf,#bbf,#aaf,#99f,#99f,#99f,#99f,#aaf,#ccf,#ddf,#fdf9f8,#fdd,#faa,#f88,#f66,#f44,#f44,#f44,#f55,#f77,#f99,#fbb,#fcc,#fdd,#fee,#f7f7fe,#eef,#ddf,#ccf,#bbf,#bbf,#aaf,#99f,#99f,#99f,#99f,#bbf,#ccf)"></div><div style="height:4px;background:linear-gradient(90deg,#fbf9fc,#fee,#fdd,#fcc,#faa,#f88,#f66,#f44,#f22,#f22,#f33,#f55,#f77,#f99,#fbb,#fdd,#fee,#fdf9f8,#eef,#ddf,#ccf,#bbf,#aaf,#99f,#88f,#77f,#77f,#88f,#99f,#aaf,#ccf,#eef,#fee,#fbb,#f99,#f66,#f44,#f22,#f22,#f33,#f55,#f77,#f99,#fbb,#fdd,#fee,#fbf9fc,#eef,#ddf,#ccf,#bbf,#aaf,#99f,#88f,#77f,#77f,#88f,#99f,#aaf,#ccf,#eef,#fee,#fbb,#f88,#f66,#f44,#f22,#f22,#f44,#f55,#f77,#f99,#fbb,#fdd,#fee,#fbf9fc,#eef,#ddf,#ccf,#bbf,#aaf,#88f,#88f,#77f,#77f,#88f,#99f,#aaf,#ccf,#eef)"></div><div style="height:4px;background:linear-gradient(90deg,#fdd,#fcc,#faa,#f88,#f66,#f44,#f22,#f11,#f22,#f33,#f66,#f88,#faa,#fcc,#fee,#fdf9f8,#eef,#ddf,#ccf,#bbf,#99f,#88f,#77f,#66f,#55f,#66f,#77f,#88f,#aaf,#ccf,#fbf9fc,#fcc,#f99,#f66,#f44,#f22,#f11,#f22,#f44,#f66,#f88,#faa,#fcc,#fee,#fdf9f8,#eef,#ddf,#ccf,#bbf,#99f,#88f,#66f,#55f,#55f,#66f,#77f,#88f,#aaf,#ddf,#fdf9f8,#fcc,#f99,#f66,#f44,#f22,#f11,#f22,#f44,#f66,#f88,#fbb,#fcc,#fee,#fbf9fc,#eef,#ddf,#ccf,#aaf,#99f,#88f,#66f,#55f,#55f,#66f,#77f,#99f,#bbf,#ddf,#fee,#fcc)"></div><div style="height:4px;background:linear-gradient(90deg,#faa,#f88,#f66,#f44,#f22,#f11,#f11,#f33,#f55,#f77,#faa,#fcc,#fdd,#fdf9f8,#eef,#ddf,#bbf,#aaf,#88f,#77f,#66f,#55f,#44f,#44f,#55f,#77f,#99f,#ccf,#eef,#fdd,#faa,#f66,#f44,#f22,#f11,#f22,#f33,#f55,#f77,#faa,#fcc,#fdd,#fdf9f8,#eef,#ddf,#bbf,#aaf,#88f,#77f,#55f,#55f,#44f,#44f,#55f,#77f,#99f,#ccf,#f7f7fe,#fcc,#f99,#f66,#f44,#f22,#f11,#f22,#f33,#f55,#f88,#faa,#fcc,#fee,#fbf9fc,#eef,#ccf,#bbf,#aaf,#88f,#77f,#55f,#55f,#44f,#44f,#66f,#77f,#aaf,#ccf,#f7f7fe,#fcc,#f99,#f66)"></div><div style="height:4px;background:linear-gradient(90deg,#f66,#f33,#f22,#f11,#f11,#f22,#f44,#f77,#f99,#fbb,#fdd,#fdf9f8,#eef,#ccf,#bbf,#99f,#77f,#66f,#55f,#44f,#33f,#44f,#55f,#66f,#88f,#bbf,#eef,#fdd,#faa,#f77,#f44,#f22,#f11,#f11,#f33,#f55,#f77,#f99,#fbb,#fdd,#fdf9f8,#eef,#ccf,#bbf,#99f,#77f,#66f,#44f,#44f,#44f,#44f,#55f,#77f,#99f,#bbf,#eef,#fdd,#f99,#f66,#f44,#f22,#f11,#f11,#f33,#f55,#f77,#f99,#fcc,#fdd,#fbf9fc,#eef,#ccf,#bbf,#99f,#77f,#55f,#44f,#44f,#44f,#44f,#55f,#77f,#99f,#ccf,#eef,#fcc,#f99,#f66,#f44,#f22)"></div><div style="height:4px;background:linear-gradient(90deg,#f22,#f11,#f11,#f22,#f44,#f66,#f99,#fbb,#fdd,#fdf9f8,#eef,#ccf,#aaf,#99f,#77f,#55f,#33f,#33f,#33f,#33f,#55f,#66f,#99f,#bbf,#eef,#fdd,#faa,#f77,#f44,#f22,#f11,#f11,#f22,#f44,#f77,#f99,#fbb,#fdd,#fdf9f8,#eef,#ccf,#aaf,#88f,#66f,#55f,#33f,#33f,#33f,#44f,#55f,#77f,#99f,#bbf,#eef,#fdd,#faa,#f66,#f44,#f22,#f11,#f11,#f22,#f44,#f77,#f99,#fbb,#fdd,#fbf9fc,#ddf,#ccf,#aaf,#88f,#66f,#55f,#33f,#33f,#33f,#44f,#55f,#77f,#99f,#bbf,#eef,#fdd,#f99,#f66,#f44,#f22,#f11,#f11)"></div><div style="height:4px;background:linear-gradient(90deg,#f11,#f22,#f44,#f66,#f99,#fbb,#fdd,#fdf9f8,#eef,#ccf,#aaf,#88f,#66f,#44f,#33f,#22f,#22f,#33f,#55f,#77f,#99f,#bbf,#eef,#fdd,#faa,#f77,#f44,#f22,#f11,#f11,#f22,#f44,#f66,#f99,#fbb,#fdd,#fdf9f8,#eef,#ccf,#aaf,#88f,#66f,#44f,#33f,#22f,#22f,#33f,#55f,#77f,#99f,#bbf,#eef,#fdd,#faa,#f77,#f44,#f22,#f11,#f11,#f22,#f44,#f77,#f99,#fbb,#fdd,#fbf9fc,#ddf,#ccf,#aaf,#88f,#66f,#44f,#33f,#22f,#22f,#33f,#55f,#77f,#99f,#ccf,#eef,#fdd,#faa,#f66,#f33,#f11,#f11,#f11,#f22,#f44)"></div><div style="height:4px;background:linear-gradient(90deg,#f33,#f66,#f88,#fbb,#fdd,#fdf9f8,#eef,#ccf,#aaf,#88f,#66f,#44f,#22f,#22f,#22f,#33f,#55f,#77f,#99f,#bbf,#eef,#fee,#fbb,#f77,#f44,#f22,#f00,#f00,#f11,#f33,#f66,#f99,#fbb,#fdd,#fdf9f8,#eef,#ccf,#aaf,#88f,#55f,#44f,#22f,#22f,#22f,#33f,#55f,#77f,#99f,#ccf,#eef,#fdd,#faa,#f77,#f44,#f22,#f00,#f00,#f22,#f44,#f66,#f99,#fbb,#fdd,#fbf9fc,#ddf,#ccf,#aaf,#77f,#55f,#33f,#22f,#22f,#22f,#33f,#55f,#77f,#99f,#ccf,#eef,#fdd,#faa,#f77,#f44,#f22,#f00,#f00,#f22,#f44,#f66,#f99)"></div><div style="height:4px;background:linear-gradient(90deg,#f88,#faa,#fdd,#fdf9f8,#eef,#ccf,#aaf,#88f,#55f,#33f,#22f,#22f,#22f,#33f,#55f,#77f,#99f,#ccf,#eef,#fee,#fbb,#f88,#f55,#f33,#f11,#f00,#f11,#f33,#f66,#f88,#fbb,#fdd,#fdf9f8,#ddf,#ccf,#aaf,#77f,#55f,#33f,#22f,#22f,#22f,#33f,#55f,#77f,#99f,#ccf,#eef,#fdd,#fbb,#f88,#f55,#f33,#f11,#f00,#f11,#f33,#f66,#f88,#fbb,#fdd,#fdf9f8,#ddf,#bbf,#99f,#77f,#55f,#33f,#22f,#22f,#22f,#33f,#55f,#77f,#aaf,#ccf,#eef,#fdd,#faa,#f88,#f55,#f22,#f11,#f00,#f11,#f33,#f66,#f99,#fbb,#fdd)"></div><div style="height:4px;background:linear-gradient(90deg,#fcc,#fee,#eef,#ccf,#aaf,#77f,#55f,#33f,#22f,#22f,#22f,#33f,#55f,#77f,#99f,#ccf,#eef,#fee,#fbb,#f99,#f66,#f44,#f22,#f11,#f22,#f33,#f55,#f88,#faa,#fdd,#fee,#eef,#ccf,#aaf,#77f,#55f,#33f,#22f,#22f,#22f,#33f,#55f,#77f,#aaf,#ccf,#eef,#fee,#fbb,#f99,#f66,#f44,#f22,#f11,#f22,#f33,#f55,#f88,#faa,#fdd,#fdf9f8,#ddf,#bbf,#99f,#77f,#55f,#33f,#22f,#22f,#22f,#33f,#55f,#77f,#aaf,#ccf,#eef,#fdd,#fbb,#f88,#f66,#f33,#f22,#f11,#f22,#f33,#f66,#f88,#fbb,#fdd,#fdf9f8,#ddf)"></div><div style="height:4px;background:linear-gradient(90deg,#eef,#ccf,#aaf,#77f,#55f,#33f,#22f,#22f,#22f,#33f,#55f,#77f,#99f,#ccf,#eef,#fee,#fcc,#f99,#f77,#f55,#f33,#f22,#f22,#f44,#f66,#f88,#faa,#fcc,#fee,#eef,#ccf,#aaf,#77f,#55f,#33f,#22f,#22f,#22f,#33f,#55f,#77f,#aaf,#ccf,#eef,#fee,#fcc,#f99,#f77,#f55,#f33,#f22,#f33,#f44,#f66,#f88,#faa,#fcc,#fee,#eef,#ccf,#99f,#77f,#55f,#33f,#22f,#22f,#22f,#33f,#55f,#88f,#aaf,#ccf,#eef,#fee,#fbb,#f99,#f77,#f44,#f33,#f22,#f33,#f44,#f66,#f88,#faa,#fdd,#fdf9f8,#eef,#ccf,#99f)"></div><div style="height:4px;background:linear-gradient(90deg,#aaf,#88f,#55f,#33f,#22f,#22f,#22f,#33f,#55f,#77f,#aaf,#ccf,#eef,#fee,#fcc,#faa,#f88,#f66,#f44,#f33,#f33,#f44,#f66,#f88,#faa,#fcc,#fee,#eef,#ccf,#aaf,#88f,#55f,#33f,#22f,#22f,#22f,#33f,#55f,#88f,#aaf,#ccf,#eef,#fee,#fcc,#faa,#f88,#f55,#f44,#f33,#f33,#f44,#f66,#f88,#faa,#fcc,#fee,#eef,#ccf,#aaf,#77f,#55f,#33f,#22f,#22f,#22f,#44f,#66f,#88f,#aaf,#ccf,#eef,#fee,#fcc,#faa,#f77,#f55,#f44,#f33,#f33,#f44,#f66,#f88,#fbb,#fdd,#fee,#eef,#ccf,#aaf,#77f,#55f)"></div><div style="height:4px;background:linear-gradient(90deg,#66f,#33f,#22f,#11f,#22f,#33f,#55f,#77f,#aaf,#ccf,#eef,#fdf9f8,#fdd,#fbb,#f99,#f77,#f55,#f44,#f44,#f55,#f66,#f88,#faa,#fcc,#fee,#eef,#ccf,#aaf,#88f,#55f,#33f,#22f,#11f,#22f,#44f,#55f,#88f,#aaf,#ccf,#eef,#fdf9f8,#fdd,#fbb,#f99,#f77,#f55,#f44,#f44,#f55,#f77,#f99,#fbb,#fdd,#fee,#eef,#ccf,#aaf,#88f,#55f,#33f,#22f,#11f,#22f,#44f,#66f,#88f,#aaf,#ccf,#eef,#fee,#fdd,#fbb,#f88,#f66,#f55,#f44,#f44,#f55,#f77,#f99,#fbb,#fdd,#fdf9f8,#eef,#ccf,#aaf,#88f,#55f,#33f,#22f)"></div><div style="height:4px;background:linear-gradient(90deg,#22f,#11f,#22f,#33f,#55f,#88f,#aaf,#ccf,#ddf,#fbf9fc,#fdd,#fcc,#faa,#f88,#f66,#f55,#f55,#f66,#f77,#f99,#fbb,#fdd,#fdf9f8,#eef,#ccf,#aaf,#88f,#66f,#33f,#22f,#11f,#22f,#33f,#55f,#88f,#aaf,#ccf,#eef,#fdf9f8,#fdd,#fcc,#faa,#f88,#f66,#f55,#f55,#f66,#f77,#f99,#fbb,#fdd,#fdf9f8,#ddf,#ccf,#aaf,#88f,#66f,#33f,#22f,#11f,#22f,#33f,#66f,#88f,#aaf,#ccf,#eef,#fdf9f8,#fdd,#fbb,#f99,#f88,#f66,#f55,#f55,#f66,#f77,#f99,#fbb,#fdd,#fdf9f8,#ddf,#bbf,#aaf,#77f,#55f,#33f,#22f,#11f,#22f)"></div><div style="height:4px;background:linear-gradient(90deg,#11f,#22f,#55f,#77f,#aaf,#ccf,#ddf,#f7f7fe,#fee,#fcc,#fbb,#f99,#f88,#f66,#f66,#f66,#f88,#f99,#fbb,#fdd,#fdf9f8,#ddf,#bbf,#99f,#77f,#55f,#33f,#22f,#11f,#11f,#33f,#55f,#77f,#aaf,#ccf,#eef,#fbf9fc,#fee,#fcc,#fbb,#f99,#f77,#f66,#f66,#f77,#f88,#f99,#fbb,#fdd,#fbf9fc,#ddf,#bbf,#99f,#77f,#55f,#33f,#22f,#11f,#11f,#33f,#55f,#88f,#aaf,#ccf,#eef,#fdf9f8,#fee,#fcc,#faa,#f99,#f77,#f66,#f66,#f77,#f88,#f99,#fbb,#fdd,#f7f7fe,#ddf,#bbf,#99f,#77f,#55f,#33f,#22f,#11f,#11f,#33f,#55f)"></div><div style="height:4px;background:linear-gradient(90deg,#44f,#66f,#99f,#bbf,#ddf,#f7f7fe,#fee,#fdd,#fbb,#faa,#f99,#f88,#f77,#f77,#f88,#faa,#fbb,#fdd,#f7f7fe,#ddf,#bbf,#99f,#66f,#44f,#22f,#11f,#11f,#11f,#22f,#44f,#77f,#99f,#ccf,#ddf,#f7f7fe,#fee,#fdd,#fbb,#faa,#f99,#f88,#f77,#f77,#f88,#faa,#fcc,#fee,#f7f7fe,#ddf,#bbf,#88f,#66f,#44f,#22f,#11f,#11f,#11f,#22f,#44f,#77f,#99f,#ccf,#eef,#fbf9fc,#fee,#fcc,#fbb,#faa,#f88,#f77,#f77,#f77,#f88,#faa,#fcc,#fee,#eef,#ccf,#aaf,#88f,#66f,#44f,#22f,#11f,#11f,#11f,#22f,#55f,#77f,#aaf)"></div><div style="height:4px;background:linear-gradient(90deg,#88f,#bbf,#ddf,#eef,#fee,#fdd,#fcc,#faa,#f99,#f99,#f88,#f88,#f99,#faa,#fcc,#fee,#eef,#ccf,#aaf,#88f,#66f,#44f,#22f,#11f,#00f,#11f,#22f,#44f,#66f,#99f,#bbf,#ddf,#f7f7fe,#fee,#fdd,#fcc,#faa,#f99,#f99,#f88,#f88,#f99,#fbb,#fcc,#fee,#eef,#ccf,#aaf,#88f,#55f,#33f,#22f,#11f,#00f,#11f,#22f,#44f,#66f,#99f,#bbf,#ddf,#f7f7fe,#fee,#fdd,#fbb,#faa,#f99,#f99,#f88,#f88,#f99,#fbb,#fcc,#fee,#eef,#ccf,#aaf,#77f,#55f,#33f,#22f,#11f,#00f,#11f,#22f,#44f,#66f,#99f,#bbf,#ddf)"></div><div style="height:4px;background:linear-gradient(90deg,#ccf,#eef,#fdf9f8,#fdd,#fcc,#fbb,#faa,#f99,#f99,#f99,#faa,#fbb,#fdd,#fdf9f8,#ddf,#bbf,#99f,#77f,#55f,#33f,#11f,#00f,#00f,#11f,#22f,#44f,#66f,#99f,#bbf,#ddf,#eef,#fee,#fdd,#fcc,#fbb,#faa,#f99,#f99,#f99,#faa,#fbb,#fdd,#fdf9f8,#ddf,#bbf,#99f,#77f,#55f,#33f,#11f,#00f,#00f,#11f,#33f,#55f,#77f,#99f,#bbf,#ddf,#eef,#fee,#fdd,#fcc,#fbb,#faa,#f99,#f99,#f99,#faa,#fbb,#fdd,#fdf9f8,#ddf,#bbf,#99f,#77f,#44f,#22f,#11f,#00f,#00f,#11f,#33f,#55f,#77f,#99f,#bbf,#ddf,#eef,#fee)"></div><div style="height:4px;background:linear-gradient(90deg,#fdf9f8,#fee,#fdd,#fbb,#fbb,#faa,#f99,#faa,#faa,#fbb,#fdd,#fdf9f8,#ddf,#aaf,#88f,#66f,#44f,#22f,#11f,#00f,#00f,#11f,#33f,#55f,#77f,#99f,#bbf,#ddf,#eef,#fdf9f8,#fee,#fcc,#fbb,#faa,#faa,#f99,#faa,#faa,#fcc,#fdd,#fbf9fc,#ddf,#aaf,#88f,#66f,#44f,#22f,#11f,#00f,#00f,#11f,#33f,#55f,#77f,#99f,#bbf,#ddf,#eef,#fdf9f8,#fdd,#fcc,#fbb,#faa,#faa,#f99,#faa,#faa,#fcc,#fdd,#f7f7fe,#ccf,#aaf,#88f,#66f,#44f,#22f,#11f,#00f,#00f,#11f,#33f,#55f,#77f,#99f,#bbf,#ddf,#eef,#fdf9f8,#fdd,#fcc)"></div><div style="height:4px;background:linear-gradient(90deg,#fdd,#fcc,#fbb,#faa,#faa,#faa,#fbb,#fcc,#fdd,#fbf9fc,#ddf,#aaf,#88f,#55f,#33f,#22f,#11f,#00f,#11f,#22f,#33f,#55f,#77f,#99f,#bbf,#ddf,#eef,#fdf9f8,#fee,#fdd,#fcc,#fbb,#faa,#faa,#faa,#fbb,#fcc,#fdd,#f7f7fe,#ddf,#aaf,#77f,#55f,#33f,#22f,#11f,#00f,#11f,#22f,#33f,#66f,#88f,#aaf,#bbf,#ddf,#eef,#fdf9f8,#fee,#fdd,#fcc,#fbb,#faa,#faa,#faa,#fbb,#fcc,#fdd,#f7f7fe,#ddf,#aaf,#77f,#55f,#33f,#11f,#11f,#00f,#11f,#22f,#44f,#66f,#88f,#aaf,#ccf,#ddf,#eef,#fdf9f8,#fee,#fdd,#fcc,#fbb)"></div><div style="height:4px;background:linear-gradient(90deg,#fcc,#fbb,#fbb,#fbb,#fbb,#fcc,#fdd,#fbf9fc,#ddf,#bbf,#88f,#66f,#33f,#11f,#11f,#11f,#11f,#33f,#44f,#66f,#88f,#aaf,#ccf,#ddf,#eef,#fbf9fc,#fee,#fdd,#fcc,#fcc,#fbb,#fbb,#fbb,#fbb,#fcc,#fdd,#f7f7fe,#ddf,#bbf,#88f,#55f,#33f,#11f,#11f,#11f,#22f,#33f,#44f,#66f,#88f,#aaf,#ccf,#ddf,#eef,#fbf9fc,#fee,#fdd,#fcc,#fcc,#fbb,#fbb,#fbb,#fbb,#fcc,#fee,#f7f7fe,#ddf,#aaf,#88f,#55f,#33f,#11f,#11f,#11f,#22f,#33f,#55f,#66f,#88f,#aaf,#ccf,#ddf,#eef,#fdf9f8,#fee,#fdd,#fcc,#fbb,#fbb,#fbb)"></div><div style="height:4px;background:linear-gradient(90deg,#fbb,#fbb,#fbb,#fcc,#fdd,#fdf9f8,#ddf,#bbf,#99f,#77f,#44f,#33f,#22f,#11f,#22f,#44f,#66f,#77f,#99f,#bbf,#ccf,#ddf,#eef,#eef,#fbf9fc,#fee,#fdd,#fcc,#fcc,#fbb,#fbb,#fbb,#fcc,#fdd,#fdf9f8,#ddf,#bbf,#99f,#66f,#44f,#33f,#22f,#11f,#22f,#44f,#66f,#88f,#99f,#bbf,#ccf,#ddf,#eef,#eef,#fdf9f8,#fee,#fdd,#fcc,#fcc,#fbb,#fbb,#fbb,#fcc,#fdd,#fbf9fc,#ddf,#bbf,#99f,#66f,#44f,#22f,#22f,#11f,#33f,#44f,#66f,#88f,#99f,#bbf,#ccf,#ddf,#eef,#f7f7fe,#fdf9f8,#fee,#fdd,#fcc,#fbb,#fbb,#fbb,#fbb)"></div><div style="height:4px;background:linear-gradient(90deg,#fcc,#fcc,#fdd,#fdd,#fdf9f8,#ddf,#aaf,#88f,#66f,#44f,#33f,#33f,#44f,#55f,#77f,#88f,#aaf,#bbf,#ddf,#ddf,#eef,#eef,#f7f7fe,#fbf9fc,#fdf9f8,#fdd,#fcc,#fcc,#fcc,#fcc,#fcc,#fdd,#fdd,#fdf9f8,#ddf,#aaf,#88f,#66f,#44f,#33f,#33f,#44f,#55f,#77f,#99f,#aaf,#ccf,#ddf,#ddf,#eef,#eef,#f7f7fe,#fbf9fc,#fee,#fdd,#fcc,#fcc,#fcc,#fcc,#fcc,#fdd,#fee,#fbf9fc,#ccf,#99f,#77f,#55f,#44f,#33f,#33f,#44f,#55f,#77f,#99f,#aaf,#ccf,#ddf,#eef,#eef,#eef,#f7f7fe,#fbf9fc,#fee,#fdd,#fcc,#fcc,#fcc,#fcc,#fcc,#fdd)"></div><div style="height:4px;background:linear-gradient(90deg,#fdd,#fee,#fee,#fee,#eef,#bbf,#77f,#66f,#55f,#55f,#55f,#66f,#88f,#aaf,#bbf,#ccf,#ddf,#eef,#eef,#f7f7fe,#f7f7fe,#f7f7fe,#fbf9fc,#fbf9fc,#fee,#fdd,#fcc,#fcc,#fdd,#fdd,#fee,#fee,#fdf9f8,#eef,#bbf,#77f,#66f,#55f,#55f,#55f,#77f,#88f,#aaf,#bbf,#ccf,#ddf,#eef,#eef,#f7f7fe,#f7f7fe,#f7f7fe,#fbf9fc,#fbf9fc,#fee,#fdd,#fcc,#fcc,#fdd,#fdd,#fee,#fee,#fdf9f8,#eef,#bbf,#77f,#66f,#55f,#55f,#66f,#77f,#88f,#aaf,#bbf,#ccf,#ddf,#eef,#eef,#f7f7fe,#f7f7fe,#f7f7fe,#fbf9fc,#fdf9f8,#fee,#fdd,#fcc,#fcc,#fdd,#fdd,#fee,#fee)"></div><div style="height:4px;background:linear-gradient(90deg,#fee,#fee,#fdf9f8,#fbf9fc,#eef,#bbf,#77f,#66f,#77f,#88f,#99f,#aaf,#ccf,#ddf,#eef,#eef,#eef,#f7f7fe,#f7f7fe,#fbf9fc,#fbf9fc,#fbf9fc,#fbf9fc,#fbf9fc,#fdf9f8,#fee,#fdd,#fdd,#fee,#fee,#fee,#fdf9f8,#fbf9fc,#eef,#bbf,#77f,#66f,#77f,#88f,#99f,#bbf,#ccf,#ddf,#eef,#eef,#eef,#f7f7fe,#f7f7fe,#fbf9fc,#fbf9fc,#fbf9fc,#fbf9fc,#fbf9fc,#fdf9f8,#fee,#fdd,#fdd,#fee,#fee,#fee,#fdf9f8,#fbf9fc,#eef,#aaf,#77f,#77f,#77f,#88f,#99f,#bbf,#ccf,#ddf,#eef,#eef,#f7f7fe,#f7f7fe,#f7f7fe,#fbf9fc,#fbf9fc,#fbf9fc,#fbf9fc,#fbf9fc,#fdf9f8,#fee,#fdd,#fdd,#fee,#fee,#fee,#fdf9f8)"></div></div></div><div class="hm" style="left:698.2px;top:640.1px;width:473.4px;height:400.1px"><div style="position:absolute;left:-6.0px;top:-6.0px;width:485.4px;filter:blur(1.0px)"><div style="height:4px;background:linear-gradient(90deg,#fbf9fc,#fbf9fc,#fbf9fc,#fbf9fc,#fbf9fc,#fbf9fc,#fbf9fc,#fbf9fc,#fbf9fc,#fbf9fc,#fbf9fc,#fbf9fc,#fbf9fc,#fbf9fc,#fbf9fc,#fbf9fc,#fbf9fc,#fbf9fc,#fbf9fc,#fbf9fc,#fbf9fc,#fbf9fc,#fbf9fc,#fbf9fc,#fbf9fc,#fbf9fc,#fbf9fc,#fbf9fc,#fbf9fc,#fbf9fc,#fbf9fc,#fbf9fc,#fbf9fc,#fbf9fc,#fbf9fc,#fbf9fc,#fbf9fc,#fbf9fc,#fbf9fc,#fbf9fc,#fbf9fc,#fbf9fc,#fbf9fc,#fbf9fc,#fbf9fc,#fdf9f8,#fdf9f8,#fdf9f8,#fdf9f8,#fdf9f8,#fdf9f8,#fdf9f8,#fbf9fc,#fdf9f8,#fee,#fbf9fc,#fbf9fc,#fbf9fc,#fbf9fc,#fbf9fc,#fdf9f8,#fdf9f8,#fdf9f8,#fbf9fc,#fbf9fc,#fbf9fc,#fbf9fc,#fbf9fc,#fbf9fc,#fbf9fc,#fbf9fc,#fbf9fc,#fbf9fc,#fbf9fc,#fbf9fc,#fbf9fc,#fbf9fc,#fbf9fc,#fbf9fc,#fbf9fc,#fbf9fc,#fbf9fc,#fbf9fc,#fbf9fc,#fbf9fc,#fbf9fc,#fbf9fc,#fbf9fc,#fbf9fc,#fbf9fc)"></div><div style="height:4px;background:linear-gradient(90deg,#fbf9fc,#fbf9fc,#fbf9fc,#fbf9fc,#fbf9fc,#fbf9fc,#fbf9fc,#fbf9fc,#fbf9fc,#fbf9fc,#fbf9fc,#fbf9fc,#fbf9fc,#fbf9fc,#fbf9fc,#fbf9fc,#fdf9f8,#fdf9f8,#fdf9f8,#fbf9fc,#fbf9fc,#fbf9fc,#fbf9fc,#fbf9fc,#fbf9fc,#fbf9fc,#fbf9fc,#fbf9fc,#fbf9fc,#fbf9fc,#fbf9fc,#fbf9fc,#fbf9fc,#fbf9fc,#fbf9fc,#fbf9fc,#fbf9fc,#fbf9fc,#fdf9f8,#fdf9f8,#fee,#fdf9f8,#fbf9fc,#fbf9fc,#fdf9f8,#fee,#fdd,#fee,#fee,#fdd,#fdd,#fee,#fbf9fc,#fee,#fdd,#fdf9f8,#fbf9fc,#fbf9fc,#fbf9fc,#fdf9f8,#fee,#fdd,#fee,#fdf9f8,#fdf9f8,#fee,#fee,#fdf9f8,#fbf9fc,#fbf9fc,#fbf9fc,#fbf9fc,#fbf9fc,#f7f7fe,#f7f7fe,#f7f7fe,#fbf9fc,#fbf9fc,#fbf9fc,#fbf9fc,#fbf9fc,#fbf9fc,#fbf9fc,#fbf9fc,#fbf9fc,#fbf9fc,#fbf9fc,#fbf9fc,#fbf9fc,#fbf9fc)"></div><div style="height:4px;background:linear-gradient(90deg,#f7f7fe,#f7f7fe,#eef,#f7f7fe,#f7f7fe,#fbf9fc,#fbf9fc,#f7f7fe,#fbf9fc,#fbf9fc,#fbf9fc,#fbf9fc,#fbf9fc,#fbf9fc,#fbf9fc,#fbf9fc,#fdf9f8,#fee,#fee,#fdf9f8,#fbf9fc,#fbf9fc,#fbf9fc,#fbf9fc,#fbf9fc,#fbf9fc,#fbf9fc,#fbf9fc,#fdf9f8,#fdf9f8,#fdf9f8,#fbf9fc,#fbf9fc,#fbf9fc,#fbf9fc,#fbf9fc,#fbf9fc,#fbf9fc,#fbf9fc,#fee,#fdd,#fdf9f8,#f7f7fe,#fdf9f8,#fee,#fee,#fdd,#fee,#fee,#fee,#fee,#fdf9f8,#fbf9fc,#fdf9f8,#fee,#f7f7fe,#f7f7fe,#fbf9fc,#fdf9f8,#fee,#fee,#fdd,#fee,#fdf9f8,#fee,#fcc,#fcc,#fee,#fdf9f8,#fbf9fc,#fbf9fc,#fbf9fc,#f7f7fe,#eef,#ddf,#eef,#f7f7fe,#fbf9fc,#fbf9fc,#fbf9fc,#fbf9fc,#fbf9fc,#fbf9fc,#fbf9fc,#fbf9fc,#fbf9fc,#fdf9f8,#fdf9f8,#fbf9fc,#fbf9fc)"></div><div style="height:4px;background:linear-gradient(90deg,#f7f7fe,#f7f7fe,#eef,#eef,#f7f7fe,#f7f7fe,#eef,#ddf,#f7f7fe,#fbf9fc,#fbf9fc,#fbf9fc,#fbf9fc,#fbf9fc,#fbf9fc,#fbf9fc,#fdf9f8,#fee,#fee,#fdf9f8,#fbf9fc,#fbf9fc,#fbf9fc,#fbf9fc,#fbf9fc,#fbf9fc,#fbf9fc,#fbf9fc,#fdf9f8,#fee,#f7f7fe,#eef,#f7f7fe,#fbf9fc,#fbf9fc,#fdf9f8,#fbf9fc,#fbf9fc,#f7f7fe,#eef,#eef,#eef,#f7f7fe,#fdf9f8,#fdd,#fee,#fee,#fdf9f8,#eef,#ddf,#ddf,#eef,#f7f7fe,#f7f7fe,#eef,#eef,#f7f7fe,#fbf9fc,#fdd,#fcc,#fee,#fdf9f8,#fbf9fc,#fdf9f8,#fee,#fdd,#fdd,#fee,#fdf9f8,#fbf9fc,#fbf9fc,#fbf9fc,#f7f7fe,#eef,#fbf9fc,#fee,#fdf9f8,#fbf9fc,#f7f7fe,#f7f7fe,#fbf9fc,#fbf9fc,#fbf9fc,#fbf9fc,#fbf9fc,#fdf9f8,#fee,#fee,#fdf9f8,#fbf9fc)"></div><div style="height:4px;background:linear-gradient(90deg,#fbf9fc,#f7f7fe,#f7f7fe,#eef,#eef,#eef,#eef,#eef,#f7f7fe,#fbf9fc,#fbf9fc,#fbf9fc,#fbf9fc,#fbf9fc,#fbf9fc,#fbf9fc,#fdf9f8,#fdf9f8,#fdf9f8,#fbf9fc,#fbf9fc,#fbf9fc,#fbf9fc,#fbf9fc,#fbf9fc,#fbf9fc,#fbf9fc,#fbf9fc,#fbf9fc,#eef,#ccf,#ddf,#f7f7fe,#fbf9fc,#fdf9f8,#fee,#fdf9f8,#fbf9fc,#f7f7fe,#f7f7fe,#f7f7fe,#fbf9fc,#fbf9fc,#fdf9f8,#fdf9f8,#fbf9fc,#fee,#fdf9f8,#eef,#ccf,#ccf,#ccf,#eef,#eef,#eef,#eef,#fbf9fc,#fdf9f8,#fee,#fdd,#fee,#fdf9f8,#fbf9fc,#fbf9fc,#fdf9f8,#fdf9f8,#fdf9f8,#fdf9f8,#fbf9fc,#fbf9fc,#fbf9fc,#fbf9fc,#fbf9fc,#fee,#fdd,#fcc,#fee,#fdf9f8,#f7f7fe,#eef,#f7f7fe,#fbf9fc,#fbf9fc,#fbf9fc,#fdf9f8,#fee,#fcc,#fdd,#fdf9f8,#fbf9fc)"></div><div style="height:4px;background:linear-gradient(90deg,#fbf9fc,#fbf9fc,#f7f7fe,#eef,#eef,#ddf,#eef,#f7f7fe,#fbf9fc,#fbf9fc,#fbf9fc,#fbf9fc,#fbf9fc,#fbf9fc,#fbf9fc,#fbf9fc,#fbf9fc,#fbf9fc,#fbf9fc,#fdf9f8,#fdf9f8,#fdf9f8,#fbf9fc,#fbf9fc,#fbf9fc,#fbf9fc,#fbf9fc,#fdf9f8,#fdf9f8,#eef,#ddf,#eef,#f7f7fe,#fbf9fc,#fdf9f8,#fdf9f8,#fdf9f8,#fbf9fc,#fbf9fc,#fdf9f8,#fdf9f8,#fee,#fee,#fee,#fee,#fdd,#fcc,#fee,#fbf9fc,#eef,#ddf,#ccf,#ccf,#ddf,#eef,#f7f7fe,#fdf9f8,#fee,#fee,#fdd,#fee,#fdf9f8,#fbf9fc,#fbf9fc,#fbf9fc,#fbf9fc,#fbf9fc,#fbf9fc,#fbf9fc,#fbf9fc,#fbf9fc,#fbf9fc,#fbf9fc,#fdf9f8,#fee,#fdd,#fee,#fdf9f8,#eef,#ddf,#f7f7fe,#fbf9fc,#fbf9fc,#fbf9fc,#fdf9f8,#fee,#fcc,#fdd,#fdf9f8,#fbf9fc)"></div><div style="height:4px;background:linear-gradient(90deg,#f7f7fe,#f7f7fe,#f7f7fe,#f7f7fe,#f7f7fe,#f7f7fe,#f7f7fe,#fbf9fc,#fbf9fc,#fbf9fc,#fbf9fc,#fbf9fc,#fbf9fc,#fbf9fc,#fbf9fc,#fdf9f8,#fee,#fdf9f8,#fdf9f8,#fee,#fee,#fee,#fdf9f8,#f7f7fe,#fbf9fc,#fbf9fc,#fdf9f8,#fdd,#fee,#fbf9fc,#f7f7fe,#f7f7fe,#fbf9fc,#fbf9fc,#fbf9fc,#fbf9fc,#fbf9fc,#fbf9fc,#fbf9fc,#fdf9f8,#fee,#fee,#fee,#fdd,#fee,#fcc,#fcc,#fdd,#fdf9f8,#f7f7fe,#eef,#ddf,#ddf,#eef,#eef,#eef,#f7f7fe,#fdf9f8,#fdf9f8,#fdf9f8,#fdf9f8,#fbf9fc,#eef,#eef,#fdf9f8,#fee,#fdf9f8,#fdf9f8,#fbf9fc,#fbf9fc,#fbf9fc,#fbf9fc,#fbf9fc,#fbf9fc,#fdf9f8,#fdd,#fdd,#fdf9f8,#f7f7fe,#f7f7fe,#fbf9fc,#fbf9fc,#fbf9fc,#fbf9fc,#fdf9f8,#fee,#fdd,#fee,#fdf9f8,#fbf9fc)"></div><div style="height:4px;background:linear-gradient(90deg,#eef,#ddf,#eef,#f7f7fe,#fbf9fc,#fbf9fc,#fbf9fc,#fbf9fc,#fbf9fc,#fbf9fc,#fbf9fc,#fdf9f8,#fdf9f8,#fbf9fc,#fbf9fc,#fdf9f8,#fdf9f8,#fbf9fc,#fbf9fc,#fdf9f8,#fdf9f8,#fbf9fc,#f7f7fe,#eef,#f7f7fe,#fbf9fc,#fdf9f8,#fdd,#fdd,#fdf9f8,#fbf9fc,#fbf9fc,#fbf9fc,#fbf9fc,#fbf9fc,#fbf9fc,#fbf9fc,#fbf9fc,#fbf9fc,#fbf9fc,#fdf9f8,#fdf9f8,#fee,#fee,#fee,#fee,#fee,#f7f7fe,#f7f7fe,#f7f7fe,#f7f7fe,#eef,#f7f7fe,#f7f7fe,#eef,#eef,#f7f7fe,#fdf9f8,#fee,#fee,#fee,#fdf9f8,#eef,#fbf9fc,#fee,#fee,#fdf9f8,#fbf9fc,#fbf9fc,#fbf9fc,#fbf9fc,#fbf9fc,#fbf9fc,#fbf9fc,#fdf9f8,#fee,#fee,#fdf9f8,#fbf9fc,#fbf9fc,#fbf9fc,#fbf9fc,#fbf9fc,#fbf9fc,#fdf9f8,#fdf9f8,#fdf9f8,#fdf9f8,#fbf9fc,#fbf9fc)"></div><div style="height:4px;background:linear-gradient(90deg,#f7f7fe,#eef,#eef,#f7f7fe,#fbf9fc,#fbf9fc,#fbf9fc,#f7f7fe,#ddf,#eef,#fdf9f8,#fee,#fdf9f8,#f7f7fe,#f7f7fe,#f7f7fe,#ddf,#ddf,#f7f7fe,#fbf9fc,#fbf9fc,#f7f7fe,#eef,#ddf,#eef,#fbf9fc,#fbf9fc,#fee,#fee,#fbf9fc,#fbf9fc,#fbf9fc,#fbf9fc,#fbf9fc,#fdf9f8,#fbf9fc,#fdf9f8,#fdf9f8,#fdf9f8,#fdf9f8,#fbf9fc,#fbf9fc,#fdf9f8,#fdf9f8,#fdf9f8,#f7f7fe,#f7f7fe,#fdf9f8,#fdf9f8,#fdf9f8,#fbf9fc,#fbf9fc,#fdf9f8,#fbf9fc,#f7f7fe,#f7f7fe,#fdf9f8,#fee,#fdd,#fdd,#fee,#fdf9f8,#fbf9fc,#fdf9f8,#fdf9f8,#f7f7fe,#ddf,#eef,#f7f7fe,#fbf9fc,#fbf9fc,#fdf9f8,#fdf9f8,#fdf9f8,#fdf9f8,#fdf9f8,#fee,#fdf9f8,#fdf9f8,#fdf9f8,#fdf9f8,#fdf9f8,#fbf9fc,#fbf9fc,#fbf9fc,#fbf9fc,#fdf9f8,#fdf9f8,#fdf9f8,#fbf9fc)"></div><div style="height:4px;background:linear-gradient(90deg,#fbf9fc,#f7f7fe,#f7f7fe,#fbf9fc,#fbf9fc,#fbf9fc,#fbf9fc,#eef,#ddf,#eef,#fee,#fdd,#f7f7fe,#ddf,#ddf,#eef,#eef,#eef,#f7f7fe,#fbf9fc,#fbf9fc,#fbf9fc,#f7f7fe,#eef,#f7f7fe,#fbf9fc,#fbf9fc,#fdf9f8,#fbf9fc,#fbf9fc,#fbf9fc,#fbf9fc,#fbf9fc,#fdf9f8,#fee,#fdf9f8,#fee,#fdd,#fdd,#fee,#fdf9f8,#fbf9fc,#fbf9fc,#fdf9f8,#fdf9f8,#f7f7fe,#fdf9f8,#fee,#fee,#fee,#fdf9f8,#fdf9f8,#fee,#fdf9f8,#fbf9fc,#fbf9fc,#fdf9f8,#fee,#fdd,#fdd,#fee,#f7f7fe,#f7f7fe,#fdf9f8,#fdf9f8,#f7f7fe,#eef,#eef,#eef,#eef,#fbf9fc,#fdf9f8,#fdf9f8,#fdf9f8,#fbf9fc,#fdf9f8,#fee,#fee,#fdf9f8,#fee,#fdd,#fee,#fdf9f8,#fdf9f8,#fdf9f8,#fdf9f8,#fdf9f8,#fdf9f8,#fee,#fdf9f8)"></div><div style="height:4px;background:linear-gradient(90deg,#fbf9fc,#fbf9fc,#fbf9fc,#fbf9fc,#fbf9fc,#fbf9fc,#fbf9fc,#fbf9fc,#f7f7fe,#fdf9f8,#fee,#fdd,#fee,#fdf9f8,#f7f7fe,#fbf9fc,#fbf9fc,#fbf9fc,#fbf9fc,#fbf9fc,#fbf9fc,#fbf9fc,#f7f7fe,#f7f7fe,#f7f7fe,#f7f7fe,#f7f7fe,#f7f7fe,#fbf9fc,#fbf9fc,#fbf9fc,#fbf9fc,#fbf9fc,#fee,#fee,#fee,#fee,#fcc,#fcc,#fee,#fdf9f8,#fbf9fc,#fbf9fc,#fdf9f8,#fbf9fc,#eef,#eef,#fee,#fee,#fdf9f8,#f7f7fe,#fdf9f8,#fdd,#fee,#fdf9f8,#fdf9f8,#fdf9f8,#fee,#fee,#fee,#fdf9f8,#eef,#f7f7fe,#fdf9f8,#fdf9f8,#fbf9fc,#f7f7fe,#f7f7fe,#eef,#eef,#fdf9f8,#fee,#fdf9f8,#fdf9f8,#f7f7fe,#f7f7fe,#fee,#fee,#fee,#fdd,#fcc,#fdd,#fdf9f8,#fdf9f8,#fdf9f8,#fdf9f8,#fee,#fee,#fee,#fdf9f8)"></div><div style="height:4px;background:linear-gradient(90deg,#fbf9fc,#fbf9fc,#fbf9fc,#f7f7fe,#f7f7fe,#f7f7fe,#fbf9fc,#fbf9fc,#fbf9fc,#fbf9fc,#fdf9f8,#fee,#fee,#fdf9f8,#fbf9fc,#fbf9fc,#fbf9fc,#fbf9fc,#fbf9fc,#fbf9fc,#fbf9fc,#fbf9fc,#fbf9fc,#fbf9fc,#f7f7fe,#eef,#eef,#f7f7fe,#fbf9fc,#f7f7fe,#f7f7fe,#fbf9fc,#fbf9fc,#fdf9f8,#fdf9f8,#fdf9f8,#fee,#fdd,#fdd,#fee,#fdf9f8,#fdf9f8,#fdf9f8,#fbf9fc,#f7f7fe,#eef,#eef,#f7f7fe,#fdf9f8,#fbf9fc,#f7f7fe,#fee,#fdd,#fdd,#fee,#fdf9f8,#fdf9f8,#fee,#fee,#fee,#fdf9f8,#fbf9fc,#fdf9f8,#fee,#fdf9f8,#fdf9f8,#fdf9f8,#fdf9f8,#f7f7fe,#f7f7fe,#fcc,#fdd,#fee,#fee,#fdf9f8,#fbf9fc,#fee,#fee,#fee,#fee,#fdd,#fee,#fee,#fee,#fee,#fee,#fee,#fee,#fee,#fdf9f8)"></div><div style="height:4px;background:linear-gradient(90deg,#f7f7fe,#f7f7fe,#f7f7fe,#f7f7fe,#f7f7fe,#f7f7fe,#f7f7fe,#f7f7fe,#fbf9fc,#fdf9f8,#fdf9f8,#fdf9f8,#fdf9f8,#fdf9f8,#fdf9f8,#fdf9f8,#fdf9f8,#fdf9f8,#fdf9f8,#fdf9f8,#fee,#fee,#fdf9f8,#fbf9fc,#f7f7fe,#eef,#eef,#f7f7fe,#fdf9f8,#f7f7fe,#eef,#f7f7fe,#fbf9fc,#fbf9fc,#fbf9fc,#fdf9f8,#fdd,#fcc,#fdd,#fee,#fdf9f8,#fbf9fc,#fdf9f8,#fdf9f8,#f7f7fe,#f7f7fe,#f7f7fe,#fdf9f8,#fee,#fee,#fee,#fdd,#fbb,#fcc,#fee,#fee,#fdd,#fdd,#fdd,#fee,#fdf9f8,#eef,#eef,#fdf9f8,#fee,#fee,#fee,#fee,#fee,#fee,#fcc,#fdd,#fee,#fdd,#fcc,#fcc,#fee,#fee,#fee,#fee,#fee,#fee,#fee,#fee,#fee,#fdd,#fdd,#fee,#fee,#fee)"></div><div style="height:4px;background:linear-gradient(90deg,#f7f7fe,#eef,#eef,#eef,#eef,#eef,#eef,#f7f7fe,#fee,#fee,#fdf9f8,#fdf9f8,#fdf9f8,#fdf9f8,#fee,#fee,#fee,#fee,#fee,#fee,#fcc,#fcc,#fee,#fdf9f8,#fbf9fc,#f7f7fe,#f7f7fe,#fbf9fc,#fdd,#fdf9f8,#eef,#f7f7fe,#f7f7fe,#fbf9fc,#fdf9f8,#fbf9fc,#fee,#fdd,#fee,#fee,#f7f7fe,#eef,#f7f7fe,#fdf9f8,#fee,#fee,#fee,#fee,#fdd,#fdd,#fdd,#fcc,#fcc,#fcc,#fdd,#fcc,#fbb,#fbb,#fdd,#fdd,#fdf9f8,#ddf,#ddf,#fbf9fc,#fee,#fee,#fee,#fee,#fee,#fdd,#fdd,#fdd,#fdd,#fdd,#fcc,#fcc,#fdd,#fee,#fee,#fee,#fee,#fee,#fee,#fdd,#fdd,#fcc,#fcc,#fdd,#fdd,#fee)"></div><div style="height:4px;background:linear-gradient(90deg,#eef,#ddf,#ccf,#ddf,#eef,#eef,#eef,#eef,#fee,#fee,#fee,#fdf9f8,#fee,#fee,#fee,#fee,#fdd,#fdd,#fdd,#fee,#fdd,#fdd,#fee,#fdf9f8,#fbf9fc,#f7f7fe,#f7f7fe,#fbf9fc,#fdd,#fee,#eef,#eef,#f7f7fe,#fdf9f8,#fee,#f7f7fe,#eef,#f7f7fe,#fdf9f8,#fdf9f8,#eef,#eef,#eef,#eef,#fee,#fdd,#fdd,#fee,#fee,#fdd,#fdd,#fdd,#fcc,#fcc,#fdd,#fdd,#fcc,#fdd,#fdd,#fdd,#fdd,#fee,#fbf9fc,#fdf9f8,#fee,#fee,#fee,#fdd,#fdd,#fdd,#fdd,#fdd,#fcc,#fcc,#fcc,#fdd,#fdd,#fdd,#fdd,#fdd,#fdd,#fdd,#fdd,#fdd,#fcc,#fbb,#fbb,#fcc,#fdd,#fee)"></div><div style="height:4px;background:linear-gradient(90deg,#eef,#ccf,#ccf,#ddf,#ddf,#ddf,#ccf,#bbf,#ddf,#f7f7fe,#fee,#fee,#fdd,#fdd,#fdd,#fcc,#fcc,#fbb,#faa,#fbb,#fdd,#fdd,#fee,#fdf9f8,#f7f7fe,#eef,#eef,#eef,#fbf9fc,#eef,#eef,#eef,#eef,#eef,#f7f7fe,#ddf,#ccf,#ddf,#fdf9f8,#fee,#fdf9f8,#f7f7fe,#f7f7fe,#f7f7fe,#fdd,#fcc,#fcc,#fee,#fee,#fdd,#fcc,#fcc,#fbb,#fcc,#fcc,#fcc,#fcc,#fdd,#fdd,#fee,#fee,#f7f7fe,#f7f7fe,#fdf9f8,#fee,#fdd,#fdd,#fdd,#fcc,#fcc,#fcc,#fcc,#faa,#f99,#fbb,#fdd,#fdd,#fdd,#fee,#fdd,#fbb,#fbb,#fcc,#fcc,#faa,#f99,#f99,#fbb,#fcc,#fdd)"></div><div style="height:4px;background:linear-gradient(90deg,#ddf,#ccf,#bbf,#bbf,#ccf,#ccf,#bbf,#bbf,#ccf,#fbf9fc,#fcc,#fbb,#fbb,#fcc,#fbb,#fbb,#faa,#faa,#f99,#faa,#fcc,#fdd,#fee,#fbf9fc,#eef,#ddf,#ddf,#ddf,#ddf,#ddf,#ddf,#ddf,#ddf,#ddf,#ddf,#bbf,#99f,#ccf,#fdf9f8,#fee,#fee,#fee,#fdd,#fdd,#fcc,#fbb,#fbb,#fcc,#fbb,#faa,#faa,#faa,#faa,#fbb,#fbb,#fbb,#fcc,#fcc,#fdd,#fee,#f7f7fe,#eef,#eef,#eef,#fbf9fc,#fee,#fdd,#fcc,#fcc,#fcc,#fcc,#fbb,#f99,#f88,#faa,#fbb,#fcc,#fdd,#fee,#fdd,#fcc,#fbb,#fcc,#fbb,#faa,#f99,#faa,#fbb,#fcc,#fdd)"></div><div style="height:4px;background:linear-gradient(90deg,#ddf,#bbf,#aaf,#aaf,#aaf,#aaf,#bbf,#ccf,#ddf,#fee,#fbb,#fbb,#fdd,#fbb,#f88,#f99,#f77,#f77,#f99,#faa,#fbb,#fdd,#fee,#f7f7fe,#ddf,#ccf,#ccf,#ccf,#ccf,#bbf,#bbf,#bbf,#bbf,#ccf,#ddf,#bbf,#aaf,#ddf,#fdf9f8,#fee,#fee,#fdd,#fdd,#fcc,#fbb,#fbb,#faa,#f99,#f88,#f88,#f99,#f99,#faa,#faa,#faa,#fbb,#fbb,#fcc,#fcc,#fdd,#fee,#fdf9f8,#eef,#ddf,#ddf,#f7f7fe,#fdd,#fcc,#fbb,#fcc,#fdd,#fcc,#fbb,#faa,#fbb,#fbb,#fcc,#fcc,#fdd,#fdd,#fdd,#fdd,#fdd,#fcc,#fbb,#faa,#fbb,#fbb,#fcc,#fdd)"></div><div style="height:4px;background:linear-gradient(90deg,#ccf,#bbf,#aaf,#99f,#99f,#99f,#aaf,#bbf,#ddf,#f7f7fe,#fee,#fee,#fee,#fcc,#faa,#f99,#f66,#f55,#f99,#faa,#fcc,#fdd,#f7f7fe,#eef,#ddf,#bbf,#bbf,#aaf,#aaf,#aaf,#aaf,#aaf,#99f,#bbf,#ccf,#ccf,#ccf,#eef,#fdf9f8,#fee,#fee,#fdd,#fdd,#fcc,#fbb,#fbb,#faa,#f88,#f77,#f88,#f99,#faa,#faa,#faa,#fbb,#fbb,#fbb,#fbb,#fbb,#fcc,#fdd,#fee,#eef,#ddf,#eef,#fdf9f8,#fdd,#fcc,#fbb,#faa,#faa,#fbb,#fcc,#fcc,#fbb,#fbb,#fbb,#faa,#faa,#fbb,#fcc,#fdd,#fdd,#fcc,#fbb,#fbb,#fbb,#fbb,#fcc,#fdd)"></div><div style="height:4px;background:linear-gradient(90deg,#ccf,#bbf,#aaf,#aaf,#99f,#99f,#aaf,#bbf,#ddf,#fbf9fc,#fee,#fdd,#fdd,#fcc,#fbb,#faa,#f99,#f99,#faa,#fbb,#fcc,#fee,#eef,#ddf,#ccf,#bbf,#aaf,#aaf,#99f,#aaf,#aaf,#aaf,#aaf,#bbf,#bbf,#ccf,#ddf,#eef,#fbf9fc,#fee,#fee,#fdd,#fdd,#fcc,#fcc,#fbb,#fbb,#faa,#faa,#fbb,#fdd,#fcc,#fcc,#fcc,#fdd,#fcc,#fcc,#fbb,#fbb,#fcc,#fcc,#fcc,#fdd,#fee,#fdf9f8,#fee,#fdd,#fbb,#faa,#f88,#f77,#f88,#faa,#fbb,#fbb,#fbb,#fbb,#faa,#faa,#fbb,#fcc,#fdd,#fdd,#fcc,#fcc,#fcc,#fcc,#fcc,#fdd,#fee)"></div><div style="height:4px;background:linear-gradient(90deg,#ddf,#ccf,#bbf,#aaf,#99f,#aaf,#bbf,#ccf,#eef,#fdf9f8,#fee,#fdd,#fdd,#fdd,#fcc,#fcc,#fcc,#fcc,#fcc,#fcc,#fdd,#fee,#eef,#ddf,#ccf,#ccf,#bbf,#aaf,#aaf,#aaf,#bbf,#bbf,#bbf,#bbf,#bbf,#ccf,#eef,#eef,#fbf9fc,#fdf9f8,#fee,#fee,#fdd,#fdd,#fdd,#fcc,#fcc,#fcc,#fcc,#fdd,#fdd,#fdd,#fcc,#fdd,#fdd,#fdd,#fcc,#fdd,#fdf9f8,#fee,#fdd,#fcc,#fcc,#fee,#fee,#fdd,#fcc,#fbb,#fbb,#faa,#f99,#faa,#faa,#fbb,#fbb,#fbb,#faa,#faa,#fdd,#fee,#fee,#fee,#fdd,#fdd,#fcc,#fcc,#fcc,#fdd,#fdd,#fee)"></div><div style="height:4px;background:linear-gradient(90deg,#eef,#ddf,#ccf,#ccf,#bbf,#ccf,#ddf,#ddf,#eef,#f7f7fe,#fdf9f8,#fee,#fee,#fcc,#fbb,#fdd,#fdd,#fdd,#fdd,#fdd,#fee,#fbf9fc,#ddf,#ddf,#eef,#ccf,#bbf,#bbf,#bbf,#ccf,#ccf,#ccf,#ddf,#ccf,#ccf,#ddf,#eef,#f7f7fe,#fbf9fc,#fdf9f8,#fee,#fdd,#fdd,#fee,#fdd,#fdd,#fcc,#fcc,#fdd,#fee,#fdd,#fdd,#fdd,#fdd,#fdd,#fdd,#fdd,#fee,#fee,#fee,#fdd,#fcc,#fdd,#fee,#fee,#fdd,#fcc,#fbb,#fbb,#fbb,#fbb,#fbb,#fdd,#fdd,#fcc,#f99,#f11,#f44,#fcc,#fee,#fdf9f8,#fdf9f8,#fee,#fdd,#fcc,#faa,#faa,#fcc,#fee,#fee)"></div><div style="height:4px;background:linear-gradient(90deg,#eef,#eef,#eef,#eef,#ddf,#eef,#eef,#eef,#eef,#f7f7fe,#fbf9fc,#fdf9f8,#fdf9f8,#fee,#fee,#fee,#fee,#fdd,#fdd,#fdd,#fee,#eef,#ccf,#ddf,#fdf9f8,#ddf,#ccf,#ccf,#ddf,#ddf,#ddf,#eef,#fbf9fc,#fdf9f8,#eef,#eef,#f7f7fe,#f7f7fe,#fbf9fc,#fdf9f8,#fee,#fcc,#fdd,#fee,#fee,#fee,#fee,#fee,#f7f7fe,#eef,#fdf9f8,#fee,#fdd,#fee,#fee,#fee,#fee,#fee,#fee,#fee,#fdd,#fdd,#fdd,#fee,#fdd,#fdd,#fcc,#fcc,#fbb,#fbb,#fcc,#fcc,#fdd,#fee,#fdd,#f99,#f00,#f22,#fcc,#fdf9f8,#eef,#eef,#fbf9fc,#fee,#fdd,#fcc,#fdd,#fdd,#fee,#fee)"></div><div style="height:4px;background:linear-gradient(90deg,#f7f7fe,#eef,#eef,#eef,#eef,#fee,#fee,#f7f7fe,#fbf9fc,#f7f7fe,#f7f7fe,#eef,#f7f7fe,#fdf9f8,#fdf9f8,#fee,#fee,#fdd,#fdd,#fdd,#fbf9fc,#ddf,#ddf,#ddf,#eef,#eef,#eef,#eef,#eef,#eef,#eef,#f7f7fe,#fdf9f8,#fdf9f8,#fbf9fc,#f7f7fe,#f7f7fe,#f7f7fe,#f7f7fe,#f7f7fe,#fdf9f8,#fdd,#fee,#fdf9f8,#fdf9f8,#fee,#fdf9f8,#fbf9fc,#eef,#eef,#fbf9fc,#fee,#fee,#fee,#fee,#fee,#fee,#fee,#fee,#fee,#fee,#fee,#fee,#fee,#fdd,#fdd,#fdd,#fcc,#fcc,#fcc,#fcc,#fcc,#fcc,#fdd,#fdd,#fcc,#f99,#fbb,#fee,#fdf9f8,#eef,#eef,#f7f7fe,#fdf9f8,#fdf9f8,#f7f7fe,#f7f7fe,#f7f7fe,#f7f7fe,#fdf9f8)"></div><div style="height:4px;background:linear-gradient(90deg,#f7f7fe,#f7f7fe,#f7f7fe,#f7f7fe,#f7f7fe,#fdf9f8,#fbf9fc,#f7f7fe,#f7f7fe,#f7f7fe,#eef,#ddf,#eef,#f7f7fe,#fbf9fc,#fdf9f8,#fdf9f8,#fee,#fee,#fee,#f7f7fe,#eef,#eef,#eef,#f7f7fe,#f7f7fe,#f7f7fe,#eef,#eef,#f7f7fe,#f7f7fe,#f7f7fe,#f7f7fe,#fbf9fc,#f7f7fe,#f7f7fe,#f7f7fe,#fdf9f8,#f7f7fe,#f7f7fe,#fbf9fc,#fdf9f8,#fdf9f8,#fdf9f8,#fdf9f8,#fdf9f8,#fdf9f8,#fdf9f8,#fbf9fc,#fbf9fc,#fdf9f8,#fdf9f8,#fdf9f8,#fdf9f8,#fdf9f8,#fdf9f8,#fdf9f8,#fdf9f8,#fbf9fc,#fdf9f8,#fee,#fee,#fee,#fee,#fee,#fdd,#fdd,#fdd,#fdd,#fdd,#fdd,#fdd,#fdd,#fdd,#fdd,#fdd,#fdd,#fdd,#fee,#fdd,#fdd,#fdf9f8,#fbf9fc,#fdf9f8,#f7f7fe,#f7f7fe,#eef,#eef,#f7f7fe,#fbf9fc)"></div><div style="height:4px;background:linear-gradient(90deg,#fbf9fc,#f7f7fe,#eef,#eef,#f7f7fe,#f7f7fe,#f7f7fe,#eef,#eef,#eef,#f7f7fe,#f7f7fe,#f7f7fe,#fbf9fc,#fbf9fc,#f7f7fe,#f7f7fe,#f7f7fe,#fbf9fc,#fbf9fc,#fbf9fc,#fbf9fc,#fbf9fc,#fbf9fc,#fbf9fc,#fdf9f8,#fee,#fee,#fee,#fdf9f8,#fbf9fc,#fbf9fc,#fbf9fc,#fbf9fc,#fbf9fc,#fbf9fc,#fbf9fc,#fbf9fc,#fbf9fc,#f7f7fe,#fbf9fc,#fbf9fc,#fbf9fc,#fbf9fc,#fbf9fc,#fdf9f8,#fdf9f8,#fdf9f8,#fdf9f8,#fdf9f8,#fdf9f8,#fdf9f8,#fdf9f8,#fdf9f8,#fdf9f8,#fdf9f8,#fdf9f8,#f7f7fe,#ddf,#eef,#fbf9fc,#fee,#fee,#fee,#fee,#fee,#fee,#fee,#fee,#fee,#fdd,#fdd,#fdd,#fee,#fee,#fee,#fee,#fee,#fee,#fee,#fee,#fee,#fdf9f8,#fdf9f8,#fdf9f8,#fdf9f8,#fdf9f8,#fee,#fee,#fdf9f8)"></div><div style="height:4px;background:linear-gradient(90deg,#fbf9fc,#f7f7fe,#ddf,#ccf,#eef,#fbf9fc,#f7f7fe,#f7f7fe,#f7f7fe,#fbf9fc,#fdf9f8,#fbf9fc,#fbf9fc,#f7f7fe,#f7f7fe,#eef,#eef,#eef,#f7f7fe,#fbf9fc,#fbf9fc,#fbf9fc,#fbf9fc,#fbf9fc,#fdf9f8,#fdd,#fcc,#fdd,#fee,#fdf9f8,#fbf9fc,#fdf9f8,#fdf9f8,#fbf9fc,#fdf9f8,#fdf9f8,#fdf9f8,#fbf9fc,#fbf9fc,#f7f7fe,#f7f7fe,#f7f7fe,#f7f7fe,#f7f7fe,#f7f7fe,#fbf9fc,#fbf9fc,#fbf9fc,#fbf9fc,#fbf9fc,#fbf9fc,#fbf9fc,#fbf9fc,#fdf9f8,#fdf9f8,#fdf9f8,#fdf9f8,#fdf9f8,#fdf9f8,#fdf9f8,#fdf9f8,#fdf9f8,#fdf9f8,#fee,#fee,#fee,#fee,#fee,#fee,#fee,#fee,#fee,#fee,#fbf9fc,#fbf9fc,#fee,#fee,#fee,#fee,#fee,#fee,#fdf9f8,#fdf9f8,#fdf9f8,#fdf9f8,#fdf9f8,#fdf9f8,#fdf9f8,#fdf9f8,#fdf9f8)"></div><div style="height:4px;background:linear-gradient(90deg,#fbf9fc,#fbf9fc,#fbf9fc,#f7f7fe,#fbf9fc,#fbf9fc,#fbf9fc,#fbf9fc,#fbf9fc,#fbf9fc,#fbf9fc,#fbf9fc,#f7f7fe,#eef,#ddf,#ddf,#ddf,#ddf,#eef,#fbf9fc,#fdf9f8,#fdf9f8,#fdf9f8,#f7f7fe,#fdf9f8,#fee,#fdd,#fee,#fdf9f8,#fbf9fc,#fbf9fc,#fbf9fc,#fdf9f8,#fdf9f8,#fee,#fee,#fee,#fdf9f8,#fbf9fc,#f7f7fe,#eef,#eef,#f7f7fe,#f7f7fe,#fbf9fc,#fbf9fc,#fbf9fc,#fbf9fc,#fbf9fc,#fbf9fc,#f7f7fe,#f7f7fe,#f7f7fe,#f7f7fe,#fbf9fc,#fdf9f8,#fdf9f8,#fdf9f8,#fbf9fc,#fbf9fc,#fdf9f8,#fdf9f8,#fdf9f8,#fdf9f8,#fee,#fee,#fdf9f8,#fee,#fee,#fee,#fdd,#fee,#fdf9f8,#ddf,#eef,#fdf9f8,#fee,#fee,#fdf9f8,#fdf9f8,#fdf9f8,#f7f7fe,#f7f7fe,#fbf9fc,#fdf9f8,#fdf9f8,#fdf9f8,#fdf9f8,#fdf9f8,#fbf9fc)"></div><div style="height:4px;background:linear-gradient(90deg,#fbf9fc,#fbf9fc,#fbf9fc,#fbf9fc,#fbf9fc,#fbf9fc,#fbf9fc,#fbf9fc,#fbf9fc,#fbf9fc,#fbf9fc,#fbf9fc,#eef,#ccf,#bbf,#ccf,#ddf,#eef,#f7f7fe,#fdf9f8,#fee,#fee,#fee,#fee,#fee,#fee,#fee,#fee,#fdf9f8,#f7f7fe,#eef,#f7f7fe,#fdf9f8,#fee,#fdd,#fcc,#fdd,#fdf9f8,#fbf9fc,#f7f7fe,#eef,#eef,#f7f7fe,#fbf9fc,#fbf9fc,#fbf9fc,#fbf9fc,#fbf9fc,#f7f7fe,#f7f7fe,#eef,#ddf,#ddf,#eef,#f7f7fe,#fdf9f8,#fdf9f8,#fbf9fc,#eef,#eef,#f7f7fe,#fdf9f8,#fdf9f8,#fdf9f8,#fee,#fee,#fdf9f8,#fdf9f8,#fdf9f8,#fee,#fdd,#fee,#fdf9f8,#eef,#eef,#fdf9f8,#fdf9f8,#fdf9f8,#fbf9fc,#fbf9fc,#fbf9fc,#eef,#eef,#f7f7fe,#fbf9fc,#fdf9f8,#fbf9fc,#fbf9fc,#fbf9fc,#fbf9fc)"></div><div style="height:4px;background:linear-gradient(90deg,#fbf9fc,#fbf9fc,#fbf9fc,#fbf9fc,#fbf9fc,#fbf9fc,#fbf9fc,#fbf9fc,#fdf9f8,#fdf9f8,#fbf9fc,#fbf9fc,#f7f7fe,#eef,#ddf,#eef,#eef,#f7f7fe,#fdf9f8,#fdf9f8,#fdf9f8,#fdf9f8,#fee,#fee,#fee,#fdf9f8,#fee,#fee,#fbf9fc,#eef,#ddf,#ddf,#f7f7fe,#fee,#fdd,#fcc,#fee,#eef,#f7f7fe,#fbf9fc,#f7f7fe,#f7f7fe,#fbf9fc,#fbf9fc,#fbf9fc,#fbf9fc,#fbf9fc,#f7f7fe,#eef,#eef,#ddf,#ddf,#ddf,#eef,#f7f7fe,#fbf9fc,#fbf9fc,#f7f7fe,#ddf,#ddf,#eef,#fbf9fc,#fdf9f8,#fdf9f8,#fee,#fdf9f8,#fdf9f8,#fdf9f8,#fdf9f8,#fee,#fee,#fdf9f8,#fdf9f8,#fdf9f8,#fdf9f8,#fdf9f8,#fdf9f8,#fbf9fc,#eef,#f7f7fe,#fbf9fc,#fbf9fc,#fbf9fc,#fbf9fc,#fdf9f8,#fbf9fc,#fbf9fc,#fbf9fc,#fbf9fc,#fbf9fc)"></div><div style="height:4px;background:linear-gradient(90deg,#fbf9fc,#fbf9fc,#fbf9fc,#fbf9fc,#fbf9fc,#fbf9fc,#fbf9fc,#fdf9f8,#fdf9f8,#fdf9f8,#fbf9fc,#fbf9fc,#fbf9fc,#fbf9fc,#fbf9fc,#fbf9fc,#fbf9fc,#fdf9f8,#fee,#fee,#fee,#fdf9f8,#fdf9f8,#fdf9f8,#fdf9f8,#fbf9fc,#fdf9f8,#fdf9f8,#fbf9fc,#eef,#ddf,#eef,#f7f7fe,#fbf9fc,#fdf9f8,#fee,#fdf9f8,#f7f7fe,#fbf9fc,#fbf9fc,#fbf9fc,#fbf9fc,#fbf9fc,#fbf9fc,#fbf9fc,#fbf9fc,#fbf9fc,#fbf9fc,#f7f7fe,#f7f7fe,#f7f7fe,#f7f7fe,#f7f7fe,#f7f7fe,#fbf9fc,#fbf9fc,#fbf9fc,#f7f7fe,#eef,#eef,#f7f7fe,#fbf9fc,#fbf9fc,#fbf9fc,#fbf9fc,#fbf9fc,#fbf9fc,#fbf9fc,#fdf9f8,#fbf9fc,#eef,#f7f7fe,#fee,#fee,#fee,#fdf9f8,#fbf9fc,#f7f7fe,#eef,#eef,#fbf9fc,#fbf9fc,#fdf9f8,#fdf9f8,#fee,#fdf9f8,#fdf9f8,#fbf9fc,#fbf9fc,#fbf9fc)"></div><div style="height:4px;background:linear-gradient(90deg,#fbf9fc,#fbf9fc,#fbf9fc,#fbf9fc,#fbf9fc,#fbf9fc,#fbf9fc,#fbf9fc,#fbf9fc,#fbf9fc,#fbf9fc,#fbf9fc,#fbf9fc,#fbf9fc,#fbf9fc,#fbf9fc,#fbf9fc,#fdf9f8,#fee,#fee,#fee,#fdf9f8,#fbf9fc,#fbf9fc,#fbf9fc,#fbf9fc,#fbf9fc,#fbf9fc,#fbf9fc,#f7f7fe,#f7f7fe,#f7f7fe,#f7f7fe,#f7f7fe,#f7f7fe,#f7f7fe,#fbf9fc,#fbf9fc,#fbf9fc,#fbf9fc,#fbf9fc,#fbf9fc,#fbf9fc,#fbf9fc,#fbf9fc,#fbf9fc,#fbf9fc,#fbf9fc,#fbf9fc,#fbf9fc,#fbf9fc,#fdf9f8,#fdf9f8,#f7f7fe,#fbf9fc,#fbf9fc,#fbf9fc,#fbf9fc,#f7f7fe,#f7f7fe,#f7f7fe,#fbf9fc,#fbf9fc,#f7f7fe,#eef,#eef,#f7f7fe,#fbf9fc,#fbf9fc,#fbf9fc,#f7f7fe,#f7f7fe,#fdf9f8,#fdf9f8,#fdf9f8,#fbf9fc,#fbf9fc,#f7f7fe,#eef,#f7f7fe,#fbf9fc,#fbf9fc,#fdf9f8,#fdf9f8,#fee,#fee,#fdf9f8,#fbf9fc,#fbf9fc,#fbf9fc)"></div><div style="height:4px;background:linear-gradient(90deg,#fbf9fc,#fbf9fc,#fbf9fc,#fbf9fc,#fbf9fc,#fbf9fc,#fbf9fc,#fbf9fc,#fbf9fc,#fbf9fc,#fbf9fc,#fbf9fc,#fbf9fc,#fbf9fc,#fbf9fc,#fbf9fc,#fbf9fc,#fbf9fc,#fdf9f8,#fdf9f8,#fdf9f8,#fdf9f8,#fdf9f8,#fbf9fc,#fbf9fc,#fbf9fc,#fbf9fc,#fbf9fc,#fbf9fc,#fbf9fc,#fbf9fc,#fbf9fc,#fbf9fc,#fbf9fc,#fbf9fc,#fbf9fc,#fbf9fc,#fbf9fc,#fbf9fc,#fbf9fc,#fbf9fc,#fbf9fc,#fbf9fc,#fbf9fc,#fbf9fc,#fbf9fc,#fbf9fc,#fbf9fc,#fbf9fc,#fbf9fc,#fbf9fc,#fee,#fee,#fbf9fc,#fbf9fc,#fbf9fc,#fbf9fc,#fbf9fc,#fbf9fc,#fbf9fc,#fbf9fc,#fbf9fc,#fbf9fc,#f7f7fe,#f7f7fe,#f7f7fe,#f7f7fe,#fbf9fc,#fbf9fc,#fbf9fc,#fbf9fc,#fbf9fc,#fbf9fc,#fbf9fc,#fbf9fc,#fbf9fc,#fbf9fc,#fbf9fc,#fbf9fc,#fbf9fc,#fbf9fc,#fbf9fc,#fbf9fc,#fdf9f8,#fdf9f8,#fdf9f8,#fbf9fc,#fbf9fc,#fbf9fc,#fbf9fc)"></div><div style="height:4px;background:linear-gradient(90deg,#fbf9fc,#fbf9fc,#fbf9fc,#fbf9fc,#fbf9fc,#fbf9fc,#fbf9fc,#fbf9fc,#fbf9fc,#fbf9fc,#fbf9fc,#fbf9fc,#fbf9fc,#fbf9fc,#fbf9fc,#fbf9fc,#fbf9fc,#fbf9fc,#fbf9fc,#fbf9fc,#fdf9f8,#fee,#fdf9f8,#fbf9fc,#fbf9fc,#fbf9fc,#fbf9fc,#fbf9fc,#fbf9fc,#fbf9fc,#fbf9fc,#fdf9f8,#fdf9f8,#fbf9fc,#fbf9fc,#fbf9fc,#fbf9fc,#fbf9fc,#fbf9fc,#fbf9fc,#fbf9fc,#fbf9fc,#fbf9fc,#fbf9fc,#fbf9fc,#fbf9fc,#fbf9fc,#fbf9fc,#fbf9fc,#fbf9fc,#fbf9fc,#fbf9fc,#fbf9fc,#fbf9fc,#fbf9fc,#fdf9f8,#fdf9f8,#fbf9fc,#fbf9fc,#fbf9fc,#fbf9fc,#fbf9fc,#fbf9fc,#fbf9fc,#fbf9fc,#fbf9fc,#fbf9fc,#fbf9fc,#fbf9fc,#fbf9fc,#fbf9fc,#fbf9fc,#fbf9fc,#fbf9fc,#fbf9fc,#fbf9fc,#fbf9fc,#fbf9fc,#fbf9fc,#fbf9fc,#fbf9fc,#fbf9fc,#fbf9fc,#fbf9fc,#fbf9fc,#fbf9fc,#fbf9fc,#fbf9fc,#fbf9fc,#fbf9fc)"></div><div style="height:4px;background:linear-gradient(90deg,#fbf9fc,#fbf9fc,#fbf9fc,#fbf9fc,#fbf9fc,#fbf9fc,#fbf9fc,#fbf9fc,#fbf9fc,#fbf9fc,#fbf9fc,#fbf9fc,#fbf9fc,#fbf9fc,#fbf9fc,#f7f7fe,#f7f7fe,#f7f7fe,#f7f7fe,#f7f7fe,#fbf9fc,#fdf9f8,#fdf9f8,#fbf9fc,#fbf9fc,#fbf9fc,#fbf9fc,#fbf9fc,#fbf9fc,#fbf9fc,#fbf9fc,#fdf9f8,#fdf9f8,#fbf9fc,#fbf9fc,#fbf9fc,#fbf9fc,#fbf9fc,#fbf9fc,#fbf9fc,#fbf9fc,#fbf9fc,#fbf9fc,#fbf9fc,#f7f7fe,#f7f7fe,#f7f7fe,#f7f7fe,#f7f7fe,#f7f7fe,#f7f7fe,#fbf9fc,#fbf9fc,#fbf9fc,#fdf9f8,#fdf9f8,#fdf9f8,#fdf9f8,#fbf9fc,#fbf9fc,#fbf9fc,#fbf9fc,#fbf9fc,#fbf9fc,#fbf9fc,#fbf9fc,#fbf9fc,#fbf9fc,#fbf9fc,#fbf9fc,#fbf9fc,#fbf9fc,#fbf9fc,#f7f7fe,#f7f7fe,#f7f7fe,#f7f7fe,#f7f7fe,#f7f7fe,#f7f7fe,#fbf9fc,#fbf9fc,#fbf9fc,#fbf9fc,#fbf9fc,#fbf9fc,#fbf9fc,#fbf9fc,#fbf9fc,#fbf9fc)"></div><div style="height:4px;background:linear-gradient(90deg,#fbf9fc,#fbf9fc,#fbf9fc,#fbf9fc,#fdf9f8,#fdf9f8,#fdf9f8,#fbf9fc,#fbf9fc,#fbf9fc,#fbf9fc,#f7f7fe,#f7f7fe,#f7f7fe,#f7f7fe,#f7f7fe,#f7f7fe,#eef,#eef,#eef,#eef,#f7f7fe,#f7f7fe,#fbf9fc,#fbf9fc,#fbf9fc,#fbf9fc,#fbf9fc,#fbf9fc,#fbf9fc,#fbf9fc,#fbf9fc,#fbf9fc,#fbf9fc,#fbf9fc,#fbf9fc,#fbf9fc,#fbf9fc,#fbf9fc,#fbf9fc,#f7f7fe,#f7f7fe,#f7f7fe,#f7f7fe,#f7f7fe,#f7f7fe,#eef,#eef,#f7f7fe,#eef,#f7f7fe,#f7f7fe,#fbf9fc,#fbf9fc,#fdf9f8,#fdf9f8,#fdf9f8,#fdf9f8,#fbf9fc,#fbf9fc,#fbf9fc,#fbf9fc,#fbf9fc,#fbf9fc,#fbf9fc,#fbf9fc,#fbf9fc,#fbf9fc,#fbf9fc,#f7f7fe,#f7f7fe,#f7f7fe,#f7f7fe,#f7f7fe,#f7f7fe,#eef,#eef,#eef,#eef,#f7f7fe,#f7f7fe,#fbf9fc,#fbf9fc,#fbf9fc,#fbf9fc,#fbf9fc,#fbf9fc,#fbf9fc,#fbf9fc,#fbf9fc)"></div><div style="height:4px;background:linear-gradient(90deg,#fbf9fc,#fbf9fc,#fbf9fc,#fbf9fc,#fdf9f8,#fdf9f8,#fdf9f8,#fdf9f8,#fdf9f8,#fbf9fc,#f7f7fe,#f7f7fe,#eef,#eef,#eef,#eef,#eef,#eef,#eef,#eef,#eef,#eef,#f7f7fe,#fbf9fc,#fbf9fc,#fbf9fc,#fbf9fc,#fbf9fc,#fdf9f8,#fdf9f8,#fdf9f8,#fbf9fc,#fbf9fc,#fbf9fc,#fbf9fc,#fbf9fc,#fbf9fc,#fbf9fc,#f7f7fe,#f7f7fe,#f7f7fe,#eef,#eef,#eef,#eef,#eef,#eef,#eef,#eef,#eef,#eef,#f7f7fe,#fbf9fc,#fbf9fc,#fdf9f8,#fdf9f8,#fdf9f8,#fdf9f8,#fbf9fc,#fbf9fc,#fbf9fc,#fbf9fc,#fbf9fc,#fbf9fc,#fbf9fc,#fbf9fc,#f7f7fe,#f7f7fe,#f7f7fe,#f7f7fe,#eef,#eef,#eef,#eef,#eef,#eef,#eef,#eef,#eef,#eef,#f7f7fe,#fbf9fc,#fbf9fc,#fbf9fc,#fbf9fc,#fdf9f8,#fdf9f8,#fdf9f8,#fdf9f8,#fbf9fc)"></div><div style="height:4px;background:linear-gradient(90deg,#fbf9fc,#fbf9fc,#fbf9fc,#fbf9fc,#fbf9fc,#fbf9fc,#fdf9f8,#fdf9f8,#fdf9f8,#f7f7fe,#eef,#eef,#eef,#ddf,#ddf,#ddf,#ddf,#ddf,#ddf,#ddf,#eef,#eef,#f7f7fe,#fbf9fc,#fdf9f8,#fdf9f8,#fdf9f8,#fdf9f8,#fdf9f8,#fdf9f8,#fdf9f8,#fdf9f8,#fbf9fc,#fbf9fc,#fbf9fc,#f7f7fe,#f7f7fe,#f7f7fe,#eef,#eef,#eef,#eef,#ddf,#ddf,#ddf,#ddf,#ddf,#ddf,#eef,#eef,#eef,#eef,#fbf9fc,#fdf9f8,#fdf9f8,#fdf9f8,#fdf9f8,#fdf9f8,#fdf9f8,#fbf9fc,#fbf9fc,#fbf9fc,#fbf9fc,#fbf9fc,#f7f7fe,#f7f7fe,#f7f7fe,#eef,#eef,#eef,#eef,#ddf,#ddf,#ddf,#ddf,#ddf,#ddf,#ddf,#eef,#eef,#f7f7fe,#fbf9fc,#fdf9f8,#fdf9f8,#fdf9f8,#fdf9f8,#fdf9f8,#fdf9f8,#fdf9f8,#fdf9f8)"></div><div style="height:4px;background:linear-gradient(90deg,#fbf9fc,#fbf9fc,#fbf9fc,#f7f7fe,#f7f7fe,#f7f7fe,#f7f7fe,#eef,#eef,#eef,#ddf,#ddf,#ccf,#ccf,#ccf,#ccf,#ccf,#ccf,#ddf,#ddf,#eef,#eef,#f7f7fe,#fdf9f8,#fee,#fee,#fee,#fee,#fee,#fee,#fee,#fdf9f8,#fbf9fc,#f7f7fe,#f7f7fe,#eef,#eef,#eef,#eef,#ddf,#ddf,#ccf,#ccf,#ccf,#ccf,#ccf,#ddf,#ddf,#ddf,#eef,#eef,#f7f7fe,#fdf9f8,#fee,#fee,#fee,#fee,#fee,#fee,#fdf9f8,#fbf9fc,#f7f7fe,#f7f7fe,#f7f7fe,#eef,#eef,#eef,#eef,#ddf,#ddf,#ccf,#ccf,#ccf,#ccf,#ccf,#ddf,#ddf,#ddf,#eef,#eef,#fbf9fc,#fdf9f8,#fee,#fee,#fee,#fee,#fee,#fee,#fee,#fdf9f8)"></div><div style="height:4px;background:linear-gradient(90deg,#f7f7fe,#f7f7fe,#f7f7fe,#f7f7fe,#eef,#eef,#eef,#ddf,#ddf,#ccf,#ccf,#ccf,#bbf,#bbf,#bbf,#ccf,#ccf,#ddf,#ddf,#eef,#f7f7fe,#fbf9fc,#fee,#fee,#fee,#fdd,#fdd,#fee,#fee,#fee,#fee,#fdf9f8,#f7f7fe,#eef,#eef,#eef,#ddf,#ddf,#ddf,#ccf,#ccf,#bbf,#bbf,#bbf,#ccf,#ccf,#ddf,#ddf,#eef,#eef,#fbf9fc,#fee,#fee,#fee,#fdd,#fdd,#fee,#fee,#fee,#fee,#fbf9fc,#f7f7fe,#eef,#eef,#eef,#ddf,#ddf,#ddf,#ccf,#ccf,#ccf,#bbf,#bbf,#ccf,#ccf,#ddf,#eef,#eef,#f7f7fe,#fdf9f8,#fee,#fee,#fee,#fdd,#fdd,#fee,#fee,#fee,#fee,#fbf9fc)"></div><div style="height:4px;background:linear-gradient(90deg,#eef,#eef,#eef,#eef,#ddf,#ddf,#ccf,#ccf,#bbf,#bbf,#bbf,#bbf,#bbf,#bbf,#ccf,#ccf,#ddf,#eef,#f7f7fe,#fdf9f8,#fee,#fee,#fdd,#fdd,#fdd,#fdd,#fdd,#fdd,#fee,#fee,#fdf9f8,#eef,#eef,#ddf,#ddf,#ccf,#ccf,#bbf,#bbf,#bbf,#bbf,#bbf,#ccf,#ccf,#ddf,#ddf,#eef,#f7f7fe,#fdf9f8,#fee,#fee,#fdd,#fdd,#fdd,#fdd,#fdd,#fdd,#fee,#fee,#fdf9f8,#eef,#eef,#ddf,#ddf,#ccf,#ccf,#bbf,#bbf,#bbf,#ccf,#ccf,#ccf,#ccf,#ddf,#ddf,#eef,#f7f7fe,#fdf9f8,#fee,#fee,#fdd,#fdd,#fdd,#fdd,#fdd,#fdd,#fee,#fee,#fbf9fc,#eef)"></div><div style="height:4px;background:linear-gradient(90deg,#ddf,#ddf,#ddf,#ccf,#ccf,#bbf,#bbf,#bbf,#bbf,#bbf,#bbf,#ccf,#ccf,#ddf,#ddf,#eef,#f7f7fe,#fee,#fee,#fdd,#fdd,#fcc,#fcc,#fcc,#fcc,#fcc,#fdd,#fee,#fdf9f8,#eef,#eef,#ddf,#ccf,#ccf,#bbf,#bbf,#bbf,#bbf,#bbf,#bbf,#ccf,#ccf,#ddf,#eef,#eef,#fbf9fc,#fee,#fee,#fdd,#fdd,#fcc,#fcc,#fcc,#fcc,#fcc,#fdd,#fee,#fdf9f8,#eef,#eef,#ddf,#ccf,#ccf,#bbf,#bbf,#bbf,#bbf,#bbf,#bbf,#ccf,#ccf,#ddf,#eef,#eef,#fbf9fc,#fee,#fee,#fdd,#fdd,#fcc,#fcc,#fcc,#fcc,#fdd,#fdd,#fee,#fdf9f8,#eef,#eef,#ddf)"></div><div style="height:4px;background:linear-gradient(90deg,#ccf,#bbf,#bbf,#bbf,#bbf,#bbf,#bbf,#bbf,#bbf,#ccf,#ddf,#ddf,#eef,#f7f7fe,#fdf9f8,#fee,#fdd,#fdd,#fcc,#fcc,#fbb,#fbb,#fcc,#fcc,#fdd,#fee,#fdf9f8,#eef,#ddf,#ccf,#ccf,#bbf,#bbf,#bbf,#bbf,#bbf,#bbf,#bbf,#ccf,#ddf,#ddf,#eef,#f7f7fe,#fdf9f8,#fee,#fdd,#fdd,#fcc,#fcc,#fbb,#fbb,#fcc,#fcc,#fdd,#fee,#fdf9f8,#eef,#ddf,#ccf,#ccf,#bbf,#bbf,#bbf,#bbf,#bbf,#bbf,#bbf,#ccf,#ddf,#ddf,#eef,#f7f7fe,#fee,#fee,#fdd,#fcc,#fcc,#fcc,#fbb,#fbb,#fcc,#fcc,#fdd,#fee,#fbf9fc,#eef,#ddf,#ccf,#ccf,#bbf)"></div><div style="height:4px;background:linear-gradient(90deg,#aaf,#aaf,#aaf,#aaf,#bbf,#bbf,#ccf,#ccf,#ddf,#eef,#eef,#fbf9fc,#fee,#fdd,#fcc,#fcc,#fbb,#fbb,#fbb,#fbb,#fbb,#fcc,#fdd,#fee,#f7f7fe,#eef,#ddf,#ccf,#bbf,#bbf,#aaf,#aaf,#aaf,#bbf,#bbf,#ccf,#ccf,#ddf,#eef,#eef,#fdf9f8,#fee,#fdd,#fcc,#fcc,#fbb,#fbb,#fbb,#fbb,#fbb,#fcc,#fdd,#fee,#f7f7fe,#eef,#ddf,#ccf,#bbf,#bbf,#bbf,#aaf,#bbf,#bbf,#bbf,#ccf,#ccf,#ddf,#eef,#eef,#fdf9f8,#fee,#fdd,#fcc,#fcc,#fbb,#fbb,#fbb,#fbb,#fbb,#fcc,#fdd,#fdf9f8,#f7f7fe,#ddf,#ccf,#ccf,#bbf,#bbf,#aaf,#aaf)"></div><div style="height:4px;background:linear-gradient(90deg,#aaf,#bbf,#bbf,#bbf,#ccf,#ccf,#ddf,#eef,#f7f7fe,#fdf9f8,#fee,#fdd,#fcc,#fbb,#fbb,#faa,#faa,#faa,#fbb,#fcc,#fdd,#fee,#eef,#ddf,#ccf,#bbf,#bbf,#aaf,#aaf,#aaf,#bbf,#bbf,#bbf,#ccf,#ddf,#ddf,#eef,#f7f7fe,#fee,#fee,#fdd,#fcc,#fbb,#fbb,#faa,#faa,#faa,#fbb,#fcc,#fdd,#fee,#eef,#ddf,#ccf,#bbf,#bbf,#aaf,#aaf,#bbf,#bbf,#bbf,#ccf,#ccf,#ddf,#ddf,#eef,#f7f7fe,#fee,#fee,#fdd,#fcc,#fbb,#faa,#faa,#faa,#faa,#fbb,#fcc,#fdd,#fee,#eef,#ddf,#ccf,#bbf,#bbf,#aaf,#aaf,#aaf,#bbf,#bbf)"></div><div style="height:4px;background:linear-gradient(90deg,#ccf,#ccf,#ddf,#ddf,#eef,#eef,#fbf9fc,#fee,#fdd,#fcc,#fcc,#fbb,#faa,#faa,#faa,#faa,#fbb,#fbb,#fdd,#fee,#f7f7fe,#ddf,#ccf,#bbf,#aaf,#aaf,#aaf,#bbf,#bbf,#ccf,#ccf,#ddf,#ddf,#eef,#eef,#fbf9fc,#fee,#fdd,#fcc,#fbb,#fbb,#faa,#faa,#faa,#faa,#fbb,#fcc,#fdd,#fee,#eef,#ddf,#bbf,#bbf,#aaf,#aaf,#aaf,#bbf,#bbf,#ccf,#ccf,#ddf,#ddf,#eef,#f7f7fe,#fee,#fdd,#fcc,#fcc,#fbb,#fbb,#faa,#faa,#f99,#f99,#fbb,#fcc,#fdd,#fee,#eef,#ddf,#bbf,#bbf,#aaf,#aaf,#aaf,#bbf,#bbf,#ccf,#ccf,#ddf)"></div><div style="height:4px;background:linear-gradient(90deg,#ddf,#eef,#eef,#f7f7fe,#fdf9f8,#fee,#fdd,#fbb,#fbb,#faa,#faa,#faa,#faa,#faa,#fbb,#fbb,#fdd,#fee,#f7f7fe,#ddf,#ccf,#bbf,#aaf,#aaf,#bbf,#bbf,#ccf,#ccf,#ddf,#ddf,#eef,#eef,#f7f7fe,#fdf9f8,#fee,#fdd,#fcc,#fbb,#faa,#f99,#f99,#f99,#faa,#fbb,#fcc,#fdd,#fee,#f7f7fe,#ddf,#ccf,#bbf,#aaf,#aaf,#bbf,#bbf,#ccf,#ccf,#ddf,#ddf,#eef,#eef,#fbf9fc,#fee,#fee,#fdd,#fbb,#fbb,#faa,#f99,#f99,#f99,#faa,#faa,#fbb,#fdd,#fee,#eef,#ddf,#ccf,#bbf,#aaf,#aaf,#bbf,#bbf,#ccf,#ccf,#ddf,#ddf,#eef,#eef)"></div><div style="height:4px;background:linear-gradient(90deg,#fbf9fc,#fdf9f8,#fee,#fdd,#fcc,#fbb,#faa,#f99,#f99,#f99,#f99,#faa,#fbb,#fcc,#fdd,#fee,#f7f7fe,#ddf,#ccf,#bbf,#aaf,#aaf,#bbf,#bbf,#ccf,#ddf,#ddf,#eef,#eef,#fbf9fc,#fee,#fee,#fdd,#fcc,#fbb,#faa,#faa,#f99,#f99,#f99,#f99,#faa,#fbb,#fdd,#fee,#f7f7fe,#ddf,#ccf,#bbf,#aaf,#aaf,#bbf,#ccf,#ddf,#ddf,#eef,#eef,#f7f7fe,#fbf9fc,#fee,#fee,#fdd,#fcc,#fbb,#faa,#f99,#f99,#f99,#f99,#f99,#faa,#fbb,#fdd,#fee,#f7f7fe,#ddf,#ccf,#bbf,#aaf,#aaf,#bbf,#ccf,#ddf,#ddf,#eef,#eef,#f7f7fe,#fdf9f8,#fee,#fee)"></div><div style="height:4px;background:linear-gradient(90deg,#fdd,#fdd,#fcc,#fbb,#faa,#f99,#f88,#f88,#f88,#f99,#faa,#fcc,#fdd,#fee,#fbf9fc,#eef,#ccf,#bbf,#aaf,#aaf,#aaf,#bbf,#ccf,#ddf,#eef,#f7f7fe,#fbf9fc,#fee,#fee,#fdd,#fcc,#fcc,#fbb,#faa,#f99,#f88,#f88,#f99,#f99,#faa,#fbb,#fcc,#fee,#f7f7fe,#ddf,#ccf,#bbf,#aaf,#aaf,#aaf,#ccf,#ddf,#eef,#eef,#f7f7fe,#fdf9f8,#fee,#fee,#fdd,#fcc,#fcc,#fbb,#faa,#f99,#f88,#f88,#f99,#f99,#faa,#fbb,#fcc,#fdd,#f7f7fe,#ddf,#ccf,#bbf,#aaf,#aaf,#aaf,#bbf,#ccf,#ddf,#eef,#f7f7fe,#fdf9f8,#fee,#fee,#fdd,#fcc,#fcc)"></div><div style="height:4px;background:linear-gradient(90deg,#fbb,#faa,#f99,#f99,#f88,#f88,#f88,#f99,#faa,#fbb,#fdd,#fee,#fbf9fc,#eef,#ddf,#bbf,#aaf,#aaf,#aaf,#bbf,#ccf,#ccf,#eef,#f7f7fe,#fdf9f8,#fee,#fdd,#fdd,#fcc,#fbb,#faa,#f99,#f99,#f88,#f88,#f88,#f99,#faa,#fbb,#fdd,#fee,#fbf9fc,#eef,#ccf,#bbf,#aaf,#aaf,#aaf,#bbf,#ccf,#ddf,#f7f7fe,#fdf9f8,#fee,#fee,#fdd,#fdd,#fcc,#fbb,#faa,#f99,#f99,#f88,#f88,#f88,#f99,#faa,#fbb,#fdd,#fee,#fee,#eef,#ccf,#bbf,#aaf,#aaf,#aaf,#bbf,#ccf,#ddf,#eef,#f7f7fe,#fee,#fee,#fdd,#fdd,#fcc,#fbb,#faa,#f99)"></div><div style="height:4px;background:linear-gradient(90deg,#f99,#f99,#f88,#f88,#f88,#f99,#faa,#fbb,#fdd,#fee,#f7f7fe,#ddf,#ccf,#ccf,#bbf,#aaf,#aaf,#aaf,#bbf,#ddf,#eef,#eef,#fee,#fdd,#fdd,#fcc,#fbb,#fbb,#faa,#f99,#f99,#f88,#f88,#f88,#f99,#faa,#fbb,#fdd,#fee,#eef,#ddf,#ccf,#ccf,#bbf,#aaf,#aaf,#aaf,#bbf,#ddf,#eef,#fbf9fc,#fee,#fdd,#fdd,#fcc,#fbb,#fbb,#faa,#f99,#f99,#f88,#f88,#f88,#f99,#faa,#fcc,#fdd,#fee,#eef,#ddf,#ddf,#ccf,#bbf,#aaf,#aaf,#bbf,#ccf,#ddf,#eef,#fbf9fc,#fee,#fdd,#fdd,#fcc,#fbb,#fbb,#faa,#f99,#f99,#f88)"></div><div style="height:4px;background:linear-gradient(90deg,#f99,#f99,#f99,#faa,#faa,#fcc,#fdd,#fdf9f8,#eef,#ddf,#ccf,#bbf,#bbf,#aaf,#aaf,#aaf,#bbf,#ccf,#eef,#fbf9fc,#fee,#fdd,#fcc,#fcc,#fbb,#faa,#faa,#faa,#f99,#f99,#f99,#f99,#faa,#fbb,#fcc,#fdd,#fdf9f8,#eef,#ddf,#ccf,#bbf,#bbf,#aaf,#aaf,#aaf,#bbf,#ccf,#eef,#fbf9fc,#fee,#fdd,#fcc,#fcc,#fbb,#faa,#faa,#faa,#f99,#f99,#f99,#faa,#faa,#fbb,#fcc,#fdd,#fdf9f8,#eef,#ddf,#ccf,#bbf,#bbf,#aaf,#aaf,#bbf,#ccf,#ddf,#eef,#fdf9f8,#fee,#fdd,#fcc,#fbb,#fbb,#faa,#faa,#faa,#f99,#f99,#f99,#faa)"></div><div style="height:4px;background:linear-gradient(90deg,#fbb,#fbb,#fcc,#fdd,#fee,#f7f7fe,#eef,#ccf,#ccf,#bbf,#aaf,#aaf,#aaf,#aaf,#bbf,#ccf,#eef,#fbf9fc,#fdd,#fcc,#fcc,#fbb,#fbb,#faa,#faa,#faa,#faa,#faa,#fbb,#fbb,#fcc,#fcc,#fdd,#fee,#f7f7fe,#ddf,#ccf,#bbf,#bbf,#aaf,#aaf,#aaf,#aaf,#bbf,#ccf,#eef,#fbf9fc,#fee,#fdd,#fcc,#fbb,#fbb,#faa,#faa,#faa,#faa,#faa,#fbb,#fbb,#fcc,#fcc,#fdd,#fee,#f7f7fe,#ddf,#ccf,#bbf,#bbf,#aaf,#aaf,#aaf,#aaf,#bbf,#ddf,#eef,#fee,#fdd,#fdd,#fcc,#fbb,#fbb,#faa,#faa,#faa,#faa,#faa,#fbb,#fbb,#fcc,#fcc)"></div><div style="height:4px;background:linear-gradient(90deg,#fee,#fdf9f8,#eef,#eef,#ddf,#ccf,#bbf,#bbf,#bbf,#bbf,#bbf,#bbf,#ccf,#ddf,#ddf,#fbf9fc,#fee,#fcc,#fbb,#faa,#faa,#faa,#faa,#faa,#faa,#fbb,#fcc,#fcc,#fdd,#fee,#fdf9f8,#eef,#eef,#ddf,#ccf,#bbf,#bbf,#aaf,#bbf,#bbf,#bbf,#ccf,#ddf,#eef,#fbf9fc,#fee,#fcc,#fbb,#fbb,#faa,#faa,#faa,#faa,#faa,#fbb,#fcc,#fcc,#fdd,#fee,#fdf9f8,#eef,#ddf,#ddf,#ccf,#bbf,#bbf,#aaf,#bbf,#bbf,#bbf,#ccf,#ddf,#eef,#fdf9f8,#fdd,#fcc,#fbb,#fbb,#faa,#faa,#faa,#faa,#faa,#fbb,#fbb,#fcc,#fdd,#fee,#fdf9f8,#eef)"></div><div style="height:4px;background:linear-gradient(90deg,#eef,#ddf,#ccf,#bbf,#bbf,#bbf,#bbf,#bbf,#ccf,#ccf,#ddf,#eef,#f7f7fe,#fee,#fdd,#fcc,#fbb,#fbb,#faa,#faa,#faa,#fbb,#fbb,#fbb,#fcc,#fdd,#fee,#fdf9f8,#eef,#eef,#ddf,#ccf,#bbf,#bbf,#bbf,#bbf,#bbf,#ccf,#ccf,#ddf,#eef,#f7f7fe,#fee,#fdd,#fcc,#fbb,#fbb,#faa,#faa,#faa,#fbb,#fbb,#fbb,#fcc,#fdd,#fee,#fdf9f8,#eef,#eef,#ddf,#ccf,#bbf,#bbf,#bbf,#bbf,#bbf,#ccf,#ccf,#ddf,#eef,#f7f7fe,#fee,#fdd,#fcc,#fbb,#fbb,#faa,#faa,#faa,#fbb,#fbb,#fbb,#fcc,#fdd,#fdd,#fee,#fbf9fc,#eef,#ddf,#ccf)"></div><div style="height:4px;background:linear-gradient(90deg,#ccf,#bbf,#bbf,#bbf,#bbf,#ccf,#ddf,#ddf,#eef,#f7f7fe,#fee,#fdd,#fdd,#fcc,#fbb,#fbb,#fbb,#faa,#fbb,#fbb,#fbb,#fcc,#fcc,#fdd,#fee,#fdf9f8,#eef,#ddf,#ccf,#ccf,#bbf,#bbf,#bbf,#bbf,#ccf,#ddf,#eef,#eef,#fbf9fc,#fee,#fdd,#fcc,#fcc,#fbb,#fbb,#faa,#fbb,#fbb,#fbb,#fbb,#fcc,#fdd,#fdd,#fee,#fdf9f8,#eef,#ddf,#ccf,#ccf,#bbf,#bbf,#bbf,#bbf,#ccf,#ddf,#ddf,#eef,#fbf9fc,#fee,#fdd,#fcc,#fcc,#fbb,#fbb,#fbb,#fbb,#fbb,#fbb,#fcc,#fcc,#fdd,#fdd,#fee,#fdf9f8,#eef,#eef,#ddf,#ccf,#bbf,#bbf)"></div><div style="height:4px;background:linear-gradient(90deg,#ccf,#ccf,#ccf,#ddf,#ddf,#eef,#fbf9fc,#fdf9f8,#fee,#fdd,#fcc,#fbb,#fbb,#fbb,#fbb,#fbb,#fbb,#fcc,#fcc,#fdd,#fdd,#fdd,#fee,#fee,#fdf9f8,#eef,#ddf,#ccf,#ccf,#bbf,#bbf,#bbf,#ccf,#ddf,#eef,#fdf9f8,#fee,#fdd,#fcc,#fcc,#fbb,#fbb,#fbb,#fbb,#fbb,#fbb,#fcc,#fcc,#fdd,#fdd,#fee,#fee,#fee,#fdf9f8,#eef,#ddf,#ccf,#ccf,#ccf,#ccf,#ccf,#ddf,#eef,#eef,#fdf9f8,#fee,#fdd,#fcc,#fcc,#fbb,#fbb,#fbb,#fbb,#fbb,#fbb,#fcc,#fdd,#fdd,#fdd,#fee,#fee,#fee,#fdf9f8,#eef,#ddf,#ccf,#ccf,#ccf,#ccf,#ccf)"></div><div style="height:4px;background:linear-gradient(90deg,#ddf,#eef,#f7f7fe,#fdf9f8,#fee,#fdd,#fdd,#fdd,#fcc,#fcc,#fbb,#fbb,#fbb,#fbb,#fcc,#fcc,#fdd,#fdd,#fee,#fee,#fee,#fee,#fdf9f8,#fdf9f8,#f7f7fe,#eef,#ddf,#ccf,#ccf,#ddf,#ddf,#eef,#fbf9fc,#fee,#fdd,#fcc,#fcc,#fcc,#fbb,#fbb,#fbb,#fbb,#fbb,#fcc,#fcc,#fdd,#fdd,#fee,#fee,#fee,#fee,#fdf9f8,#fdf9f8,#f7f7fe,#eef,#ccf,#ccf,#ccf,#ddf,#eef,#f7f7fe,#fdf9f8,#fee,#fdd,#fdd,#fcc,#fcc,#fbb,#fbb,#fbb,#fbb,#fbb,#fcc,#fcc,#fdd,#fee,#fee,#fee,#fee,#fee,#fdf9f8,#fdf9f8,#f7f7fe,#eef,#ccf,#ccf,#ccf,#ddf,#eef,#f7f7fe)"></div><div style="height:4px;background:linear-gradient(90deg,#f7f7fe,#fee,#fdd,#fdd,#fcc,#fcc,#fcc,#fcc,#fcc,#fcc,#fcc,#fcc,#fdd,#fdd,#fdd,#fee,#fee,#fee,#fee,#fdf9f8,#fdf9f8,#fdf9f8,#fbf9fc,#fbf9fc,#f7f7fe,#eef,#ddf,#ddf,#eef,#f7f7fe,#fee,#fdd,#fdd,#fcc,#fcc,#fbb,#fbb,#fcc,#fcc,#fcc,#fcc,#fcc,#fdd,#fdd,#fee,#fee,#fee,#fdf9f8,#fdf9f8,#fdf9f8,#fdf9f8,#fbf9fc,#fbf9fc,#f7f7fe,#eef,#ddf,#ddf,#eef,#fbf9fc,#fee,#fdd,#fdd,#fcc,#fcc,#fcc,#fcc,#fcc,#fcc,#fcc,#fcc,#fdd,#fdd,#fdd,#fee,#fee,#fee,#fdf9f8,#fdf9f8,#fdf9f8,#fdf9f8,#fbf9fc,#fbf9fc,#f7f7fe,#eef,#ddf,#ddf,#eef,#fdf9f8,#fee,#fdd)"></div><div style="height:4px;background:linear-gradient(90deg,#fee,#fdd,#fcc,#fcc,#fcc,#fcc,#fcc,#fcc,#fdd,#fdd,#fdd,#fee,#fee,#fee,#fee,#fee,#fdf9f8,#fdf9f8,#fdf9f8,#fbf9fc,#fbf9fc,#fbf9fc,#fbf9fc,#fbf9fc,#f7f7fe,#f7f7fe,#eef,#eef,#f7f7fe,#fee,#fdd,#fcc,#fcc,#fcc,#fcc,#fcc,#fcc,#fdd,#fdd,#fdd,#fee,#fee,#fee,#fee,#fdf9f8,#fdf9f8,#fdf9f8,#fbf9fc,#fbf9fc,#fbf9fc,#fbf9fc,#fbf9fc,#fbf9fc,#f7f7fe,#f7f7fe,#eef,#eef,#f7f7fe,#fee,#fdd,#fcc,#fcc,#fcc,#fcc,#fcc,#fdd,#fdd,#fdd,#fdd,#fee,#fee,#fee,#fee,#fdf9f8,#fdf9f8,#fdf9f8,#fdf9f8,#fbf9fc,#fbf9fc,#fbf9fc,#fbf9fc,#fbf9fc,#f7f7fe,#eef,#eef,#eef,#f7f7fe,#fee,#fcc,#fcc)"></div><div style="height:4px;background:linear-gradient(90deg,#fee,#fdd,#fdd,#fdd,#fdd,#fdd,#fdd,#fee,#fee,#fee,#fee,#fee,#fdf9f8,#fdf9f8,#fdf9f8,#fdf9f8,#fbf9fc,#fbf9fc,#fbf9fc,#fbf9fc,#fbf9fc,#fbf9fc,#fbf9fc,#fbf9fc,#fbf9fc,#f7f7fe,#f7f7fe,#f7f7fe,#fdf9f8,#fee,#fdd,#fdd,#fdd,#fdd,#fdd,#fdd,#fee,#fee,#fee,#fee,#fee,#fdf9f8,#fdf9f8,#fdf9f8,#f7f7fe,#f7f7fe,#f7f7fe,#f7f7fe,#fbf9fc,#fbf9fc,#fbf9fc,#fbf9fc,#fbf9fc,#fbf9fc,#f7f7fe,#f7f7fe,#f7f7fe,#fdf9f8,#fee,#fdd,#fdd,#fdd,#fdd,#fdd,#fdd,#fee,#fee,#fee,#fee,#fee,#fdf9f8,#fdf9f8,#fdf9f8,#fdf9f8,#fbf9fc,#fbf9fc,#fbf9fc,#fbf9fc,#fbf9fc,#fbf9fc,#fbf9fc,#fbf9fc,#fbf9fc,#f7f7fe,#f7f7fe,#f7f7fe,#fdf9f8,#fee,#fdd,#fdd)"></div><div style="height:4px;background:linear-gradient(90deg,#fee,#fee,#fee,#fee,#fee,#fee,#fee,#fee,#fdf9f8,#fdf9f8,#fdf9f8,#fdf9f8,#fdf9f8,#fbf9fc,#fbf9fc,#fbf9fc,#fbf9fc,#fbf9fc,#fbf9fc,#fbf9fc,#fbf9fc,#fbf9fc,#fbf9fc,#fbf9fc,#fbf9fc,#fbf9fc,#fbf9fc,#fbf9fc,#fdf9f8,#fee,#fee,#fee,#fee,#fee,#fee,#fee,#fee,#fdf9f8,#fdf9f8,#fdf9f8,#fdf9f8,#fdf9f8,#fdf9f8,#fbf9fc,#f7f7fe,#f7f7fe,#fbf9fc,#fbf9fc,#fbf9fc,#fbf9fc,#fbf9fc,#fbf9fc,#fbf9fc,#fbf9fc,#fbf9fc,#fbf9fc,#fbf9fc,#fdf9f8,#fee,#fee,#fee,#fee,#fee,#fee,#fee,#fdf9f8,#fdf9f8,#fdf9f8,#fdf9f8,#fdf9f8,#fdf9f8,#fbf9fc,#fbf9fc,#fbf9fc,#fbf9fc,#fbf9fc,#fbf9fc,#fbf9fc,#fbf9fc,#fbf9fc,#fbf9fc,#fbf9fc,#fbf9fc,#fbf9fc,#f7f7fe,#fbf9fc,#fdf9f8,#fee,#fee,#fee)"></div><div style="height:4px;background:linear-gradient(90deg,#fdf9f8,#fee,#fee,#fdf9f8,#fdf9f8,#fdf9f8,#fdf9f8,#fdf9f8,#fdf9f8,#fbf9fc,#fbf9fc,#fbf9fc,#fbf9fc,#fbf9fc,#fbf9fc,#fbf9fc,#fbf9fc,#fbf9fc,#fbf9fc,#fbf9fc,#fbf9fc,#fbf9fc,#fbf9fc,#fbf9fc,#fbf9fc,#fbf9fc,#fbf9fc,#fbf9fc,#fdf9f8,#fdf9f8,#fee,#fee,#fdf9f8,#fdf9f8,#fdf9f8,#fdf9f8,#fdf9f8,#fbf9fc,#fbf9fc,#fbf9fc,#fdf9f8,#fdf9f8,#fdf9f8,#fdf9f8,#fdf9f8,#fdf9f8,#fdf9f8,#fdf9f8,#fbf9fc,#fbf9fc,#fbf9fc,#fbf9fc,#fbf9fc,#fbf9fc,#fbf9fc,#fbf9fc,#fbf9fc,#fdf9f8,#fdf9f8,#fee,#fee,#fdf9f8,#fdf9f8,#fdf9f8,#fdf9f8,#fdf9f8,#fdf9f8,#fbf9fc,#fbf9fc,#fbf9fc,#fbf9fc,#fbf9fc,#fbf9fc,#fbf9fc,#fbf9fc,#fbf9fc,#fbf9fc,#fbf9fc,#fbf9fc,#fbf9fc,#fbf9fc,#fbf9fc,#fbf9fc,#fbf9fc,#fbf9fc,#fbf9fc,#fdf9f8,#fdf9f8,#fee,#fee)"></div><div style="height:4px;background:linear-gradient(90deg,#fdf9f8,#fdf9f8,#fdf9f8,#fdf9f8,#fdf9f8,#fbf9fc,#fbf9fc,#fbf9fc,#fbf9fc,#fbf9fc,#fbf9fc,#fbf9fc,#fbf9fc,#fbf9fc,#fbf9fc,#fbf9fc,#fbf9fc,#fbf9fc,#fbf9fc,#fbf9fc,#fbf9fc,#fbf9fc,#fbf9fc,#fbf9fc,#fbf9fc,#fbf9fc,#fbf9fc,#fbf9fc,#fbf9fc,#fdf9f8,#fdf9f8,#fdf9f8,#fdf9f8,#fdf9f8,#fbf9fc,#fbf9fc,#f7f7fe,#f7f7fe,#fbf9fc,#fbf9fc,#fdf9f8,#fee,#fee,#fdf9f8,#fee,#fee,#fee,#fdf9f8,#fbf9fc,#fbf9fc,#fbf9fc,#fbf9fc,#fbf9fc,#fbf9fc,#fbf9fc,#fbf9fc,#fbf9fc,#fbf9fc,#fdf9f8,#fdf9f8,#fdf9f8,#fdf9f8,#fdf9f8,#fbf9fc,#fbf9fc,#fbf9fc,#fbf9fc,#fbf9fc,#fbf9fc,#fbf9fc,#fbf9fc,#fbf9fc,#fbf9fc,#fbf9fc,#fbf9fc,#fbf9fc,#fbf9fc,#fbf9fc,#fbf9fc,#fbf9fc,#fbf9fc,#fbf9fc,#fbf9fc,#fbf9fc,#fbf9fc,#fbf9fc,#fbf9fc,#fdf9f8,#fdf9f8,#fdf9f8)"></div><div style="height:4px;background:linear-gradient(90deg,#fbf9fc,#fbf9fc,#fbf9fc,#fbf9fc,#fbf9fc,#fbf9fc,#fbf9fc,#fbf9fc,#fbf9fc,#fbf9fc,#fbf9fc,#fbf9fc,#fbf9fc,#fbf9fc,#fbf9fc,#fbf9fc,#fbf9fc,#fbf9fc,#fbf9fc,#fbf9fc,#fbf9fc,#fbf9fc,#fbf9fc,#fbf9fc,#fbf9fc,#fbf9fc,#fbf9fc,#fbf9fc,#fbf9fc,#fbf9fc,#fbf9fc,#fbf9fc,#fbf9fc,#fbf9fc,#fbf9fc,#f7f7fe,#f7f7fe,#f7f7fe,#f7f7fe,#fbf9fc,#fdf9f8,#fdf9f8,#fdf9f8,#fdf9f8,#fdf9f8,#fee,#fee,#fdf9f8,#fbf9fc,#fbf9fc,#fbf9fc,#fbf9fc,#fbf9fc,#fbf9fc,#fbf9fc,#fbf9fc,#fbf9fc,#fbf9fc,#fbf9fc,#fbf9fc,#fbf9fc,#fbf9fc,#fbf9fc,#fbf9fc,#fbf9fc,#fbf9fc,#fbf9fc,#fbf9fc,#fbf9fc,#fbf9fc,#fbf9fc,#fbf9fc,#fdf9f8,#fdf9f8,#fdf9f8,#fbf9fc,#fbf9fc,#fbf9fc,#fbf9fc,#fbf9fc,#fbf9fc,#fbf9fc,#fbf9fc,#fbf9fc,#fbf9fc,#fbf9fc,#fbf9fc,#fbf9fc,#fbf9fc,#fbf9fc)"></div><div style="height:4px;background:linear-gradient(90deg,#fbf9fc,#fbf9fc,#fbf9fc,#fbf9fc,#fbf9fc,#fbf9fc,#fbf9fc,#fbf9fc,#fbf9fc,#fbf9fc,#fbf9fc,#fbf9fc,#fbf9fc,#fbf9fc,#fbf9fc,#fbf9fc,#fbf9fc,#fbf9fc,#fbf9fc,#fbf9fc,#fbf9fc,#fbf9fc,#fbf9fc,#fbf9fc,#fbf9fc,#fbf9fc,#fbf9fc,#fbf9fc,#fbf9fc,#fbf9fc,#fbf9fc,#fbf9fc,#fbf9fc,#fbf9fc,#fbf9fc,#f7f7fe,#f7f7fe,#f7f7fe,#f7f7fe,#fbf9fc,#fbf9fc,#fdf9f8,#fdf9f8,#fdf9f8,#fdf9f8,#fdf9f8,#fdf9f8,#fbf9fc,#fbf9fc,#fbf9fc,#fbf9fc,#fbf9fc,#fbf9fc,#fbf9fc,#fbf9fc,#fbf9fc,#fbf9fc,#fbf9fc,#fbf9fc,#fbf9fc,#fbf9fc,#fbf9fc,#fbf9fc,#fbf9fc,#fbf9fc,#fbf9fc,#fbf9fc,#fbf9fc,#fbf9fc,#fbf9fc,#fbf9fc,#fbf9fc,#fdf9f8,#fdf9f8,#fdf9f8,#fbf9fc,#fbf9fc,#fbf9fc,#fbf9fc,#fbf9fc,#fbf9fc,#fbf9fc,#fbf9fc,#fbf9fc,#fbf9fc,#fbf9fc,#fbf9fc,#fbf9fc,#fbf9fc,#fbf9fc)"></div><div style="height:4px;background:linear-gradient(90deg,#fbf9fc,#fbf9fc,#fbf9fc,#fbf9fc,#fbf9fc,#fbf9fc,#fbf9fc,#fbf9fc,#fbf9fc,#fbf9fc,#fbf9fc,#fbf9fc,#fbf9fc,#fbf9fc,#fbf9fc,#fbf9fc,#fbf9fc,#fbf9fc,#fbf9fc,#fbf9fc,#fbf9fc,#fbf9fc,#fbf9fc,#fbf9fc,#fbf9fc,#fbf9fc,#fbf9fc,#fbf9fc,#fbf9fc,#fbf9fc,#fbf9fc,#fbf9fc,#f7f7fe,#f7f7fe,#f7f7fe,#fbf9fc,#fbf9fc,#fbf9fc,#fbf9fc,#f7f7fe,#f7f7fe,#f7f7fe,#fbf9fc,#fbf9fc,#fbf9fc,#fbf9fc,#fbf9fc,#fbf9fc,#fdf9f8,#fdf9f8,#fdf9f8,#fdf9f8,#fbf9fc,#fbf9fc,#fbf9fc,#fbf9fc,#fbf9fc,#fbf9fc,#fbf9fc,#fbf9fc,#fbf9fc,#fbf9fc,#fbf9fc,#fbf9fc,#fbf9fc,#fbf9fc,#fbf9fc,#fbf9fc,#fbf9fc,#fbf9fc,#fbf9fc,#fbf9fc,#fbf9fc,#fbf9fc,#fbf9fc,#fbf9fc,#fbf9fc,#fbf9fc,#fbf9fc,#fbf9fc,#fbf9fc,#fbf9fc,#fbf9fc,#fbf9fc,#fbf9fc,#fbf9fc,#fbf9fc,#fbf9fc,#fbf9fc,#fbf9fc)"></div><div style="height:4px;background:linear-gradient(90deg,#fbf9fc,#fbf9fc,#fbf9fc,#fbf9fc,#fbf9fc,#fbf9fc,#fbf9fc,#fbf9fc,#fbf9fc,#fbf9fc,#fbf9fc,#fbf9fc,#fbf9fc,#fbf9fc,#fbf9fc,#fbf9fc,#fbf9fc,#fbf9fc,#fbf9fc,#fbf9fc,#fbf9fc,#fbf9fc,#fbf9fc,#fbf9fc,#fbf9fc,#fbf9fc,#fbf9fc,#fbf9fc,#fbf9fc,#fbf9fc,#fbf9fc,#fbf9fc,#f7f7fe,#f7f7fe,#f7f7fe,#fbf9fc,#fbf9fc,#fbf9fc,#f7f7fe,#f7f7fe,#eef,#f7f7fe,#fbf9fc,#fbf9fc,#fbf9fc,#fbf9fc,#fbf9fc,#fbf9fc,#fdf9f8,#fee,#fee,#fdf9f8,#fbf9fc,#fbf9fc,#fbf9fc,#fbf9fc,#fbf9fc,#fbf9fc,#fbf9fc,#fbf9fc,#fbf9fc,#fbf9fc,#fbf9fc,#fbf9fc,#fbf9fc,#fbf9fc,#fbf9fc,#fbf9fc,#fbf9fc,#fbf9fc,#fbf9fc,#fbf9fc,#fbf9fc,#fbf9fc,#fbf9fc,#fbf9fc,#fbf9fc,#fbf9fc,#fbf9fc,#fbf9fc,#fbf9fc,#fbf9fc,#fbf9fc,#fbf9fc,#fbf9fc,#fbf9fc,#fbf9fc,#fbf9fc,#fbf9fc,#fbf9fc)"></div><div style="height:4px;background:linear-gradient(90deg,#fbf9fc,#fbf9fc,#fbf9fc,#fbf9fc,#fbf9fc,#fbf9fc,#fbf9fc,#fbf9fc,#fbf9fc,#fbf9fc,#fbf9fc,#fbf9fc,#fbf9fc,#fbf9fc,#fbf9fc,#fbf9fc,#fbf9fc,#fbf9fc,#fbf9fc,#fbf9fc,#fbf9fc,#fbf9fc,#fbf9fc,#fbf9fc,#fbf9fc,#fbf9fc,#fbf9fc,#fbf9fc,#fbf9fc,#fbf9fc,#fbf9fc,#fbf9fc,#fbf9fc,#f7f7fe,#fbf9fc,#fbf9fc,#fbf9fc,#fbf9fc,#fbf9fc,#f7f7fe,#f7f7fe,#fbf9fc,#fbf9fc,#fbf9fc,#fbf9fc,#fbf9fc,#fbf9fc,#fbf9fc,#fdf9f8,#fee,#fee,#fdf9f8,#fbf9fc,#fbf9fc,#fbf9fc,#fbf9fc,#fbf9fc,#fbf9fc,#fbf9fc,#fbf9fc,#fbf9fc,#fbf9fc,#fbf9fc,#fbf9fc,#fbf9fc,#fbf9fc,#fbf9fc,#fbf9fc,#fbf9fc,#fbf9fc,#fbf9fc,#fbf9fc,#fbf9fc,#fbf9fc,#fbf9fc,#fbf9fc,#fbf9fc,#fbf9fc,#fbf9fc,#fbf9fc,#fbf9fc,#fbf9fc,#fbf9fc,#fbf9fc,#fbf9fc,#fbf9fc,#fbf9fc,#fbf9fc,#fbf9fc,#fbf9fc)"></div><div style="height:4px;background:linear-gradient(90deg,#fbf9fc,#fbf9fc,#fbf9fc,#fbf9fc,#fbf9fc,#fbf9fc,#fbf9fc,#fbf9fc,#fbf9fc,#fbf9fc,#fbf9fc,#fbf9fc,#fbf9fc,#fbf9fc,#fbf9fc,#fbf9fc,#fbf9fc,#fbf9fc,#fbf9fc,#fbf9fc,#fbf9fc,#fbf9fc,#fbf9fc,#fbf9fc,#fbf9fc,#fbf9fc,#fbf9fc,#fbf9fc,#fbf9fc,#fbf9fc,#fbf9fc,#fbf9fc,#fbf9fc,#fbf9fc,#fbf9fc,#fbf9fc,#fbf9fc,#fbf9fc,#fbf9fc,#fbf9fc,#fbf9fc,#fbf9fc,#fbf9fc,#fbf9fc,#fbf9fc,#fbf9fc,#fbf9fc,#fbf9fc,#fbf9fc,#fdf9f8,#fdf9f8,#fbf9fc,#fbf9fc,#fbf9fc,#fbf9fc,#fbf9fc,#fbf9fc,#fbf9fc,#fbf9fc,#fbf9fc,#fbf9fc,#fbf9fc,#fbf9fc,#fbf9fc,#fbf9fc,#fbf9fc,#fbf9fc,#fbf9fc,#fbf9fc,#fbf9fc,#fbf9fc,#fbf9fc,#fbf9fc,#fbf9fc,#fbf9fc,#fbf9fc,#fbf9fc,#fbf9fc,#fbf9fc,#fbf9fc,#fbf9fc,#fbf9fc,#fbf9fc,#fbf9fc,#fbf9fc,#fbf9fc,#fbf9fc,#fbf9fc,#fbf9fc,#fbf9fc)"></div><div style="height:4px;background:linear-gradient(90deg,#fbf9fc,#fbf9fc,#fbf9fc,#fbf9fc,#fbf9fc,#fbf9fc,#fbf9fc,#fbf9fc,#fbf9fc,#fbf9fc,#fbf9fc,#fbf9fc,#fbf9fc,#fbf9fc,#fbf9fc,#fbf9fc,#f7f7fe,#f7f7fe,#f7f7fe,#fbf9fc,#fbf9fc,#fbf9fc,#fbf9fc,#f7f7fe,#f7f7fe,#f7f7fe,#fbf9fc,#fbf9fc,#fbf9fc,#fbf9fc,#fbf9fc,#fbf9fc,#fbf9fc,#fbf9fc,#fbf9fc,#fbf9fc,#fbf9fc,#fbf9fc,#fbf9fc,#fbf9fc,#fbf9fc,#fbf9fc,#fbf9fc,#fbf9fc,#fbf9fc,#fbf9fc,#fbf9fc,#fbf9fc,#fbf9fc,#fbf9fc,#fbf9fc,#fbf9fc,#f7f7fe,#f7f7fe,#f7f7fe,#fbf9fc,#fbf9fc,#fdf9f8,#fdf9f8,#fbf9fc,#fbf9fc,#fbf9fc,#fbf9fc,#fbf9fc,#fbf9fc,#fbf9fc,#fbf9fc,#fbf9fc,#fbf9fc,#fbf9fc,#fbf9fc,#fbf9fc,#fbf9fc,#fbf9fc,#fbf9fc,#fbf9fc,#fbf9fc,#fbf9fc,#fbf9fc,#fbf9fc,#fbf9fc,#f7f7fe,#f7f7fe,#f7f7fe,#fbf9fc,#fbf9fc,#fbf9fc,#fbf9fc,#fbf9fc,#fbf9fc)"></div><div style="height:4px;background:linear-gradient(90deg,#fbf9fc,#fbf9fc,#fbf9fc,#fbf9fc,#fbf9fc,#fbf9fc,#fbf9fc,#fbf9fc,#fbf9fc,#fbf9fc,#fbf9fc,#fbf9fc,#fbf9fc,#fbf9fc,#f7f7fe,#f7f7fe,#f7f7fe,#f7f7fe,#f7f7fe,#f7f7fe,#f7f7fe,#f7f7fe,#f7f7fe,#f7f7fe,#f7f7fe,#f7f7fe,#f7f7fe,#fbf9fc,#fbf9fc,#fbf9fc,#fbf9fc,#fbf9fc,#fbf9fc,#fbf9fc,#fbf9fc,#fbf9fc,#fbf9fc,#fdf9f8,#fdf9f8,#fee,#fdf9f8,#fdf9f8,#fbf9fc,#fbf9fc,#fbf9fc,#fbf9fc,#fbf9fc,#fbf9fc,#f7f7fe,#f7f7fe,#f7f7fe,#f7f7fe,#f7f7fe,#f7f7fe,#f7f7fe,#f7f7fe,#fbf9fc,#fdf9f8,#fee,#fdf9f8,#fbf9fc,#fbf9fc,#fbf9fc,#fbf9fc,#fbf9fc,#fbf9fc,#fbf9fc,#fbf9fc,#fbf9fc,#fbf9fc,#fbf9fc,#fbf9fc,#fbf9fc,#fbf9fc,#fbf9fc,#fbf9fc,#fbf9fc,#f7f7fe,#f7f7fe,#f7f7fe,#f7f7fe,#f7f7fe,#f7f7fe,#f7f7fe,#f7f7fe,#fbf9fc,#fbf9fc,#fbf9fc,#fbf9fc,#fbf9fc)"></div><div style="height:4px;background:linear-gradient(90deg,#fdf9f8,#fdf9f8,#fdf9f8,#fbf9fc,#fbf9fc,#fbf9fc,#fbf9fc,#fdf9f8,#fbf9fc,#fbf9fc,#fbf9fc,#fbf9fc,#fbf9fc,#f7f7fe,#f7f7fe,#eef,#f7f7fe,#f7f7fe,#f7f7fe,#eef,#eef,#eef,#eef,#eef,#eef,#eef,#f7f7fe,#fbf9fc,#fbf9fc,#fdf9f8,#fdf9f8,#fdf9f8,#fbf9fc,#fbf9fc,#fbf9fc,#fbf9fc,#fdf9f8,#fdf9f8,#fdf9f8,#fdf9f8,#fdf9f8,#fbf9fc,#fbf9fc,#fbf9fc,#fbf9fc,#fbf9fc,#f7f7fe,#f7f7fe,#f7f7fe,#eef,#eef,#eef,#eef,#eef,#eef,#f7f7fe,#fbf9fc,#fdf9f8,#fdf9f8,#fdf9f8,#fdf9f8,#fbf9fc,#fbf9fc,#fbf9fc,#fbf9fc,#fdf9f8,#fbf9fc,#fbf9fc,#fbf9fc,#fbf9fc,#fbf9fc,#fbf9fc,#fbf9fc,#fbf9fc,#fbf9fc,#f7f7fe,#f7f7fe,#f7f7fe,#eef,#eef,#eef,#fbf9fc,#eef,#eef,#f7f7fe,#fbf9fc,#fbf9fc,#fdf9f8,#fdf9f8,#fdf9f8)"></div><div style="height:4px;background:linear-gradient(90deg,#fdf9f8,#fdf9f8,#fdf9f8,#fdf9f8,#fdf9f8,#fdf9f8,#fdf9f8,#fdf9f8,#fdf9f8,#fdf9f8,#fbf9fc,#fbf9fc,#fbf9fc,#f7f7fe,#eef,#eef,#eef,#f7f7fe,#eef,#eef,#ddf,#ddf,#ddf,#ddf,#eef,#eef,#f7f7fe,#fbf9fc,#fdf9f8,#fdf9f8,#fdf9f8,#fdf9f8,#fdf9f8,#fdf9f8,#fdf9f8,#fdf9f8,#fdf9f8,#fdf9f8,#fdf9f8,#fbf9fc,#fbf9fc,#fbf9fc,#fbf9fc,#f7f7fe,#f7f7fe,#f7f7fe,#f7f7fe,#eef,#eef,#eef,#ddf,#ddf,#ddf,#eef,#eef,#f7f7fe,#fbf9fc,#fdf9f8,#fdf9f8,#fdf9f8,#fdf9f8,#fdf9f8,#fdf9f8,#fdf9f8,#fdf9f8,#fdf9f8,#fdf9f8,#fdf9f8,#fbf9fc,#fbf9fc,#fbf9fc,#fbf9fc,#f7f7fe,#f7f7fe,#f7f7fe,#eef,#eef,#eef,#eef,#ddf,#ddf,#eef,#eef,#eef,#f7f7fe,#fdf9f8,#fdf9f8,#fdf9f8,#fdf9f8,#fdf9f8)"></div><div style="height:4px;background:linear-gradient(90deg,#fee,#fee,#fee,#fee,#fee,#fee,#fee,#fee,#fee,#fdf9f8,#fdf9f8,#fbf9fc,#f7f7fe,#f7f7fe,#eef,#eef,#eef,#eef,#ddf,#ddf,#ccf,#ccf,#ccf,#ddf,#ddf,#eef,#f7f7fe,#fdf9f8,#fee,#fee,#fee,#fee,#fee,#fee,#fee,#fee,#fee,#fee,#fdf9f8,#fbf9fc,#fbf9fc,#f7f7fe,#f7f7fe,#f7f7fe,#eef,#eef,#eef,#ddf,#ddf,#ccf,#ccf,#ccf,#ddf,#ddf,#eef,#f7f7fe,#fdf9f8,#fee,#fee,#fee,#fee,#fee,#fee,#fee,#fee,#fee,#fee,#fdf9f8,#fbf9fc,#fbf9fc,#f7f7fe,#f7f7fe,#f7f7fe,#eef,#eef,#eef,#ddf,#ddf,#ccf,#ccf,#ccf,#ddf,#ddf,#eef,#fbf9fc,#fee,#fee,#fee,#fee,#fee)"></div><div style="height:4px;background:linear-gradient(90deg,#fcc,#fcc,#fcc,#fdd,#fdd,#fdd,#fdd,#fdd,#fee,#fee,#fbf9fc,#f7f7fe,#eef,#eef,#eef,#ddf,#ddf,#ccf,#bbf,#bbf,#bbf,#bbf,#ccf,#ddf,#eef,#eef,#fee,#fdd,#fdd,#fcc,#fcc,#fcc,#fdd,#fdd,#fdd,#fdd,#fdd,#fee,#fee,#fbf9fc,#f7f7fe,#eef,#eef,#eef,#ddf,#ddf,#ccf,#bbf,#bbf,#bbf,#bbf,#ccf,#ddf,#eef,#f7f7fe,#fee,#fdd,#fdd,#fcc,#fcc,#fcc,#fdd,#fdd,#fdd,#fdd,#fdd,#fee,#fee,#fbf9fc,#f7f7fe,#eef,#eef,#eef,#ddf,#ddf,#ccf,#bbf,#bbf,#bbf,#bbf,#ccf,#ddf,#eef,#f7f7fe,#fee,#fdd,#fdd,#fcc,#fcc,#fcc)"></div><div style="height:4px;background:linear-gradient(90deg,#faa,#f99,#faa,#faa,#fbb,#fbb,#fcc,#fdd,#fdd,#fee,#f7f7fe,#eef,#ddf,#ddf,#ccf,#bbf,#aaf,#99f,#99f,#99f,#aaf,#bbf,#ccf,#eef,#fdf9f8,#fee,#fcc,#fbb,#faa,#faa,#f99,#faa,#faa,#fbb,#fbb,#fcc,#fdd,#fdd,#fee,#f7f7fe,#eef,#ddf,#ddf,#ccf,#bbf,#aaf,#99f,#99f,#99f,#aaf,#bbf,#ccf,#eef,#fdf9f8,#fdd,#fcc,#fbb,#faa,#faa,#f99,#faa,#faa,#fbb,#fbb,#fcc,#fdd,#fdd,#fee,#f7f7fe,#eef,#ddf,#ddf,#ccf,#bbf,#aaf,#99f,#99f,#99f,#aaf,#bbf,#ccf,#eef,#fee,#fdd,#fcc,#fbb,#faa,#faa,#f99,#faa)"></div><div style="height:4px;background:linear-gradient(90deg,#f66,#f66,#f66,#f77,#f88,#f99,#faa,#fcc,#fdd,#fbf9fc,#ddf,#ccf,#bbf,#aaf,#99f,#88f,#77f,#77f,#77f,#88f,#aaf,#ccf,#f7f7fe,#fdd,#fbb,#faa,#f99,#f88,#f77,#f66,#f66,#f77,#f77,#f88,#f99,#fbb,#fcc,#fee,#f7f7fe,#ddf,#ccf,#bbf,#aaf,#99f,#88f,#77f,#77f,#77f,#99f,#aaf,#ccf,#f7f7fe,#fdd,#fbb,#faa,#f99,#f88,#f77,#f66,#f66,#f77,#f77,#f88,#f99,#fbb,#fdd,#fee,#f7f7fe,#ddf,#ccf,#bbf,#aaf,#99f,#88f,#77f,#77f,#77f,#99f,#bbf,#ddf,#fbf9fc,#fdd,#fbb,#faa,#f99,#f88,#f77,#f66,#f66,#f77)"></div><div style="height:4px;background:linear-gradient(90deg,#f33,#f33,#f44,#f55,#f66,#f88,#fbb,#fdd,#f7f7fe,#ddf,#bbf,#99f,#88f,#77f,#66f,#55f,#55f,#66f,#88f,#aaf,#ddf,#fee,#fbb,#f99,#f77,#f66,#f55,#f44,#f33,#f33,#f33,#f44,#f55,#f77,#f88,#fbb,#fdd,#f7f7fe,#ccf,#aaf,#99f,#88f,#66f,#55f,#55f,#55f,#66f,#88f,#aaf,#ddf,#fee,#fbb,#f88,#f77,#f66,#f44,#f44,#f33,#f33,#f33,#f44,#f55,#f77,#f99,#fbb,#fee,#eef,#ccf,#aaf,#99f,#77f,#66f,#55f,#55f,#55f,#66f,#88f,#bbf,#eef,#fee,#fbb,#f88,#f77,#f55,#f44,#f44,#f33,#f33,#f33,#f44)"></div><div style="height:4px;background:linear-gradient(90deg,#f11,#f22,#f44,#f55,#f77,#f99,#fdd,#eef,#bbf,#99f,#77f,#55f,#44f,#33f,#33f,#44f,#55f,#88f,#bbf,#eef,#fcc,#f99,#f66,#f33,#f22,#f11,#f11,#f11,#f11,#f11,#f22,#f44,#f55,#f88,#faa,#fdd,#ddf,#bbf,#88f,#66f,#55f,#44f,#33f,#33f,#44f,#55f,#88f,#bbf,#f7f7fe,#fcc,#f99,#f66,#f33,#f22,#f11,#f11,#f11,#f11,#f11,#f22,#f44,#f66,#f88,#faa,#fee,#ddf,#bbf,#88f,#66f,#55f,#44f,#33f,#33f,#44f,#66f,#88f,#ccf,#fdf9f8,#fbb,#f88,#f55,#f33,#f22,#f11,#f11,#f11,#f11,#f11,#f22,#f44)"></div><div style="height:4px;background:linear-gradient(90deg,#f33,#f44,#f66,#f99,#fbb,#fee,#ccf,#99f,#66f,#44f,#33f,#22f,#22f,#22f,#44f,#66f,#99f,#ddf,#fdd,#f99,#f66,#f33,#f11,#f00,#f00,#f00,#f00,#f00,#f11,#f33,#f44,#f66,#f99,#fcc,#fee,#ccf,#99f,#66f,#44f,#22f,#22f,#22f,#33f,#44f,#66f,#99f,#ddf,#fdd,#f99,#f66,#f33,#f11,#f00,#f00,#f00,#f00,#f00,#f11,#f33,#f44,#f77,#f99,#fcc,#fdf9f8,#ccf,#88f,#66f,#44f,#22f,#22f,#22f,#33f,#44f,#77f,#aaf,#eef,#fcc,#f99,#f55,#f33,#f11,#f00,#f00,#f00,#f00,#f00,#f22,#f33,#f44,#f77)"></div><div style="height:4px;background:linear-gradient(90deg,#f77,#f99,#fcc,#fee,#ddf,#aaf,#66f,#44f,#22f,#00f,#00f,#11f,#33f,#55f,#88f,#ccf,#fee,#faa,#f66,#f33,#f11,#f00,#f00,#f00,#f00,#f00,#f11,#f33,#f55,#f77,#f99,#fcc,#fdf9f8,#ccf,#aaf,#66f,#44f,#22f,#00f,#00f,#11f,#33f,#55f,#88f,#ccf,#fee,#faa,#f66,#f33,#f00,#f00,#f00,#f00,#f00,#f00,#f11,#f33,#f55,#f77,#f99,#fcc,#fbf9fc,#ccf,#99f,#66f,#33f,#11f,#00f,#11f,#11f,#33f,#66f,#99f,#ddf,#fdd,#f99,#f66,#f33,#f00,#f00,#f00,#f00,#f00,#f00,#f22,#f33,#f55,#f77,#faa,#fcc)"></div><div style="height:4px;background:linear-gradient(90deg,#fdd,#eef,#ccf,#99f,#66f,#44f,#11f,#00f,#00f,#00f,#22f,#44f,#77f,#bbf,#fdf9f8,#fbb,#f77,#f33,#f00,#f00,#f00,#f00,#f00,#f00,#f22,#f44,#f66,#f88,#fbb,#fdd,#eef,#ccf,#99f,#66f,#44f,#11f,#00f,#00f,#00f,#22f,#55f,#88f,#bbf,#fee,#faa,#f66,#f33,#f00,#f00,#f00,#f00,#f00,#f00,#f22,#f44,#f66,#f88,#fbb,#fdd,#eef,#bbf,#88f,#66f,#33f,#11f,#00f,#00f,#00f,#22f,#55f,#88f,#ccf,#fdd,#f99,#f66,#f22,#f00,#f00,#f00,#f00,#f00,#f00,#f22,#f44,#f66,#f99,#fbb,#fee,#eef,#bbf)"></div><div style="height:4px;background:linear-gradient(90deg,#aaf,#77f,#55f,#33f,#11f,#00f,#00f,#00f,#11f,#44f,#77f,#bbf,#f7f7fe,#fbb,#f77,#f33,#f00,#f00,#f00,#f00,#f00,#f00,#f22,#f44,#f77,#faa,#fcc,#fdf9f8,#ddf,#aaf,#77f,#55f,#33f,#11f,#00f,#00f,#00f,#11f,#44f,#77f,#bbf,#fbf9fc,#fbb,#f77,#f33,#f00,#f00,#f00,#f00,#f00,#f00,#f22,#f55,#f88,#faa,#fdd,#f7f7fe,#ccf,#aaf,#77f,#55f,#22f,#11f,#00f,#00f,#00f,#22f,#44f,#77f,#bbf,#fee,#f99,#f55,#f22,#f00,#f00,#f00,#f00,#f00,#f00,#f22,#f55,#f88,#faa,#fdd,#f7f7fe,#ccf,#99f,#77f,#55f)"></div><div style="height:4px;background:linear-gradient(90deg,#33f,#22f,#00f,#00f,#00f,#00f,#11f,#33f,#66f,#aaf,#eef,#fcc,#f88,#f44,#f11,#f00,#f00,#f00,#f00,#f00,#f22,#f44,#f77,#fbb,#fee,#ddf,#bbf,#88f,#66f,#44f,#22f,#00f,#00f,#00f,#00f,#11f,#33f,#66f,#aaf,#eef,#fbb,#f77,#f44,#f00,#f00,#f00,#f00,#f00,#f00,#f22,#f55,#f88,#fbb,#fee,#ddf,#aaf,#88f,#55f,#33f,#11f,#00f,#00f,#00f,#00f,#11f,#33f,#77f,#bbf,#f7f7fe,#fbb,#f66,#f11,#f00,#f00,#f00,#f00,#f00,#f00,#f22,#f55,#f88,#fbb,#fdf9f8,#ddf,#aaf,#77f,#55f,#33f,#11f,#00f)"></div><div style="height:4px;background:linear-gradient(90deg,#00f,#00f,#00f,#00f,#00f,#22f,#55f,#99f,#ddf,#fdd,#f88,#f44,#f11,#f00,#f00,#f00,#f00,#f00,#f11,#f44,#f77,#fbb,#fee,#ddf,#99f,#66f,#44f,#22f,#00f,#00f,#00f,#00f,#00f,#11f,#33f,#66f,#aaf,#eef,#fcc,#f88,#f44,#f11,#f00,#f00,#f00,#f00,#f00,#f22,#f44,#f88,#fbb,#fee,#ccf,#99f,#66f,#44f,#22f,#00f,#00f,#00f,#00f,#00f,#00f,#33f,#66f,#aaf,#eef,#fcc,#f77,#f33,#f00,#f00,#f00,#f00,#f00,#f00,#f22,#f55,#f88,#fbb,#fdf9f8,#ccf,#88f,#66f,#33f,#11f,#00f,#00f,#00f,#00f)"></div><div style="height:4px;background:linear-gradient(90deg,#00f,#00f,#00f,#22f,#44f,#88f,#ccf,#fee,#f99,#f55,#f11,#f00,#f00,#f00,#f00,#f00,#f11,#f44,#f77,#faa,#fee,#ddf,#99f,#66f,#33f,#00f,#00f,#00f,#00f,#00f,#00f,#11f,#33f,#66f,#99f,#ddf,#fdd,#f99,#f55,#f11,#f00,#f00,#f00,#f00,#f00,#f11,#f44,#f77,#fbb,#fee,#ddf,#99f,#66f,#22f,#00f,#00f,#00f,#00f,#00f,#00f,#00f,#22f,#55f,#99f,#ddf,#fdd,#f99,#f55,#f11,#f00,#f00,#f00,#f00,#f00,#f00,#f44,#f88,#fbb,#fee,#ccf,#99f,#55f,#22f,#00f,#00f,#00f,#00f,#00f,#00f,#00f)"></div><div style="height:4px;background:linear-gradient(90deg,#00f,#22f,#44f,#77f,#bbf,#fbf9fc,#fbb,#f77,#f33,#f00,#f00,#f00,#f00,#f00,#f11,#f33,#f77,#faa,#fee,#ddf,#aaf,#66f,#33f,#00f,#00f,#00f,#00f,#00f,#00f,#11f,#44f,#66f,#99f,#ddf,#fdd,#f99,#f55,#f22,#f00,#f00,#f00,#f00,#f00,#f11,#f44,#f77,#faa,#fee,#ddf,#99f,#66f,#33f,#00f,#00f,#00f,#00f,#00f,#00f,#00f,#22f,#55f,#88f,#ccf,#fee,#faa,#f66,#f22,#f00,#f00,#f00,#f00,#f00,#f00,#f00,#f44,#faa,#fee,#ccf,#99f,#66f,#33f,#00f,#00f,#00f,#00f,#00f,#00f,#00f,#22f,#55f)"></div><div style="height:4px;background:linear-gradient(90deg,#44f,#77f,#aaf,#eef,#fcc,#f88,#f44,#f11,#f00,#f00,#f00,#f00,#f00,#f33,#f66,#faa,#fdd,#ddf,#aaf,#77f,#33f,#11f,#00f,#00f,#00f,#00f,#00f,#11f,#44f,#77f,#aaf,#eef,#fdd,#f99,#f55,#f22,#f00,#f00,#f00,#f00,#f00,#f00,#f33,#f66,#faa,#fdd,#ddf,#aaf,#66f,#33f,#11f,#00f,#00f,#00f,#00f,#00f,#00f,#33f,#55f,#88f,#bbf,#f7f7fe,#fbb,#f77,#f44,#f00,#f00,#f00,#f00,#f00,#f00,#f00,#f00,#f22,#faa,#eef,#aaf,#66f,#33f,#00f,#00f,#00f,#00f,#00f,#00f,#00f,#22f,#55f,#88f,#bbf)"></div><div style="height:4px;background:linear-gradient(90deg,#aaf,#eef,#fdd,#f99,#f66,#f22,#f00,#f00,#f00,#f00,#f00,#f22,#f66,#f99,#fcc,#eef,#aaf,#77f,#44f,#11f,#00f,#00f,#00f,#00f,#00f,#11f,#44f,#77f,#aaf,#eef,#fcc,#f88,#f55,#f11,#f00,#f00,#f00,#f00,#f00,#f00,#f22,#f66,#f99,#fdd,#eef,#aaf,#77f,#44f,#11f,#00f,#00f,#00f,#00f,#00f,#11f,#44f,#66f,#99f,#ccf,#fdf9f8,#fbb,#f88,#f44,#f11,#f00,#f00,#f00,#f00,#f00,#f22,#f22,#f11,#f33,#f88,#eef,#88f,#44f,#11f,#00f,#00f,#00f,#00f,#00f,#00f,#33f,#55f,#88f,#bbf,#eef,#fcc)"></div><div style="height:4px;background:linear-gradient(90deg,#fee,#faa,#f77,#f44,#f11,#f00,#f00,#f00,#f00,#f22,#f55,#f88,#fcc,#f7f7fe,#bbf,#88f,#44f,#11f,#00f,#00f,#00f,#00f,#00f,#00f,#33f,#66f,#aaf,#ddf,#fdd,#f99,#f44,#f11,#f00,#f00,#f00,#f00,#f00,#f00,#f11,#f44,#f88,#fcc,#f7f7fe,#bbf,#88f,#44f,#22f,#00f,#00f,#00f,#00f,#00f,#11f,#44f,#77f,#aaf,#ddf,#fee,#fbb,#f77,#f44,#f11,#f00,#f00,#f00,#f00,#f00,#f33,#f66,#f88,#f99,#f88,#faa,#fbf9fc,#88f,#22f,#00f,#00f,#00f,#00f,#00f,#00f,#22f,#55f,#88f,#bbf,#eef,#fdd,#f99,#f66)"></div><div style="height:4px;background:linear-gradient(90deg,#f88,#f55,#f22,#f00,#f00,#f00,#f00,#f22,#f55,#f88,#fbb,#fbf9fc,#ccf,#88f,#55f,#22f,#00f,#00f,#00f,#00f,#00f,#00f,#22f,#55f,#88f,#ccf,#fdf9f8,#fbb,#f66,#f22,#f00,#f00,#f00,#f00,#f00,#f00,#f00,#f22,#f66,#faa,#fee,#ccf,#88f,#55f,#22f,#00f,#00f,#00f,#00f,#00f,#22f,#44f,#88f,#bbf,#eef,#fdd,#faa,#f77,#f33,#f00,#f00,#f00,#f00,#f00,#f00,#f22,#f55,#f99,#fcc,#fbf9fc,#eef,#eef,#ddf,#88f,#22f,#00f,#00f,#00f,#00f,#00f,#22f,#55f,#77f,#aaf,#ddf,#fee,#fbb,#f77,#f44,#f22)"></div><div style="height:4px;background:linear-gradient(90deg,#f44,#f11,#f00,#f00,#f11,#f22,#f55,#f77,#faa,#fee,#ddf,#99f,#55f,#22f,#00f,#00f,#00f,#00f,#00f,#00f,#11f,#44f,#77f,#aaf,#ddf,#fee,#faa,#f55,#f11,#f00,#f00,#f00,#f00,#f00,#f00,#f00,#f22,#f77,#fbb,#eef,#aaf,#66f,#33f,#00f,#00f,#00f,#00f,#00f,#11f,#44f,#77f,#bbf,#eef,#fcc,#f99,#f66,#f33,#f00,#f00,#f00,#f00,#f00,#f00,#f00,#f33,#f77,#fcc,#eef,#aaf,#77f,#66f,#66f,#55f,#22f,#00f,#00f,#00f,#00f,#11f,#44f,#77f,#99f,#ccf,#eef,#fdd,#faa,#f66,#f33,#f11,#f00)"></div><div style="height:4px;background:linear-gradient(90deg,#f11,#f00,#f11,#f22,#f44,#f77,#faa,#fdd,#eef,#aaf,#77f,#33f,#00f,#00f,#00f,#00f,#00f,#00f,#11f,#33f,#66f,#88f,#bbf,#eef,#fdd,#f99,#f55,#f11,#f00,#f00,#f00,#f00,#f00,#f00,#f00,#f22,#f77,#fcc,#ddf,#99f,#44f,#11f,#00f,#00f,#00f,#00f,#00f,#33f,#66f,#aaf,#ddf,#fdd,#faa,#f66,#f33,#f00,#f00,#f00,#f00,#f00,#f00,#f00,#f00,#f33,#f88,#fdd,#aaf,#55f,#11f,#00f,#00f,#00f,#11f,#00f,#00f,#00f,#11f,#44f,#66f,#99f,#bbf,#ddf,#fee,#fcc,#f99,#f66,#f33,#f11,#f00,#f11)"></div><div style="height:4px;background:linear-gradient(90deg,#f11,#f22,#f44,#f77,#f99,#fcc,#fbf9fc,#ccf,#99f,#55f,#22f,#00f,#00f,#00f,#00f,#00f,#00f,#33f,#55f,#88f,#aaf,#ccf,#f7f7fe,#fdd,#faa,#f66,#f11,#f00,#f00,#f00,#f00,#f00,#f00,#f00,#f22,#f77,#fcc,#ddf,#88f,#44f,#00f,#00f,#00f,#00f,#00f,#22f,#55f,#88f,#ccf,#f7f7fe,#fcc,#f99,#f55,#f22,#f00,#f00,#f00,#f00,#f00,#f00,#f00,#f00,#f33,#f77,#fdd,#aaf,#22f,#00f,#00f,#00f,#00f,#00f,#00f,#11f,#22f,#44f,#66f,#88f,#aaf,#ccf,#eef,#fee,#fbb,#f88,#f55,#f33,#f11,#f11,#f33,#f55)"></div><div style="height:4px;background:linear-gradient(90deg,#f33,#f66,#f99,#fbb,#fee,#ddf,#aaf,#77f,#44f,#11f,#00f,#00f,#00f,#00f,#00f,#22f,#55f,#77f,#aaf,#bbf,#ddf,#fdf9f8,#fcc,#faa,#f66,#f22,#f00,#f00,#f00,#f00,#f00,#f00,#f00,#f33,#f77,#fbb,#eef,#99f,#44f,#11f,#00f,#00f,#00f,#11f,#44f,#77f,#99f,#ccf,#fdf9f8,#fcc,#f99,#f66,#f22,#f00,#f00,#f00,#f00,#f00,#f00,#f00,#f00,#f33,#f88,#fcc,#ccf,#44f,#00f,#00f,#00f,#00f,#00f,#00f,#11f,#44f,#66f,#88f,#aaf,#ccf,#ddf,#fdf9f8,#fdd,#faa,#f88,#f55,#f33,#f22,#f22,#f44,#f66,#f99)"></div><div style="height:4px;background:linear-gradient(90deg,#f77,#faa,#fdd,#eef,#ccf,#99f,#66f,#33f,#11f,#00f,#00f,#00f,#00f,#22f,#55f,#77f,#99f,#bbf,#ddf,#eef,#fee,#fcc,#faa,#f77,#f33,#f00,#f00,#f00,#f00,#f00,#f00,#f22,#f44,#f88,#fcc,#eef,#aaf,#66f,#33f,#11f,#00f,#11f,#33f,#55f,#88f,#bbf,#ddf,#fbf9fc,#fdd,#faa,#f77,#f44,#f00,#f00,#f00,#f00,#f00,#f00,#f00,#f22,#f55,#f99,#fdd,#ddf,#77f,#00f,#00f,#00f,#00f,#00f,#00f,#11f,#55f,#88f,#aaf,#bbf,#ddf,#eef,#fee,#fcc,#faa,#f77,#f55,#f33,#f22,#f33,#f55,#f88,#fbb,#fee)"></div><div style="height:4px;background:linear-gradient(90deg,#fbb,#fee,#ddf,#bbf,#88f,#55f,#33f,#11f,#11f,#11f,#11f,#33f,#55f,#77f,#99f,#bbf,#ccf,#eef,#f7f7fe,#fee,#fcc,#faa,#f77,#f44,#f22,#f11,#f00,#f11,#f22,#f33,#f55,#f77,#f99,#fdd,#eef,#aaf,#77f,#55f,#44f,#33f,#44f,#66f,#77f,#aaf,#ccf,#ddf,#f7f7fe,#fdd,#fbb,#f99,#f66,#f33,#f00,#f00,#f00,#f00,#f00,#f22,#f55,#f88,#fbb,#fdf9f8,#ccf,#88f,#44f,#00f,#00f,#00f,#00f,#00f,#11f,#66f,#99f,#bbf,#ddf,#eef,#fbf9fc,#fee,#fcc,#f99,#f77,#f55,#f33,#f33,#f44,#f66,#f99,#fcc,#fdf9f8,#ddf)"></div><div style="height:4px;background:linear-gradient(90deg,#fbf9fc,#ccf,#aaf,#77f,#55f,#44f,#33f,#22f,#33f,#44f,#55f,#77f,#99f,#aaf,#ccf,#ddf,#eef,#fdf9f8,#fdd,#fcc,#f99,#f77,#f55,#f33,#f33,#f33,#f44,#f55,#f77,#f88,#faa,#fcc,#fee,#ddf,#bbf,#99f,#77f,#66f,#66f,#77f,#88f,#aaf,#bbf,#ccf,#eef,#f7f7fe,#fee,#fcc,#faa,#f88,#f55,#f22,#f11,#f00,#f11,#f33,#f66,#f88,#fbb,#fee,#ddf,#aaf,#88f,#55f,#33f,#11f,#00f,#00f,#00f,#33f,#77f,#aaf,#ccf,#ddf,#eef,#fdf9f8,#fdd,#fbb,#f99,#f77,#f55,#f44,#f44,#f55,#f88,#faa,#fdd,#eef,#ccf,#99f)"></div><div style="height:4px;background:linear-gradient(90deg,#ccf,#aaf,#77f,#66f,#55f,#44f,#44f,#55f,#66f,#88f,#99f,#bbf,#ccf,#ddf,#eef,#eef,#fbf9fc,#fee,#fbb,#f99,#f77,#f55,#f44,#f44,#f55,#f66,#f88,#faa,#fbb,#fdd,#fee,#eef,#ccf,#bbf,#aaf,#99f,#99f,#99f,#aaf,#bbf,#ccf,#ddf,#ddf,#eef,#f7f7fe,#fdf9f8,#fdd,#fbb,#f88,#f66,#f44,#f33,#f33,#f44,#f66,#f99,#fbb,#fee,#eef,#bbf,#99f,#77f,#66f,#55f,#55f,#55f,#55f,#55f,#77f,#99f,#bbf,#ddf,#eef,#eef,#fdf9f8,#fdd,#fbb,#f99,#f77,#f55,#f55,#f55,#f66,#f99,#fbb,#fee,#eef,#bbf,#99f,#77f)"></div><div style="height:4px;background:linear-gradient(90deg,#aaf,#88f,#77f,#66f,#66f,#66f,#77f,#99f,#aaf,#bbf,#ccf,#ddf,#eef,#eef,#f7f7fe,#f7f7fe,#fdf9f8,#fdd,#faa,#f77,#f66,#f55,#f55,#f77,#f88,#faa,#fcc,#fee,#f7f7fe,#eef,#ccf,#bbf,#bbf,#bbf,#bbf,#bbf,#bbf,#ccf,#ddf,#ddf,#eef,#eef,#eef,#f7f7fe,#fbf9fc,#fee,#fcc,#f99,#f77,#f55,#f55,#f55,#f77,#f88,#faa,#fdd,#f7f7fe,#ccf,#aaf,#99f,#77f,#66f,#66f,#77f,#88f,#99f,#99f,#aaf,#bbf,#ddf,#ddf,#eef,#f7f7fe,#fbf9fc,#fee,#fcc,#f99,#f77,#f66,#f55,#f66,#f77,#f99,#fcc,#fee,#ddf,#bbf,#99f,#88f,#66f)"></div><div style="height:4px;background:linear-gradient(90deg,#99f,#88f,#77f,#88f,#88f,#99f,#aaf,#ccf,#ddf,#ddf,#eef,#eef,#f7f7fe,#f7f7fe,#f7f7fe,#fbf9fc,#fee,#fcc,#f99,#f66,#f66,#f77,#f88,#faa,#fbb,#fcc,#fee,#eef,#ccf,#bbf,#bbf,#bbf,#bbf,#ccf,#ccf,#ddf,#eef,#eef,#eef,#f7f7fe,#f7f7fe,#f7f7fe,#fbf9fc,#fbf9fc,#fdf9f8,#fee,#fcc,#f99,#f66,#f66,#f77,#f88,#faa,#fcc,#fdd,#fbf9fc,#ccf,#aaf,#99f,#88f,#88f,#88f,#99f,#aaf,#bbf,#ccf,#ddf,#ddf,#eef,#eef,#f7f7fe,#f7f7fe,#f7f7fe,#fdf9f8,#fee,#fcc,#f88,#f66,#f66,#f77,#f99,#faa,#fcc,#fee,#eef,#ccf,#aaf,#88f,#88f,#77f)"></div><div style="height:4px;background:linear-gradient(90deg,#99f,#99f,#99f,#aaf,#bbf,#ccf,#ddf,#ddf,#eef,#eef,#f7f7fe,#f7f7fe,#f7f7fe,#fbf9fc,#fbf9fc,#fbf9fc,#fee,#fdd,#faa,#f77,#f88,#f99,#fbb,#fcc,#fdd,#fee,#f7f7fe,#ddf,#bbf,#bbf,#bbf,#ccf,#ddf,#ddf,#eef,#eef,#f7f7fe,#fbf9fc,#fbf9fc,#fbf9fc,#fbf9fc,#fbf9fc,#fbf9fc,#fbf9fc,#fdf9f8,#fee,#fdd,#faa,#f77,#f88,#f99,#fbb,#fcc,#fee,#fdf9f8,#eef,#ccf,#aaf,#99f,#99f,#aaf,#aaf,#bbf,#ccf,#ddf,#eef,#eef,#eef,#f7f7fe,#f7f7fe,#f7f7fe,#fbf9fc,#fbf9fc,#fdf9f8,#fee,#fcc,#f99,#f77,#f88,#faa,#fbb,#fdd,#fee,#fdf9f8,#eef,#bbf,#99f,#99f,#99f,#aaf)"></div><div style="height:4px;background:linear-gradient(90deg,#bbf,#bbf,#ccf,#ccf,#ddf,#eef,#eef,#eef,#f7f7fe,#f7f7fe,#f7f7fe,#fbf9fc,#fbf9fc,#fbf9fc,#fbf9fc,#fbf9fc,#fdf9f8,#fdd,#fbb,#faa,#faa,#fcc,#fdd,#fee,#fee,#fdf9f8,#f7f7fe,#ddf,#ccf,#ccf,#ccf,#ddf,#eef,#eef,#fbf9fc,#fdf9f8,#fdf9f8,#fdf9f8,#fdf9f8,#fdf9f8,#fdf9f8,#fbf9fc,#fbf9fc,#fbf9fc,#fdf9f8,#fdf9f8,#fdd,#fbb,#faa,#faa,#fcc,#fdd,#fee,#fee,#fbf9fc,#eef,#ccf,#bbf,#bbf,#bbf,#ccf,#ddf,#ddf,#eef,#eef,#f7f7fe,#f7f7fe,#f7f7fe,#f7f7fe,#fbf9fc,#fbf9fc,#fbf9fc,#fbf9fc,#fdf9f8,#fee,#fdd,#fbb,#faa,#faa,#fcc,#fdd,#fee,#fdf9f8,#f7f7fe,#eef,#ccf,#bbf,#bbf,#bbf,#ccf)"></div></div></div><div class="hm" style="left:110.0px;top:1130.3px;width:473.4px;height:400.8px"><div style="position:absolute;left:-6.0px;top:-6.0px;width:485.4px;filter:blur(1.0px)"><div style="height:4px;background:linear-gradient(90deg,#fbf9fc,#fbf9fc,#fbf9fc,#fbf9fc,#fbf9fc,#f7f7fe,#f7f7fe,#f7f7fe,#f7f7fe,#f7f7fe,#eef,#eef,#eef,#eef,#f7f7fe,#fdf9f8,#fee,#fee,#fee,#fee,#fdd,#fdd,#fdd,#fdd,#fdd,#fdd,#fdd,#fdd,#fee,#fee,#fee,#fee,#fdf9f8,#fdf9f8,#fbf9fc,#f7f7fe,#f7f7fe,#f7f7fe,#eef,#eef,#eef,#eef,#eef,#fbf9fc,#fdf9f8,#fee,#fee,#fee,#fee,#fdd,#fdd,#fdd,#fdd,#fdd,#fdd,#fdd,#fdd,#fee,#fee,#fee,#fee,#fdf9f8,#fdf9f8,#fbf9fc,#f7f7fe,#f7f7fe,#f7f7fe,#eef,#eef,#eef,#eef,#eef,#fbf9fc,#fdf9f8,#fee,#fee,#fee,#fee,#fdd,#fdd,#fdd,#fdd,#fdd,#fdd,#fdd,#fdd,#fee,#fee,#fee,#fee)"></div><div style="height:4px;background:linear-gradient(90deg,#fbf9fc,#fbf9fc,#fbf9fc,#f7f7fe,#f7f7fe,#f7f7fe,#eef,#eef,#eef,#eef,#eef,#eef,#eef,#eef,#fbf9fc,#fee,#fee,#fee,#fdd,#fdd,#fdd,#fdd,#fdd,#fdd,#fdd,#fdd,#fdd,#fee,#fee,#fee,#fee,#fdf9f8,#fdf9f8,#f7f7fe,#f7f7fe,#f7f7fe,#eef,#eef,#eef,#eef,#eef,#eef,#f7f7fe,#fdf9f8,#fee,#fee,#fee,#fdd,#fdd,#fdd,#fdd,#fdd,#fdd,#fdd,#fdd,#fdd,#fee,#fee,#fee,#fee,#fdf9f8,#fdf9f8,#f7f7fe,#f7f7fe,#f7f7fe,#eef,#eef,#eef,#eef,#eef,#eef,#f7f7fe,#fdf9f8,#fee,#fee,#fee,#fdd,#fdd,#fdd,#fdd,#fdd,#fdd,#fdd,#fdd,#fdd,#fee,#fee,#fee,#fee,#fdf9f8)"></div><div style="height:4px;background:linear-gradient(90deg,#f7f7fe,#f7f7fe,#f7f7fe,#f7f7fe,#eef,#eef,#eef,#eef,#eef,#eef,#eef,#eef,#f7f7fe,#fbf9fc,#fee,#fee,#fdd,#fdd,#fdd,#fdd,#fdd,#fdd,#fdd,#fdd,#fdd,#fdd,#fee,#fee,#fee,#fee,#fdf9f8,#fbf9fc,#f7f7fe,#eef,#eef,#eef,#eef,#eef,#eef,#eef,#eef,#f7f7fe,#fbf9fc,#fee,#fee,#fdd,#fdd,#fdd,#fdd,#fdd,#fdd,#fdd,#fdd,#fdd,#fdd,#fee,#fee,#fee,#fee,#fdf9f8,#fbf9fc,#f7f7fe,#eef,#eef,#eef,#eef,#eef,#eef,#eef,#eef,#f7f7fe,#fbf9fc,#fee,#fee,#fdd,#fdd,#fdd,#fdd,#fdd,#fdd,#fdd,#fdd,#fdd,#fdd,#fee,#fee,#fee,#fee,#fdf9f8,#fbf9fc)"></div><div style="height:4px;background:linear-gradient(90deg,#f7f7fe,#eef,#eef,#eef,#eef,#ddf,#ddf,#eef,#eef,#eef,#eef,#f7f7fe,#fdf9f8,#fee,#fee,#fdd,#fdd,#fcc,#fcc,#fcc,#fcc,#fdd,#fdd,#fdd,#fdd,#fee,#fee,#fee,#fdf9f8,#fdf9f8,#f7f7fe,#eef,#eef,#eef,#ddf,#ddf,#eef,#eef,#eef,#eef,#f7f7fe,#fdf9f8,#fee,#fee,#fdd,#fdd,#fcc,#fcc,#fcc,#fcc,#fdd,#fdd,#fdd,#fdd,#fee,#fee,#fee,#fdf9f8,#fdf9f8,#f7f7fe,#eef,#eef,#eef,#ddf,#ddf,#eef,#eef,#eef,#eef,#f7f7fe,#fdf9f8,#fee,#fdd,#fdd,#fdd,#fcc,#fcc,#fcc,#fcc,#fdd,#fdd,#fdd,#fdd,#fee,#fee,#fee,#fdf9f8,#fbf9fc,#f7f7fe,#eef)"></div><div style="height:4px;background:linear-gradient(90deg,#eef,#eef,#ddf,#ddf,#ddf,#ddf,#ddf,#eef,#eef,#eef,#f7f7fe,#fee,#fee,#fdd,#fdd,#fcc,#fcc,#fcc,#fcc,#fcc,#fcc,#fdd,#fdd,#fdd,#fee,#fee,#fee,#fdf9f8,#f7f7fe,#eef,#eef,#ddf,#ddf,#ddf,#ddf,#ddf,#eef,#eef,#eef,#fbf9fc,#fee,#fee,#fdd,#fdd,#fcc,#fcc,#fcc,#fcc,#fcc,#fcc,#fdd,#fdd,#fdd,#fee,#fee,#fee,#fdf9f8,#f7f7fe,#eef,#eef,#ddf,#ddf,#ddf,#ddf,#ddf,#eef,#eef,#eef,#fbf9fc,#fee,#fee,#fdd,#fdd,#fcc,#fcc,#fcc,#fcc,#fcc,#fdd,#fdd,#fdd,#fdd,#fee,#fee,#fee,#fdf9f8,#f7f7fe,#eef,#eef,#ddf)"></div><div style="height:4px;background:linear-gradient(90deg,#ddf,#ccf,#ccf,#ccf,#ccf,#ddf,#ddf,#eef,#f7f7fe,#fdf9f8,#fee,#fdd,#fdd,#fcc,#fcc,#fcc,#fcc,#fcc,#fcc,#fcc,#fdd,#fdd,#fee,#fee,#fee,#fdf9f8,#f7f7fe,#eef,#ddf,#ddf,#ccf,#ccf,#ccf,#ccf,#ddf,#ddf,#eef,#f7f7fe,#fdf9f8,#fee,#fdd,#fdd,#fcc,#fcc,#fcc,#fcc,#fcc,#fcc,#fcc,#fdd,#fdd,#fee,#fee,#fee,#fdf9f8,#f7f7fe,#eef,#ddf,#ddf,#ccf,#ccf,#ccf,#ccf,#ddf,#ddf,#eef,#f7f7fe,#fdf9f8,#fee,#fdd,#fdd,#fcc,#fcc,#fcc,#fcc,#fcc,#fcc,#fcc,#fdd,#fdd,#fee,#fee,#fee,#fdf9f8,#f7f7fe,#eef,#ddf,#ddf,#ccf,#ccf)"></div><div style="height:4px;background:linear-gradient(90deg,#bbf,#bbf,#ccf,#ccf,#ddf,#ddf,#eef,#f7f7fe,#fee,#fee,#fdd,#fcc,#fcc,#fcc,#fbb,#fbb,#fcc,#fcc,#fcc,#fdd,#fdd,#fee,#fee,#fdf9f8,#f7f7fe,#eef,#ddf,#ccf,#ccf,#bbf,#bbf,#ccf,#ccf,#ddf,#ddf,#eef,#fbf9fc,#fee,#fee,#fdd,#fcc,#fcc,#fcc,#fbb,#fcc,#fcc,#fcc,#fcc,#fdd,#fdd,#fee,#fee,#fdf9f8,#f7f7fe,#eef,#ddf,#ccf,#ccf,#bbf,#bbf,#ccf,#ccf,#ddf,#ddf,#eef,#fbf9fc,#fee,#fee,#fdd,#fcc,#fcc,#fbb,#fbb,#fcc,#fcc,#fcc,#fcc,#fdd,#fdd,#fee,#fee,#fdf9f8,#f7f7fe,#eef,#ddf,#ccf,#ccf,#bbf,#bbf,#ccf)"></div><div style="height:4px;background:linear-gradient(90deg,#bbf,#bbf,#ccf,#ddf,#eef,#eef,#fdf9f8,#fee,#fdd,#fcc,#fcc,#fbb,#fbb,#fbb,#fbb,#fcc,#fcc,#fcc,#fdd,#fdd,#fee,#fee,#f7f7fe,#eef,#ddf,#ccf,#bbf,#bbf,#aaf,#bbf,#bbf,#ccf,#ddf,#eef,#eef,#fdf9f8,#fee,#fdd,#fcc,#fcc,#fbb,#fbb,#fbb,#fbb,#fcc,#fcc,#fcc,#fdd,#fdd,#fee,#fee,#f7f7fe,#eef,#ddf,#ccf,#bbf,#bbf,#aaf,#bbf,#bbf,#ccf,#ddf,#eef,#f7f7fe,#fdf9f8,#fee,#fdd,#fcc,#fcc,#fbb,#fbb,#fbb,#fbb,#fcc,#fcc,#fcc,#fdd,#fdd,#fee,#fdf9f8,#f7f7fe,#eef,#ddf,#ccf,#bbf,#aaf,#aaf,#bbf,#ccf,#ccf)"></div><div style="height:4px;background:linear-gradient(90deg,#bbf,#ccf,#ddf,#eef,#fbf9fc,#fee,#fdd,#fdd,#fcc,#fbb,#fbb,#fbb,#fbb,#fbb,#fcc,#fcc,#fcc,#fdd,#fdd,#fee,#fdf9f8,#eef,#ddf,#bbf,#aaf,#aaf,#99f,#aaf,#aaf,#bbf,#ccf,#ddf,#eef,#fbf9fc,#fee,#fdd,#fdd,#fcc,#fbb,#fbb,#fbb,#fbb,#fbb,#fcc,#fcc,#fdd,#fdd,#fee,#fee,#fbf9fc,#eef,#ccf,#bbf,#aaf,#aaf,#99f,#aaf,#bbf,#ccf,#ddf,#ddf,#eef,#fbf9fc,#fee,#fdd,#fdd,#fcc,#fbb,#fbb,#fbb,#fbb,#fbb,#fcc,#fcc,#fdd,#fdd,#fee,#fee,#fbf9fc,#eef,#ccf,#bbf,#aaf,#99f,#99f,#aaf,#bbf,#ccf,#ddf,#eef)"></div><div style="height:4px;background:linear-gradient(90deg,#ddf,#eef,#f7f7fe,#fee,#fee,#fdd,#fcc,#fcc,#fbb,#fbb,#fbb,#fbb,#fbb,#fbb,#fcc,#fdd,#fdd,#fee,#fee,#eef,#ddf,#bbf,#99f,#99f,#88f,#99f,#aaf,#bbf,#ccf,#ddf,#eef,#f7f7fe,#fee,#fee,#fdd,#fcc,#fcc,#fbb,#fbb,#fbb,#fbb,#fbb,#fbb,#fcc,#fdd,#fdd,#fee,#fdf9f8,#eef,#ddf,#bbf,#99f,#99f,#88f,#99f,#aaf,#bbf,#ccf,#ddf,#eef,#fbf9fc,#fee,#fee,#fdd,#fcc,#fcc,#fbb,#fbb,#fbb,#fbb,#fbb,#fcc,#fcc,#fdd,#fdd,#fee,#fdf9f8,#eef,#ddf,#bbf,#99f,#88f,#88f,#99f,#aaf,#bbf,#ccf,#ddf,#eef,#fbf9fc)"></div><div style="height:4px;background:linear-gradient(90deg,#f7f7fe,#fdf9f8,#fee,#fdd,#fdd,#fcc,#fbb,#fbb,#faa,#faa,#faa,#fbb,#fbb,#fcc,#fdd,#fdd,#fee,#fdf9f8,#eef,#ccf,#99f,#77f,#77f,#88f,#99f,#aaf,#ccf,#ddf,#eef,#f7f7fe,#fdf9f8,#fee,#fdd,#fdd,#fcc,#fbb,#fbb,#faa,#faa,#faa,#fbb,#fbb,#fcc,#fdd,#fdd,#fee,#fbf9fc,#eef,#bbf,#99f,#77f,#77f,#88f,#99f,#aaf,#ccf,#ddf,#eef,#f7f7fe,#fee,#fee,#fdd,#fcc,#fcc,#fbb,#fbb,#faa,#faa,#faa,#fbb,#fbb,#fcc,#fdd,#fdd,#fee,#fbf9fc,#ddf,#bbf,#99f,#77f,#77f,#88f,#99f,#aaf,#ccf,#ddf,#eef,#f7f7fe,#fee,#fee)"></div><div style="height:4px;background:linear-gradient(90deg,#fee,#fdd,#fdd,#fcc,#fbb,#fbb,#faa,#faa,#faa,#faa,#fbb,#fbb,#fcc,#fdd,#fdd,#fee,#f7f7fe,#ddf,#aaf,#77f,#55f,#55f,#77f,#aaf,#bbf,#ddf,#eef,#f7f7fe,#fdf9f8,#fee,#fdd,#fdd,#fcc,#fbb,#fbb,#faa,#faa,#faa,#faa,#fbb,#fbb,#fcc,#fdd,#fdd,#fee,#eef,#ddf,#aaf,#77f,#55f,#55f,#77f,#aaf,#bbf,#ddf,#eef,#f7f7fe,#fdf9f8,#fee,#fdd,#fdd,#fcc,#fbb,#fbb,#faa,#faa,#faa,#faa,#fbb,#fbb,#fcc,#fdd,#fee,#fee,#eef,#ccf,#aaf,#77f,#55f,#55f,#77f,#aaf,#ccf,#ddf,#eef,#f7f7fe,#fee,#fee,#fdd,#fdd)"></div><div style="height:4px;background:linear-gradient(90deg,#fdd,#fcc,#fcc,#fbb,#faa,#faa,#faa,#faa,#faa,#fbb,#fbb,#fcc,#fdd,#fee,#fdf9f8,#eef,#ccf,#99f,#55f,#33f,#44f,#66f,#99f,#ccf,#eef,#f7f7fe,#fdf9f8,#fee,#fdd,#fdd,#fcc,#fcc,#fbb,#faa,#faa,#faa,#faa,#faa,#fbb,#fbb,#fcc,#fdd,#fee,#fdf9f8,#eef,#bbf,#88f,#55f,#33f,#44f,#77f,#aaf,#ccf,#eef,#f7f7fe,#fdf9f8,#fee,#fdd,#fdd,#fcc,#fcc,#fbb,#faa,#faa,#faa,#faa,#faa,#fbb,#fbb,#fcc,#fdd,#fee,#fdf9f8,#eef,#bbf,#88f,#55f,#33f,#44f,#77f,#aaf,#ddf,#eef,#f7f7fe,#fee,#fee,#fdd,#fdd,#fcc,#fcc)"></div><div style="height:4px;background:linear-gradient(90deg,#fcc,#fbb,#fbb,#faa,#faa,#f99,#f99,#faa,#faa,#fbb,#fcc,#fdd,#fee,#fbf9fc,#ddf,#aaf,#77f,#33f,#22f,#33f,#66f,#aaf,#ddf,#eef,#fdf9f8,#fee,#fee,#fdd,#fcc,#fcc,#fbb,#fbb,#faa,#faa,#f99,#f99,#faa,#faa,#fbb,#fcc,#fdd,#fee,#f7f7fe,#ddf,#aaf,#66f,#33f,#22f,#33f,#66f,#aaf,#ddf,#f7f7fe,#fdf9f8,#fee,#fee,#fdd,#fcc,#fcc,#fbb,#fbb,#faa,#faa,#f99,#f99,#faa,#fbb,#fbb,#fcc,#fdd,#fee,#f7f7fe,#ddf,#aaf,#66f,#33f,#22f,#33f,#77f,#aaf,#ddf,#f7f7fe,#fee,#fee,#fdd,#fdd,#fcc,#fcc,#fbb,#fbb)"></div><div style="height:4px;background:linear-gradient(90deg,#fbb,#faa,#faa,#faa,#f99,#f99,#faa,#faa,#fbb,#fcc,#fdd,#fee,#eef,#ccf,#99f,#66f,#22f,#11f,#33f,#66f,#aaf,#ddf,#f7f7fe,#fee,#fee,#fdd,#fdd,#fcc,#fcc,#fbb,#faa,#faa,#faa,#f99,#f99,#faa,#faa,#fbb,#fcc,#fdd,#fee,#eef,#ccf,#99f,#55f,#22f,#11f,#33f,#77f,#bbf,#ddf,#f7f7fe,#fee,#fee,#fdd,#fdd,#fcc,#fcc,#fbb,#faa,#faa,#faa,#f99,#f99,#faa,#faa,#fbb,#fcc,#fdd,#fee,#eef,#ccf,#99f,#55f,#11f,#11f,#33f,#77f,#bbf,#ddf,#fbf9fc,#fee,#fee,#fdd,#fdd,#fcc,#fbb,#fbb,#faa,#faa)"></div><div style="height:4px;background:linear-gradient(90deg,#faa,#faa,#faa,#faa,#faa,#faa,#faa,#fbb,#fcc,#fdd,#fee,#eef,#bbf,#88f,#55f,#22f,#11f,#33f,#77f,#bbf,#eef,#fdf9f8,#fee,#fdd,#fdd,#fcc,#fcc,#fbb,#fbb,#faa,#faa,#faa,#faa,#faa,#faa,#faa,#fbb,#fcc,#fdd,#fdf9f8,#eef,#bbf,#88f,#55f,#22f,#11f,#33f,#77f,#bbf,#eef,#fdf9f8,#fee,#fdd,#fdd,#fcc,#fcc,#fbb,#fbb,#faa,#faa,#faa,#faa,#faa,#faa,#faa,#fbb,#fcc,#fdd,#fdf9f8,#ddf,#bbf,#88f,#44f,#22f,#11f,#33f,#88f,#bbf,#eef,#fdf9f8,#fee,#fdd,#fdd,#fcc,#fcc,#fbb,#fbb,#faa,#faa,#faa)"></div><div style="height:4px;background:linear-gradient(90deg,#faa,#faa,#faa,#faa,#faa,#fbb,#fbb,#fcc,#fdd,#fdf9f8,#ddf,#bbf,#88f,#55f,#22f,#22f,#44f,#77f,#bbf,#eef,#fdf9f8,#fee,#fdd,#fdd,#fcc,#fcc,#fbb,#fbb,#faa,#faa,#faa,#faa,#faa,#faa,#fbb,#fbb,#fcc,#fee,#fbf9fc,#ddf,#aaf,#77f,#44f,#22f,#22f,#44f,#88f,#ccf,#eef,#fee,#fee,#fdd,#fdd,#fcc,#fcc,#fbb,#fbb,#faa,#faa,#faa,#faa,#faa,#faa,#fbb,#fbb,#fcc,#fee,#f7f7fe,#ddf,#aaf,#77f,#44f,#22f,#22f,#55f,#88f,#ccf,#eef,#fee,#fee,#fdd,#fdd,#fcc,#fcc,#fbb,#fbb,#faa,#faa,#faa,#faa)"></div><div style="height:4px;background:linear-gradient(90deg,#faa,#faa,#faa,#fbb,#fbb,#fcc,#fdd,#fee,#f7f7fe,#ddf,#aaf,#77f,#55f,#33f,#44f,#66f,#99f,#ccf,#eef,#fee,#fee,#fdd,#fcc,#fcc,#fbb,#fbb,#fbb,#faa,#faa,#faa,#faa,#faa,#fbb,#fbb,#fcc,#fdd,#fee,#f7f7fe,#ccf,#aaf,#77f,#44f,#33f,#44f,#66f,#99f,#ccf,#f7f7fe,#fee,#fee,#fdd,#fcc,#fcc,#fbb,#fbb,#faa,#faa,#faa,#faa,#faa,#faa,#fbb,#fbb,#fcc,#fdd,#fee,#eef,#ccf,#99f,#77f,#44f,#33f,#44f,#66f,#aaf,#ddf,#f7f7fe,#fee,#fdd,#fdd,#fcc,#fcc,#fbb,#fbb,#faa,#faa,#faa,#faa,#faa,#faa)"></div><div style="height:4px;background:linear-gradient(90deg,#faa,#fbb,#fbb,#fcc,#fcc,#fdd,#fee,#eef,#ccf,#aaf,#77f,#55f,#44f,#55f,#88f,#bbf,#ddf,#f7f7fe,#fee,#fdd,#fdd,#fcc,#fcc,#fbb,#fbb,#fbb,#faa,#faa,#faa,#faa,#fbb,#fbb,#fcc,#fcc,#fdd,#fee,#eef,#ccf,#99f,#77f,#55f,#44f,#55f,#88f,#bbf,#ddf,#fbf9fc,#fee,#fdd,#fdd,#fcc,#fcc,#fbb,#fbb,#fbb,#faa,#faa,#faa,#faa,#fbb,#fbb,#fcc,#fcc,#fdd,#fee,#eef,#ccf,#99f,#77f,#55f,#44f,#66f,#88f,#bbf,#ddf,#fbf9fc,#fee,#fdd,#fdd,#fcc,#fcc,#fbb,#fbb,#fbb,#faa,#faa,#faa,#fbb,#fbb,#fbb)"></div><div style="height:4px;background:linear-gradient(90deg,#fbb,#fcc,#fcc,#fdd,#fdd,#fdf9f8,#eef,#ccf,#99f,#77f,#66f,#66f,#77f,#99f,#ccf,#eef,#fdf9f8,#fee,#fdd,#fdd,#fcc,#fcc,#fbb,#fbb,#fbb,#fbb,#fbb,#fbb,#fbb,#fbb,#fcc,#fcc,#fdd,#fee,#fdf9f8,#eef,#bbf,#99f,#77f,#66f,#66f,#77f,#99f,#ccf,#eef,#fdf9f8,#fee,#fdd,#fdd,#fcc,#fcc,#fbb,#fbb,#fbb,#fbb,#fbb,#fbb,#fbb,#fbb,#fcc,#fcc,#fdd,#fee,#fdf9f8,#eef,#bbf,#99f,#77f,#66f,#66f,#77f,#aaf,#ccf,#eef,#fdf9f8,#fee,#fdd,#fdd,#fcc,#fcc,#fbb,#fbb,#fbb,#fbb,#fbb,#fbb,#fbb,#fbb,#fcc,#fcc)"></div><div style="height:4px;background:linear-gradient(90deg,#fcc,#fdd,#fdd,#fee,#fbf9fc,#eef,#ccf,#99f,#88f,#77f,#77f,#99f,#bbf,#ddf,#eef,#fee,#fee,#fdd,#fdd,#fcc,#fcc,#fbb,#fbb,#fbb,#fbb,#fbb,#fbb,#fbb,#fcc,#fcc,#fdd,#fdd,#fee,#fbf9fc,#ddf,#bbf,#99f,#77f,#77f,#77f,#99f,#bbf,#ddf,#f7f7fe,#fee,#fee,#fdd,#fdd,#fcc,#fcc,#fbb,#fbb,#fbb,#fbb,#fbb,#fbb,#fbb,#fcc,#fcc,#fdd,#fdd,#fee,#f7f7fe,#ddf,#bbf,#99f,#77f,#77f,#77f,#99f,#bbf,#ddf,#f7f7fe,#fee,#fee,#fdd,#fcc,#fcc,#fcc,#fbb,#fbb,#fbb,#fbb,#fbb,#fbb,#fbb,#fcc,#fcc,#fdd,#fdd)"></div><div style="height:4px;background:linear-gradient(90deg,#fdd,#fee,#fee,#f7f7fe,#ddf,#bbf,#99f,#88f,#88f,#99f,#aaf,#ccf,#eef,#fbf9fc,#fee,#fdd,#fdd,#fcc,#fcc,#fcc,#fbb,#fbb,#fbb,#fbb,#fbb,#fcc,#fcc,#fcc,#fdd,#fdd,#fee,#fee,#f7f7fe,#ddf,#bbf,#99f,#88f,#88f,#99f,#aaf,#ccf,#eef,#fbf9fc,#fee,#fdd,#fdd,#fcc,#fcc,#fcc,#fbb,#fbb,#fbb,#fbb,#fbb,#fcc,#fcc,#fcc,#fdd,#fdd,#fee,#fee,#f7f7fe,#ddf,#bbf,#99f,#88f,#88f,#99f,#aaf,#ccf,#eef,#fdf9f8,#fee,#fdd,#fdd,#fcc,#fcc,#fcc,#fbb,#fbb,#fbb,#fbb,#fbb,#fcc,#fcc,#fcc,#fdd,#fdd,#fee,#fee)"></div><div style="height:4px;background:linear-gradient(90deg,#fee,#fdf9f8,#f7f7fe,#ddf,#bbf,#aaf,#88f,#99f,#aaf,#bbf,#ddf,#eef,#fee,#fee,#fdd,#fdd,#fcc,#fcc,#fcc,#fbb,#fbb,#fbb,#fbb,#fcc,#fcc,#fcc,#fdd,#fdd,#fee,#fee,#fdf9f8,#eef,#ddf,#bbf,#99f,#88f,#99f,#aaf,#ccf,#ddf,#f7f7fe,#fee,#fee,#fdd,#fdd,#fcc,#fcc,#fcc,#fbb,#fbb,#fbb,#fbb,#fcc,#fcc,#fcc,#fdd,#fdd,#fee,#fee,#fdf9f8,#eef,#ddf,#bbf,#99f,#88f,#99f,#aaf,#ccf,#ddf,#f7f7fe,#fee,#fee,#fdd,#fdd,#fcc,#fcc,#fbb,#fbb,#fbb,#fbb,#fbb,#fcc,#fcc,#fcc,#fdd,#fdd,#fee,#fee,#fdf9f8,#eef)"></div><div style="height:4px;background:linear-gradient(90deg,#fdf9f8,#eef,#ddf,#bbf,#aaf,#99f,#99f,#bbf,#ccf,#eef,#fdf9f8,#fee,#fdd,#fdd,#fdd,#fcc,#fcc,#fcc,#fbb,#fbb,#fbb,#fcc,#fcc,#fdd,#fdd,#fdd,#fee,#fee,#fee,#fdf9f8,#eef,#ddf,#bbf,#aaf,#99f,#99f,#bbf,#ccf,#eef,#fdf9f8,#fee,#fdd,#fdd,#fdd,#fcc,#fcc,#fbb,#fbb,#fbb,#fbb,#fcc,#fcc,#fdd,#fdd,#fdd,#fee,#fee,#fee,#fbf9fc,#eef,#ddf,#bbf,#aaf,#99f,#99f,#bbf,#ddf,#eef,#fdf9f8,#fee,#fdd,#fdd,#fdd,#fcc,#fcc,#fbb,#fbb,#fbb,#fbb,#fcc,#fcc,#fdd,#fdd,#fdd,#fee,#fee,#fee,#fbf9fc,#eef,#ddf)"></div><div style="height:4px;background:linear-gradient(90deg,#eef,#ddf,#ccf,#aaf,#aaf,#aaf,#bbf,#ddf,#f7f7fe,#fee,#fdd,#fdd,#fdd,#fcc,#fcc,#fcc,#fcc,#fbb,#fbb,#fcc,#fcc,#fcc,#fdd,#fdd,#fee,#fee,#fee,#fdf9f8,#f7f7fe,#eef,#ddf,#bbf,#aaf,#aaf,#aaf,#bbf,#ddf,#f7f7fe,#fee,#fdd,#fdd,#fdd,#fcc,#fcc,#fcc,#fcc,#fbb,#fbb,#fcc,#fcc,#fcc,#fdd,#fdd,#fee,#fee,#fdf9f8,#fdf9f8,#f7f7fe,#eef,#ddf,#bbf,#aaf,#aaf,#aaf,#bbf,#ddf,#f7f7fe,#fee,#fdd,#fdd,#fdd,#fcc,#fcc,#fcc,#fbb,#fbb,#fbb,#fcc,#fcc,#fcc,#fdd,#fdd,#fee,#fee,#fdf9f8,#fdf9f8,#f7f7fe,#eef,#ddf,#bbf)"></div><div style="height:4px;background:linear-gradient(90deg,#ddf,#ccf,#bbf,#aaf,#bbf,#ccf,#ddf,#f7f7fe,#fee,#fdd,#fdd,#fcc,#fcc,#fcc,#fcc,#fcc,#fbb,#fcc,#fcc,#fcc,#fdd,#fdd,#fee,#fee,#fdf9f8,#fbf9fc,#f7f7fe,#eef,#eef,#ddf,#ccf,#bbf,#aaf,#bbf,#ccf,#eef,#fbf9fc,#fee,#fdd,#fdd,#fcc,#fcc,#fcc,#fcc,#fcc,#fbb,#fcc,#fcc,#fcc,#fdd,#fdd,#fee,#fee,#fdf9f8,#fbf9fc,#f7f7fe,#eef,#eef,#ddf,#bbf,#aaf,#aaf,#bbf,#ccf,#eef,#fdf9f8,#fee,#fdd,#fdd,#fcc,#fcc,#fcc,#fcc,#fcc,#fbb,#fcc,#fcc,#fcc,#fdd,#fdd,#fee,#fee,#fdf9f8,#fbf9fc,#f7f7fe,#eef,#eef,#ddf,#bbf,#aaf)"></div><div style="height:4px;background:linear-gradient(90deg,#ccf,#bbf,#bbf,#bbf,#ccf,#eef,#fbf9fc,#fee,#fdd,#fcc,#fcc,#fcc,#fbb,#fbb,#fbb,#fcc,#fcc,#fcc,#fcc,#fdd,#fdd,#fee,#fee,#fdf9f8,#f7f7fe,#eef,#eef,#ddf,#ddf,#ccf,#bbf,#bbf,#bbf,#ccf,#eef,#fdf9f8,#fee,#fdd,#fcc,#fcc,#fcc,#fbb,#fbb,#fbb,#fcc,#fcc,#fcc,#fcc,#fdd,#fdd,#fee,#fee,#fbf9fc,#f7f7fe,#eef,#eef,#ddf,#ddf,#ccf,#bbf,#bbf,#bbf,#ddf,#eef,#fdf9f8,#fee,#fdd,#fcc,#fcc,#fcc,#fbb,#fbb,#fbb,#fcc,#fcc,#fcc,#fcc,#fdd,#fdd,#fee,#fee,#fbf9fc,#f7f7fe,#eef,#eef,#ddf,#ddf,#ccf,#bbf,#bbf)"></div><div style="height:4px;background:linear-gradient(90deg,#bbf,#bbf,#ccf,#ddf,#eef,#fdf9f8,#fee,#fdd,#fcc,#fcc,#fbb,#fbb,#fbb,#fbb,#fcc,#fcc,#fcc,#fcc,#fdd,#fdd,#fee,#fee,#fbf9fc,#f7f7fe,#eef,#eef,#ddf,#ddf,#ccf,#bbf,#bbf,#ccf,#ddf,#eef,#fdf9f8,#fee,#fdd,#fcc,#fcc,#fbb,#fbb,#fbb,#fbb,#fcc,#fcc,#fcc,#fcc,#fdd,#fdd,#fee,#fee,#fbf9fc,#f7f7fe,#eef,#eef,#ddf,#ccf,#ccf,#bbf,#bbf,#ccf,#ddf,#eef,#fdf9f8,#fee,#fdd,#fcc,#fcc,#fbb,#fbb,#fbb,#fbb,#fcc,#fcc,#fcc,#fdd,#fdd,#fdd,#fee,#fdf9f8,#fbf9fc,#f7f7fe,#eef,#eef,#ddf,#ccf,#ccf,#bbf,#bbf,#ccf)"></div><div style="height:4px;background:linear-gradient(90deg,#ccf,#ccf,#ddf,#eef,#fdf9f8,#fee,#fdd,#fdd,#fcc,#fbb,#fbb,#fbb,#fbb,#fbb,#fcc,#fcc,#fdd,#fdd,#fdd,#fee,#fee,#fbf9fc,#f7f7fe,#eef,#eef,#eef,#ddf,#ccf,#bbf,#ccf,#ccf,#ddf,#eef,#fdf9f8,#fee,#fdd,#fcc,#fcc,#fbb,#fbb,#fbb,#fbb,#fbb,#fcc,#fcc,#fdd,#fdd,#fee,#fee,#fee,#fbf9fc,#f7f7fe,#eef,#eef,#eef,#ddf,#ccf,#bbf,#ccf,#ccf,#ddf,#eef,#fdf9f8,#fee,#fdd,#fcc,#fcc,#fbb,#fbb,#fbb,#fbb,#fbb,#fcc,#fcc,#fdd,#fdd,#fee,#fee,#fdf9f8,#fbf9fc,#f7f7fe,#eef,#eef,#eef,#ddf,#ccf,#bbf,#ccf,#ccf,#ddf)"></div><div style="height:4px;background:linear-gradient(90deg,#ccf,#ddf,#eef,#fdf9f8,#fee,#fdd,#fdd,#fcc,#fcc,#fbb,#fbb,#fbb,#fbb,#fcc,#fcc,#fdd,#fdd,#fee,#fee,#fee,#fdf9f8,#f7f7fe,#eef,#eef,#eef,#ddf,#ddf,#ccf,#ccf,#ccf,#ddf,#eef,#fdf9f8,#fee,#fdd,#fdd,#fcc,#fcc,#fbb,#fbb,#fbb,#fbb,#fcc,#fcc,#fdd,#fdd,#fee,#fee,#fee,#fdf9f8,#f7f7fe,#eef,#eef,#eef,#ddf,#ddf,#ccf,#ccf,#ddf,#eef,#f7f7fe,#fdf9f8,#fee,#fdd,#fdd,#fcc,#fbb,#fbb,#fbb,#fbb,#fbb,#fcc,#fcc,#fdd,#fdd,#fee,#fee,#fee,#fdf9f8,#f7f7fe,#eef,#eef,#eef,#ddf,#ddf,#ccf,#ccf,#ddf,#eef,#f7f7fe)"></div><div style="height:4px;background:linear-gradient(90deg,#ddf,#eef,#fdf9f8,#fee,#fee,#fdd,#fdd,#fcc,#fbb,#fbb,#fbb,#fbb,#fbb,#fcc,#fdd,#fdd,#fee,#fee,#fee,#fdf9f8,#fbf9fc,#f7f7fe,#eef,#eef,#eef,#ddf,#ddf,#ddf,#ddf,#ddf,#eef,#fdf9f8,#fee,#fee,#fdd,#fdd,#fcc,#fbb,#fbb,#fbb,#fbb,#fbb,#fcc,#fdd,#fdd,#fee,#fee,#fee,#fdf9f8,#f7f7fe,#f7f7fe,#eef,#eef,#ddf,#ddf,#ddf,#ddf,#ddf,#eef,#f7f7fe,#fdf9f8,#fee,#fee,#fdd,#fcc,#fcc,#fbb,#fbb,#fbb,#fbb,#fbb,#fcc,#fdd,#fdd,#fee,#fee,#fee,#fdf9f8,#f7f7fe,#eef,#eef,#eef,#ddf,#ddf,#ddf,#ddf,#ddf,#eef,#f7f7fe,#fdf9f8)"></div><div style="height:4px;background:linear-gradient(90deg,#eef,#fbf9fc,#fee,#fee,#fdd,#fdd,#fcc,#fcc,#fcc,#fbb,#fbb,#fbb,#fcc,#fcc,#fdd,#fee,#fee,#fee,#fdf9f8,#fbf9fc,#f7f7fe,#eef,#eef,#eef,#ddf,#ddf,#ddf,#ddf,#eef,#eef,#fbf9fc,#fee,#fee,#fdd,#fdd,#fcc,#fcc,#fcc,#fbb,#fbb,#fbb,#fcc,#fcc,#fdd,#fee,#fee,#fee,#fdf9f8,#fbf9fc,#f7f7fe,#eef,#eef,#eef,#ddf,#ddf,#ddf,#ddf,#eef,#eef,#fdf9f8,#fee,#fee,#fdd,#fdd,#fcc,#fcc,#fbb,#fbb,#fbb,#fbb,#fcc,#fcc,#fdd,#fee,#fee,#fee,#fdf9f8,#fbf9fc,#f7f7fe,#eef,#eef,#eef,#ddf,#ddf,#ddf,#ddf,#eef,#eef,#fdf9f8,#fee)"></div><div style="height:4px;background:linear-gradient(90deg,#f7f7fe,#fdf9f8,#fee,#fee,#fdd,#fdd,#fdd,#fcc,#fcc,#fcc,#fbb,#fcc,#fcc,#fdd,#fdd,#fee,#fee,#fdf9f8,#fdf9f8,#fbf9fc,#f7f7fe,#eef,#eef,#eef,#ddf,#ddf,#ddf,#eef,#eef,#f7f7fe,#fdf9f8,#fee,#fee,#fdd,#fdd,#fdd,#fcc,#fcc,#fcc,#fbb,#fcc,#fcc,#fdd,#fdd,#fee,#fee,#fdf9f8,#fdf9f8,#fbf9fc,#f7f7fe,#eef,#eef,#eef,#ddf,#ddf,#ddf,#eef,#eef,#f7f7fe,#fdf9f8,#fee,#fdd,#fdd,#fdd,#fcc,#fcc,#fcc,#fcc,#fbb,#fcc,#fcc,#fdd,#fdd,#fee,#fee,#fdf9f8,#fdf9f8,#fbf9fc,#f7f7fe,#eef,#eef,#eef,#ddf,#ddf,#ddf,#eef,#eef,#f7f7fe,#fee,#fee)"></div><div style="height:4px;background:linear-gradient(90deg,#fbf9fc,#fee,#fee,#fdd,#fdd,#fdd,#fdd,#fdd,#fcc,#fcc,#fcc,#fcc,#fcc,#fdd,#fdd,#fee,#fee,#fdf9f8,#fbf9fc,#f7f7fe,#f7f7fe,#eef,#eef,#eef,#ddf,#ddf,#eef,#eef,#eef,#fbf9fc,#fee,#fee,#fdd,#fdd,#fdd,#fdd,#fdd,#fcc,#fcc,#fcc,#fcc,#fcc,#fdd,#fee,#fee,#fee,#fdf9f8,#fbf9fc,#f7f7fe,#f7f7fe,#eef,#eef,#eef,#ddf,#ddf,#eef,#eef,#eef,#fbf9fc,#fee,#fee,#fdd,#fdd,#fdd,#fdd,#fdd,#fcc,#fcc,#fcc,#fcc,#fcc,#fdd,#fee,#fee,#fee,#fdf9f8,#fbf9fc,#f7f7fe,#f7f7fe,#eef,#eef,#eef,#ddf,#ddf,#eef,#eef,#eef,#fdf9f8,#fee,#fee)"></div><div style="height:4px;background:linear-gradient(90deg,#fbf9fc,#fee,#fee,#fee,#fdd,#fdd,#fdd,#fdd,#fdd,#fdd,#fcc,#fcc,#fdd,#fdd,#fee,#fee,#fee,#fdf9f8,#fbf9fc,#f7f7fe,#f7f7fe,#eef,#eef,#eef,#eef,#ddf,#eef,#eef,#f7f7fe,#fdf9f8,#fee,#fee,#fee,#fdd,#fdd,#fdd,#fdd,#fdd,#fdd,#fcc,#fcc,#fdd,#fdd,#fee,#fee,#fdf9f8,#fdf9f8,#fbf9fc,#f7f7fe,#f7f7fe,#eef,#eef,#eef,#eef,#ddf,#eef,#eef,#f7f7fe,#fdf9f8,#fee,#fee,#fee,#fdd,#fdd,#fdd,#fdd,#fdd,#fdd,#fcc,#fcc,#fdd,#fdd,#fee,#fee,#fdf9f8,#fdf9f8,#fbf9fc,#f7f7fe,#f7f7fe,#eef,#eef,#eef,#eef,#ddf,#eef,#eef,#f7f7fe,#fdf9f8,#fee,#fee)"></div><div style="height:4px;background:linear-gradient(90deg,#fbf9fc,#fee,#fee,#fee,#fee,#fee,#fee,#fdd,#fdd,#fdd,#fdd,#fdd,#fdd,#fdd,#fee,#fee,#fdf9f8,#fdf9f8,#fbf9fc,#fbf9fc,#f7f7fe,#f7f7fe,#eef,#eef,#eef,#eef,#eef,#eef,#f7f7fe,#fdf9f8,#fee,#fee,#fee,#fee,#fee,#fee,#fdd,#fdd,#fdd,#fdd,#fdd,#fdd,#fdd,#fee,#fee,#fdf9f8,#fdf9f8,#fbf9fc,#f7f7fe,#f7f7fe,#eef,#eef,#eef,#eef,#eef,#eef,#eef,#f7f7fe,#fdf9f8,#fee,#fee,#fee,#fee,#fee,#fee,#fdd,#fdd,#fdd,#fdd,#fdd,#fdd,#fdd,#fee,#fee,#fdf9f8,#fdf9f8,#fbf9fc,#f7f7fe,#f7f7fe,#eef,#eef,#eef,#eef,#eef,#eef,#eef,#f7f7fe,#fdf9f8,#fee,#fee)"></div><div style="height:4px;background:linear-gradient(90deg,#fbf9fc,#fdf9f8,#fee,#fee,#fee,#fee,#fee,#fee,#fee,#fdd,#fdd,#fdd,#fdd,#fdd,#fee,#fee,#fee,#fdf9f8,#fbf9fc,#fbf9fc,#f7f7fe,#f7f7fe,#eef,#eef,#eef,#eef,#eef,#eef,#f7f7fe,#fbf9fc,#fdf9f8,#fee,#fee,#fee,#fee,#fee,#fee,#fee,#fdd,#fdd,#fdd,#fdd,#fdd,#fee,#fee,#fdf9f8,#fdf9f8,#fbf9fc,#fbf9fc,#f7f7fe,#f7f7fe,#eef,#eef,#eef,#eef,#eef,#eef,#f7f7fe,#fbf9fc,#fdf9f8,#fee,#fee,#fee,#fee,#fee,#fee,#fee,#fdd,#fdd,#fdd,#fdd,#fdd,#fee,#fee,#fdf9f8,#fdf9f8,#fbf9fc,#f7f7fe,#f7f7fe,#f7f7fe,#eef,#eef,#eef,#eef,#eef,#eef,#f7f7fe,#fdf9f8,#fdf9f8,#fee)"></div><div style="height:4px;background:linear-gradient(90deg,#f7f7fe,#fdf9f8,#fdf9f8,#fee,#fee,#fee,#fee,#fee,#fee,#fee,#fdd,#fdd,#fdd,#fdd,#fee,#fee,#fee,#fdf9f8,#fbf9fc,#fbf9fc,#f7f7fe,#f7f7fe,#eef,#eef,#eef,#eef,#eef,#eef,#f7f7fe,#f7f7fe,#fdf9f8,#fdf9f8,#fee,#fee,#fee,#fee,#fee,#fee,#fee,#fdd,#fdd,#fdd,#fdd,#fee,#fee,#fee,#fdf9f8,#fbf9fc,#fbf9fc,#f7f7fe,#f7f7fe,#eef,#eef,#eef,#eef,#eef,#eef,#f7f7fe,#f7f7fe,#fdf9f8,#fdf9f8,#fee,#fee,#fee,#fee,#fee,#fee,#fee,#fdd,#fdd,#fdd,#fdd,#fee,#fee,#fdf9f8,#fdf9f8,#fbf9fc,#fbf9fc,#f7f7fe,#f7f7fe,#eef,#eef,#eef,#eef,#eef,#eef,#f7f7fe,#fbf9fc,#fdf9f8,#fdf9f8)"></div><div style="height:4px;background:linear-gradient(90deg,#f7f7fe,#f7f7fe,#fdf9f8,#fdf9f8,#fdf9f8,#fdf9f8,#fdf9f8,#fee,#fee,#fee,#fee,#fdd,#fdd,#fdd,#fee,#fee,#fee,#fdf9f8,#fdf9f8,#fbf9fc,#f7f7fe,#f7f7fe,#eef,#eef,#eef,#eef,#eef,#eef,#eef,#f7f7fe,#fbf9fc,#fdf9f8,#fdf9f8,#fdf9f8,#fdf9f8,#fdf9f8,#fee,#fee,#fee,#fee,#fdd,#fdd,#fdd,#fee,#fee,#fee,#fdf9f8,#fdf9f8,#fbf9fc,#f7f7fe,#f7f7fe,#eef,#eef,#eef,#eef,#eef,#eef,#eef,#f7f7fe,#fbf9fc,#fdf9f8,#fdf9f8,#fdf9f8,#fdf9f8,#fdf9f8,#fee,#fee,#fee,#fee,#fdd,#fdd,#fdd,#fee,#fee,#fee,#fdf9f8,#fbf9fc,#fbf9fc,#f7f7fe,#f7f7fe,#eef,#eef,#eef,#eef,#eef,#eef,#eef,#f7f7fe,#fbf9fc,#fdf9f8)"></div><div style="height:4px;background:linear-gradient(90deg,#eef,#f7f7fe,#f7f7fe,#fbf9fc,#fdf9f8,#fdf9f8,#fdf9f8,#fdf9f8,#fee,#fee,#fee,#fee,#fdd,#fee,#fee,#fee,#fee,#fdf9f8,#fdf9f8,#fbf9fc,#f7f7fe,#f7f7fe,#f7f7fe,#eef,#eef,#eef,#eef,#eef,#eef,#eef,#f7f7fe,#f7f7fe,#fbf9fc,#fdf9f8,#fdf9f8,#fdf9f8,#fdf9f8,#fee,#fee,#fee,#fee,#fdd,#fee,#fee,#fee,#fee,#fdf9f8,#fdf9f8,#fbf9fc,#f7f7fe,#f7f7fe,#f7f7fe,#eef,#eef,#eef,#eef,#eef,#eef,#f7f7fe,#f7f7fe,#f7f7fe,#fbf9fc,#fdf9f8,#fdf9f8,#fdf9f8,#fdf9f8,#fee,#fee,#fee,#fee,#fdd,#fee,#fee,#fee,#fee,#fdf9f8,#fdf9f8,#fbf9fc,#f7f7fe,#f7f7fe,#f7f7fe,#eef,#eef,#eef,#eef,#eef,#eef,#f7f7fe,#f7f7fe,#fbf9fc)"></div><div style="height:4px;background:linear-gradient(90deg,#eef,#f7f7fe,#f7f7fe,#f7f7fe,#fbf9fc,#fbf9fc,#fdf9f8,#fdf9f8,#fdf9f8,#fee,#fee,#fee,#fee,#fee,#fee,#fee,#fee,#fdf9f8,#fdf9f8,#fbf9fc,#fbf9fc,#f7f7fe,#f7f7fe,#eef,#eef,#eef,#eef,#eef,#eef,#eef,#f7f7fe,#f7f7fe,#f7f7fe,#fbf9fc,#fbf9fc,#fdf9f8,#fdf9f8,#fdf9f8,#fee,#fee,#fee,#fee,#fee,#fee,#fee,#fee,#fdf9f8,#fdf9f8,#fbf9fc,#fbf9fc,#f7f7fe,#f7f7fe,#eef,#eef,#eef,#eef,#eef,#eef,#eef,#f7f7fe,#f7f7fe,#f7f7fe,#fbf9fc,#fbf9fc,#fdf9f8,#fdf9f8,#fdf9f8,#fee,#fee,#fee,#fee,#fee,#fee,#fee,#fee,#fdf9f8,#fdf9f8,#fbf9fc,#f7f7fe,#f7f7fe,#f7f7fe,#eef,#eef,#eef,#eef,#eef,#eef,#eef,#f7f7fe,#f7f7fe)"></div><div style="height:4px;background:linear-gradient(90deg,#eef,#eef,#f7f7fe,#f7f7fe,#f7f7fe,#fbf9fc,#fbf9fc,#fdf9f8,#fdf9f8,#fdf9f8,#fee,#fee,#fee,#fee,#fee,#fee,#fee,#fdf9f8,#fdf9f8,#fbf9fc,#fbf9fc,#f7f7fe,#f7f7fe,#f7f7fe,#eef,#eef,#eef,#eef,#eef,#eef,#eef,#f7f7fe,#f7f7fe,#f7f7fe,#fbf9fc,#fbf9fc,#fdf9f8,#fdf9f8,#fee,#fee,#fee,#fee,#fee,#fee,#fee,#fee,#fdf9f8,#fdf9f8,#fbf9fc,#fbf9fc,#f7f7fe,#f7f7fe,#f7f7fe,#eef,#eef,#eef,#eef,#eef,#eef,#eef,#f7f7fe,#f7f7fe,#f7f7fe,#fbf9fc,#fbf9fc,#fdf9f8,#fdf9f8,#fee,#fee,#fee,#fee,#fee,#fee,#fee,#fee,#fdf9f8,#fdf9f8,#fbf9fc,#fbf9fc,#f7f7fe,#f7f7fe,#f7f7fe,#eef,#eef,#eef,#eef,#eef,#eef,#eef,#f7f7fe)"></div><div style="height:4px;background:linear-gradient(90deg,#eef,#eef,#f7f7fe,#f7f7fe,#f7f7fe,#fbf9fc,#fbf9fc,#fdf9f8,#fdf9f8,#fdf9f8,#fee,#fee,#fee,#fee,#fee,#fee,#fee,#fdf9f8,#fdf9f8,#fbf9fc,#fbf9fc,#f7f7fe,#f7f7fe,#f7f7fe,#eef,#eef,#eef,#eef,#eef,#eef,#eef,#f7f7fe,#f7f7fe,#f7f7fe,#fbf9fc,#fbf9fc,#fdf9f8,#fdf9f8,#fdf9f8,#fee,#fee,#fee,#fee,#fee,#fee,#fee,#fdf9f8,#fdf9f8,#fbf9fc,#fbf9fc,#f7f7fe,#f7f7fe,#f7f7fe,#eef,#eef,#eef,#eef,#eef,#eef,#eef,#f7f7fe,#f7f7fe,#f7f7fe,#fbf9fc,#fbf9fc,#fdf9f8,#fdf9f8,#fdf9f8,#fee,#fee,#fee,#fee,#fee,#fee,#fee,#fdf9f8,#fdf9f8,#fbf9fc,#fbf9fc,#f7f7fe,#f7f7fe,#f7f7fe,#eef,#eef,#eef,#eef,#eef,#eef,#eef,#f7f7fe)"></div><div style="height:4px;background:linear-gradient(90deg,#eef,#eef,#eef,#f7f7fe,#f7f7fe,#fbf9fc,#fbf9fc,#fbf9fc,#fdf9f8,#fdf9f8,#fee,#fee,#fee,#fee,#fee,#fee,#fee,#fdf9f8,#fdf9f8,#fbf9fc,#fbf9fc,#fbf9fc,#f7f7fe,#f7f7fe,#f7f7fe,#eef,#eef,#eef,#eef,#eef,#eef,#f7f7fe,#f7f7fe,#f7f7fe,#fbf9fc,#fbf9fc,#fbf9fc,#fdf9f8,#fdf9f8,#fee,#fee,#fee,#fee,#fee,#fee,#fee,#fdf9f8,#fdf9f8,#fbf9fc,#fbf9fc,#fbf9fc,#f7f7fe,#f7f7fe,#f7f7fe,#eef,#eef,#eef,#eef,#eef,#eef,#f7f7fe,#f7f7fe,#f7f7fe,#fbf9fc,#fbf9fc,#fbf9fc,#fdf9f8,#fdf9f8,#fee,#fee,#fee,#fee,#fee,#fee,#fee,#fdf9f8,#fdf9f8,#fbf9fc,#fbf9fc,#f7f7fe,#f7f7fe,#f7f7fe,#f7f7fe,#eef,#eef,#eef,#eef,#eef,#eef,#f7f7fe)"></div><div style="height:4px;background:linear-gradient(90deg,#eef,#eef,#eef,#f7f7fe,#f7f7fe,#fbf9fc,#fbf9fc,#fdf9f8,#fdf9f8,#fdf9f8,#fee,#fee,#fee,#fee,#fee,#fee,#fee,#fdf9f8,#fdf9f8,#fbf9fc,#fbf9fc,#fbf9fc,#f7f7fe,#f7f7fe,#f7f7fe,#f7f7fe,#eef,#eef,#eef,#eef,#eef,#eef,#f7f7fe,#f7f7fe,#fbf9fc,#fbf9fc,#fdf9f8,#fdf9f8,#fdf9f8,#fee,#fee,#fee,#fee,#fee,#fee,#fee,#fdf9f8,#fdf9f8,#fbf9fc,#fbf9fc,#fbf9fc,#f7f7fe,#f7f7fe,#f7f7fe,#f7f7fe,#eef,#eef,#eef,#eef,#eef,#eef,#f7f7fe,#f7f7fe,#fbf9fc,#fbf9fc,#fdf9f8,#fdf9f8,#fdf9f8,#fee,#fee,#fee,#fee,#fee,#fee,#fee,#fdf9f8,#fdf9f8,#fbf9fc,#fbf9fc,#fbf9fc,#f7f7fe,#f7f7fe,#f7f7fe,#eef,#eef,#eef,#eef,#eef,#eef,#eef)"></div><div style="height:4px;background:linear-gradient(90deg,#ddf,#ddf,#ddf,#eef,#f7f7fe,#fbf9fc,#fdf9f8,#fdf9f8,#fdf9f8,#fee,#fee,#fee,#fee,#fee,#fdd,#fdd,#fee,#fee,#fdf9f8,#fdf9f8,#fbf9fc,#fbf9fc,#fbf9fc,#f7f7fe,#f7f7fe,#f7f7fe,#eef,#eef,#eef,#ddf,#ddf,#ddf,#eef,#f7f7fe,#fbf9fc,#fdf9f8,#fdf9f8,#fdf9f8,#fee,#fee,#fee,#fee,#fee,#fdd,#fee,#fee,#fee,#fdf9f8,#fdf9f8,#fbf9fc,#fbf9fc,#f7f7fe,#f7f7fe,#f7f7fe,#f7f7fe,#eef,#eef,#eef,#ddf,#ddf,#ddf,#eef,#f7f7fe,#fbf9fc,#fdf9f8,#fdf9f8,#fdf9f8,#fee,#fee,#fee,#fee,#fdd,#fdd,#fee,#fee,#fee,#fdf9f8,#fbf9fc,#fbf9fc,#fbf9fc,#f7f7fe,#f7f7fe,#f7f7fe,#f7f7fe,#eef,#eef,#eef,#ddf,#ddf,#ddf)"></div><div style="height:4px;background:linear-gradient(90deg,#bbf,#bbf,#ccf,#ddf,#f7f7fe,#fdf9f8,#fdf9f8,#fdf9f8,#fee,#fee,#fee,#fdd,#fdd,#fdd,#fdd,#fdd,#fdd,#fee,#fdf9f8,#fdf9f8,#fbf9fc,#fbf9fc,#f7f7fe,#f7f7fe,#f7f7fe,#eef,#eef,#ddf,#ccf,#bbf,#bbf,#ccf,#eef,#f7f7fe,#fdf9f8,#fdf9f8,#fee,#fee,#fee,#fee,#fdd,#fdd,#fdd,#fdd,#fdd,#fdd,#fee,#fdf9f8,#fdf9f8,#fbf9fc,#fbf9fc,#f7f7fe,#f7f7fe,#f7f7fe,#eef,#eef,#ddf,#ccf,#bbf,#bbf,#ccf,#eef,#f7f7fe,#fdf9f8,#fdf9f8,#fee,#fee,#fee,#fee,#fdd,#fdd,#fdd,#fdd,#fdd,#fee,#fee,#fdf9f8,#fdf9f8,#fbf9fc,#fbf9fc,#f7f7fe,#f7f7fe,#f7f7fe,#eef,#eef,#ddf,#ccf,#bbf,#bbf,#ccf)"></div><div style="height:4px;background:linear-gradient(90deg,#99f,#aaf,#ccf,#eef,#f7f7fe,#fdf9f8,#fee,#fee,#fee,#fdd,#fdd,#fdd,#fcc,#fcc,#fcc,#fcc,#fdd,#fee,#fdf9f8,#fdf9f8,#fbf9fc,#f7f7fe,#f7f7fe,#eef,#eef,#ddf,#ccf,#aaf,#99f,#99f,#aaf,#ccf,#eef,#fbf9fc,#fdf9f8,#fee,#fee,#fee,#fdd,#fdd,#fdd,#fcc,#fcc,#fcc,#fcc,#fdd,#fee,#fdf9f8,#fdf9f8,#fbf9fc,#f7f7fe,#f7f7fe,#eef,#eef,#ddf,#bbf,#aaf,#99f,#99f,#aaf,#ccf,#eef,#fbf9fc,#fdf9f8,#fee,#fee,#fee,#fdd,#fdd,#fdd,#fcc,#fcc,#fcc,#fcc,#fdd,#fee,#fdf9f8,#fdf9f8,#fbf9fc,#f7f7fe,#f7f7fe,#eef,#eef,#ddf,#bbf,#aaf,#99f,#99f,#bbf,#ccf)"></div><div style="height:4px;background:linear-gradient(90deg,#99f,#bbf,#ddf,#eef,#fdf9f8,#fee,#fee,#fdd,#fcc,#fcc,#fcc,#fbb,#fbb,#fbb,#fbb,#fbb,#fcc,#fee,#fee,#fbf9fc,#f7f7fe,#eef,#eef,#ddf,#bbf,#99f,#77f,#66f,#77f,#99f,#bbf,#ddf,#eef,#fdf9f8,#fee,#fdd,#fdd,#fcc,#fcc,#fcc,#fbb,#fbb,#fbb,#fbb,#fcc,#fdd,#fee,#fdf9f8,#fbf9fc,#f7f7fe,#eef,#eef,#ccf,#bbf,#99f,#77f,#66f,#77f,#99f,#ccf,#ddf,#f7f7fe,#fdf9f8,#fee,#fdd,#fdd,#fcc,#fcc,#fcc,#fbb,#fbb,#fbb,#fbb,#fcc,#fdd,#fee,#fdf9f8,#fbf9fc,#f7f7fe,#eef,#ddf,#ccf,#bbf,#99f,#77f,#66f,#77f,#99f,#ccf,#eef)"></div><div style="height:4px;background:linear-gradient(90deg,#bbf,#ddf,#eef,#fdf9f8,#fee,#fee,#fdd,#fbb,#fbb,#fbb,#faa,#faa,#faa,#fbb,#fbb,#fbb,#fcc,#fee,#fdf9f8,#f7f7fe,#eef,#ccf,#bbf,#88f,#66f,#44f,#44f,#66f,#99f,#bbf,#ddf,#f7f7fe,#fdf9f8,#fee,#fdd,#fcc,#fbb,#fbb,#fbb,#faa,#faa,#faa,#fbb,#fbb,#fbb,#fcc,#fee,#fdf9f8,#eef,#eef,#ccf,#bbf,#88f,#66f,#44f,#44f,#66f,#99f,#ccf,#eef,#f7f7fe,#fdf9f8,#fee,#fdd,#fcc,#fbb,#fbb,#fbb,#faa,#faa,#faa,#fbb,#fbb,#fbb,#fdd,#fee,#fdf9f8,#eef,#eef,#ccf,#aaf,#88f,#66f,#44f,#44f,#66f,#99f,#ccf,#eef,#f7f7fe)"></div><div style="height:4px;background:linear-gradient(90deg,#eef,#f7f7fe,#fdf9f8,#fee,#fee,#fdd,#fbb,#faa,#faa,#f99,#faa,#faa,#faa,#fbb,#fbb,#fcc,#fdd,#fee,#eef,#ddf,#bbf,#88f,#66f,#33f,#22f,#22f,#55f,#99f,#ccf,#eef,#f7f7fe,#fdf9f8,#fee,#fee,#fdd,#fbb,#faa,#faa,#f99,#faa,#faa,#faa,#fbb,#fbb,#fcc,#fdd,#fee,#eef,#ddf,#bbf,#88f,#55f,#33f,#22f,#33f,#55f,#99f,#ccf,#eef,#f7f7fe,#fdf9f8,#fee,#fdd,#fcc,#fbb,#faa,#faa,#f99,#faa,#faa,#faa,#fbb,#fbb,#fcc,#fdd,#fee,#eef,#ccf,#aaf,#88f,#55f,#22f,#22f,#33f,#66f,#99f,#ccf,#eef,#f7f7fe,#fdf9f8)"></div><div style="height:4px;background:linear-gradient(90deg,#f7f7fe,#fdf9f8,#fee,#fee,#fdd,#fcc,#faa,#f99,#f99,#f99,#f99,#faa,#faa,#fbb,#fcc,#fdd,#fee,#eef,#bbf,#99f,#66f,#44f,#22f,#00f,#22f,#55f,#99f,#ddf,#eef,#fbf9fc,#fdf9f8,#fee,#fee,#fdd,#fbb,#faa,#f99,#f99,#f99,#f99,#faa,#fbb,#fbb,#fcc,#fdd,#fee,#eef,#bbf,#99f,#66f,#33f,#11f,#00f,#22f,#66f,#aaf,#ddf,#eef,#fbf9fc,#fdf9f8,#fee,#fee,#fdd,#fbb,#faa,#f99,#f99,#f99,#f99,#faa,#fbb,#fbb,#fcc,#fdd,#fee,#eef,#bbf,#88f,#66f,#33f,#11f,#00f,#22f,#66f,#aaf,#ddf,#eef,#fbf9fc,#fdf9f8,#fee)"></div><div style="height:4px;background:linear-gradient(90deg,#fdf9f8,#fee,#fee,#fdd,#fcc,#faa,#f99,#f88,#f88,#f99,#faa,#fbb,#fbb,#fcc,#fdd,#fee,#eef,#bbf,#88f,#44f,#33f,#22f,#22f,#33f,#66f,#aaf,#ddf,#f7f7fe,#fdf9f8,#fdf9f8,#fee,#fee,#fdd,#fcc,#faa,#f99,#f88,#f88,#f99,#faa,#fbb,#fbb,#fcc,#fdd,#fee,#eef,#bbf,#77f,#44f,#33f,#22f,#22f,#33f,#66f,#aaf,#ddf,#f7f7fe,#fdf9f8,#fdf9f8,#fee,#fee,#fdd,#fbb,#faa,#f99,#f88,#f99,#f99,#faa,#fbb,#fcc,#fcc,#fdd,#fee,#eef,#bbf,#77f,#44f,#22f,#22f,#22f,#44f,#66f,#bbf,#ddf,#f7f7fe,#fdf9f8,#fdf9f8,#fee,#fdd)"></div><div style="height:4px;background:linear-gradient(90deg,#fee,#fee,#fdd,#fcc,#fbb,#f99,#f99,#f99,#f99,#faa,#fbb,#fcc,#fdd,#fee,#fdf9f8,#eef,#bbf,#88f,#44f,#33f,#33f,#55f,#77f,#99f,#bbf,#ddf,#f7f7fe,#fdf9f8,#fee,#fee,#fee,#fdd,#fcc,#faa,#f99,#f99,#f99,#f99,#faa,#fbb,#fcc,#fdd,#fee,#fdf9f8,#ddf,#bbf,#77f,#44f,#33f,#33f,#55f,#77f,#99f,#bbf,#eef,#f7f7fe,#fdf9f8,#fee,#fee,#fee,#fdd,#fcc,#faa,#f99,#f99,#f99,#f99,#faa,#fbb,#fcc,#fdd,#fee,#fbf9fc,#ddf,#aaf,#77f,#44f,#33f,#44f,#55f,#77f,#99f,#bbf,#eef,#f7f7fe,#fdf9f8,#fee,#fee,#fdd,#fdd)"></div><div style="height:4px;background:linear-gradient(90deg,#fee,#fdd,#fcc,#fbb,#faa,#f99,#f99,#f99,#faa,#fbb,#fcc,#fdd,#fee,#f7f7fe,#ddf,#aaf,#77f,#55f,#44f,#66f,#88f,#aaf,#ccf,#ddf,#eef,#fbf9fc,#fdf9f8,#fee,#fee,#fee,#fdd,#fcc,#fbb,#faa,#f99,#f99,#f99,#faa,#fcc,#fcc,#fdd,#fee,#f7f7fe,#ddf,#aaf,#77f,#44f,#44f,#66f,#88f,#aaf,#ccf,#ddf,#eef,#fbf9fc,#fee,#fee,#fee,#fdd,#fdd,#fcc,#fbb,#faa,#f99,#f99,#f99,#faa,#fcc,#fcc,#fdd,#fee,#eef,#ddf,#aaf,#77f,#44f,#44f,#66f,#88f,#aaf,#ccf,#ddf,#eef,#fbf9fc,#fee,#fee,#fee,#fdd,#fdd,#fcc)"></div><div style="height:4px;background:linear-gradient(90deg,#fdd,#fcc,#fbb,#faa,#f99,#f99,#f99,#faa,#fbb,#fdd,#fee,#fdf9f8,#eef,#ccf,#aaf,#77f,#55f,#44f,#66f,#99f,#ccf,#ddf,#eef,#fbf9fc,#fdf9f8,#fee,#fee,#fee,#fdd,#fdd,#fcc,#fbb,#faa,#f99,#f99,#f99,#faa,#fcc,#fdd,#fee,#fdf9f8,#eef,#ccf,#aaf,#77f,#55f,#44f,#66f,#99f,#ccf,#ddf,#eef,#fbf9fc,#fdf9f8,#fee,#fee,#fee,#fdd,#fdd,#fcc,#fbb,#faa,#f99,#f99,#f99,#faa,#fcc,#fdd,#fee,#fdf9f8,#eef,#ccf,#aaf,#77f,#55f,#44f,#66f,#aaf,#ccf,#eef,#eef,#fbf9fc,#fdf9f8,#fee,#fee,#fee,#fdd,#fdd,#fcc,#fbb)"></div><div style="height:4px;background:linear-gradient(90deg,#fcc,#fbb,#faa,#f99,#f99,#f99,#faa,#fbb,#fdd,#fee,#fdf9f8,#eef,#ccf,#aaf,#77f,#55f,#44f,#66f,#99f,#ccf,#eef,#f7f7fe,#fdf9f8,#fee,#fee,#fee,#fee,#fdd,#fdd,#fcc,#fbb,#faa,#f99,#f99,#f99,#faa,#fbb,#fdd,#fee,#fdf9f8,#eef,#ccf,#aaf,#77f,#55f,#44f,#66f,#99f,#ccf,#eef,#fbf9fc,#fdf9f8,#fee,#fee,#fee,#fee,#fdd,#fdd,#fcc,#fbb,#faa,#f99,#f99,#f99,#faa,#fcc,#fdd,#fee,#fdf9f8,#eef,#ccf,#99f,#77f,#55f,#44f,#66f,#aaf,#ddf,#eef,#fbf9fc,#fdf9f8,#fee,#fee,#fee,#fee,#fdd,#fcc,#fcc,#fbb,#faa)"></div><div style="height:4px;background:linear-gradient(90deg,#fbb,#faa,#f99,#f99,#f99,#faa,#fbb,#fcc,#fee,#fdf9f8,#eef,#ccf,#aaf,#77f,#55f,#55f,#66f,#99f,#ccf,#eef,#fbf9fc,#fdf9f8,#fee,#fee,#fee,#fdd,#fdd,#fcc,#fcc,#fbb,#faa,#f99,#f99,#f99,#faa,#fbb,#fdd,#fee,#fdf9f8,#eef,#ccf,#aaf,#77f,#55f,#55f,#66f,#99f,#ccf,#eef,#fbf9fc,#fdf9f8,#fee,#fee,#fee,#fdd,#fdd,#fcc,#fcc,#fbb,#faa,#f99,#f99,#f99,#faa,#fbb,#fdd,#fee,#fbf9fc,#eef,#ccf,#aaf,#77f,#55f,#55f,#66f,#99f,#ccf,#eef,#fbf9fc,#fdf9f8,#fee,#fee,#fee,#fdd,#fdd,#fcc,#fcc,#fbb,#faa,#f99)"></div><div style="height:4px;background:linear-gradient(90deg,#faa,#faa,#f99,#f99,#faa,#fbb,#fcc,#fdd,#fdf9f8,#eef,#ddf,#bbf,#88f,#66f,#55f,#66f,#99f,#ccf,#eef,#f7f7fe,#fdf9f8,#fee,#fee,#fee,#fdd,#fdd,#fcc,#fbb,#fbb,#faa,#faa,#f99,#faa,#faa,#fbb,#fcc,#fee,#fdf9f8,#eef,#ddf,#aaf,#88f,#66f,#55f,#66f,#99f,#ccf,#eef,#f7f7fe,#fdf9f8,#fee,#fee,#fee,#fdd,#fdd,#fcc,#fbb,#fbb,#faa,#f99,#f99,#faa,#faa,#fbb,#fcc,#fee,#fdf9f8,#eef,#ccf,#aaf,#77f,#55f,#55f,#77f,#99f,#ccf,#eef,#f7f7fe,#fdf9f8,#fee,#fee,#fee,#fdd,#fdd,#fcc,#fbb,#fbb,#faa,#f99,#f99)"></div><div style="height:4px;background:linear-gradient(90deg,#f99,#f99,#f99,#faa,#fbb,#fcc,#fdd,#fee,#f7f7fe,#ddf,#bbf,#99f,#66f,#55f,#77f,#99f,#bbf,#ddf,#f7f7fe,#fdf9f8,#fdf9f8,#fee,#fee,#fdd,#fdd,#fcc,#fbb,#faa,#faa,#f99,#f99,#faa,#faa,#fbb,#fcc,#fdd,#fee,#eef,#ddf,#bbf,#88f,#66f,#55f,#77f,#99f,#bbf,#ddf,#f7f7fe,#fdf9f8,#fdf9f8,#fee,#fee,#fdd,#fcc,#fcc,#fbb,#faa,#faa,#f99,#f99,#faa,#faa,#fbb,#fcc,#fdd,#fee,#eef,#ddf,#bbf,#88f,#66f,#55f,#77f,#99f,#ccf,#eef,#f7f7fe,#fdf9f8,#fee,#fee,#fee,#fdd,#fcc,#fcc,#fbb,#faa,#faa,#f99,#f99,#faa)"></div><div style="height:4px;background:linear-gradient(90deg,#f99,#f99,#faa,#fbb,#fcc,#fdd,#fee,#fbf9fc,#eef,#ccf,#99f,#77f,#55f,#55f,#88f,#bbf,#ddf,#eef,#fbf9fc,#fdf9f8,#fee,#fee,#fdd,#fdd,#fcc,#fbb,#faa,#f99,#f99,#f99,#f99,#faa,#fbb,#fcc,#fdd,#fee,#fbf9fc,#eef,#bbf,#99f,#77f,#55f,#66f,#88f,#bbf,#ddf,#eef,#fbf9fc,#fdf9f8,#fee,#fee,#fdd,#fcc,#fcc,#fbb,#faa,#f99,#f99,#f99,#f99,#faa,#fbb,#fcc,#fdd,#fee,#f7f7fe,#ddf,#bbf,#99f,#66f,#55f,#66f,#88f,#ccf,#ddf,#f7f7fe,#fbf9fc,#fdf9f8,#fee,#fee,#fdd,#fcc,#fcc,#fbb,#faa,#f99,#f99,#f99,#faa,#faa)"></div><div style="height:4px;background:linear-gradient(90deg,#f99,#faa,#fbb,#fcc,#fdd,#fee,#fdf9f8,#eef,#ddf,#aaf,#77f,#55f,#55f,#66f,#99f,#ccf,#eef,#f7f7fe,#fdf9f8,#fdf9f8,#fee,#fee,#fdd,#fcc,#fbb,#faa,#f99,#f88,#f88,#f99,#faa,#fbb,#fcc,#fdd,#fee,#fdf9f8,#eef,#ddf,#aaf,#77f,#55f,#55f,#66f,#aaf,#ddf,#eef,#f7f7fe,#fdf9f8,#fdf9f8,#fee,#fee,#fdd,#fcc,#fbb,#faa,#f99,#f88,#f88,#f99,#faa,#fbb,#fcc,#fdd,#fee,#fbf9fc,#eef,#ccf,#aaf,#77f,#55f,#55f,#77f,#aaf,#ddf,#eef,#f7f7fe,#fdf9f8,#fee,#fee,#fdd,#fdd,#fcc,#fbb,#faa,#f99,#f88,#f88,#f99,#faa,#fbb)"></div><div style="height:4px;background:linear-gradient(90deg,#f99,#faa,#fbb,#fdd,#fee,#fdf9f8,#eef,#ddf,#ccf,#99f,#66f,#55f,#55f,#88f,#bbf,#ddf,#f7f7fe,#fbf9fc,#fdf9f8,#fee,#fee,#fdd,#fcc,#fbb,#faa,#f99,#f88,#f88,#f88,#f99,#faa,#fcc,#fdd,#fee,#fdf9f8,#eef,#ddf,#bbf,#99f,#66f,#55f,#55f,#88f,#bbf,#ddf,#f7f7fe,#fbf9fc,#fdf9f8,#fee,#fee,#fdd,#fcc,#fbb,#faa,#f99,#f88,#f88,#f88,#f99,#faa,#fcc,#fdd,#fee,#fdf9f8,#eef,#ddf,#bbf,#88f,#66f,#55f,#55f,#88f,#bbf,#eef,#f7f7fe,#fbf9fc,#fdf9f8,#fee,#fee,#fdd,#fcc,#fbb,#faa,#f99,#f88,#f88,#f88,#f99,#faa,#fcc)"></div><div style="height:4px;background:linear-gradient(90deg,#f99,#fbb,#fcc,#fdd,#fee,#f7f7fe,#eef,#ccf,#aaf,#88f,#55f,#44f,#66f,#99f,#ccf,#eef,#f7f7fe,#fdf9f8,#fdf9f8,#fee,#fee,#fdd,#fbb,#faa,#f99,#f88,#f77,#f77,#f88,#f99,#fbb,#fcc,#fdd,#fee,#f7f7fe,#eef,#ccf,#aaf,#77f,#55f,#44f,#66f,#99f,#ccf,#eef,#f7f7fe,#fdf9f8,#fdf9f8,#fee,#fdd,#fcc,#fbb,#faa,#f99,#f88,#f77,#f77,#f88,#f99,#fbb,#fcc,#fee,#fee,#f7f7fe,#ddf,#ccf,#aaf,#77f,#55f,#44f,#66f,#99f,#ccf,#eef,#f7f7fe,#fdf9f8,#fdf9f8,#fee,#fdd,#fcc,#fbb,#faa,#f99,#f88,#f77,#f77,#f88,#f99,#fbb,#fcc)"></div><div style="height:4px;background:linear-gradient(90deg,#f99,#fbb,#fdd,#fee,#fdf9f8,#eef,#ddf,#bbf,#99f,#66f,#55f,#44f,#66f,#aaf,#ccf,#eef,#f7f7fe,#fdf9f8,#fdf9f8,#fee,#fdd,#fcc,#fbb,#f99,#f88,#f77,#f77,#f77,#f88,#faa,#fbb,#fdd,#fee,#fdf9f8,#eef,#ddf,#bbf,#99f,#66f,#44f,#55f,#77f,#aaf,#ddf,#eef,#f7f7fe,#fdf9f8,#fee,#fee,#fdd,#fcc,#fbb,#f99,#f88,#f77,#f77,#f77,#f88,#faa,#fbb,#fdd,#fee,#fbf9fc,#eef,#ddf,#bbf,#99f,#66f,#44f,#55f,#77f,#aaf,#ddf,#eef,#f7f7fe,#fdf9f8,#fee,#fee,#fdd,#fcc,#faa,#f99,#f88,#f77,#f77,#f77,#f88,#faa,#fbb,#fdd)"></div><div style="height:4px;background:linear-gradient(90deg,#faa,#fcc,#fdd,#fee,#f7f7fe,#eef,#ccf,#aaf,#88f,#55f,#44f,#55f,#77f,#aaf,#ddf,#eef,#f7f7fe,#fdf9f8,#fee,#fee,#fdd,#fbb,#faa,#f88,#f77,#f66,#f66,#f77,#f88,#faa,#fcc,#fdd,#fee,#f7f7fe,#eef,#ccf,#aaf,#88f,#55f,#44f,#55f,#77f,#aaf,#ddf,#eef,#f7f7fe,#fdf9f8,#fee,#fee,#fdd,#fbb,#faa,#f88,#f77,#f66,#f66,#f77,#f99,#faa,#fcc,#fdd,#fee,#f7f7fe,#ddf,#ccf,#aaf,#77f,#55f,#44f,#55f,#88f,#bbf,#ddf,#eef,#fbf9fc,#fdf9f8,#fee,#fee,#fdd,#fbb,#faa,#f88,#f77,#f66,#f66,#f77,#f99,#faa,#fcc,#fdd)"></div><div style="height:4px;background:linear-gradient(90deg,#fbb,#fcc,#fdd,#fee,#f7f7fe,#ddf,#ccf,#99f,#77f,#55f,#44f,#55f,#88f,#bbf,#ddf,#eef,#f7f7fe,#fdf9f8,#fee,#fee,#fcc,#fbb,#f99,#f88,#f66,#f66,#f66,#f77,#f99,#fbb,#fcc,#fee,#fdf9f8,#f7f7fe,#ddf,#bbf,#99f,#66f,#55f,#44f,#55f,#88f,#bbf,#ddf,#eef,#f7f7fe,#fdf9f8,#fee,#fee,#fcc,#fbb,#f99,#f77,#f66,#f66,#f66,#f77,#f99,#fbb,#fcc,#fee,#fdf9f8,#eef,#ddf,#bbf,#99f,#66f,#44f,#44f,#55f,#88f,#bbf,#ddf,#eef,#fbf9fc,#fdf9f8,#fee,#fdd,#fcc,#fbb,#f99,#f77,#f66,#f66,#f66,#f88,#f99,#fbb,#fdd,#fee)"></div><div style="height:4px;background:linear-gradient(90deg,#fbb,#fdd,#fee,#fdf9f8,#eef,#ddf,#bbf,#99f,#66f,#44f,#44f,#55f,#88f,#bbf,#ddf,#eef,#f7f7fe,#fdf9f8,#fee,#fdd,#fcc,#fbb,#f99,#f77,#f66,#f66,#f77,#f88,#faa,#fbb,#fdd,#fee,#fdf9f8,#eef,#ddf,#bbf,#88f,#66f,#44f,#44f,#66f,#88f,#bbf,#ddf,#eef,#f7f7fe,#fdf9f8,#fee,#fdd,#fcc,#faa,#f88,#f77,#f66,#f66,#f77,#f88,#faa,#fbb,#fdd,#fee,#fdf9f8,#eef,#ddf,#bbf,#88f,#55f,#44f,#44f,#66f,#99f,#bbf,#ddf,#eef,#fbf9fc,#fdf9f8,#fee,#fdd,#fcc,#faa,#f88,#f77,#f66,#f66,#f77,#f88,#faa,#fcc,#fdd,#fee)"></div><div style="height:4px;background:linear-gradient(90deg,#fcc,#fdd,#fee,#fdf9f8,#eef,#ddf,#bbf,#88f,#66f,#44f,#44f,#66f,#99f,#bbf,#ddf,#eef,#f7f7fe,#fdf9f8,#fee,#fdd,#fcc,#faa,#f88,#f77,#f66,#f66,#f77,#f88,#faa,#fcc,#fdd,#fee,#fbf9fc,#eef,#ddf,#bbf,#88f,#66f,#44f,#44f,#66f,#99f,#bbf,#ddf,#eef,#fbf9fc,#fdf9f8,#fee,#fdd,#fcc,#faa,#f88,#f77,#f66,#f66,#f77,#f99,#faa,#fcc,#fdd,#fee,#fbf9fc,#eef,#ddf,#aaf,#88f,#66f,#44f,#44f,#66f,#99f,#ccf,#ddf,#eef,#fbf9fc,#fdf9f8,#fee,#fdd,#fbb,#faa,#f88,#f77,#f66,#f66,#f77,#f99,#fbb,#fcc,#fdd,#fee)"></div><div style="height:4px;background:linear-gradient(90deg,#fcc,#fdd,#fee,#fbf9fc,#eef,#ddf,#aaf,#88f,#66f,#55f,#55f,#77f,#99f,#ccf,#ddf,#eef,#fbf9fc,#fee,#fee,#fdd,#fbb,#faa,#f88,#f77,#f66,#f77,#f88,#f99,#fbb,#fcc,#fee,#fee,#f7f7fe,#eef,#ccf,#aaf,#88f,#66f,#55f,#66f,#77f,#aaf,#ccf,#eef,#f7f7fe,#fbf9fc,#fee,#fee,#fdd,#fbb,#faa,#f88,#f77,#f66,#f77,#f88,#f99,#fbb,#fcc,#fee,#fee,#f7f7fe,#eef,#ccf,#aaf,#88f,#66f,#55f,#66f,#77f,#aaf,#ccf,#eef,#f7f7fe,#fdf9f8,#fee,#fee,#fcc,#fbb,#f99,#f88,#f77,#f66,#f77,#f88,#faa,#fbb,#fdd,#fee,#fdf9f8)"></div><div style="height:4px;background:linear-gradient(90deg,#fdd,#fee,#fdf9f8,#f7f7fe,#eef,#ccf,#aaf,#88f,#66f,#66f,#77f,#99f,#aaf,#ccf,#eef,#f7f7fe,#fdf9f8,#fee,#fdd,#fcc,#fbb,#f99,#f88,#f77,#f77,#f77,#f88,#faa,#fcc,#fdd,#fee,#fdf9f8,#f7f7fe,#eef,#ccf,#aaf,#88f,#66f,#66f,#77f,#99f,#bbf,#ddf,#eef,#f7f7fe,#fdf9f8,#fee,#fdd,#fcc,#fbb,#f99,#f88,#f77,#f77,#f77,#f99,#faa,#fcc,#fdd,#fee,#fdf9f8,#f7f7fe,#eef,#ccf,#aaf,#88f,#66f,#66f,#77f,#99f,#bbf,#ddf,#eef,#f7f7fe,#fdf9f8,#fee,#fdd,#fcc,#fbb,#f99,#f88,#f77,#f77,#f77,#f99,#faa,#fcc,#fdd,#fee,#fdf9f8)"></div><div style="height:4px;background:linear-gradient(90deg,#fdd,#fee,#fdf9f8,#f7f7fe,#ddf,#ccf,#aaf,#88f,#77f,#77f,#88f,#aaf,#ccf,#ddf,#eef,#f7f7fe,#fdf9f8,#fee,#fdd,#fcc,#faa,#f99,#f88,#f88,#f88,#f88,#f99,#fbb,#fcc,#fdd,#fee,#fdf9f8,#eef,#ddf,#ccf,#aaf,#88f,#77f,#77f,#88f,#aaf,#ccf,#ddf,#eef,#fbf9fc,#fee,#fee,#fdd,#fcc,#faa,#f99,#f88,#f88,#f88,#f88,#f99,#fbb,#fcc,#fdd,#fee,#fdf9f8,#eef,#ddf,#ccf,#aaf,#88f,#77f,#77f,#88f,#aaf,#ccf,#ddf,#eef,#fbf9fc,#fee,#fee,#fdd,#fcc,#faa,#f99,#f88,#f88,#f88,#f99,#faa,#fbb,#fcc,#fdd,#fee,#fdf9f8)"></div><div style="height:4px;background:linear-gradient(90deg,#fdd,#fee,#fdf9f8,#eef,#ddf,#ccf,#aaf,#88f,#88f,#88f,#99f,#bbf,#ddf,#eef,#f7f7fe,#fdf9f8,#fee,#fee,#fcc,#fbb,#faa,#f99,#f99,#f99,#f99,#faa,#faa,#fbb,#fdd,#fee,#fee,#fdf9f8,#eef,#ddf,#bbf,#99f,#88f,#88f,#88f,#aaf,#bbf,#ddf,#eef,#f7f7fe,#fdf9f8,#fee,#fdd,#fcc,#fbb,#faa,#f99,#f99,#f99,#f99,#faa,#faa,#fcc,#fdd,#fee,#fee,#fdf9f8,#eef,#ddf,#bbf,#99f,#88f,#88f,#88f,#aaf,#ccf,#ddf,#eef,#f7f7fe,#fdf9f8,#fee,#fdd,#fcc,#fbb,#faa,#f99,#f99,#f99,#f99,#faa,#fbb,#fcc,#fdd,#fee,#fee,#fbf9fc)"></div><div style="height:4px;background:linear-gradient(90deg,#fee,#fee,#fdf9f8,#f7f7fe,#eef,#ccf,#aaf,#99f,#88f,#99f,#bbf,#ccf,#eef,#f7f7fe,#fbf9fc,#fdf9f8,#fee,#fdd,#fcc,#fbb,#faa,#faa,#faa,#faa,#faa,#fbb,#fbb,#fcc,#fdd,#fee,#fee,#fdf9f8,#f7f7fe,#ddf,#ccf,#aaf,#88f,#88f,#99f,#bbf,#ddf,#eef,#f7f7fe,#fbf9fc,#fdf9f8,#fee,#fdd,#fcc,#fbb,#faa,#faa,#faa,#faa,#faa,#fbb,#fcc,#fcc,#fdd,#fee,#fee,#fdf9f8,#eef,#ddf,#ccf,#aaf,#88f,#88f,#aaf,#bbf,#ddf,#eef,#f7f7fe,#fbf9fc,#fdf9f8,#fee,#fdd,#fcc,#fbb,#faa,#faa,#faa,#faa,#faa,#fbb,#fcc,#fcc,#fdd,#fee,#fee,#fbf9fc)"></div><div style="height:4px;background:linear-gradient(90deg,#fee,#fee,#fdf9f8,#f7f7fe,#eef,#ddf,#bbf,#aaf,#aaf,#aaf,#ccf,#eef,#f7f7fe,#fbf9fc,#fdf9f8,#fee,#fee,#fdd,#fcc,#fbb,#faa,#fbb,#fbb,#fbb,#fbb,#fcc,#fcc,#fdd,#fee,#fee,#fee,#fdf9f8,#f7f7fe,#eef,#ccf,#bbf,#aaf,#aaf,#bbf,#ccf,#eef,#f7f7fe,#fdf9f8,#fdf9f8,#fee,#fee,#fdd,#fcc,#fbb,#faa,#fbb,#fbb,#fbb,#fbb,#fcc,#fcc,#fdd,#fee,#fee,#fee,#fdf9f8,#f7f7fe,#eef,#ccf,#bbf,#aaf,#aaf,#bbf,#ccf,#eef,#f7f7fe,#fdf9f8,#fdf9f8,#fee,#fee,#fdd,#fcc,#fbb,#faa,#fbb,#fbb,#fbb,#fbb,#fcc,#fcc,#fdd,#fee,#fee,#fee,#fdf9f8)"></div><div style="height:4px;background:linear-gradient(90deg,#fee,#fee,#fee,#fdf9f8,#f7f7fe,#eef,#ccf,#bbf,#bbf,#ccf,#ddf,#eef,#fdf9f8,#fdf9f8,#fee,#fee,#fee,#fee,#fdd,#fcc,#fcc,#fcc,#fdd,#fcc,#fcc,#fdd,#fdd,#fdd,#fee,#fee,#fee,#fee,#fdf9f8,#f7f7fe,#eef,#ccf,#bbf,#bbf,#ccf,#ddf,#eef,#fdf9f8,#fdf9f8,#fee,#fee,#fee,#fdd,#fdd,#fcc,#fcc,#fcc,#fdd,#fcc,#fcc,#fdd,#fdd,#fdd,#fee,#fee,#fee,#fee,#fdf9f8,#f7f7fe,#ddf,#ccf,#bbf,#bbf,#ccf,#ddf,#f7f7fe,#fdf9f8,#fdf9f8,#fee,#fee,#fee,#fdd,#fdd,#fcc,#fcc,#fcc,#fdd,#fcc,#fcc,#fdd,#fdd,#fdd,#fee,#fee,#fee,#fdf9f8)"></div><div style="height:4px;background:linear-gradient(90deg,#fee,#fee,#fee,#fee,#fdf9f8,#f7f7fe,#eef,#ddf,#ddf,#eef,#eef,#fdf9f8,#fee,#fee,#fee,#fee,#fee,#fee,#fee,#fee,#fdf9f8,#f7f7fe,#eef,#fee,#fdd,#fdd,#fee,#fee,#fee,#fee,#fee,#fee,#fee,#fdf9f8,#f7f7fe,#eef,#ddf,#ddf,#eef,#f7f7fe,#fdf9f8,#fee,#fee,#fee,#fee,#fee,#fee,#fee,#fee,#fdf9f8,#f7f7fe,#eef,#fee,#fdd,#fdd,#fee,#fee,#fee,#fee,#fee,#fee,#fee,#fdf9f8,#f7f7fe,#eef,#ddf,#ddf,#eef,#f7f7fe,#fdf9f8,#fee,#fee,#fee,#fee,#fee,#fee,#fee,#fee,#fdf9f8,#f7f7fe,#eef,#fee,#fdd,#fdd,#fee,#fee,#fee,#fee,#fee,#fee)"></div><div style="height:4px;background:linear-gradient(90deg,#fee,#fee,#fee,#fdd,#fee,#fee,#fee,#fdf9f8,#fbf9fc,#fdf9f8,#fee,#fee,#fee,#fee,#fee,#fdf9f8,#f7f7fe,#eef,#ddf,#ccf,#bbf,#ccf,#ddf,#fdf9f8,#fee,#fee,#fee,#fee,#fee,#fee,#fee,#fdd,#fdd,#fee,#fee,#fee,#fdf9f8,#fbf9fc,#fdf9f8,#fee,#fee,#fee,#fee,#fee,#fdf9f8,#f7f7fe,#eef,#ddf,#ccf,#bbf,#ccf,#ddf,#fdf9f8,#fee,#fee,#fee,#fee,#fee,#fee,#fee,#fdd,#fdd,#fee,#fee,#fdf9f8,#fbf9fc,#fbf9fc,#fdf9f8,#fee,#fee,#fee,#fee,#fee,#fdf9f8,#f7f7fe,#eef,#ddf,#ccf,#bbf,#ccf,#ddf,#fee,#fee,#fee,#fee,#fee,#fee,#fee,#fee,#fdd)"></div><div style="height:4px;background:linear-gradient(90deg,#fdd,#fdd,#fdd,#fdd,#fdd,#fdd,#fdd,#fdd,#fee,#fee,#fee,#fee,#fee,#fee,#fdf9f8,#eef,#ccf,#aaf,#88f,#77f,#88f,#bbf,#eef,#fdf9f8,#fee,#fee,#fee,#fee,#fdd,#fdd,#fdd,#fdd,#fdd,#fdd,#fdd,#fdd,#fdd,#fee,#fee,#fee,#fee,#fee,#fee,#fdf9f8,#eef,#ccf,#aaf,#88f,#77f,#99f,#bbf,#eef,#fee,#fee,#fee,#fee,#fee,#fdd,#fdd,#fdd,#fdd,#fdd,#fdd,#fdd,#fdd,#fdd,#fee,#fee,#fee,#fee,#fee,#fee,#fdf9f8,#eef,#ccf,#99f,#88f,#77f,#99f,#ccf,#eef,#fee,#fee,#fee,#fee,#fee,#fdd,#fdd,#fdd,#fdd)"></div><div style="height:4px;background:linear-gradient(90deg,#fdd,#fcc,#fcc,#fcc,#fcc,#fcc,#fcc,#fcc,#fdd,#fdd,#fdd,#fee,#fee,#fdf9f8,#eef,#bbf,#88f,#44f,#33f,#55f,#99f,#ddf,#fbf9fc,#fee,#fee,#fee,#fdd,#fdd,#fdd,#fdd,#fcc,#fcc,#fcc,#fcc,#fcc,#fcc,#fcc,#fdd,#fdd,#fdd,#fee,#fee,#fdf9f8,#eef,#bbf,#77f,#44f,#44f,#66f,#99f,#ddf,#fdf9f8,#fee,#fee,#fee,#fdd,#fdd,#fdd,#fcc,#fcc,#fcc,#fcc,#fcc,#fcc,#fcc,#fcc,#fdd,#fdd,#fdd,#fee,#fee,#fdf9f8,#eef,#bbf,#77f,#44f,#44f,#66f,#aaf,#ddf,#fdf9f8,#fee,#fee,#fee,#fdd,#fdd,#fdd,#fcc,#fcc,#fcc)"></div><div style="height:4px;background:linear-gradient(90deg,#fcc,#fbb,#fbb,#fbb,#fbb,#fbb,#fbb,#fcc,#fcc,#fdd,#fdd,#fee,#fdf9f8,#eef,#bbf,#77f,#33f,#00f,#33f,#88f,#ccf,#f7f7fe,#fee,#fee,#fee,#fdd,#fdd,#fcc,#fcc,#fcc,#fbb,#fbb,#fbb,#fbb,#fbb,#fcc,#fcc,#fcc,#fdd,#fdd,#fee,#fdf9f8,#eef,#bbf,#77f,#33f,#00f,#33f,#88f,#ccf,#f7f7fe,#fee,#fee,#fee,#fdd,#fdd,#fcc,#fcc,#fcc,#fbb,#fbb,#fbb,#fbb,#fbb,#fcc,#fcc,#fcc,#fdd,#fdd,#fee,#fdf9f8,#ddf,#aaf,#66f,#22f,#11f,#44f,#88f,#ccf,#f7f7fe,#fee,#fee,#fee,#fdd,#fdd,#fcc,#fcc,#fcc,#fbb,#fbb)"></div><div style="height:4px;background:linear-gradient(90deg,#fbb,#fbb,#faa,#faa,#fbb,#fbb,#fbb,#fcc,#fcc,#fdd,#fdd,#fdf9f8,#ddf,#aaf,#66f,#33f,#11f,#22f,#77f,#bbf,#eef,#fee,#fee,#fee,#fdd,#fdd,#fcc,#fcc,#fbb,#fbb,#fbb,#faa,#faa,#fbb,#fbb,#fbb,#fcc,#fcc,#fdd,#fdd,#fdf9f8,#ddf,#aaf,#66f,#33f,#11f,#33f,#77f,#ccf,#eef,#fee,#fee,#fee,#fdd,#fdd,#fcc,#fcc,#fbb,#fbb,#fbb,#faa,#faa,#fbb,#fbb,#fbb,#fcc,#fcc,#fdd,#fee,#fdf9f8,#ddf,#aaf,#66f,#22f,#11f,#33f,#77f,#ccf,#eef,#fee,#fee,#fee,#fdd,#fdd,#fcc,#fcc,#fbb,#fbb,#fbb,#faa)"></div><div style="height:4px;background:linear-gradient(90deg,#faa,#faa,#faa,#faa,#faa,#fbb,#fbb,#fcc,#fcc,#fdd,#fee,#ddf,#aaf,#66f,#33f,#22f,#44f,#77f,#bbf,#eef,#fdf9f8,#fee,#fee,#fdd,#fdd,#fcc,#fcc,#fbb,#fbb,#faa,#faa,#faa,#faa,#faa,#fbb,#fbb,#fcc,#fcc,#fdd,#fdf9f8,#ddf,#aaf,#66f,#33f,#22f,#44f,#88f,#bbf,#eef,#fdf9f8,#fee,#fee,#fdd,#fdd,#fcc,#fcc,#fbb,#fbb,#faa,#faa,#faa,#faa,#faa,#fbb,#fbb,#fcc,#fdd,#fdd,#fdf9f8,#ddf,#99f,#66f,#33f,#22f,#44f,#88f,#bbf,#eef,#fee,#fee,#fdd,#fdd,#fdd,#fcc,#fbb,#fbb,#fbb,#faa,#faa,#faa)"></div><div style="height:4px;background:linear-gradient(90deg,#faa,#faa,#faa,#faa,#fbb,#fbb,#fcc,#fcc,#fdd,#fee,#ddf,#aaf,#66f,#44f,#33f,#55f,#99f,#ccf,#eef,#fdf9f8,#fee,#fee,#fdd,#fdd,#fcc,#fbb,#fbb,#faa,#faa,#faa,#faa,#faa,#faa,#fbb,#fbb,#fcc,#fcc,#fdd,#fee,#ddf,#99f,#66f,#33f,#44f,#66f,#99f,#ccf,#eef,#fdf9f8,#fee,#fee,#fdd,#fdd,#fcc,#fbb,#fbb,#faa,#faa,#faa,#faa,#faa,#faa,#fbb,#fbb,#fcc,#fcc,#fdd,#fee,#ddf,#99f,#66f,#33f,#44f,#66f,#99f,#ccf,#eef,#fdf9f8,#fee,#fee,#fdd,#fdd,#fcc,#fbb,#fbb,#faa,#faa,#faa,#faa,#faa)"></div><div style="height:4px;background:linear-gradient(90deg,#faa,#faa,#faa,#faa,#fbb,#fcc,#fcc,#fdd,#fee,#ddf,#99f,#55f,#44f,#55f,#77f,#aaf,#ddf,#eef,#fdf9f8,#fee,#fee,#fdd,#fdd,#fcc,#fcc,#fbb,#faa,#faa,#faa,#faa,#faa,#faa,#fbb,#fbb,#fcc,#fcc,#fdd,#fee,#ddf,#99f,#55f,#44f,#55f,#77f,#aaf,#ddf,#eef,#fdf9f8,#fee,#fee,#fdd,#fdd,#fcc,#fcc,#fbb,#faa,#faa,#faa,#faa,#faa,#faa,#fbb,#fbb,#fcc,#fcc,#fdd,#fee,#ddf,#99f,#55f,#44f,#55f,#88f,#bbf,#ddf,#f7f7fe,#fdf9f8,#fee,#fee,#fdd,#fdd,#fcc,#fbb,#fbb,#faa,#faa,#faa,#faa,#faa,#faa)"></div><div style="height:4px;background:linear-gradient(90deg,#faa,#faa,#fbb,#fbb,#fcc,#fcc,#fdd,#fee,#ddf,#99f,#55f,#33f,#55f,#88f,#bbf,#ddf,#f7f7fe,#fdf9f8,#fee,#fee,#fdd,#fdd,#fcc,#fcc,#fbb,#fbb,#faa,#faa,#faa,#faa,#faa,#fbb,#fbb,#fcc,#fcc,#fdd,#fdf9f8,#ccf,#88f,#44f,#33f,#66f,#99f,#bbf,#ddf,#f7f7fe,#fdf9f8,#fee,#fee,#fdd,#fdd,#fcc,#fcc,#fbb,#fbb,#faa,#faa,#faa,#faa,#faa,#fbb,#fbb,#fcc,#fcc,#fdd,#fdf9f8,#ccf,#88f,#44f,#33f,#66f,#99f,#ccf,#eef,#f7f7fe,#fdf9f8,#fee,#fee,#fdd,#fdd,#fcc,#fcc,#fbb,#fbb,#faa,#faa,#faa,#faa,#faa,#fbb)"></div><div style="height:4px;background:linear-gradient(90deg,#fbb,#fbb,#fbb,#fcc,#fcc,#fdd,#fee,#bbf,#44f,#11f,#22f,#55f,#99f,#ccf,#eef,#f7f7fe,#fdf9f8,#fee,#fee,#fee,#fdd,#fdd,#fcc,#fcc,#fbb,#fbb,#fbb,#faa,#fbb,#fbb,#fbb,#fbb,#fcc,#fcc,#fdd,#fee,#bbf,#44f,#11f,#22f,#55f,#99f,#ccf,#eef,#fbf9fc,#fdf9f8,#fee,#fee,#fee,#fdd,#fdd,#fcc,#fcc,#fbb,#fbb,#fbb,#faa,#fbb,#fbb,#fbb,#fcc,#fcc,#fdd,#fdd,#fdf9f8,#aaf,#44f,#11f,#22f,#55f,#99f,#ccf,#eef,#fbf9fc,#fdf9f8,#fee,#fee,#fdd,#fdd,#fdd,#fcc,#fcc,#fbb,#fbb,#fbb,#faa,#fbb,#fbb,#fbb,#fcc)"></div><div style="height:4px;background:linear-gradient(90deg,#fbb,#fcc,#fcc,#fdd,#fdd,#fee,#eef,#33f,#00f,#00f,#11f,#88f,#ccf,#eef,#fbf9fc,#fdf9f8,#fee,#fee,#fee,#fdd,#fdd,#fdd,#fcc,#fcc,#fbb,#fbb,#fbb,#fbb,#fbb,#fcc,#fcc,#fcc,#fdd,#fdd,#fee,#ddf,#22f,#00f,#00f,#22f,#88f,#ccf,#eef,#fbf9fc,#fdf9f8,#fee,#fee,#fee,#fdd,#fdd,#fcc,#fcc,#fcc,#fbb,#fbb,#fbb,#fbb,#fbb,#fcc,#fcc,#fcc,#fdd,#fdd,#fee,#ddf,#11f,#00f,#00f,#22f,#99f,#ddf,#eef,#fbf9fc,#fdf9f8,#fee,#fee,#fee,#fdd,#fdd,#fcc,#fcc,#fcc,#fbb,#fbb,#fbb,#fbb,#fbb,#fcc,#fcc,#fcc)"></div><div style="height:4px;background:linear-gradient(90deg,#fcc,#fdd,#fdd,#fdd,#fee,#fee,#ddf,#00f,#00f,#00f,#11f,#99f,#ddf,#eef,#fdf9f8,#fdf9f8,#fee,#fee,#fee,#fdd,#fdd,#fdd,#fcc,#fcc,#fcc,#fcc,#fcc,#fcc,#fcc,#fcc,#fdd,#fdd,#fdd,#fee,#fee,#ccf,#00f,#00f,#00f,#22f,#aaf,#ddf,#f7f7fe,#fdf9f8,#fdf9f8,#fee,#fee,#fee,#fdd,#fdd,#fcc,#fcc,#fcc,#fcc,#fcc,#fcc,#fcc,#fcc,#fcc,#fdd,#fdd,#fdd,#fee,#fee,#ccf,#00f,#00f,#00f,#33f,#aaf,#ddf,#f7f7fe,#fdf9f8,#fee,#fee,#fee,#fee,#fdd,#fdd,#fcc,#fcc,#fcc,#fcc,#fcc,#fcc,#fcc,#fcc,#fcc,#fdd,#fdd)"></div><div style="height:4px;background:linear-gradient(90deg,#fcc,#fdd,#fdd,#fee,#fee,#fee,#eef,#44f,#00f,#00f,#11f,#66f,#aaf,#ccf,#eef,#fbf9fc,#fee,#fee,#fee,#fdd,#fdd,#fcc,#fcc,#fcc,#fcc,#fcc,#fcc,#fcc,#fcc,#fcc,#fdd,#fdd,#fee,#fee,#fee,#ddf,#33f,#00f,#00f,#11f,#77f,#bbf,#ccf,#eef,#fbf9fc,#fee,#fee,#fee,#fdd,#fdd,#fcc,#fcc,#fcc,#fcc,#fcc,#fcc,#fcc,#fcc,#fcc,#fdd,#fdd,#fee,#fee,#fee,#ddf,#11f,#00f,#00f,#22f,#77f,#bbf,#ddf,#eef,#fdf9f8,#fee,#fee,#fee,#fdd,#fdd,#fcc,#fcc,#fcc,#fcc,#fcc,#fcc,#fcc,#fcc,#fcc,#fdd,#fdd)"></div><div style="height:4px;background:linear-gradient(90deg,#fbb,#fcc,#fcc,#fdd,#fdd,#fee,#f7f7fe,#bbf,#66f,#33f,#22f,#33f,#44f,#66f,#aaf,#ddf,#eef,#fbf9fc,#fee,#fdd,#fdd,#fcc,#fbb,#fbb,#fbb,#faa,#faa,#faa,#fbb,#fbb,#fcc,#fcc,#fdd,#fdd,#fee,#f7f7fe,#aaf,#55f,#33f,#22f,#33f,#44f,#66f,#aaf,#ddf,#eef,#fdf9f8,#fee,#fdd,#fcc,#fcc,#fbb,#fbb,#fbb,#faa,#faa,#fbb,#fbb,#fbb,#fcc,#fcc,#fdd,#fee,#fee,#eef,#aaf,#55f,#33f,#22f,#33f,#44f,#66f,#aaf,#ddf,#eef,#fdf9f8,#fee,#fdd,#fcc,#fcc,#fbb,#fbb,#fbb,#faa,#faa,#fbb,#fbb,#fbb,#fcc,#fcc)"></div><div style="height:4px;background:linear-gradient(90deg,#f99,#faa,#fbb,#fcc,#fdd,#fdd,#fdf9f8,#eef,#bbf,#88f,#55f,#22f,#00f,#00f,#22f,#77f,#aaf,#ccf,#eef,#fee,#fcc,#fbb,#faa,#f99,#f99,#f88,#f88,#f88,#f99,#f99,#faa,#fbb,#fcc,#fdd,#fee,#fdf9f8,#ddf,#bbf,#88f,#55f,#22f,#00f,#00f,#33f,#77f,#aaf,#ccf,#eef,#fee,#fcc,#fbb,#faa,#f99,#f99,#f88,#f88,#f88,#f99,#f99,#faa,#fbb,#fcc,#fdd,#fee,#fdf9f8,#ddf,#aaf,#88f,#44f,#22f,#00f,#00f,#33f,#88f,#aaf,#ddf,#f7f7fe,#fee,#fcc,#fbb,#faa,#f99,#f99,#f88,#f88,#f88,#f99,#f99,#faa,#fbb)"></div><div style="height:4px;background:linear-gradient(90deg,#f88,#f99,#faa,#fbb,#fcc,#fee,#f7f7fe,#ddf,#aaf,#99f,#77f,#55f,#11f,#00f,#00f,#33f,#66f,#99f,#ccf,#eef,#fdd,#fbb,#faa,#f99,#f88,#f77,#f77,#f77,#f77,#f88,#f99,#faa,#fbb,#fcc,#fee,#f7f7fe,#ccf,#aaf,#99f,#77f,#44f,#11f,#00f,#00f,#33f,#66f,#99f,#ccf,#f7f7fe,#fcc,#fbb,#faa,#f99,#f88,#f77,#f77,#f77,#f77,#f88,#f99,#faa,#fbb,#fdd,#fee,#eef,#ccf,#aaf,#99f,#77f,#44f,#11f,#00f,#00f,#33f,#77f,#99f,#ccf,#f7f7fe,#fcc,#faa,#f99,#f88,#f88,#f77,#f77,#f77,#f77,#f88,#f99,#faa)"></div><div style="height:4px;background:linear-gradient(90deg,#f99,#faa,#fbb,#fcc,#fee,#f7f7fe,#ddf,#bbf,#99f,#88f,#88f,#88f,#88f,#66f,#33f,#55f,#77f,#99f,#bbf,#ddf,#fdd,#fcc,#fbb,#faa,#f99,#f99,#f88,#f88,#f99,#f99,#faa,#fbb,#fcc,#fee,#eef,#ccf,#aaf,#88f,#88f,#88f,#88f,#77f,#55f,#33f,#55f,#77f,#99f,#ccf,#eef,#fdd,#fbb,#fbb,#faa,#f99,#f99,#f88,#f88,#f99,#f99,#faa,#fbb,#fdd,#fee,#eef,#ccf,#aaf,#88f,#88f,#88f,#88f,#77f,#55f,#33f,#66f,#77f,#99f,#ccf,#eef,#fdd,#fbb,#fbb,#faa,#f99,#f99,#f88,#f88,#f99,#f99,#faa,#fbb)"></div><div style="height:4px;background:linear-gradient(90deg,#fcc,#fdd,#fee,#fdf9f8,#eef,#ccf,#aaf,#88f,#88f,#99f,#aaf,#ccf,#ccf,#ccf,#bbf,#bbf,#ccf,#ccf,#ddf,#eef,#fee,#fdd,#fcc,#fcc,#fcc,#fcc,#fbb,#fcc,#fcc,#fcc,#fdd,#fee,#fdf9f8,#eef,#ccf,#aaf,#88f,#88f,#99f,#aaf,#ccf,#ccf,#ccf,#bbf,#bbf,#ccf,#ddf,#eef,#f7f7fe,#fee,#fdd,#fcc,#fcc,#fcc,#fcc,#fbb,#fcc,#fcc,#fcc,#fdd,#fee,#fbf9fc,#eef,#ccf,#aaf,#88f,#88f,#99f,#aaf,#ccf,#ccf,#ccf,#bbf,#bbf,#ccf,#ddf,#eef,#f7f7fe,#fee,#fdd,#fcc,#fcc,#fcc,#fcc,#fbb,#fcc,#fcc,#fcc,#fdd,#fee)"></div><div style="height:4px;background:linear-gradient(90deg,#fee,#fdf9f8,#eef,#ddf,#bbf,#aaf,#88f,#88f,#99f,#aaf,#ccf,#eef,#f7f7fe,#fbf9fc,#f7f7fe,#fbf9fc,#fdf9f8,#fdf9f8,#fee,#fee,#fee,#fee,#fee,#fee,#fee,#fee,#fee,#fee,#fee,#fee,#fbf9fc,#eef,#ddf,#bbf,#99f,#88f,#88f,#99f,#bbf,#ddf,#eef,#f7f7fe,#fbf9fc,#f7f7fe,#fbf9fc,#fdf9f8,#fdf9f8,#fee,#fee,#fee,#fee,#fee,#fee,#fee,#fee,#fee,#fee,#fee,#fee,#fbf9fc,#eef,#ddf,#bbf,#99f,#88f,#88f,#99f,#bbf,#ddf,#eef,#f7f7fe,#f7f7fe,#f7f7fe,#fbf9fc,#fdf9f8,#fdf9f8,#fee,#fee,#fee,#fee,#fee,#fee,#fee,#fee,#fee,#fee,#fee,#fee,#f7f7fe,#eef)"></div><div style="height:4px;background:linear-gradient(90deg,#eef,#eef,#ccf,#bbf,#99f,#88f,#88f,#88f,#aaf,#ccf,#eef,#fbf9fc,#fee,#fee,#fee,#fdd,#fdd,#fdd,#fdd,#fdd,#fdd,#fdd,#fee,#fee,#fee,#fee,#fdf9f8,#fdf9f8,#f7f7fe,#eef,#eef,#ccf,#bbf,#99f,#88f,#88f,#88f,#aaf,#ccf,#eef,#fbf9fc,#fee,#fee,#fee,#fdd,#fdd,#fdd,#fdd,#fdd,#fdd,#fdd,#fee,#fee,#fee,#fee,#fdf9f8,#fdf9f8,#f7f7fe,#eef,#ddf,#ccf,#bbf,#99f,#88f,#88f,#99f,#aaf,#ddf,#eef,#fdf9f8,#fee,#fee,#fee,#fdd,#fdd,#fdd,#fdd,#fdd,#fdd,#fdd,#fee,#fee,#fee,#fee,#fdf9f8,#fdf9f8,#f7f7fe,#eef,#ddf,#ccf)"></div><div style="height:4px;background:linear-gradient(90deg,#ddf,#ccf,#bbf,#99f,#88f,#88f,#88f,#aaf,#ccf,#eef,#fbf9fc,#fee,#fee,#fdd,#fdd,#fcc,#fcc,#fcc,#fcc,#fcc,#fcc,#fdd,#fdd,#fee,#fee,#fdf9f8,#fdf9f8,#f7f7fe,#eef,#ddf,#ccf,#bbf,#99f,#88f,#88f,#88f,#aaf,#ccf,#eef,#fbf9fc,#fee,#fee,#fdd,#fdd,#fcc,#fcc,#fcc,#fcc,#fcc,#fcc,#fdd,#fdd,#fee,#fee,#fdf9f8,#fdf9f8,#f7f7fe,#eef,#ddf,#ccf,#bbf,#99f,#88f,#88f,#88f,#aaf,#ccf,#eef,#fbf9fc,#fee,#fee,#fdd,#fdd,#fcc,#fcc,#fcc,#fcc,#fcc,#fcc,#fdd,#fdd,#fee,#fee,#fdf9f8,#fbf9fc,#f7f7fe,#eef,#ddf,#ccf,#aaf)"></div><div style="height:4px;background:linear-gradient(90deg,#ccf,#bbf,#99f,#88f,#88f,#88f,#99f,#bbf,#ddf,#f7f7fe,#fdf9f8,#fee,#fdd,#fdd,#fcc,#fbb,#fbb,#faa,#faa,#fbb,#fbb,#fcc,#fdd,#fdd,#fee,#fdf9f8,#fbf9fc,#eef,#ddf,#ccf,#bbf,#99f,#88f,#88f,#88f,#aaf,#ccf,#ddf,#f7f7fe,#fdf9f8,#fee,#fdd,#fdd,#fcc,#fbb,#fbb,#faa,#faa,#fbb,#fbb,#fcc,#fdd,#fdd,#fee,#fdf9f8,#f7f7fe,#eef,#ddf,#ccf,#bbf,#99f,#88f,#88f,#88f,#aaf,#ccf,#eef,#f7f7fe,#fdf9f8,#fee,#fdd,#fdd,#fcc,#fbb,#fbb,#faa,#faa,#fbb,#fbb,#fcc,#fdd,#fdd,#fee,#fdf9f8,#f7f7fe,#eef,#ddf,#ccf,#aaf,#99f)"></div><div style="height:4px;background:linear-gradient(90deg,#bbf,#99f,#88f,#88f,#88f,#99f,#bbf,#ddf,#eef,#fbf9fc,#fee,#fee,#fdd,#fcc,#fbb,#faa,#faa,#f99,#f99,#faa,#faa,#fbb,#fcc,#fdd,#fee,#fdf9f8,#eef,#ddf,#ccf,#bbf,#99f,#88f,#88f,#88f,#aaf,#bbf,#ddf,#eef,#fdf9f8,#fee,#fee,#fdd,#fcc,#fbb,#faa,#faa,#f99,#f99,#faa,#faa,#fbb,#fcc,#fdd,#fee,#fdf9f8,#eef,#ddf,#ccf,#bbf,#99f,#88f,#88f,#99f,#aaf,#bbf,#ddf,#eef,#fdf9f8,#fee,#fee,#fdd,#fcc,#fbb,#faa,#faa,#f99,#f99,#faa,#faa,#fbb,#fcc,#fdd,#fee,#fdf9f8,#eef,#ddf,#ccf,#aaf,#99f,#88f)"></div><div style="height:4px;background:linear-gradient(90deg,#aaf,#99f,#88f,#99f,#aaf,#bbf,#ccf,#eef,#f7f7fe,#fdf9f8,#fee,#fee,#fdd,#fcc,#fbb,#faa,#faa,#f99,#f99,#f99,#faa,#fbb,#fcc,#fdd,#fee,#fdf9f8,#eef,#ccf,#bbf,#aaf,#99f,#88f,#99f,#aaf,#bbf,#ddf,#eef,#f7f7fe,#fdf9f8,#fee,#fee,#fdd,#fcc,#fbb,#faa,#faa,#f99,#f99,#faa,#faa,#fbb,#fcc,#fdd,#fee,#fdf9f8,#eef,#ccf,#bbf,#99f,#99f,#88f,#99f,#aaf,#bbf,#ddf,#eef,#f7f7fe,#fdf9f8,#fee,#fee,#fdd,#fcc,#fbb,#faa,#f99,#f99,#f99,#faa,#faa,#fbb,#fcc,#fdd,#fee,#fbf9fc,#eef,#ccf,#bbf,#99f,#99f,#88f)"></div><div style="height:4px;background:linear-gradient(90deg,#99f,#99f,#99f,#aaf,#bbf,#ddf,#eef,#eef,#fbf9fc,#fdf9f8,#fee,#fee,#fdd,#fdd,#fcc,#fbb,#faa,#faa,#faa,#faa,#fbb,#fcc,#fcc,#fdd,#fee,#f7f7fe,#ddf,#bbf,#aaf,#99f,#99f,#99f,#aaf,#ccf,#ddf,#eef,#eef,#fbf9fc,#fdf9f8,#fee,#fee,#fdd,#fdd,#fcc,#fbb,#faa,#faa,#faa,#faa,#fbb,#fcc,#fdd,#fdd,#fee,#f7f7fe,#ddf,#bbf,#aaf,#99f,#99f,#99f,#aaf,#ccf,#ddf,#eef,#eef,#fbf9fc,#fdf9f8,#fee,#fee,#fdd,#fcc,#fcc,#fbb,#faa,#faa,#faa,#faa,#fbb,#fcc,#fdd,#fdd,#fee,#f7f7fe,#ddf,#bbf,#aaf,#99f,#99f,#99f)"></div><div style="height:4px;background:linear-gradient(90deg,#99f,#99f,#aaf,#ccf,#ddf,#eef,#eef,#f7f7fe,#fbf9fc,#fdf9f8,#fdf9f8,#fee,#fee,#fdd,#fdd,#fcc,#fbb,#fbb,#fbb,#fbb,#fcc,#fcc,#fdd,#fee,#fee,#f7f7fe,#ddf,#bbf,#99f,#99f,#aaf,#bbf,#ccf,#ddf,#eef,#eef,#f7f7fe,#fbf9fc,#fdf9f8,#fdf9f8,#fee,#fee,#fdd,#fdd,#fcc,#fbb,#fbb,#fbb,#fbb,#fcc,#fdd,#fdd,#fee,#fee,#eef,#ddf,#aaf,#99f,#99f,#aaf,#bbf,#ccf,#ddf,#eef,#eef,#f7f7fe,#fbf9fc,#fdf9f8,#fdf9f8,#fee,#fee,#fdd,#fcc,#fcc,#fbb,#fbb,#fbb,#fbb,#fcc,#fdd,#fdd,#fee,#fdf9f8,#eef,#ccf,#aaf,#99f,#99f,#aaf,#bbf)"></div><div style="height:4px;background:linear-gradient(90deg,#aaf,#bbf,#ccf,#ddf,#eef,#eef,#f7f7fe,#fbf9fc,#fbf9fc,#fdf9f8,#fdf9f8,#fdf9f8,#fee,#fee,#fdd,#fdd,#fdd,#fdd,#fdd,#fdd,#fdd,#fdd,#fee,#fee,#fdf9f8,#eef,#ddf,#bbf,#99f,#aaf,#bbf,#ccf,#ddf,#eef,#eef,#f7f7fe,#fbf9fc,#fbf9fc,#fdf9f8,#fdf9f8,#fee,#fee,#fee,#fdd,#fdd,#fdd,#fdd,#fdd,#fdd,#fdd,#fdd,#fee,#fee,#fdf9f8,#eef,#ddf,#bbf,#99f,#aaf,#bbf,#ccf,#ddf,#eef,#eef,#f7f7fe,#fbf9fc,#fbf9fc,#fdf9f8,#fdf9f8,#fee,#fee,#fee,#fdd,#fdd,#fdd,#fdd,#fdd,#fdd,#fdd,#fdd,#fee,#fee,#fdf9f8,#eef,#ccf,#aaf,#99f,#aaf,#bbf,#ccf)"></div></div></div><div class="hm" style="left:698.2px;top:1130.3px;width:473.4px;height:400.8px"><div style="position:absolute;left:-6.0px;top:-6.0px;width:485.4px;filter:blur(1.0px)"><div style="height:4px;background:linear-gradient(90deg,#fee,#fdd,#fdd,#fdd,#fee,#fee,#fee,#fee,#fee,#fdf9f8,#fdf9f8,#fdf9f8,#fbf9fc,#fbf9fc,#f7f7fe,#eef,#ddf,#ccf,#bbf,#bbf,#bbf,#ccf,#eef,#f7f7fe,#fbf9fc,#fdf9f8,#fee,#fee,#fee,#fee,#fdd,#fdd,#fdd,#fee,#fee,#fee,#fee,#fee,#fdf9f8,#fdf9f8,#fdf9f8,#fbf9fc,#f7f7fe,#f7f7fe,#eef,#ddf,#ccf,#bbf,#bbf,#bbf,#ddf,#eef,#f7f7fe,#fdf9f8,#fdf9f8,#fee,#fee,#fee,#fee,#fdd,#fdd,#fdd,#fee,#fee,#fee,#fee,#fee,#fdf9f8,#fdf9f8,#fdf9f8,#fbf9fc,#f7f7fe,#f7f7fe,#eef,#ddf,#ccf,#bbf,#bbf,#bbf,#ddf,#eef,#f7f7fe,#fdf9f8,#fdf9f8,#fee,#fee,#fee,#fee,#fdd,#fdd)"></div><div style="height:4px;background:linear-gradient(90deg,#fdd,#fdd,#fdd,#fdd,#fdd,#fdd,#fee,#fee,#fee,#fee,#fdf9f8,#fdf9f8,#fbf9fc,#fbf9fc,#f7f7fe,#eef,#ddf,#ccf,#bbf,#bbf,#bbf,#ccf,#ddf,#eef,#fdf9f8,#fee,#fee,#fee,#fdd,#fdd,#fdd,#fdd,#fdd,#fdd,#fdd,#fee,#fee,#fee,#fee,#fdf9f8,#fdf9f8,#fbf9fc,#fbf9fc,#f7f7fe,#eef,#ddf,#ccf,#bbf,#bbf,#bbf,#ccf,#eef,#f7f7fe,#fdf9f8,#fee,#fee,#fee,#fdd,#fdd,#fdd,#fdd,#fdd,#fdd,#fdd,#fee,#fee,#fee,#fdf9f8,#fdf9f8,#fdf9f8,#fbf9fc,#f7f7fe,#f7f7fe,#eef,#ddf,#ccf,#bbf,#bbf,#bbf,#ccf,#eef,#f7f7fe,#fdf9f8,#fee,#fee,#fee,#fdd,#fdd,#fdd,#fdd)"></div><div style="height:4px;background:linear-gradient(90deg,#fdd,#fcc,#fcc,#fcc,#fdd,#fdd,#fdd,#fee,#fee,#fee,#fdf9f8,#fdf9f8,#fdf9f8,#fbf9fc,#f7f7fe,#eef,#ddf,#ccf,#bbf,#aaf,#bbf,#ccf,#ddf,#eef,#fdf9f8,#fee,#fee,#fdd,#fdd,#fdd,#fcc,#fcc,#fcc,#fdd,#fdd,#fdd,#fee,#fee,#fee,#fdf9f8,#fdf9f8,#fdf9f8,#fbf9fc,#f7f7fe,#eef,#ddf,#ccf,#bbf,#aaf,#bbf,#ccf,#ddf,#f7f7fe,#fdf9f8,#fee,#fee,#fdd,#fdd,#fdd,#fcc,#fcc,#fcc,#fdd,#fdd,#fdd,#fee,#fee,#fee,#fdf9f8,#fdf9f8,#fbf9fc,#fbf9fc,#f7f7fe,#eef,#ddf,#ccf,#bbf,#aaf,#bbf,#ccf,#eef,#f7f7fe,#fdf9f8,#fee,#fee,#fdd,#fdd,#fdd,#fcc,#fcc)"></div><div style="height:4px;background:linear-gradient(90deg,#fcc,#fcc,#fcc,#fcc,#fcc,#fdd,#fdd,#fdd,#fee,#fee,#fdf9f8,#fdf9f8,#fdf9f8,#fbf9fc,#f7f7fe,#eef,#ddf,#ccf,#bbf,#aaf,#bbf,#ccf,#ddf,#eef,#fdf9f8,#fee,#fee,#fdd,#fdd,#fcc,#fcc,#fcc,#fcc,#fcc,#fdd,#fdd,#fee,#fee,#fee,#fdf9f8,#fdf9f8,#fdf9f8,#fbf9fc,#f7f7fe,#eef,#ddf,#ccf,#bbf,#aaf,#bbf,#ccf,#ddf,#eef,#fdf9f8,#fee,#fee,#fdd,#fdd,#fcc,#fcc,#fcc,#fcc,#fcc,#fdd,#fdd,#fee,#fee,#fee,#fdf9f8,#fdf9f8,#fdf9f8,#fbf9fc,#f7f7fe,#eef,#ddf,#ccf,#bbf,#aaf,#bbf,#ccf,#ddf,#f7f7fe,#fdf9f8,#fee,#fee,#fdd,#fdd,#fcc,#fcc,#fcc)"></div><div style="height:4px;background:linear-gradient(90deg,#fcc,#fcc,#fcc,#fcc,#fcc,#fcc,#fdd,#fdd,#fee,#fee,#fee,#fdf9f8,#fdf9f8,#fbf9fc,#f7f7fe,#eef,#eef,#ccf,#bbf,#aaf,#aaf,#bbf,#ddf,#eef,#fdf9f8,#fee,#fdd,#fdd,#fdd,#fcc,#fcc,#fcc,#fcc,#fcc,#fcc,#fdd,#fdd,#fee,#fee,#fdf9f8,#fdf9f8,#fdf9f8,#fbf9fc,#f7f7fe,#eef,#ddf,#ccf,#bbf,#aaf,#aaf,#bbf,#ddf,#eef,#fdf9f8,#fee,#fdd,#fdd,#fcc,#fcc,#fcc,#fcc,#fcc,#fcc,#fcc,#fdd,#fdd,#fee,#fee,#fdf9f8,#fdf9f8,#fdf9f8,#fbf9fc,#f7f7fe,#eef,#ddf,#ccf,#bbf,#aaf,#aaf,#ccf,#ddf,#eef,#fdf9f8,#fee,#fdd,#fdd,#fcc,#fcc,#fcc,#fcc)"></div><div style="height:4px;background:linear-gradient(90deg,#fcc,#fcc,#fcc,#fcc,#fcc,#fcc,#fdd,#fdd,#fee,#fee,#fee,#fdf9f8,#fdf9f8,#fbf9fc,#f7f7fe,#f7f7fe,#eef,#ddf,#bbf,#aaf,#aaf,#bbf,#ddf,#eef,#fdf9f8,#fee,#fdd,#fdd,#fcc,#fcc,#fcc,#fcc,#fcc,#fcc,#fcc,#fdd,#fdd,#fee,#fee,#fee,#fdf9f8,#fdf9f8,#fbf9fc,#f7f7fe,#eef,#eef,#ddf,#bbf,#aaf,#aaf,#bbf,#ddf,#eef,#fdf9f8,#fee,#fdd,#fdd,#fcc,#fcc,#fcc,#fcc,#fcc,#fcc,#fcc,#fdd,#fdd,#fee,#fee,#fdf9f8,#fdf9f8,#fdf9f8,#fbf9fc,#f7f7fe,#eef,#eef,#ccf,#bbf,#aaf,#aaf,#bbf,#ddf,#eef,#fdf9f8,#fee,#fdd,#fdd,#fcc,#fcc,#fcc,#fcc)"></div><div style="height:4px;background:linear-gradient(90deg,#fcc,#fcc,#fcc,#fcc,#fcc,#fcc,#fdd,#fdd,#fee,#fee,#fee,#fdf9f8,#fdf9f8,#fbf9fc,#fbf9fc,#f7f7fe,#eef,#ddf,#bbf,#aaf,#aaf,#bbf,#ccf,#eef,#fdf9f8,#fee,#fdd,#fdd,#fdd,#fcc,#fcc,#fcc,#fcc,#fcc,#fcc,#fdd,#fdd,#fee,#fee,#fee,#fdf9f8,#fdf9f8,#fbf9fc,#f7f7fe,#f7f7fe,#eef,#ddf,#bbf,#aaf,#aaf,#bbf,#ddf,#eef,#fdf9f8,#fee,#fdd,#fdd,#fcc,#fcc,#fcc,#fcc,#fcc,#fcc,#fcc,#fdd,#fdd,#fee,#fee,#fee,#fdf9f8,#fdf9f8,#fbf9fc,#f7f7fe,#f7f7fe,#eef,#ddf,#bbf,#aaf,#aaf,#bbf,#ddf,#eef,#fdf9f8,#fee,#fdd,#fdd,#fcc,#fcc,#fcc,#fcc)"></div><div style="height:4px;background:linear-gradient(90deg,#fcc,#fcc,#fcc,#fcc,#fcc,#fcc,#fdd,#fdd,#fee,#fee,#fee,#fdf9f8,#fdf9f8,#fdf9f8,#fbf9fc,#f7f7fe,#eef,#ddf,#bbf,#99f,#99f,#bbf,#ddf,#eef,#fdf9f8,#fee,#fee,#fdd,#fdd,#fcc,#fcc,#fcc,#fcc,#fcc,#fcc,#fdd,#fdd,#fee,#fee,#fee,#fdf9f8,#fdf9f8,#fdf9f8,#fbf9fc,#f7f7fe,#eef,#ccf,#aaf,#99f,#99f,#bbf,#ddf,#eef,#fdf9f8,#fee,#fdd,#fdd,#fdd,#fcc,#fcc,#fcc,#fcc,#fcc,#fcc,#fdd,#fdd,#fee,#fee,#fee,#fdf9f8,#fdf9f8,#fdf9f8,#fbf9fc,#f7f7fe,#eef,#ccf,#aaf,#99f,#99f,#bbf,#ddf,#eef,#fdf9f8,#fee,#fdd,#fdd,#fdd,#fcc,#fcc,#fcc)"></div><div style="height:4px;background:linear-gradient(90deg,#fcc,#fcc,#fcc,#fcc,#fcc,#fcc,#fdd,#fdd,#fee,#fee,#fee,#fdf9f8,#fdf9f8,#fdf9f8,#fbf9fc,#f7f7fe,#eef,#ccf,#aaf,#88f,#99f,#bbf,#ddf,#eef,#fdf9f8,#fee,#fee,#fdd,#fdd,#fcc,#fcc,#fcc,#fcc,#fcc,#fcc,#fdd,#fdd,#fee,#fee,#fee,#fdf9f8,#fdf9f8,#fdf9f8,#fbf9fc,#f7f7fe,#eef,#ccf,#aaf,#88f,#99f,#bbf,#ddf,#eef,#fdf9f8,#fee,#fee,#fdd,#fdd,#fcc,#fcc,#fcc,#fcc,#fcc,#fcc,#fdd,#fdd,#fee,#fee,#fee,#fdf9f8,#fdf9f8,#fdf9f8,#fbf9fc,#f7f7fe,#eef,#ccf,#aaf,#88f,#99f,#bbf,#ddf,#f7f7fe,#fdf9f8,#fee,#fdd,#fdd,#fdd,#fcc,#fcc,#fcc)"></div><div style="height:4px;background:linear-gradient(90deg,#fcc,#fcc,#fcc,#fcc,#fcc,#fcc,#fcc,#fdd,#fdd,#fee,#fee,#fee,#fdf9f8,#fdf9f8,#fdf9f8,#f7f7fe,#eef,#ccf,#99f,#88f,#88f,#bbf,#ddf,#f7f7fe,#fdf9f8,#fee,#fee,#fdd,#fdd,#fcc,#fcc,#fcc,#fcc,#fcc,#fcc,#fcc,#fdd,#fdd,#fee,#fee,#fee,#fdf9f8,#fdf9f8,#fdf9f8,#f7f7fe,#eef,#ccf,#99f,#77f,#88f,#bbf,#ddf,#f7f7fe,#fdf9f8,#fee,#fee,#fdd,#fdd,#fcc,#fcc,#fcc,#fcc,#fcc,#fcc,#fcc,#fdd,#fdd,#fee,#fee,#fee,#fdf9f8,#fdf9f8,#fbf9fc,#f7f7fe,#eef,#ccf,#99f,#77f,#99f,#bbf,#ddf,#f7f7fe,#fee,#fee,#fdd,#fdd,#fdd,#fcc,#fcc,#fcc)"></div><div style="height:4px;background:linear-gradient(90deg,#fcc,#fcc,#fbb,#fbb,#fbb,#fbb,#fcc,#fcc,#fdd,#fdd,#fee,#fee,#fee,#fdf9f8,#fdf9f8,#f7f7fe,#eef,#bbf,#99f,#77f,#88f,#bbf,#ddf,#f7f7fe,#fee,#fee,#fee,#fdd,#fcc,#fcc,#fcc,#fbb,#fbb,#fbb,#fbb,#fcc,#fcc,#fdd,#fdd,#fee,#fee,#fee,#fdf9f8,#fdf9f8,#f7f7fe,#ddf,#bbf,#88f,#77f,#88f,#bbf,#eef,#fbf9fc,#fee,#fee,#fdd,#fdd,#fcc,#fcc,#fcc,#fbb,#fbb,#fbb,#fbb,#fcc,#fcc,#fdd,#fdd,#fee,#fee,#fee,#fdf9f8,#fdf9f8,#f7f7fe,#ddf,#bbf,#88f,#77f,#88f,#bbf,#eef,#fbf9fc,#fee,#fee,#fdd,#fdd,#fcc,#fcc,#fcc,#fbb)"></div><div style="height:4px;background:linear-gradient(90deg,#fcc,#fbb,#fbb,#faa,#faa,#fbb,#fbb,#fbb,#fcc,#fdd,#fdd,#fee,#fee,#fee,#fdf9f8,#f7f7fe,#ddf,#99f,#66f,#66f,#88f,#bbf,#eef,#fdf9f8,#fee,#fee,#fdd,#fdd,#fcc,#fcc,#fbb,#fbb,#faa,#faa,#fbb,#fbb,#fcc,#fcc,#fdd,#fdd,#fee,#fee,#fee,#fdf9f8,#eef,#ccf,#99f,#66f,#66f,#88f,#ccf,#eef,#fdf9f8,#fee,#fee,#fdd,#fdd,#fcc,#fcc,#fbb,#fbb,#faa,#faa,#fbb,#fbb,#fcc,#fcc,#fdd,#fdd,#fee,#fee,#fee,#fdf9f8,#eef,#ccf,#99f,#66f,#66f,#88f,#ccf,#eef,#fdf9f8,#fee,#fee,#fdd,#fdd,#fcc,#fcc,#fbb,#fbb)"></div><div style="height:4px;background:linear-gradient(90deg,#fbb,#fbb,#faa,#faa,#f99,#faa,#faa,#faa,#fbb,#fcc,#fdd,#fdd,#fee,#fee,#fdf9f8,#eef,#bbf,#77f,#44f,#55f,#99f,#ccf,#eef,#fdf9f8,#fee,#fee,#fdd,#fdd,#fcc,#fbb,#fbb,#faa,#faa,#f99,#faa,#faa,#faa,#fbb,#fcc,#fdd,#fdd,#fee,#fee,#fdf9f8,#eef,#bbf,#66f,#44f,#55f,#99f,#ccf,#eef,#fdf9f8,#fee,#fee,#fdd,#fdd,#fcc,#fbb,#fbb,#faa,#faa,#f99,#faa,#faa,#fbb,#fbb,#fcc,#fdd,#fdd,#fee,#fee,#fdf9f8,#eef,#aaf,#66f,#44f,#66f,#99f,#ddf,#eef,#fdf9f8,#fee,#fee,#fdd,#fdd,#fcc,#fbb,#fbb,#faa)"></div><div style="height:4px;background:linear-gradient(90deg,#fbb,#faa,#f99,#f99,#f88,#f88,#f99,#f99,#faa,#fbb,#fcc,#fcc,#fdd,#fee,#fdf9f8,#ddf,#99f,#44f,#22f,#55f,#aaf,#ddf,#eef,#fdf9f8,#fdf9f8,#fee,#fdd,#fdd,#fcc,#fbb,#faa,#f99,#f99,#f88,#f88,#f99,#f99,#faa,#fbb,#fcc,#fdd,#fdd,#fee,#fbf9fc,#ddf,#88f,#44f,#33f,#66f,#aaf,#ddf,#f7f7fe,#fdf9f8,#fdf9f8,#fee,#fdd,#fdd,#fcc,#fbb,#faa,#f99,#f99,#f88,#f88,#f99,#f99,#faa,#fbb,#fcc,#fdd,#fdd,#fee,#fbf9fc,#ccf,#88f,#33f,#33f,#66f,#bbf,#ddf,#f7f7fe,#fdf9f8,#fee,#fee,#fdd,#fdd,#fcc,#fbb,#faa,#f99)"></div><div style="height:4px;background:linear-gradient(90deg,#fbb,#faa,#f99,#f88,#f77,#f77,#f77,#f88,#f99,#faa,#fbb,#fcc,#fdd,#fee,#f7f7fe,#bbf,#55f,#11f,#22f,#77f,#bbf,#eef,#f7f7fe,#f7f7fe,#f7f7fe,#fdf9f8,#fee,#fdd,#fcc,#fbb,#faa,#f99,#f88,#f77,#f77,#f77,#f88,#f99,#faa,#fbb,#fcc,#fdd,#fee,#eef,#bbf,#55f,#11f,#22f,#77f,#ccf,#eef,#f7f7fe,#f7f7fe,#f7f7fe,#fdf9f8,#fee,#fdd,#fcc,#fbb,#faa,#f99,#f88,#f77,#f77,#f77,#f88,#f99,#faa,#fbb,#fcc,#fdd,#fee,#eef,#aaf,#44f,#11f,#33f,#88f,#ccf,#eef,#f7f7fe,#f7f7fe,#fbf9fc,#fdf9f8,#fee,#fdd,#fcc,#fbb,#f99,#f99)"></div><div style="height:4px;background:linear-gradient(90deg,#fbb,#f99,#f88,#f77,#f77,#f66,#f66,#f77,#f77,#f88,#faa,#fbb,#fcc,#fee,#eef,#88f,#22f,#00f,#33f,#99f,#ddf,#eef,#eef,#eef,#eef,#eef,#fdf9f8,#fdd,#fcc,#fbb,#f99,#f88,#f77,#f77,#f66,#f66,#f77,#f88,#f99,#faa,#fbb,#fcc,#fee,#ddf,#88f,#22f,#00f,#33f,#99f,#ddf,#eef,#eef,#eef,#eef,#eef,#fdf9f8,#fdd,#fcc,#faa,#f99,#f88,#f77,#f66,#f66,#f66,#f77,#f88,#f99,#faa,#fbb,#fcc,#fee,#ddf,#77f,#11f,#00f,#44f,#99f,#ddf,#eef,#eef,#eef,#eef,#eef,#fdf9f8,#fdd,#fcc,#faa,#f99,#f88)"></div><div style="height:4px;background:linear-gradient(90deg,#fbb,#f99,#f88,#f77,#f66,#f55,#f55,#f66,#f66,#f77,#f99,#faa,#fbb,#fee,#ccf,#55f,#00f,#00f,#55f,#bbf,#eef,#eef,#eef,#ccf,#bbf,#bbf,#ddf,#fdf9f8,#fcc,#fbb,#f99,#f88,#f77,#f66,#f55,#f55,#f66,#f66,#f77,#f99,#faa,#fcc,#fee,#bbf,#55f,#00f,#00f,#66f,#bbf,#eef,#eef,#eef,#ccf,#bbf,#bbf,#ddf,#fee,#fcc,#fbb,#f99,#f88,#f77,#f66,#f55,#f55,#f66,#f66,#f88,#f99,#faa,#fcc,#fdf9f8,#bbf,#44f,#00f,#11f,#66f,#bbf,#eef,#eef,#eef,#ccf,#bbf,#bbf,#ddf,#fee,#fcc,#fbb,#f99,#f88)"></div><div style="height:4px;background:linear-gradient(90deg,#fbb,#faa,#f88,#f77,#f66,#f55,#f55,#f55,#f55,#f66,#f88,#f99,#fbb,#f7f7fe,#99f,#33f,#00f,#33f,#88f,#ddf,#eef,#eef,#ddf,#bbf,#88f,#77f,#99f,#ddf,#fee,#fbb,#faa,#f88,#f77,#f66,#f55,#f55,#f55,#f55,#f66,#f88,#f99,#fcc,#eef,#99f,#33f,#00f,#44f,#99f,#ddf,#eef,#eef,#ddf,#aaf,#88f,#77f,#99f,#ddf,#fdd,#fbb,#f99,#f88,#f77,#f66,#f55,#f55,#f55,#f55,#f77,#f88,#f99,#fcc,#eef,#88f,#22f,#11f,#44f,#99f,#ddf,#f7f7fe,#eef,#ddf,#aaf,#88f,#77f,#aaf,#ddf,#fdd,#fbb,#f99,#f88)"></div><div style="height:4px;background:linear-gradient(90deg,#fcc,#faa,#f99,#f77,#f66,#f55,#f44,#f44,#f55,#f66,#f77,#f99,#fcc,#ddf,#66f,#22f,#22f,#77f,#ccf,#eef,#f7f7fe,#f7f7fe,#ddf,#99f,#55f,#22f,#44f,#99f,#eef,#fcc,#faa,#f88,#f77,#f66,#f55,#f44,#f44,#f55,#f66,#f77,#f99,#fcc,#ccf,#66f,#22f,#33f,#77f,#ccf,#eef,#f7f7fe,#eef,#ddf,#99f,#55f,#22f,#55f,#aaf,#f7f7fe,#fcc,#faa,#f88,#f77,#f66,#f55,#f44,#f44,#f55,#f66,#f77,#f99,#fdd,#ccf,#55f,#22f,#33f,#88f,#ccf,#eef,#f7f7fe,#eef,#ccf,#99f,#44f,#22f,#55f,#aaf,#fbf9fc,#fcc,#faa,#f88)"></div><div style="height:4px;background:linear-gradient(90deg,#fee,#fbb,#f99,#f88,#f66,#f55,#f44,#f44,#f55,#f55,#f77,#f99,#fdd,#aaf,#55f,#33f,#66f,#bbf,#eef,#fbf9fc,#fdf9f8,#f7f7fe,#ddf,#99f,#33f,#00f,#00f,#66f,#ccf,#fdd,#fbb,#f99,#f77,#f66,#f55,#f44,#f44,#f55,#f55,#f77,#f99,#fee,#aaf,#44f,#33f,#66f,#bbf,#eef,#fbf9fc,#fdf9f8,#f7f7fe,#ddf,#99f,#33f,#00f,#00f,#66f,#ccf,#fdd,#fbb,#f99,#f77,#f66,#f55,#f44,#f44,#f55,#f55,#f77,#faa,#fee,#99f,#44f,#33f,#77f,#bbf,#eef,#fbf9fc,#fdf9f8,#f7f7fe,#ccf,#88f,#22f,#00f,#11f,#77f,#ddf,#fdd,#faa,#f99)"></div><div style="height:4px;background:linear-gradient(90deg,#fbf9fc,#fcc,#faa,#f88,#f77,#f66,#f55,#f55,#f55,#f55,#f77,#faa,#eef,#88f,#44f,#55f,#aaf,#ddf,#fbf9fc,#fdf9f8,#fdf9f8,#fbf9fc,#eef,#aaf,#44f,#00f,#00f,#33f,#aaf,#fdf9f8,#fcc,#faa,#f88,#f77,#f66,#f55,#f55,#f55,#f66,#f77,#fbb,#eef,#88f,#44f,#66f,#aaf,#eef,#fdf9f8,#fee,#fdf9f8,#fbf9fc,#ddf,#aaf,#44f,#00f,#00f,#44f,#bbf,#fee,#fbb,#faa,#f88,#f77,#f66,#f55,#f55,#f55,#f66,#f77,#fbb,#ddf,#77f,#44f,#66f,#aaf,#eef,#fdf9f8,#fee,#fdf9f8,#f7f7fe,#ddf,#99f,#33f,#00f,#00f,#55f,#bbf,#fee,#fbb,#f99)"></div><div style="height:4px;background:linear-gradient(90deg,#eef,#fcc,#fbb,#f99,#f88,#f77,#f66,#f55,#f55,#f66,#f99,#fdd,#ccf,#77f,#66f,#99f,#ddf,#fdf9f8,#fee,#fee,#fee,#fdf9f8,#eef,#ccf,#77f,#22f,#11f,#44f,#aaf,#f7f7fe,#fcc,#faa,#f99,#f88,#f77,#f66,#f55,#f66,#f66,#f99,#fdd,#bbf,#66f,#66f,#99f,#ddf,#fdf9f8,#fee,#fee,#fee,#fdf9f8,#eef,#ccf,#77f,#22f,#11f,#44f,#aaf,#fbf9fc,#fcc,#faa,#f99,#f88,#f77,#f66,#f55,#f66,#f77,#f99,#fee,#bbf,#66f,#66f,#aaf,#ddf,#fdf9f8,#fee,#fee,#fee,#fdf9f8,#eef,#bbf,#66f,#22f,#11f,#55f,#bbf,#fdf9f8,#fcc,#faa)"></div><div style="height:4px;background:linear-gradient(90deg,#eef,#fdd,#fbb,#faa,#f99,#f88,#f77,#f77,#f77,#f88,#fbb,#eef,#99f,#77f,#99f,#ccf,#fdf9f8,#fee,#fee,#fee,#fee,#fee,#fdf9f8,#eef,#bbf,#77f,#55f,#77f,#bbf,#f7f7fe,#fdd,#fbb,#faa,#f99,#f88,#f77,#f77,#f77,#f88,#fcc,#ddf,#88f,#77f,#99f,#ddf,#fdf9f8,#fee,#fee,#fee,#fee,#fee,#fdf9f8,#eef,#aaf,#77f,#55f,#77f,#bbf,#f7f7fe,#fdd,#fbb,#faa,#f99,#f88,#f77,#f77,#f77,#f88,#fcc,#ddf,#88f,#77f,#99f,#ddf,#fee,#fee,#fee,#fee,#fee,#fee,#fdf9f8,#ddf,#aaf,#66f,#55f,#77f,#bbf,#fdf9f8,#fcc,#fbb)"></div><div style="height:4px;background:linear-gradient(90deg,#fbf9fc,#fdd,#fcc,#fbb,#faa,#f99,#f88,#f88,#f99,#fbb,#fbf9fc,#aaf,#77f,#88f,#ccf,#fdf9f8,#fdd,#fdd,#fdd,#fdd,#fee,#fee,#fee,#fdf9f8,#eef,#bbf,#aaf,#aaf,#ddf,#fdf9f8,#fdd,#fcc,#fbb,#faa,#f99,#f88,#f88,#f99,#fbb,#f7f7fe,#aaf,#77f,#99f,#ccf,#fdf9f8,#fdd,#fdd,#fdd,#fdd,#fee,#fee,#fee,#fdf9f8,#ddf,#bbf,#aaf,#aaf,#ddf,#fdf9f8,#fdd,#fcc,#fbb,#faa,#f99,#f88,#f88,#f99,#fbb,#eef,#99f,#77f,#99f,#ccf,#fee,#fdd,#fdd,#fdd,#fdd,#fee,#fee,#fee,#fbf9fc,#ddf,#bbf,#aaf,#bbf,#ddf,#fee,#fdd,#fcc)"></div><div style="height:4px;background:linear-gradient(90deg,#fee,#fdd,#fcc,#fcc,#fbb,#faa,#faa,#faa,#fbb,#fdf9f8,#bbf,#88f,#88f,#bbf,#f7f7fe,#fdd,#fcc,#fcc,#fdd,#fdd,#fdd,#fdd,#fdd,#fee,#fee,#eef,#eef,#eef,#f7f7fe,#fee,#fdd,#fcc,#fcc,#fbb,#faa,#faa,#faa,#fbb,#fbf9fc,#aaf,#77f,#88f,#bbf,#fbf9fc,#fdd,#fcc,#fdd,#fdd,#fdd,#fdd,#fdd,#fdd,#fee,#fdf9f8,#eef,#eef,#eef,#f7f7fe,#fee,#fdd,#fcc,#fcc,#fbb,#faa,#faa,#faa,#fcc,#f7f7fe,#aaf,#77f,#88f,#ccf,#fdf9f8,#fdd,#fcc,#fdd,#fdd,#fdd,#fdd,#fdd,#fdd,#fee,#fdf9f8,#eef,#ddf,#eef,#f7f7fe,#fee,#fdd,#fcc)"></div><div style="height:4px;background:linear-gradient(90deg,#fdd,#fdd,#fdd,#fcc,#fcc,#fbb,#fbb,#fcc,#fdf9f8,#bbf,#77f,#77f,#aaf,#eef,#fdd,#fcc,#fcc,#fcc,#fcc,#fdd,#fdd,#fdd,#fdd,#fdd,#fdd,#fee,#fee,#fee,#fee,#fdd,#fdd,#fdd,#fcc,#fcc,#fbb,#fbb,#fcc,#f7f7fe,#bbf,#77f,#77f,#aaf,#eef,#fdd,#fcc,#fcc,#fcc,#fcc,#fdd,#fdd,#fdd,#fdd,#fdd,#fdd,#fee,#fee,#fee,#fee,#fdd,#fdd,#fdd,#fcc,#fcc,#fbb,#fbb,#fdd,#f7f7fe,#aaf,#77f,#77f,#bbf,#f7f7fe,#fdd,#fcc,#fcc,#fcc,#fcc,#fdd,#fdd,#fdd,#fdd,#fdd,#fdd,#fee,#fee,#fee,#fee,#fdd,#fdd,#fcc)"></div><div style="height:4px;background:linear-gradient(90deg,#fdd,#fdd,#fdd,#fdd,#fcc,#fcc,#fdd,#f7f7fe,#bbf,#77f,#66f,#99f,#ddf,#fee,#fcc,#fbb,#fbb,#fbb,#fcc,#fcc,#fcc,#fcc,#fdd,#fdd,#fdd,#fdd,#fdd,#fdd,#fdd,#fdd,#fdd,#fdd,#fdd,#fcc,#fdd,#fdd,#eef,#bbf,#77f,#66f,#99f,#ddf,#fdd,#fcc,#fbb,#fbb,#fbb,#fcc,#fcc,#fcc,#fcc,#fdd,#fdd,#fdd,#fdd,#fdd,#fdd,#fdd,#fdd,#fdd,#fdd,#fdd,#fcc,#fdd,#fdd,#eef,#aaf,#77f,#66f,#99f,#eef,#fdd,#fcc,#fbb,#fbb,#fbb,#fcc,#fcc,#fcc,#fcc,#fdd,#fdd,#fdd,#fdd,#fdd,#fdd,#fdd,#fdd,#fdd,#fdd)"></div><div style="height:4px;background:linear-gradient(90deg,#fdd,#fdd,#fdd,#fdd,#fdd,#fee,#eef,#bbf,#77f,#55f,#77f,#bbf,#fee,#fcc,#fbb,#fbb,#fbb,#fbb,#fbb,#fcc,#fcc,#fcc,#fcc,#fcc,#fcc,#fcc,#fcc,#fcc,#fdd,#fdd,#fdd,#fdd,#fdd,#fdd,#fee,#eef,#bbf,#77f,#55f,#77f,#ccf,#fee,#fcc,#fbb,#fbb,#fbb,#fbb,#fbb,#fcc,#fcc,#fcc,#fcc,#fcc,#fcc,#fcc,#fcc,#fcc,#fdd,#fdd,#fdd,#fdd,#fdd,#fdd,#fee,#eef,#aaf,#66f,#55f,#77f,#ccf,#fee,#fcc,#fbb,#faa,#fbb,#fbb,#fbb,#fcc,#fcc,#fcc,#fcc,#fcc,#fcc,#fcc,#fcc,#fcc,#fdd,#fdd,#fdd,#fdd)"></div><div style="height:4px;background:linear-gradient(90deg,#fdd,#fdd,#fdd,#fdd,#fee,#eef,#bbf,#77f,#44f,#55f,#99f,#eef,#fcc,#fbb,#faa,#faa,#faa,#faa,#fbb,#fbb,#fcc,#fcc,#fcc,#fcc,#fcc,#fcc,#fcc,#fcc,#fcc,#fdd,#fdd,#fdd,#fdd,#fee,#eef,#bbf,#77f,#44f,#55f,#aaf,#eef,#fcc,#fbb,#faa,#faa,#faa,#faa,#fbb,#fbb,#fcc,#fcc,#fcc,#fcc,#fcc,#fcc,#fcc,#fcc,#fcc,#fdd,#fdd,#fdd,#fee,#fee,#eef,#aaf,#66f,#44f,#66f,#aaf,#f7f7fe,#fcc,#fbb,#faa,#faa,#faa,#faa,#fbb,#fbb,#fcc,#fcc,#fcc,#fcc,#fcc,#fcc,#fcc,#fcc,#fcc,#fdd,#fdd,#fdd)"></div><div style="height:4px;background:linear-gradient(90deg,#fdd,#fdd,#fee,#fee,#eef,#bbf,#77f,#44f,#44f,#77f,#ddf,#fdd,#fbb,#faa,#f99,#f99,#f99,#faa,#faa,#fbb,#fbb,#fcc,#fcc,#fcc,#fcc,#fcc,#fcc,#fcc,#fdd,#fdd,#fdd,#fee,#fee,#eef,#bbf,#77f,#44f,#44f,#88f,#ddf,#fdd,#fbb,#faa,#f99,#f99,#f99,#faa,#faa,#fbb,#fbb,#fcc,#fcc,#fcc,#fcc,#fcc,#fcc,#fcc,#fdd,#fdd,#fdd,#fee,#fee,#eef,#bbf,#77f,#44f,#44f,#88f,#ddf,#fdd,#fbb,#faa,#f99,#f99,#f99,#faa,#faa,#fbb,#fcc,#fcc,#fcc,#fcc,#fcc,#fcc,#fcc,#fcc,#fdd,#fdd,#fdd,#fee)"></div><div style="height:4px;background:linear-gradient(90deg,#fdd,#fee,#fdf9f8,#eef,#ccf,#88f,#44f,#33f,#66f,#bbf,#fdf9f8,#fbb,#faa,#f99,#f88,#f88,#f88,#f99,#faa,#fbb,#fbb,#fcc,#fcc,#fdd,#fdd,#fdd,#fdd,#fdd,#fdd,#fdd,#fee,#fdf9f8,#eef,#bbf,#77f,#44f,#33f,#66f,#bbf,#fee,#fbb,#faa,#f99,#f88,#f88,#f88,#f99,#faa,#fbb,#fcc,#fcc,#fcc,#fdd,#fdd,#fdd,#fdd,#fdd,#fdd,#fdd,#fee,#fdf9f8,#eef,#bbf,#77f,#33f,#33f,#77f,#ccf,#fee,#fbb,#faa,#f99,#f88,#f88,#f88,#f99,#faa,#fbb,#fcc,#fcc,#fcc,#fdd,#fdd,#fdd,#fdd,#fdd,#fdd,#fee,#fee,#fdf9f8)"></div><div style="height:4px;background:linear-gradient(90deg,#fdf9f8,#f7f7fe,#ddf,#bbf,#88f,#44f,#22f,#44f,#99f,#eef,#fcc,#faa,#f88,#f88,#f77,#f77,#f88,#f99,#faa,#fbb,#fcc,#fcc,#fdd,#fdd,#fdd,#fdd,#fdd,#fee,#fee,#fdf9f8,#eef,#ddf,#bbf,#77f,#33f,#22f,#44f,#99f,#f7f7fe,#fcc,#faa,#f88,#f77,#f77,#f77,#f88,#f99,#faa,#fbb,#fcc,#fcc,#fdd,#fdd,#fdd,#fdd,#fdd,#fee,#fee,#fdf9f8,#eef,#ddf,#bbf,#77f,#33f,#22f,#55f,#aaf,#f7f7fe,#fcc,#faa,#f88,#f77,#f77,#f77,#f88,#f99,#faa,#fbb,#fcc,#fcc,#fdd,#fdd,#fdd,#fdd,#fdd,#fee,#fee,#fdf9f8,#eef,#ddf)"></div><div style="height:4px;background:linear-gradient(90deg,#eef,#ccf,#aaf,#77f,#33f,#11f,#22f,#77f,#ddf,#fdd,#faa,#f88,#f77,#f66,#f66,#f66,#f77,#f88,#faa,#fbb,#fcc,#fdd,#fdd,#fdd,#fee,#fee,#fdf9f8,#f7f7fe,#eef,#ddf,#ccf,#99f,#66f,#33f,#11f,#33f,#88f,#ddf,#fdd,#faa,#f88,#f77,#f66,#f66,#f66,#f77,#f99,#faa,#fbb,#fcc,#fdd,#fdd,#fee,#fee,#fee,#fdf9f8,#f7f7fe,#eef,#ddf,#ccf,#99f,#66f,#33f,#11f,#33f,#88f,#eef,#fcc,#faa,#f88,#f77,#f66,#f66,#f66,#f77,#f99,#faa,#fbb,#fcc,#fdd,#fdd,#fee,#fee,#fee,#fdf9f8,#f7f7fe,#eef,#ddf,#ccf,#99f)"></div><div style="height:4px;background:linear-gradient(90deg,#bbf,#99f,#55f,#11f,#00f,#00f,#55f,#bbf,#fee,#fbb,#f99,#f77,#f66,#f55,#f55,#f66,#f77,#f99,#faa,#fbb,#fdd,#fdd,#fee,#fee,#fbf9fc,#eef,#ddf,#ddf,#ccf,#bbf,#99f,#55f,#11f,#00f,#11f,#55f,#bbf,#fee,#fbb,#f88,#f77,#f66,#f55,#f55,#f66,#f77,#f99,#faa,#fcc,#fdd,#fdd,#fee,#fdf9f8,#f7f7fe,#eef,#ddf,#ddf,#ccf,#bbf,#99f,#44f,#11f,#00f,#11f,#66f,#ccf,#fdd,#faa,#f88,#f77,#f66,#f55,#f55,#f66,#f77,#f99,#faa,#fcc,#fdd,#fdd,#fee,#fdf9f8,#f7f7fe,#eef,#ddf,#ddf,#ccf,#bbf,#88f,#44f)"></div><div style="height:4px;background:linear-gradient(90deg,#99f,#66f,#11f,#00f,#00f,#33f,#99f,#f7f7fe,#fcc,#f99,#f77,#f55,#f44,#f44,#f55,#f66,#f77,#f99,#fbb,#fcc,#fdd,#fee,#f7f7fe,#eef,#ddf,#ccf,#bbf,#aaf,#aaf,#99f,#66f,#11f,#00f,#00f,#33f,#99f,#fbf9fc,#fbb,#f99,#f77,#f55,#f44,#f44,#f55,#f66,#f77,#f99,#fbb,#fcc,#fdd,#fee,#f7f7fe,#eef,#ddf,#ccf,#bbf,#aaf,#aaf,#99f,#66f,#00f,#00f,#00f,#44f,#aaf,#fdf9f8,#fbb,#f99,#f77,#f55,#f44,#f44,#f55,#f66,#f88,#f99,#fbb,#fcc,#fdd,#fee,#f7f7fe,#eef,#ddf,#ccf,#bbf,#aaf,#aaf,#88f,#55f,#00f)"></div><div style="height:4px;background:linear-gradient(90deg,#88f,#44f,#00f,#00f,#00f,#66f,#ddf,#fdd,#faa,#f77,#f66,#f44,#f44,#f44,#f44,#f66,#f88,#faa,#fcc,#fdd,#fee,#eef,#ddf,#ccf,#bbf,#aaf,#99f,#99f,#99f,#77f,#44f,#00f,#00f,#00f,#77f,#ddf,#fcc,#f99,#f77,#f55,#f44,#f44,#f44,#f55,#f66,#f88,#faa,#fcc,#fdd,#fdf9f8,#eef,#ddf,#ccf,#bbf,#aaf,#99f,#99f,#99f,#77f,#33f,#00f,#00f,#11f,#88f,#eef,#fcc,#f99,#f77,#f55,#f44,#f33,#f44,#f55,#f66,#f88,#faa,#fcc,#fdd,#fdf9f8,#eef,#ddf,#ccf,#bbf,#aaf,#99f,#99f,#99f,#77f,#33f,#00f)"></div><div style="height:4px;background:linear-gradient(90deg,#77f,#33f,#00f,#00f,#33f,#bbf,#fee,#fbb,#f88,#f66,#f44,#f33,#f33,#f44,#f55,#f77,#f99,#fbb,#fdd,#fdf9f8,#eef,#ccf,#bbf,#aaf,#99f,#99f,#99f,#99f,#99f,#77f,#22f,#00f,#00f,#44f,#bbf,#fee,#faa,#f88,#f66,#f44,#f33,#f33,#f44,#f55,#f77,#f99,#fbb,#fdd,#fdf9f8,#eef,#ccf,#bbf,#aaf,#99f,#99f,#99f,#99f,#99f,#66f,#22f,#00f,#00f,#55f,#ccf,#fdd,#faa,#f88,#f66,#f44,#f33,#f33,#f44,#f55,#f77,#f99,#fbb,#fdd,#fdf9f8,#eef,#ccf,#bbf,#aaf,#99f,#99f,#99f,#99f,#99f,#66f,#11f,#00f)"></div><div style="height:4px;background:linear-gradient(90deg,#66f,#11f,#00f,#11f,#88f,#eef,#fcc,#f99,#f77,#f55,#f44,#f33,#f33,#f44,#f66,#f88,#faa,#fcc,#fee,#ddf,#ccf,#bbf,#aaf,#99f,#99f,#99f,#aaf,#aaf,#99f,#66f,#11f,#00f,#11f,#88f,#f7f7fe,#fbb,#f99,#f77,#f55,#f44,#f33,#f33,#f44,#f66,#f88,#faa,#fcc,#fdf9f8,#ddf,#ccf,#aaf,#99f,#99f,#99f,#99f,#aaf,#aaf,#99f,#66f,#11f,#00f,#22f,#99f,#fdf9f8,#fbb,#f99,#f77,#f55,#f44,#f33,#f33,#f44,#f66,#f88,#faa,#fcc,#fdf9f8,#ddf,#ccf,#aaf,#99f,#99f,#99f,#99f,#aaf,#aaf,#99f,#55f,#00f,#00f)"></div><div style="height:4px;background:linear-gradient(90deg,#66f,#11f,#00f,#55f,#ccf,#fdd,#faa,#f88,#f66,#f55,#f33,#f33,#f44,#f55,#f77,#f99,#fbb,#fee,#eef,#bbf,#aaf,#99f,#99f,#99f,#aaf,#bbf,#bbf,#ccf,#aaf,#55f,#00f,#00f,#66f,#ccf,#fdd,#faa,#f88,#f66,#f44,#f33,#f33,#f44,#f55,#f77,#f99,#fbb,#fee,#eef,#bbf,#aaf,#99f,#99f,#99f,#aaf,#bbf,#bbf,#ccf,#aaf,#55f,#00f,#11f,#66f,#ddf,#fdd,#faa,#f88,#f66,#f44,#f33,#f33,#f44,#f55,#f77,#f99,#fcc,#fee,#ddf,#bbf,#aaf,#99f,#99f,#99f,#aaf,#bbf,#ccf,#ccf,#99f,#44f,#00f,#11f)"></div><div style="height:4px;background:linear-gradient(90deg,#44f,#00f,#33f,#99f,#f7f7fe,#fcc,#f99,#f77,#f66,#f44,#f44,#f44,#f55,#f66,#f88,#fbb,#fdd,#eef,#ccf,#aaf,#99f,#99f,#aaf,#bbf,#bbf,#ccf,#ddf,#ccf,#99f,#33f,#00f,#33f,#99f,#fbf9fc,#fbb,#f99,#f77,#f66,#f44,#f44,#f44,#f55,#f77,#f99,#fbb,#fdd,#eef,#ccf,#aaf,#99f,#99f,#aaf,#bbf,#bbf,#ccf,#ddf,#ccf,#99f,#33f,#00f,#44f,#aaf,#fdf9f8,#fbb,#f99,#f77,#f55,#f44,#f44,#f44,#f55,#f77,#f99,#fbb,#fdd,#eef,#ccf,#aaf,#99f,#99f,#aaf,#bbf,#ccf,#ccf,#ddf,#ccf,#88f,#33f,#00f,#44f)"></div><div style="height:4px;background:linear-gradient(90deg,#22f,#00f,#55f,#ccf,#fdd,#fbb,#f99,#f77,#f66,#f55,#f55,#f55,#f66,#f88,#faa,#fcc,#fbf9fc,#ddf,#bbf,#aaf,#aaf,#bbf,#bbf,#ccf,#ddf,#eef,#eef,#ccf,#88f,#22f,#00f,#66f,#ddf,#fdd,#fbb,#f99,#f77,#f66,#f55,#f55,#f55,#f66,#f88,#faa,#fdd,#f7f7fe,#ccf,#bbf,#aaf,#aaf,#bbf,#bbf,#ccf,#ddf,#eef,#eef,#ccf,#77f,#11f,#11f,#66f,#ddf,#fdd,#faa,#f99,#f77,#f66,#f55,#f55,#f55,#f77,#f88,#faa,#fdd,#f7f7fe,#ccf,#aaf,#aaf,#aaf,#bbf,#ccf,#ccf,#ddf,#eef,#eef,#ccf,#66f,#11f,#11f,#77f)"></div><div style="height:4px;background:linear-gradient(90deg,#00f,#11f,#88f,#eef,#fcc,#faa,#f99,#f77,#f66,#f66,#f66,#f77,#f88,#faa,#fcc,#fee,#ddf,#bbf,#aaf,#aaf,#bbf,#ccf,#ddf,#eef,#eef,#eef,#eef,#bbf,#55f,#00f,#11f,#88f,#eef,#fcc,#faa,#f88,#f77,#f66,#f66,#f66,#f77,#f88,#faa,#fcc,#fdf9f8,#ddf,#bbf,#aaf,#aaf,#bbf,#ccf,#ddf,#eef,#eef,#eef,#eef,#bbf,#55f,#00f,#22f,#99f,#f7f7fe,#fcc,#faa,#f88,#f77,#f66,#f66,#f66,#f77,#f88,#faa,#fcc,#fdf9f8,#ddf,#bbf,#aaf,#aaf,#ccf,#ccf,#ddf,#eef,#eef,#eef,#eef,#aaf,#44f,#00f,#22f,#99f)"></div><div style="height:4px;background:linear-gradient(90deg,#00f,#33f,#aaf,#fdf9f8,#fcc,#faa,#f99,#f88,#f77,#f77,#f77,#f88,#faa,#fcc,#fee,#eef,#ccf,#bbf,#bbf,#ccf,#ddf,#eef,#eef,#f7f7fe,#f7f7fe,#f7f7fe,#ddf,#99f,#33f,#00f,#33f,#bbf,#fee,#fcc,#faa,#f99,#f88,#f77,#f77,#f77,#f88,#faa,#fcc,#fee,#eef,#ccf,#bbf,#bbf,#ccf,#ddf,#eef,#eef,#f7f7fe,#f7f7fe,#f7f7fe,#ddf,#99f,#22f,#00f,#44f,#bbf,#fee,#fbb,#faa,#f99,#f77,#f77,#f77,#f77,#f88,#faa,#fcc,#fee,#ddf,#ccf,#bbf,#bbf,#ccf,#ddf,#eef,#eef,#f7f7fe,#f7f7fe,#f7f7fe,#ddf,#88f,#22f,#00f,#44f,#ccf)"></div><div style="height:4px;background:linear-gradient(90deg,#00f,#55f,#ccf,#fee,#fcc,#faa,#f99,#f88,#f88,#f88,#f99,#faa,#fbb,#fdd,#eef,#ddf,#bbf,#bbf,#ccf,#ddf,#eef,#f7f7fe,#f7f7fe,#fbf9fc,#fbf9fc,#f7f7fe,#ddf,#88f,#11f,#00f,#66f,#ddf,#fdd,#fbb,#faa,#f99,#f88,#f88,#f88,#f99,#faa,#fcc,#fee,#eef,#ccf,#bbf,#bbf,#ccf,#ddf,#eef,#f7f7fe,#f7f7fe,#fbf9fc,#fbf9fc,#f7f7fe,#ddf,#77f,#00f,#00f,#66f,#ddf,#fdd,#fbb,#faa,#f99,#f88,#f88,#f88,#f99,#faa,#fcc,#fee,#eef,#ccf,#bbf,#bbf,#ccf,#ddf,#eef,#f7f7fe,#f7f7fe,#fbf9fc,#fbf9fc,#f7f7fe,#ccf,#66f,#00f,#00f,#77f,#ddf)"></div><div style="height:4px;background:linear-gradient(90deg,#11f,#77f,#eef,#fdd,#fcc,#fbb,#faa,#f99,#f99,#f99,#faa,#fbb,#fdd,#fdf9f8,#ddf,#ccf,#ccf,#ddf,#ddf,#eef,#f7f7fe,#fbf9fc,#fdf9f8,#fdf9f8,#fdf9f8,#f7f7fe,#ddf,#88f,#22f,#22f,#88f,#eef,#fdd,#fbb,#faa,#faa,#f99,#f99,#f99,#faa,#fbb,#fdd,#fbf9fc,#ddf,#ccf,#ccf,#ddf,#ddf,#eef,#f7f7fe,#fbf9fc,#fdf9f8,#fdf9f8,#fdf9f8,#f7f7fe,#ccf,#77f,#22f,#22f,#99f,#eef,#fdd,#fbb,#faa,#faa,#f99,#f99,#f99,#faa,#fcc,#fdd,#f7f7fe,#ddf,#ccf,#ccf,#ddf,#ddf,#eef,#f7f7fe,#fdf9f8,#fdf9f8,#fdf9f8,#fdf9f8,#f7f7fe,#ccf,#77f,#22f,#22f,#99f,#f7f7fe)"></div><div style="height:4px;background:linear-gradient(90deg,#55f,#aaf,#fbf9fc,#fdd,#fcc,#fbb,#faa,#faa,#faa,#faa,#fbb,#fcc,#fee,#eef,#ddf,#ddf,#eef,#eef,#eef,#eef,#f7f7fe,#fdf9f8,#fdf9f8,#fdf9f8,#fdf9f8,#f7f7fe,#ccf,#88f,#44f,#55f,#bbf,#fdf9f8,#fdd,#fcc,#fbb,#faa,#faa,#faa,#faa,#fbb,#fdd,#fee,#eef,#ddf,#ddf,#eef,#eef,#eef,#eef,#f7f7fe,#fdf9f8,#fdf9f8,#fdf9f8,#fdf9f8,#f7f7fe,#ccf,#77f,#44f,#66f,#bbf,#fdf9f8,#fdd,#fcc,#fbb,#faa,#faa,#faa,#faa,#fbb,#fdd,#fee,#eef,#ddf,#ddf,#eef,#eef,#eef,#eef,#f7f7fe,#fdf9f8,#fdf9f8,#fdf9f8,#fdf9f8,#eef,#ccf,#77f,#44f,#66f,#ccf,#fee)"></div><div style="height:4px;background:linear-gradient(90deg,#88f,#ddf,#fee,#fdd,#fcc,#fcc,#fbb,#fbb,#fbb,#fbb,#fbb,#fdd,#fdf9f8,#f7f7fe,#eef,#f7f7fe,#fdf9f8,#fbf9fc,#eef,#ddf,#eef,#f7f7fe,#fdf9f8,#fee,#fdf9f8,#f7f7fe,#ccf,#88f,#66f,#88f,#ddf,#fee,#fdd,#fcc,#fcc,#fbb,#fbb,#fbb,#fbb,#fcc,#fdd,#fdf9f8,#f7f7fe,#eef,#f7f7fe,#fdf9f8,#fbf9fc,#eef,#ddf,#eef,#f7f7fe,#fdf9f8,#fee,#fdf9f8,#f7f7fe,#ccf,#88f,#66f,#99f,#ddf,#fee,#fdd,#fcc,#fcc,#fbb,#fbb,#fbb,#fbb,#fcc,#fdd,#fdf9f8,#eef,#eef,#f7f7fe,#fdf9f8,#f7f7fe,#eef,#ddf,#eef,#fbf9fc,#fdf9f8,#fee,#fdf9f8,#eef,#bbf,#88f,#66f,#99f,#eef,#fee)"></div><div style="height:4px;background:linear-gradient(90deg,#aaf,#eef,#fee,#fdd,#fdd,#fcc,#fcc,#fbb,#fbb,#fbb,#fbb,#fcc,#fee,#fee,#fee,#fdd,#fee,#fbf9fc,#ddf,#bbf,#ccf,#eef,#fdf9f8,#fee,#fee,#fbf9fc,#ddf,#99f,#88f,#bbf,#eef,#fee,#fdd,#fdd,#fcc,#fcc,#fbb,#fbb,#fbb,#fbb,#fcc,#fee,#fee,#fee,#fdd,#fee,#f7f7fe,#ddf,#bbf,#ccf,#eef,#fdf9f8,#fee,#fee,#f7f7fe,#ccf,#99f,#88f,#bbf,#eef,#fee,#fdd,#fdd,#fcc,#fcc,#fbb,#fbb,#fbb,#fbb,#fcc,#fee,#fee,#fee,#fdd,#fee,#f7f7fe,#ccf,#bbf,#ccf,#f7f7fe,#fdf9f8,#fee,#fee,#f7f7fe,#ccf,#99f,#88f,#bbf,#f7f7fe,#fee)"></div><div style="height:4px;background:linear-gradient(90deg,#ccf,#eef,#f7f7fe,#fdf9f8,#fee,#fdd,#fcc,#fcc,#fbb,#faa,#faa,#fbb,#fcc,#fcc,#fcc,#fcc,#fee,#ddf,#bbf,#99f,#bbf,#eef,#fee,#fee,#fee,#fdf9f8,#eef,#ccf,#bbf,#ccf,#eef,#f7f7fe,#fdf9f8,#fee,#fdd,#fcc,#fcc,#fbb,#faa,#faa,#fbb,#fcc,#fcc,#fcc,#fcc,#fee,#ddf,#aaf,#99f,#bbf,#eef,#fee,#fee,#fee,#fdf9f8,#eef,#bbf,#bbf,#ddf,#eef,#f7f7fe,#fdf9f8,#fdd,#fdd,#fcc,#fcc,#fbb,#faa,#faa,#fbb,#fcc,#fcc,#fcc,#fcc,#fee,#ddf,#aaf,#99f,#bbf,#eef,#fee,#fee,#fee,#fdf9f8,#eef,#bbf,#bbf,#ddf,#eef,#f7f7fe)"></div><div style="height:4px;background:linear-gradient(90deg,#ddf,#ddf,#bbf,#ccf,#eef,#fdd,#fcc,#fbb,#fbb,#faa,#f99,#f99,#f99,#faa,#faa,#fcc,#f7f7fe,#aaf,#77f,#88f,#bbf,#eef,#fee,#fee,#fee,#fee,#fdf9f8,#eef,#ddf,#ddf,#ccf,#bbf,#ccf,#f7f7fe,#fdd,#fcc,#fbb,#faa,#faa,#f99,#f99,#f99,#faa,#faa,#fcc,#eef,#aaf,#77f,#88f,#bbf,#eef,#fee,#fee,#fee,#fee,#fdf9f8,#eef,#ddf,#ddf,#ccf,#bbf,#ccf,#f7f7fe,#fdd,#fcc,#fbb,#faa,#f99,#f99,#f99,#f99,#faa,#faa,#fcc,#eef,#aaf,#77f,#99f,#ccf,#f7f7fe,#fee,#fee,#fee,#fee,#fbf9fc,#eef,#ddf,#ddf,#ccf,#bbf)"></div><div style="height:4px;background:linear-gradient(90deg,#eef,#aaf,#55f,#66f,#bbf,#fee,#fcc,#fbb,#faa,#f88,#f77,#f77,#f77,#f88,#faa,#fdd,#ccf,#55f,#44f,#88f,#ccf,#fdf9f8,#fee,#fdd,#fdd,#fdd,#fee,#fee,#fbf9fc,#ddf,#99f,#55f,#77f,#ccf,#fee,#fcc,#fbb,#faa,#f88,#f77,#f77,#f77,#f88,#faa,#fdd,#bbf,#55f,#55f,#88f,#ddf,#fdf9f8,#fee,#fdd,#fdd,#fdd,#fee,#fee,#f7f7fe,#ddf,#99f,#55f,#77f,#ccf,#fee,#fcc,#fbb,#faa,#f88,#f77,#f77,#f77,#f88,#faa,#fee,#bbf,#55f,#55f,#99f,#ddf,#fdf9f8,#fdd,#fdd,#fdd,#fee,#fee,#fdf9f8,#f7f7fe,#ddf,#88f,#55f)"></div><div style="height:4px;background:linear-gradient(90deg,#ddf,#88f,#22f,#33f,#aaf,#fdf9f8,#fcc,#faa,#f99,#f77,#f66,#f66,#f66,#f88,#faa,#f7f7fe,#88f,#22f,#33f,#99f,#eef,#fee,#fdd,#fdd,#fdd,#fdd,#fdd,#fee,#fee,#ddf,#77f,#22f,#33f,#aaf,#fee,#fcc,#faa,#f99,#f77,#f66,#f66,#f66,#f88,#fbb,#eef,#77f,#22f,#33f,#99f,#eef,#fee,#fdd,#fdd,#fdd,#fdd,#fdd,#fee,#fdf9f8,#ddf,#77f,#11f,#44f,#bbf,#fee,#fcc,#faa,#f99,#f77,#f66,#f66,#f77,#f88,#fbb,#eef,#77f,#22f,#33f,#aaf,#eef,#fee,#fdd,#fdd,#fdd,#fdd,#fdd,#fee,#fdf9f8,#ccf,#66f,#11f)"></div><div style="height:4px;background:linear-gradient(90deg,#eef,#99f,#44f,#55f,#bbf,#fee,#fbb,#faa,#f88,#f77,#f66,#f66,#f77,#f99,#fdd,#bbf,#44f,#11f,#44f,#bbf,#fdf9f8,#fdd,#fcc,#fcc,#fcc,#fdd,#fdd,#fdd,#fee,#eef,#99f,#44f,#55f,#bbf,#fee,#fbb,#faa,#f88,#f77,#f66,#f66,#f77,#f99,#fdd,#aaf,#44f,#11f,#55f,#bbf,#fee,#fdd,#fcc,#fcc,#fcc,#fdd,#fdd,#fdd,#fee,#ddf,#88f,#44f,#66f,#ccf,#fdd,#fbb,#f99,#f88,#f77,#f66,#f66,#f77,#f99,#fee,#99f,#33f,#22f,#55f,#ccf,#fee,#fdd,#fcc,#fcc,#fcc,#fdd,#fdd,#fdd,#fee,#ddf,#88f,#44f)"></div><div style="height:4px;background:linear-gradient(90deg,#fbf9fc,#ccf,#aaf,#aaf,#eef,#fdd,#fbb,#f99,#f88,#f77,#f66,#f66,#f88,#fbb,#ddf,#66f,#22f,#33f,#88f,#ddf,#fdd,#fcc,#fcc,#fcc,#fcc,#fcc,#fdd,#fdd,#fee,#f7f7fe,#ccf,#99f,#aaf,#eef,#fdd,#fbb,#f99,#f88,#f77,#f66,#f66,#f88,#fbb,#ddf,#66f,#22f,#33f,#99f,#eef,#fdd,#fcc,#fcc,#fcc,#fcc,#fcc,#fdd,#fdd,#fee,#f7f7fe,#ccf,#99f,#bbf,#eef,#fcc,#fbb,#f99,#f88,#f66,#f66,#f66,#f88,#fcc,#ccf,#55f,#22f,#44f,#99f,#eef,#fdd,#fcc,#fcc,#fcc,#fcc,#fcc,#fdd,#fdd,#fee,#eef,#bbf,#99f)"></div><div style="height:4px;background:linear-gradient(90deg,#fee,#f7f7fe,#eef,#eef,#fee,#fcc,#fbb,#f99,#f88,#f77,#f77,#f88,#faa,#fbf9fc,#88f,#33f,#22f,#66f,#ccf,#fee,#fcc,#fbb,#fbb,#fbb,#fbb,#fcc,#fcc,#fdd,#fdd,#fee,#f7f7fe,#eef,#eef,#fee,#fcc,#faa,#f99,#f88,#f77,#f77,#f88,#faa,#f7f7fe,#88f,#22f,#22f,#77f,#ccf,#fee,#fcc,#fbb,#fbb,#fbb,#fbb,#fcc,#fcc,#fdd,#fee,#fee,#f7f7fe,#eef,#f7f7fe,#fee,#fcc,#faa,#f99,#f88,#f77,#f77,#f88,#fbb,#eef,#77f,#22f,#22f,#77f,#ddf,#fee,#fcc,#fbb,#fbb,#fbb,#fbb,#fcc,#fcc,#fdd,#fee,#fee,#eef,#eef)"></div><div style="height:4px;background:linear-gradient(90deg,#fee,#fee,#fee,#fee,#fdd,#fcc,#fbb,#f99,#f88,#f88,#f88,#faa,#fee,#aaf,#44f,#11f,#44f,#aaf,#f7f7fe,#fcc,#fbb,#faa,#faa,#faa,#fbb,#fbb,#fcc,#fdd,#fdd,#fee,#fee,#fee,#fee,#fdd,#fcc,#faa,#f99,#f88,#f88,#f88,#faa,#fee,#aaf,#44f,#11f,#55f,#aaf,#fdf9f8,#fcc,#fbb,#faa,#faa,#faa,#fbb,#fbb,#fcc,#fdd,#fdd,#fee,#fee,#fee,#fee,#fdd,#fcc,#faa,#f99,#f88,#f88,#f88,#faa,#fee,#99f,#33f,#11f,#55f,#bbf,#fdf9f8,#fcc,#fbb,#faa,#faa,#faa,#fbb,#fbb,#fcc,#fdd,#fdd,#fee,#fee,#fee)"></div><div style="height:4px;background:linear-gradient(90deg,#fee,#fee,#fee,#fdd,#fdd,#fcc,#fbb,#faa,#f99,#f99,#faa,#fdd,#ccf,#55f,#11f,#22f,#88f,#ddf,#fdd,#fbb,#faa,#faa,#faa,#faa,#faa,#fbb,#fcc,#fdd,#fdd,#fee,#fee,#fee,#fdd,#fdd,#fcc,#fbb,#faa,#f99,#f99,#faa,#fdd,#bbf,#55f,#11f,#33f,#88f,#eef,#fdd,#fbb,#faa,#faa,#faa,#faa,#faa,#fbb,#fcc,#fdd,#fdd,#fee,#fee,#fee,#fdd,#fdd,#fcc,#fbb,#faa,#f99,#f99,#fbb,#fee,#bbf,#44f,#11f,#33f,#99f,#eef,#fdd,#fbb,#faa,#faa,#faa,#faa,#faa,#fbb,#fcc,#fdd,#fdd,#fee,#fee,#fee)"></div><div style="height:4px;background:linear-gradient(90deg,#fee,#fee,#fee,#fee,#fdd,#fcc,#fcc,#fbb,#fbb,#fbb,#fdd,#ddf,#77f,#22f,#11f,#55f,#bbf,#fee,#fcc,#fbb,#faa,#f99,#f99,#faa,#faa,#fbb,#fcc,#fdd,#fdd,#fee,#fee,#fee,#fdd,#fdd,#fcc,#fbb,#fbb,#fbb,#fbb,#fdd,#ddf,#66f,#11f,#11f,#66f,#ccf,#fee,#fcc,#faa,#faa,#f99,#f99,#faa,#faa,#fbb,#fcc,#fdd,#fdd,#fee,#fee,#fee,#fdd,#fdd,#fcc,#fbb,#fbb,#fbb,#fbb,#fdd,#ccf,#66f,#11f,#11f,#66f,#ccf,#fee,#fcc,#faa,#faa,#f99,#f99,#faa,#faa,#fbb,#fcc,#fdd,#fdd,#fee,#fee,#fee)"></div><div style="height:4px;background:linear-gradient(90deg,#fee,#fee,#fee,#fee,#fdd,#fdd,#fcc,#fcc,#fcc,#fdd,#eef,#88f,#33f,#00f,#33f,#99f,#eef,#fdd,#fbb,#faa,#f99,#f99,#f99,#f99,#faa,#fbb,#fcc,#fdd,#fdd,#fee,#fee,#fee,#fee,#fdd,#fdd,#fcc,#fcc,#fcc,#fdd,#ddf,#88f,#22f,#00f,#44f,#aaf,#f7f7fe,#fdd,#fbb,#faa,#f99,#f99,#f99,#f99,#faa,#fbb,#fcc,#fdd,#fdd,#fee,#fee,#fee,#fee,#fdd,#fdd,#fcc,#fcc,#fcc,#fdd,#ddf,#77f,#22f,#00f,#44f,#aaf,#f7f7fe,#fcc,#fbb,#faa,#f99,#f99,#f99,#f99,#faa,#fbb,#fcc,#fdd,#fdd,#fee,#fee,#fee)"></div><div style="height:4px;background:linear-gradient(90deg,#fee,#fee,#fee,#fee,#fee,#fdd,#fdd,#fdd,#fee,#eef,#aaf,#44f,#00f,#11f,#77f,#ccf,#fee,#fcc,#fbb,#faa,#f99,#f99,#f99,#f99,#faa,#fbb,#fcc,#fdd,#fdd,#fee,#fee,#fee,#fee,#fee,#fdd,#fdd,#fdd,#fee,#eef,#99f,#33f,#00f,#22f,#77f,#ddf,#fee,#fcc,#fbb,#faa,#f99,#f99,#f99,#f99,#faa,#fbb,#fcc,#fdd,#fdd,#fee,#fee,#fee,#fee,#fee,#fdd,#fdd,#fdd,#fee,#eef,#99f,#33f,#00f,#22f,#88f,#ddf,#fee,#fcc,#fbb,#faa,#f99,#f99,#f99,#f99,#faa,#fbb,#fcc,#fdd,#fee,#fee,#fee,#fee)"></div><div style="height:4px;background:linear-gradient(90deg,#fee,#fee,#fee,#fee,#fee,#fee,#fee,#fee,#fbf9fc,#bbf,#66f,#11f,#00f,#44f,#aaf,#f7f7fe,#fdd,#fcc,#faa,#faa,#f99,#f99,#f99,#f99,#faa,#fbb,#fcc,#fdd,#fee,#fee,#fee,#fee,#fee,#fee,#fee,#fee,#fee,#f7f7fe,#bbf,#55f,#00f,#00f,#55f,#bbf,#f7f7fe,#fdd,#fbb,#faa,#faa,#f99,#f99,#f99,#faa,#faa,#fbb,#fcc,#fdd,#fee,#fee,#fee,#fee,#fee,#fee,#fee,#fee,#fee,#f7f7fe,#aaf,#55f,#00f,#00f,#55f,#bbf,#fdf9f8,#fdd,#fbb,#faa,#f99,#f99,#f99,#f99,#faa,#faa,#fbb,#fcc,#fdd,#fee,#fee,#fee,#fee)"></div><div style="height:4px;background:linear-gradient(90deg,#fee,#fee,#fee,#fee,#fee,#fee,#fee,#fdf9f8,#ddf,#99f,#22f,#00f,#22f,#88f,#ddf,#fee,#fcc,#fbb,#faa,#faa,#f99,#f99,#f99,#faa,#fbb,#fcc,#fcc,#fdd,#fee,#fee,#fee,#fee,#fee,#fee,#fee,#fee,#fdf9f8,#ddf,#88f,#11f,#00f,#22f,#88f,#ddf,#fee,#fcc,#fbb,#faa,#faa,#f99,#f99,#f99,#faa,#fbb,#fcc,#fcc,#fdd,#fee,#fee,#fee,#fee,#fee,#fee,#fee,#fee,#fdf9f8,#ddf,#77f,#11f,#00f,#33f,#99f,#eef,#fee,#fcc,#fbb,#faa,#faa,#f99,#f99,#f99,#faa,#fbb,#fcc,#fdd,#fdd,#fee,#fee,#fee,#fee)"></div><div style="height:4px;background:linear-gradient(90deg,#fee,#fee,#fee,#fee,#fee,#fee,#fee,#f7f7fe,#ccf,#77f,#11f,#00f,#66f,#bbf,#f7f7fe,#fdd,#fcc,#fbb,#fbb,#faa,#f99,#f99,#faa,#faa,#fbb,#fcc,#fdd,#fdd,#fee,#fee,#fee,#fee,#fee,#fee,#fee,#fee,#f7f7fe,#ccf,#66f,#11f,#11f,#66f,#ccf,#fbf9fc,#fdd,#fcc,#fbb,#fbb,#faa,#f99,#f99,#faa,#faa,#fbb,#fcc,#fdd,#fdd,#fee,#fee,#fee,#fee,#fee,#fee,#fee,#fee,#eef,#bbf,#66f,#00f,#11f,#77f,#ccf,#fdf9f8,#fdd,#fcc,#fbb,#faa,#faa,#f99,#f99,#faa,#faa,#fbb,#fcc,#fdd,#fee,#fee,#fee,#fee,#fee)"></div><div style="height:4px;background:linear-gradient(90deg,#fee,#fee,#fee,#fee,#fee,#fee,#fdf9f8,#eef,#bbf,#66f,#33f,#44f,#99f,#ddf,#fee,#fdd,#fcc,#fcc,#fbb,#faa,#faa,#faa,#faa,#fbb,#fcc,#fcc,#fdd,#fee,#fee,#fee,#fee,#fee,#fee,#fee,#fee,#fdf9f8,#eef,#aaf,#66f,#33f,#55f,#aaf,#eef,#fee,#fdd,#fcc,#fcc,#fbb,#faa,#faa,#faa,#faa,#fbb,#fcc,#fcc,#fdd,#fee,#fee,#fee,#fee,#fee,#fee,#fee,#fee,#fdf9f8,#eef,#aaf,#55f,#33f,#55f,#aaf,#eef,#fee,#fdd,#fcc,#fcc,#fbb,#faa,#faa,#faa,#faa,#fbb,#fcc,#fdd,#fdd,#fee,#fee,#fee,#fee,#fee)"></div><div style="height:4px;background:linear-gradient(90deg,#fee,#fee,#fee,#fee,#fee,#fee,#fdf9f8,#ddf,#aaf,#77f,#66f,#88f,#ccf,#f7f7fe,#fee,#fdd,#fdd,#fcc,#fbb,#fbb,#fbb,#fbb,#fbb,#fcc,#fcc,#fdd,#fdd,#fee,#fee,#fee,#fee,#fee,#fee,#fee,#fee,#fbf9fc,#ddf,#aaf,#66f,#66f,#99f,#ccf,#f7f7fe,#fee,#fdd,#fdd,#fcc,#fbb,#fbb,#fbb,#fbb,#fbb,#fcc,#fcc,#fdd,#fdd,#fee,#fee,#fee,#fee,#fee,#fee,#fee,#fee,#fbf9fc,#ddf,#aaf,#66f,#66f,#99f,#ddf,#fbf9fc,#fee,#fdd,#fdd,#fcc,#fbb,#fbb,#fbb,#fbb,#fbb,#fcc,#fcc,#fdd,#fdd,#fee,#fee,#fee,#fee,#fee)"></div><div style="height:4px;background:linear-gradient(90deg,#fee,#fee,#fee,#fee,#fee,#fee,#fdf9f8,#ddf,#aaf,#99f,#99f,#ccf,#eef,#fdf9f8,#fee,#fee,#fdd,#fdd,#fcc,#fcc,#fcc,#fcc,#fcc,#fcc,#fdd,#fdd,#fee,#fee,#fee,#fee,#fee,#fee,#fee,#fee,#fee,#fbf9fc,#ddf,#aaf,#88f,#99f,#ccf,#eef,#fdf9f8,#fee,#fee,#fdd,#fdd,#fcc,#fcc,#fcc,#fcc,#fcc,#fcc,#fdd,#fdd,#fee,#fee,#fee,#fee,#fee,#fee,#fee,#fee,#fee,#f7f7fe,#ddf,#aaf,#88f,#99f,#ccf,#eef,#fdf9f8,#fee,#fee,#fdd,#fdd,#fcc,#fcc,#fcc,#fcc,#fcc,#fcc,#fdd,#fdd,#fee,#fee,#fee,#fee,#fee,#fee)"></div><div style="height:4px;background:linear-gradient(90deg,#fee,#fee,#fee,#fee,#fee,#fee,#fdf9f8,#ddf,#bbf,#aaf,#ccf,#ddf,#f7f7fe,#fdf9f8,#fdf9f8,#fee,#fee,#fee,#fdd,#fdd,#fdd,#fdd,#fdd,#fdd,#fdd,#fee,#fee,#fee,#fee,#fee,#fee,#fee,#fee,#fee,#fee,#fdf9f8,#ddf,#bbf,#bbf,#ccf,#eef,#f7f7fe,#fdf9f8,#fdf9f8,#fee,#fee,#fee,#fdd,#fdd,#fdd,#fdd,#fdd,#fdd,#fdd,#fee,#fee,#fee,#fee,#fee,#fee,#fee,#fee,#fee,#fee,#fdf9f8,#ddf,#bbf,#bbf,#ccf,#eef,#f7f7fe,#fdf9f8,#fdf9f8,#fee,#fee,#fee,#fdd,#fdd,#fdd,#fdd,#fdd,#fdd,#fdd,#fee,#fee,#fee,#fee,#fee,#fee,#fee)"></div><div style="height:4px;background:linear-gradient(90deg,#fee,#fdd,#fdd,#fdd,#fdd,#fee,#fee,#eef,#ddf,#ccf,#ddf,#eef,#f7f7fe,#f7f7fe,#f7f7fe,#f7f7fe,#fbf9fc,#fdf9f8,#fee,#fee,#fee,#fee,#fee,#fee,#fee,#fee,#fee,#fee,#fee,#fee,#fdd,#fdd,#fdd,#fdd,#fee,#fee,#eef,#ddf,#ccf,#eef,#eef,#f7f7fe,#f7f7fe,#f7f7fe,#f7f7fe,#fdf9f8,#fdf9f8,#fee,#fee,#fee,#fee,#fee,#fee,#fee,#fee,#fee,#fee,#fee,#fee,#fdd,#fdd,#fdd,#fdd,#fee,#fee,#eef,#ccf,#ccf,#eef,#eef,#f7f7fe,#f7f7fe,#f7f7fe,#fbf9fc,#fdf9f8,#fdf9f8,#fee,#fee,#fee,#fee,#fee,#fee,#fee,#fee,#fee,#fee,#fee,#fee,#fdd,#fdd)"></div><div style="height:4px;background:linear-gradient(90deg,#fdd,#fdd,#fdd,#fdd,#fdd,#fdd,#fee,#fdf9f8,#eef,#eef,#eef,#eef,#eef,#eef,#eef,#eef,#eef,#eef,#eef,#f7f7fe,#fdf9f8,#fdf9f8,#fee,#fee,#fee,#fee,#fee,#fee,#fdd,#fdd,#fdd,#fdd,#fdd,#fdd,#fdd,#fee,#fdf9f8,#eef,#eef,#eef,#eef,#eef,#eef,#eef,#eef,#eef,#eef,#eef,#f7f7fe,#fdf9f8,#fdf9f8,#fee,#fee,#fee,#fee,#fee,#fee,#fdd,#fdd,#fdd,#fdd,#fdd,#fdd,#fdd,#fee,#fdf9f8,#eef,#eef,#eef,#eef,#eef,#eef,#eef,#eef,#eef,#eef,#eef,#f7f7fe,#fdf9f8,#fdf9f8,#fee,#fee,#fee,#fee,#fee,#fee,#fdd,#fdd,#fdd,#fdd)"></div><div style="height:4px;background:linear-gradient(90deg,#fcc,#fcc,#fcc,#fcc,#fdd,#fdd,#fdd,#fee,#fdf9f8,#f7f7fe,#eef,#eef,#eef,#ddf,#ddf,#ddf,#ddf,#ddf,#ddf,#eef,#eef,#f7f7fe,#fdf9f8,#fee,#fee,#fee,#fdd,#fdd,#fdd,#fcc,#fcc,#fcc,#fcc,#fdd,#fdd,#fdd,#fee,#fdf9f8,#f7f7fe,#eef,#eef,#eef,#ddf,#ddf,#ddf,#ddf,#ddf,#ddf,#eef,#eef,#f7f7fe,#fdf9f8,#fee,#fee,#fee,#fdd,#fdd,#fdd,#fcc,#fcc,#fcc,#fcc,#fdd,#fdd,#fdd,#fee,#fdf9f8,#f7f7fe,#eef,#eef,#eef,#ddf,#ddf,#ddf,#ddf,#ddf,#ddf,#eef,#eef,#f7f7fe,#fdf9f8,#fee,#fee,#fee,#fdd,#fdd,#fdd,#fcc,#fcc,#fcc)"></div><div style="height:4px;background:linear-gradient(90deg,#fcc,#fcc,#fcc,#fcc,#fcc,#fdd,#fdd,#fee,#fdf9f8,#f7f7fe,#eef,#eef,#ddf,#ccf,#ccf,#ccf,#ccf,#ccf,#ddf,#ddf,#eef,#f7f7fe,#fdf9f8,#fee,#fee,#fdd,#fdd,#fcc,#fcc,#fcc,#fcc,#fcc,#fcc,#fcc,#fdd,#fdd,#fee,#fdf9f8,#f7f7fe,#eef,#ddf,#ddf,#ccf,#ccf,#ccf,#ccf,#ccf,#ddf,#ddf,#eef,#f7f7fe,#fdf9f8,#fee,#fee,#fdd,#fdd,#fcc,#fcc,#fcc,#fcc,#fcc,#fcc,#fcc,#fdd,#fdd,#fee,#fdf9f8,#f7f7fe,#eef,#ddf,#ddf,#ccf,#ccf,#ccf,#ccf,#ccf,#ddf,#ddf,#eef,#f7f7fe,#fdf9f8,#fee,#fee,#fdd,#fdd,#fcc,#fcc,#fcc,#fcc,#fcc)"></div><div style="height:4px;background:linear-gradient(90deg,#fbb,#fbb,#fbb,#fbb,#fcc,#fcc,#fdd,#fee,#fdf9f8,#eef,#eef,#ddf,#ccf,#bbf,#bbf,#bbf,#bbf,#ccf,#ccf,#ddf,#eef,#f7f7fe,#fdf9f8,#fee,#fdd,#fdd,#fcc,#fcc,#fbb,#fbb,#fbb,#fbb,#fbb,#fcc,#fcc,#fdd,#fee,#fdf9f8,#eef,#eef,#ddf,#ccf,#bbf,#bbf,#bbf,#bbf,#ccf,#ccf,#ddf,#eef,#f7f7fe,#fdf9f8,#fee,#fdd,#fdd,#fcc,#fbb,#fbb,#fbb,#fbb,#fbb,#fbb,#fcc,#fdd,#fdd,#fee,#fdf9f8,#eef,#eef,#ddf,#ccf,#bbf,#bbf,#bbf,#bbf,#ccf,#ccf,#ddf,#eef,#f7f7fe,#fdf9f8,#fee,#fdd,#fdd,#fcc,#fbb,#fbb,#fbb,#fbb,#fbb)"></div><div style="height:4px;background:linear-gradient(90deg,#faa,#faa,#faa,#fbb,#fbb,#fcc,#fdd,#fee,#fbf9fc,#eef,#ddf,#ccf,#ccf,#bbf,#bbf,#bbf,#bbf,#ccf,#ccf,#ddf,#eef,#fbf9fc,#fee,#fdd,#fdd,#fcc,#fbb,#faa,#faa,#faa,#faa,#faa,#fbb,#fcc,#fcc,#fdd,#fee,#f7f7fe,#eef,#ddf,#ccf,#bbf,#bbf,#bbf,#bbf,#bbf,#ccf,#ccf,#ddf,#eef,#fbf9fc,#fee,#fdd,#fdd,#fcc,#fbb,#faa,#faa,#faa,#faa,#faa,#fbb,#fcc,#fcc,#fdd,#fee,#f7f7fe,#eef,#ddf,#ccf,#bbf,#bbf,#bbf,#bbf,#bbf,#ccf,#ccf,#ddf,#eef,#fdf9f8,#fee,#fdd,#fcc,#fcc,#fbb,#faa,#faa,#faa,#faa,#faa)"></div><div style="height:4px;background:linear-gradient(90deg,#f99,#f99,#faa,#faa,#fbb,#fcc,#fdd,#fee,#f7f7fe,#eef,#ddf,#ccf,#bbf,#bbf,#bbf,#bbf,#bbf,#ccf,#ddf,#eef,#f7f7fe,#fee,#fdd,#fdd,#fcc,#fbb,#faa,#f99,#f99,#f99,#f99,#faa,#faa,#fbb,#fcc,#fdd,#fee,#f7f7fe,#eef,#ddf,#ccf,#bbf,#bbf,#bbf,#bbf,#bbf,#ccf,#ddf,#eef,#f7f7fe,#fee,#fdd,#fcc,#fcc,#fbb,#faa,#f99,#f99,#f99,#f99,#faa,#fbb,#fbb,#fdd,#fee,#fdf9f8,#f7f7fe,#eef,#ddf,#ccf,#bbf,#bbf,#bbf,#bbf,#bbf,#ccf,#ddf,#eef,#f7f7fe,#fee,#fdd,#fcc,#fbb,#fbb,#faa,#f99,#f99,#f99,#f99,#faa)"></div><div style="height:4px;background:linear-gradient(90deg,#f88,#f88,#f99,#faa,#fbb,#fdd,#fee,#fbf9fc,#eef,#eef,#ddf,#ccf,#bbf,#bbf,#bbf,#bbf,#bbf,#ccf,#ddf,#eef,#fdf9f8,#fee,#fdd,#fcc,#faa,#f99,#f99,#f88,#f88,#f88,#f88,#f99,#faa,#fbb,#fdd,#fee,#fbf9fc,#eef,#ddf,#ddf,#ccf,#bbf,#bbf,#bbf,#bbf,#bbf,#ccf,#ddf,#eef,#fdf9f8,#fee,#fcc,#fbb,#faa,#f99,#f99,#f88,#f88,#f88,#f99,#f99,#faa,#fbb,#fdd,#fee,#f7f7fe,#eef,#ddf,#ddf,#ccf,#bbf,#bbf,#bbf,#bbf,#bbf,#ccf,#ddf,#eef,#fee,#fdd,#fcc,#fbb,#faa,#f99,#f99,#f88,#f88,#f88,#f99,#f99)"></div><div style="height:4px;background:linear-gradient(90deg,#f77,#f88,#f99,#faa,#fcc,#fee,#eef,#eef,#eef,#eef,#ddf,#ccf,#ccf,#ccf,#ccf,#bbf,#bbf,#bbf,#ccf,#f7f7fe,#fee,#fdd,#fcc,#faa,#f99,#f88,#f77,#f77,#f77,#f77,#f88,#f99,#faa,#fcc,#fee,#eef,#eef,#eef,#ddf,#ddf,#ccf,#ccf,#ccf,#ccf,#bbf,#bbf,#bbf,#ddf,#f7f7fe,#fee,#fdd,#fbb,#faa,#f99,#f88,#f77,#f77,#f77,#f77,#f88,#f99,#faa,#fcc,#fee,#eef,#eef,#eef,#ddf,#ddf,#ccf,#ccf,#ccf,#ccf,#bbf,#bbf,#bbf,#ddf,#f7f7fe,#fee,#fcc,#fbb,#faa,#f99,#f88,#f77,#f77,#f77,#f77,#f88,#f99)"></div><div style="height:4px;background:linear-gradient(90deg,#f77,#f88,#f99,#faa,#fdd,#eef,#bbf,#bbf,#ddf,#eef,#ddf,#ddf,#ddf,#ddf,#ccf,#bbf,#88f,#77f,#aaf,#eef,#fdd,#fcc,#faa,#f99,#f88,#f77,#f66,#f66,#f66,#f77,#f88,#f99,#fbb,#fdd,#eef,#bbf,#bbf,#ddf,#eef,#ddf,#ddf,#ddf,#ddf,#ccf,#bbf,#88f,#88f,#bbf,#f7f7fe,#fdd,#fcc,#faa,#f99,#f88,#f77,#f66,#f66,#f66,#f77,#f88,#f99,#fbb,#fdd,#eef,#bbf,#bbf,#ddf,#eef,#ddf,#ddf,#ddf,#ddf,#ccf,#aaf,#88f,#88f,#bbf,#fbf9fc,#fdd,#fbb,#faa,#f99,#f88,#f77,#f66,#f66,#f66,#f77,#f88,#f99)"></div><div style="height:4px;background:linear-gradient(90deg,#f66,#f88,#f99,#fbb,#fdf9f8,#bbf,#88f,#88f,#ccf,#eef,#eef,#eef,#eef,#ddf,#ddf,#aaf,#55f,#33f,#88f,#eef,#fcc,#faa,#f99,#f88,#f66,#f55,#f55,#f55,#f66,#f77,#f88,#f99,#fcc,#fbf9fc,#bbf,#77f,#88f,#ccf,#eef,#eef,#eef,#eef,#ddf,#ddf,#99f,#44f,#33f,#88f,#eef,#fcc,#faa,#f99,#f77,#f66,#f55,#f55,#f55,#f66,#f77,#f88,#faa,#fcc,#f7f7fe,#bbf,#77f,#99f,#ccf,#eef,#eef,#eef,#eef,#ddf,#ccf,#99f,#44f,#33f,#99f,#f7f7fe,#fcc,#faa,#f99,#f77,#f66,#f55,#f55,#f55,#f66,#f77,#f88,#faa)"></div><div style="height:4px;background:linear-gradient(90deg,#f77,#f88,#fbb,#fee,#ccf,#88f,#55f,#77f,#bbf,#eef,#f7f7fe,#f7f7fe,#eef,#eef,#ddf,#99f,#22f,#00f,#66f,#eef,#fbb,#f99,#f88,#f66,#f55,#f44,#f44,#f55,#f55,#f77,#f88,#fbb,#fee,#ccf,#88f,#55f,#77f,#ccf,#eef,#f7f7fe,#f7f7fe,#eef,#eef,#ddf,#99f,#22f,#00f,#77f,#eef,#fbb,#f99,#f88,#f66,#f55,#f44,#f44,#f55,#f66,#f77,#f99,#fbb,#fee,#bbf,#77f,#55f,#77f,#ccf,#eef,#f7f7fe,#f7f7fe,#eef,#eef,#ddf,#88f,#11f,#00f,#77f,#fbf9fc,#fbb,#f99,#f77,#f66,#f55,#f44,#f44,#f55,#f66,#f77,#f99,#fbb)"></div><div style="height:4px;background:linear-gradient(90deg,#f77,#faa,#fdd,#ddf,#88f,#66f,#66f,#88f,#ccf,#fdf9f8,#fee,#fdf9f8,#fdf9f8,#f7f7fe,#eef,#aaf,#44f,#22f,#88f,#fdf9f8,#faa,#f88,#f66,#f55,#f44,#f44,#f44,#f55,#f66,#f77,#faa,#fdd,#ccf,#88f,#55f,#66f,#88f,#ddf,#fdf9f8,#fee,#fdf9f8,#fdf9f8,#f7f7fe,#eef,#aaf,#33f,#22f,#88f,#fee,#faa,#f88,#f66,#f55,#f44,#f44,#f44,#f55,#f66,#f88,#faa,#fee,#ccf,#88f,#55f,#66f,#99f,#ddf,#fdf9f8,#fee,#fdf9f8,#fbf9fc,#f7f7fe,#eef,#99f,#33f,#22f,#99f,#fee,#faa,#f88,#f66,#f55,#f44,#f44,#f44,#f55,#f66,#f88,#faa,#fee)"></div><div style="height:4px;background:linear-gradient(90deg,#f99,#fdd,#ddf,#88f,#55f,#55f,#88f,#ccf,#f7f7fe,#fee,#fee,#fee,#fee,#fee,#f7f7fe,#ddf,#99f,#77f,#ccf,#fcc,#f99,#f77,#f55,#f44,#f33,#f33,#f44,#f55,#f77,#f99,#fdd,#ccf,#88f,#55f,#66f,#88f,#ccf,#f7f7fe,#fee,#fee,#fee,#fee,#fdf9f8,#f7f7fe,#ccf,#88f,#88f,#ccf,#fcc,#f99,#f77,#f55,#f44,#f33,#f33,#f44,#f55,#f77,#f99,#fdd,#ccf,#77f,#55f,#66f,#99f,#ccf,#fbf9fc,#fee,#fee,#fee,#fee,#fdf9f8,#f7f7fe,#ccf,#88f,#88f,#ddf,#fcc,#f88,#f66,#f55,#f44,#f33,#f33,#f44,#f55,#f77,#faa,#fee,#ccf)"></div><div style="height:4px;background:linear-gradient(90deg,#fcc,#ddf,#88f,#55f,#55f,#88f,#ccf,#fbf9fc,#fdd,#fdd,#fdd,#fdd,#fee,#fee,#fee,#f7f7fe,#ddf,#ddf,#fee,#faa,#f88,#f66,#f44,#f33,#f33,#f33,#f44,#f66,#f88,#fcc,#ddf,#88f,#44f,#55f,#88f,#ccf,#fdf9f8,#fdd,#fdd,#fdd,#fdd,#fee,#fee,#fee,#f7f7fe,#ddf,#ddf,#fdd,#faa,#f77,#f66,#f44,#f33,#f33,#f33,#f44,#f66,#f99,#fdd,#ccf,#77f,#44f,#55f,#88f,#ccf,#fdf9f8,#fdd,#fdd,#fdd,#fdd,#fee,#fee,#fee,#f7f7fe,#ddf,#eef,#fdd,#faa,#f77,#f55,#f44,#f33,#f33,#f33,#f44,#f66,#f99,#fdd,#ccf,#77f)"></div><div style="height:4px;background:linear-gradient(90deg,#eef,#88f,#44f,#44f,#77f,#bbf,#fdf9f8,#fdd,#fcc,#fcc,#fcc,#fdd,#fdd,#fdd,#fdd,#fdd,#fdd,#fdd,#fbb,#f88,#f66,#f55,#f44,#f33,#f33,#f44,#f55,#f77,#fbb,#ddf,#77f,#44f,#44f,#77f,#ccf,#fdf9f8,#fcc,#fcc,#fcc,#fcc,#fdd,#fdd,#fdd,#fdd,#fee,#fdd,#fdd,#fbb,#f88,#f66,#f55,#f44,#f33,#f33,#f44,#f55,#f88,#fcc,#ddf,#77f,#33f,#44f,#77f,#ccf,#fee,#fcc,#fcc,#fcc,#fcc,#fdd,#fdd,#fdd,#fdd,#fee,#fdd,#fcc,#faa,#f88,#f66,#f55,#f44,#f33,#f33,#f44,#f55,#f88,#fcc,#ccf,#66f,#33f)"></div><div style="height:4px;background:linear-gradient(90deg,#99f,#33f,#22f,#55f,#aaf,#f7f7fe,#fdd,#fbb,#fbb,#fbb,#fcc,#fcc,#fdd,#fdd,#fdd,#fcc,#fcc,#fbb,#f99,#f77,#f66,#f44,#f44,#f33,#f44,#f55,#f77,#faa,#eef,#88f,#33f,#22f,#66f,#bbf,#f7f7fe,#fcc,#fbb,#fbb,#fbb,#fcc,#fcc,#fdd,#fdd,#fdd,#fcc,#fcc,#fbb,#f99,#f77,#f66,#f44,#f33,#f33,#f44,#f55,#f77,#fbb,#eef,#88f,#33f,#33f,#66f,#bbf,#fdf9f8,#fcc,#fbb,#fbb,#fbb,#fcc,#fcc,#fdd,#fdd,#fdd,#fcc,#fcc,#faa,#f99,#f77,#f55,#f44,#f33,#f33,#f44,#f55,#f77,#fbb,#ddf,#77f,#33f,#33f)"></div><div style="height:4px;background:linear-gradient(90deg,#44f,#22f,#44f,#99f,#ddf,#fdd,#fcc,#fbb,#fbb,#fbb,#fbb,#fcc,#fcc,#fcc,#fcc,#fcc,#fbb,#faa,#f88,#f77,#f55,#f44,#f44,#f44,#f55,#f66,#f99,#fee,#99f,#44f,#22f,#44f,#99f,#eef,#fdd,#fbb,#fbb,#fbb,#fbb,#fbb,#fcc,#fcc,#fcc,#fcc,#fcc,#fbb,#faa,#f88,#f66,#f55,#f44,#f44,#f44,#f55,#f77,#faa,#fdf9f8,#99f,#33f,#22f,#55f,#aaf,#eef,#fdd,#fbb,#fbb,#fbb,#fbb,#fbb,#fcc,#fcc,#fcc,#fcc,#fcc,#fbb,#f99,#f88,#f66,#f55,#f44,#f44,#f44,#f55,#f77,#faa,#f7f7fe,#88f,#33f,#22f,#55f)"></div><div style="height:4px;background:linear-gradient(90deg,#22f,#33f,#77f,#ccf,#fee,#fcc,#fbb,#fbb,#faa,#faa,#fbb,#fbb,#fcc,#fcc,#fcc,#fbb,#faa,#f99,#f88,#f66,#f55,#f55,#f44,#f55,#f66,#f99,#fdd,#aaf,#44f,#11f,#33f,#88f,#ddf,#fee,#fcc,#fbb,#fbb,#faa,#faa,#fbb,#fbb,#fcc,#fcc,#fcc,#fbb,#faa,#f99,#f88,#f66,#f55,#f55,#f44,#f55,#f66,#f99,#fee,#aaf,#44f,#11f,#33f,#88f,#ddf,#fee,#fcc,#fbb,#fbb,#faa,#fbb,#fbb,#fbb,#fcc,#fcc,#fcc,#fbb,#faa,#f99,#f77,#f66,#f55,#f44,#f44,#f55,#f77,#faa,#fee,#99f,#44f,#11f,#44f,#99f)"></div><div style="height:4px;background:linear-gradient(90deg,#22f,#66f,#bbf,#eef,#fee,#fcc,#fbb,#fbb,#fbb,#faa,#fbb,#fbb,#fbb,#fbb,#fbb,#fbb,#faa,#f99,#f77,#f66,#f66,#f55,#f55,#f66,#f99,#fdd,#bbf,#55f,#22f,#22f,#66f,#bbf,#f7f7fe,#fdd,#fcc,#fbb,#fbb,#fbb,#faa,#fbb,#fbb,#fbb,#fbb,#fbb,#fbb,#faa,#f99,#f77,#f66,#f55,#f55,#f55,#f77,#f99,#fdd,#bbf,#55f,#11f,#33f,#77f,#ccf,#f7f7fe,#fdd,#fcc,#fbb,#fbb,#faa,#faa,#fbb,#fbb,#fbb,#fbb,#fbb,#fbb,#faa,#f88,#f77,#f66,#f55,#f55,#f66,#f77,#f99,#fee,#aaf,#44f,#11f,#33f,#77f,#ccf)"></div><div style="height:4px;background:linear-gradient(90deg,#55f,#aaf,#ddf,#fee,#fdd,#fdd,#fcc,#fbb,#fbb,#fbb,#fbb,#fbb,#fbb,#fbb,#fbb,#faa,#faa,#f99,#f77,#f77,#f66,#f66,#f77,#f99,#fcc,#ccf,#66f,#22f,#22f,#55f,#aaf,#eef,#fee,#fdd,#fcc,#fcc,#fbb,#fbb,#fbb,#fbb,#fbb,#fbb,#fbb,#fbb,#faa,#faa,#f88,#f77,#f77,#f66,#f66,#f77,#f99,#fcc,#ccf,#66f,#22f,#22f,#66f,#aaf,#eef,#fee,#fdd,#fcc,#fcc,#fbb,#fbb,#fbb,#fbb,#fbb,#fbb,#fbb,#fbb,#faa,#f99,#f88,#f77,#f77,#f66,#f66,#f77,#f99,#fdd,#bbf,#55f,#11f,#22f,#66f,#bbf,#eef)"></div><div style="height:4px;background:linear-gradient(90deg,#99f,#ddf,#f7f7fe,#fee,#fee,#fdd,#fcc,#fcc,#fbb,#fbb,#fbb,#fbb,#fbb,#fbb,#fbb,#faa,#faa,#f99,#f88,#f77,#f77,#f77,#f88,#fbb,#ddf,#77f,#22f,#11f,#44f,#99f,#ddf,#f7f7fe,#fee,#fdd,#fdd,#fcc,#fcc,#fbb,#fbb,#fbb,#fbb,#fbb,#fbb,#fbb,#faa,#faa,#f99,#f88,#f77,#f77,#f77,#f99,#fcc,#ddf,#77f,#22f,#11f,#55f,#99f,#ddf,#fbf9fc,#fee,#fdd,#fdd,#fcc,#fcc,#fbb,#fbb,#fbb,#fbb,#fbb,#fbb,#fbb,#faa,#faa,#f99,#f88,#f77,#f77,#f77,#f99,#fcc,#ccf,#66f,#22f,#22f,#55f,#aaf,#ddf,#fdf9f8)"></div><div style="height:4px;background:linear-gradient(90deg,#ccf,#eef,#fdf9f8,#fee,#fee,#fdd,#fdd,#fcc,#fcc,#fbb,#fbb,#fbb,#fbb,#fbb,#fbb,#fbb,#faa,#f99,#f88,#f88,#f88,#f99,#fbb,#fdf9f8,#99f,#33f,#11f,#44f,#88f,#ccf,#eef,#fdf9f8,#fee,#fee,#fdd,#fdd,#fcc,#fcc,#fbb,#fbb,#fbb,#fbb,#fbb,#fbb,#fbb,#faa,#f99,#f88,#f88,#f88,#f99,#fbb,#fbf9fc,#88f,#33f,#11f,#44f,#99f,#ccf,#f7f7fe,#fdf9f8,#fee,#fee,#fdd,#fdd,#fcc,#fcc,#fbb,#fbb,#fbb,#fbb,#fbb,#fbb,#fbb,#faa,#f99,#f88,#f88,#f88,#f99,#fbb,#eef,#77f,#22f,#11f,#44f,#99f,#ddf,#f7f7fe,#fee)"></div><div style="height:4px;background:linear-gradient(90deg,#eef,#fdf9f8,#fee,#fee,#fee,#fdd,#fdd,#fcc,#fcc,#fcc,#fbb,#fbb,#fbb,#fbb,#fbb,#fbb,#fbb,#faa,#f99,#f99,#f99,#faa,#fdd,#ccf,#66f,#11f,#33f,#77f,#ccf,#eef,#fdf9f8,#fee,#fee,#fee,#fdd,#fdd,#fcc,#fcc,#fcc,#fbb,#fbb,#fbb,#fbb,#fbb,#fbb,#fbb,#faa,#f99,#f99,#f99,#faa,#fdd,#ccf,#55f,#11f,#33f,#88f,#ccf,#eef,#fdf9f8,#fee,#fee,#fee,#fdd,#fdd,#fcc,#fcc,#fcc,#fbb,#fbb,#fbb,#fbb,#fbb,#fbb,#fbb,#faa,#f99,#f99,#f99,#faa,#fee,#bbf,#55f,#11f,#44f,#88f,#ccf,#eef,#fdf9f8,#fee)"></div><div style="height:4px;background:linear-gradient(90deg,#fbf9fc,#fdf9f8,#fdf9f8,#fdf9f8,#fee,#fee,#fdd,#fdd,#fcc,#fcc,#fbb,#fbb,#fbb,#fbb,#fcc,#fcc,#fcc,#fbb,#faa,#faa,#faa,#fcc,#f7f7fe,#aaf,#55f,#44f,#77f,#bbf,#eef,#fbf9fc,#fdf9f8,#fdf9f8,#fdf9f8,#fee,#fee,#fdd,#fdd,#fcc,#fcc,#fbb,#fbb,#fbb,#fbb,#fcc,#fcc,#fcc,#fbb,#faa,#faa,#faa,#fcc,#eef,#99f,#55f,#44f,#77f,#ccf,#eef,#fbf9fc,#fdf9f8,#fdf9f8,#fee,#fee,#fdd,#fdd,#fdd,#fcc,#fcc,#fbb,#fbb,#fbb,#fbb,#fcc,#fcc,#fcc,#fbb,#faa,#faa,#faa,#fcc,#eef,#99f,#55f,#44f,#88f,#ccf,#eef,#fbf9fc,#fdf9f8,#fdf9f8)"></div><div style="height:4px;background:linear-gradient(90deg,#eef,#ccf,#bbf,#bbf,#eef,#fee,#fdd,#fdd,#fcc,#fcc,#fbb,#fbb,#fbb,#fbb,#fcc,#fee,#fee,#fcc,#faa,#faa,#fbb,#fdd,#ddf,#99f,#77f,#88f,#bbf,#eef,#f7f7fe,#eef,#ccf,#bbf,#ccf,#eef,#fee,#fdd,#fcc,#fcc,#fcc,#fbb,#fbb,#fbb,#fbb,#fdd,#fee,#fee,#fcc,#faa,#faa,#fbb,#fee,#ddf,#99f,#77f,#99f,#bbf,#eef,#f7f7fe,#ddf,#ccf,#bbf,#ccf,#eef,#fee,#fdd,#fcc,#fcc,#fcc,#fbb,#fbb,#fbb,#fbb,#fdd,#fee,#fee,#fcc,#faa,#faa,#fbb,#fee,#ddf,#99f,#77f,#99f,#ccf,#eef,#f7f7fe,#ddf,#bbf,#bbf)"></div><div style="height:4px;background:linear-gradient(90deg,#bbf,#66f,#44f,#55f,#aaf,#eef,#fdd,#fcc,#fcc,#fbb,#fbb,#fbb,#fbb,#fcc,#fee,#eef,#eef,#fdd,#fbb,#fbb,#fbb,#fee,#ddf,#bbf,#bbf,#ddf,#f7f7fe,#fee,#eef,#bbf,#66f,#33f,#55f,#aaf,#f7f7fe,#fdd,#fcc,#fcc,#fbb,#fbb,#fbb,#fbb,#fcc,#fee,#eef,#eef,#fdd,#fbb,#fbb,#fbb,#fee,#ccf,#bbf,#bbf,#ddf,#f7f7fe,#fee,#eef,#aaf,#66f,#33f,#66f,#bbf,#f7f7fe,#fdd,#fcc,#fcc,#fbb,#fbb,#fbb,#fbb,#fcc,#fee,#eef,#eef,#fdd,#fbb,#fbb,#fcc,#fee,#ccf,#bbf,#bbf,#ddf,#fbf9fc,#fdf9f8,#eef,#aaf,#55f,#33f)"></div><div style="height:4px;background:linear-gradient(90deg,#eef,#bbf,#99f,#aaf,#ddf,#fee,#fcc,#fcc,#fbb,#fbb,#fbb,#fbb,#fbb,#fcc,#fdf9f8,#ccf,#ccf,#fdf9f8,#fcc,#fbb,#fbb,#fdd,#eef,#ddf,#eef,#fee,#fdd,#fdd,#fee,#ddf,#aaf,#99f,#aaf,#ddf,#fee,#fcc,#fcc,#fbb,#fbb,#fbb,#fbb,#fbb,#fcc,#fbf9fc,#ccf,#ccf,#fdf9f8,#fcc,#fbb,#fbb,#fdd,#eef,#ddf,#f7f7fe,#fee,#fdd,#fdd,#fee,#ddf,#aaf,#99f,#aaf,#eef,#fee,#fcc,#fbb,#fbb,#fbb,#fbb,#fbb,#fbb,#fcc,#f7f7fe,#bbf,#ccf,#fee,#fbb,#fbb,#fbb,#fee,#eef,#ddf,#f7f7fe,#fee,#fdd,#fdd,#fee,#ddf,#aaf,#99f)"></div><div style="height:4px;background:linear-gradient(90deg,#fdd,#fdd,#fdd,#fdd,#fcc,#fcc,#fbb,#fbb,#faa,#faa,#faa,#faa,#fbb,#fcc,#eef,#99f,#99f,#eef,#fcc,#fbb,#faa,#fcc,#fdd,#fee,#fdd,#fcc,#fbb,#fcc,#fcc,#fdd,#fdd,#fdd,#fdd,#fcc,#fcc,#fbb,#fbb,#faa,#faa,#faa,#faa,#fbb,#fcc,#eef,#99f,#99f,#eef,#fcc,#faa,#fbb,#fcc,#fdd,#fee,#fcc,#fcc,#fbb,#fcc,#fcc,#fdd,#fdd,#fdd,#fdd,#fcc,#fbb,#fbb,#fbb,#faa,#faa,#faa,#faa,#fbb,#fdd,#ddf,#99f,#aaf,#f7f7fe,#fcc,#faa,#fbb,#fcc,#fdd,#fee,#fcc,#fcc,#fbb,#fcc,#fcc,#fdd,#fdd,#fdd)"></div><div style="height:4px;background:linear-gradient(90deg,#fbb,#fbb,#fbb,#fbb,#fbb,#fbb,#faa,#faa,#faa,#faa,#faa,#faa,#fbb,#fcc,#ddf,#77f,#66f,#ccf,#fdd,#faa,#faa,#faa,#fbb,#fbb,#fbb,#faa,#faa,#fbb,#fbb,#fbb,#fbb,#fbb,#fbb,#fbb,#fbb,#faa,#faa,#faa,#faa,#faa,#faa,#fbb,#fdd,#ccf,#66f,#77f,#ddf,#fcc,#faa,#faa,#faa,#fbb,#fbb,#faa,#faa,#faa,#fbb,#fbb,#fbb,#fbb,#fbb,#fbb,#fbb,#faa,#faa,#faa,#faa,#faa,#faa,#faa,#fbb,#fdd,#ccf,#66f,#77f,#ddf,#fcc,#faa,#faa,#faa,#fbb,#fbb,#faa,#faa,#faa,#fbb,#fbb,#fbb,#fbb,#fbb)"></div><div style="height:4px;background:linear-gradient(90deg,#fbb,#fbb,#fbb,#fbb,#faa,#faa,#faa,#f99,#f99,#f99,#faa,#faa,#fbb,#fdd,#ccf,#55f,#44f,#bbf,#fdd,#faa,#faa,#f99,#f99,#f99,#f99,#f99,#faa,#faa,#fbb,#fbb,#fbb,#fbb,#fbb,#faa,#faa,#faa,#f99,#f99,#f99,#faa,#faa,#fbb,#fdd,#bbf,#44f,#55f,#ccf,#fdd,#faa,#faa,#f99,#f99,#f99,#f99,#f99,#faa,#faa,#fbb,#fbb,#fbb,#fbb,#fbb,#faa,#faa,#faa,#f99,#f99,#f99,#faa,#faa,#fbb,#fdd,#aaf,#44f,#55f,#ccf,#fcc,#faa,#faa,#f99,#f99,#f99,#f99,#f99,#faa,#faa,#fbb,#fbb,#fbb,#fbb)"></div><div style="height:4px;background:linear-gradient(90deg,#fbb,#fbb,#fbb,#fbb,#faa,#faa,#faa,#f99,#f99,#f99,#faa,#faa,#fbb,#fdd,#bbf,#33f,#22f,#aaf,#fdd,#fbb,#faa,#f99,#f99,#f99,#f99,#f99,#faa,#faa,#faa,#fbb,#fbb,#fbb,#faa,#faa,#faa,#faa,#f99,#f99,#f99,#faa,#faa,#fbb,#fee,#aaf,#22f,#33f,#bbf,#fdd,#faa,#faa,#f99,#f99,#f99,#f99,#f99,#faa,#faa,#faa,#fbb,#fbb,#fbb,#faa,#faa,#faa,#faa,#f99,#f99,#f99,#faa,#faa,#fbb,#fee,#99f,#22f,#33f,#bbf,#fdd,#faa,#faa,#f99,#f99,#f99,#f99,#f99,#faa,#faa,#faa,#fbb,#fbb,#fbb)"></div><div style="height:4px;background:linear-gradient(90deg,#fbb,#fbb,#fbb,#fbb,#faa,#faa,#faa,#faa,#faa,#faa,#faa,#faa,#fbb,#fee,#aaf,#22f,#22f,#99f,#fee,#fbb,#faa,#faa,#f99,#f99,#f99,#f99,#faa,#faa,#fbb,#fbb,#fbb,#fbb,#fbb,#faa,#faa,#faa,#faa,#faa,#faa,#faa,#faa,#fbb,#fee,#99f,#22f,#22f,#aaf,#fdd,#fbb,#faa,#f99,#f99,#f99,#f99,#f99,#faa,#faa,#fbb,#fbb,#fbb,#fbb,#fbb,#faa,#faa,#faa,#faa,#faa,#faa,#faa,#faa,#fbb,#fee,#88f,#11f,#33f,#bbf,#fdd,#fbb,#faa,#f99,#f99,#f99,#f99,#f99,#faa,#faa,#fbb,#fbb,#fbb,#fbb)"></div><div style="height:4px;background:linear-gradient(90deg,#fbb,#fbb,#fbb,#fbb,#fbb,#fbb,#faa,#faa,#faa,#faa,#fbb,#fbb,#fcc,#fee,#aaf,#22f,#22f,#99f,#fee,#fcc,#fbb,#faa,#faa,#faa,#faa,#faa,#faa,#fbb,#fbb,#fbb,#fbb,#fbb,#fbb,#fbb,#fbb,#faa,#faa,#faa,#faa,#fbb,#fbb,#fcc,#fdf9f8,#99f,#22f,#22f,#aaf,#fee,#fbb,#fbb,#faa,#faa,#faa,#faa,#faa,#faa,#fbb,#fbb,#fbb,#fbb,#fbb,#fbb,#fbb,#fbb,#faa,#faa,#faa,#faa,#fbb,#fbb,#fcc,#fdf9f8,#88f,#11f,#33f,#aaf,#fee,#fbb,#fbb,#faa,#faa,#faa,#faa,#faa,#faa,#fbb,#fbb,#fbb,#fbb,#fbb)"></div><div style="height:4px;background:linear-gradient(90deg,#fcc,#fcc,#fcc,#fcc,#fcc,#fcc,#fbb,#fbb,#fbb,#fbb,#fcc,#fcc,#fcc,#fdf9f8,#aaf,#33f,#33f,#99f,#fdf9f8,#fcc,#fcc,#fbb,#fbb,#fbb,#fbb,#fbb,#fbb,#fcc,#fcc,#fcc,#fcc,#fcc,#fcc,#fcc,#fbb,#fbb,#fbb,#fbb,#fbb,#fcc,#fcc,#fdd,#fbf9fc,#99f,#33f,#33f,#aaf,#fee,#fcc,#fbb,#fbb,#fbb,#fbb,#fbb,#fbb,#fbb,#fcc,#fcc,#fcc,#fcc,#fcc,#fcc,#fcc,#fbb,#fbb,#fbb,#fbb,#fbb,#fcc,#fcc,#fdd,#f7f7fe,#99f,#22f,#33f,#aaf,#fee,#fcc,#fbb,#fbb,#fbb,#fbb,#fbb,#fbb,#fbb,#fcc,#fcc,#fcc,#fcc,#fcc)"></div><div style="height:4px;background:linear-gradient(90deg,#fdd,#fdd,#fdd,#fdd,#fdd,#fcc,#fcc,#fcc,#fcc,#fcc,#fcc,#fdd,#fdd,#fbf9fc,#aaf,#44f,#44f,#aaf,#f7f7fe,#fdd,#fcc,#fcc,#fcc,#fcc,#fcc,#fcc,#fcc,#fcc,#fdd,#fdd,#fdd,#fdd,#fdd,#fdd,#fcc,#fcc,#fcc,#fcc,#fcc,#fcc,#fdd,#fdd,#f7f7fe,#aaf,#44f,#44f,#aaf,#fdf9f8,#fdd,#fcc,#fcc,#fcc,#fcc,#fcc,#fcc,#fcc,#fcc,#fdd,#fdd,#fdd,#fdd,#fdd,#fdd,#fcc,#fcc,#fcc,#fcc,#fcc,#fcc,#fdd,#fdd,#eef,#99f,#44f,#55f,#bbf,#fdf9f8,#fdd,#fcc,#fcc,#fcc,#fcc,#fcc,#fcc,#fcc,#fcc,#fdd,#fdd,#fdd,#fdd)"></div><div style="height:4px;background:linear-gradient(90deg,#fdd,#fee,#fdd,#fdd,#fdd,#fdd,#fdd,#fdd,#fdd,#fdd,#fdd,#fdd,#fee,#f7f7fe,#bbf,#66f,#66f,#bbf,#f7f7fe,#fee,#fdd,#fdd,#fdd,#fdd,#fdd,#fdd,#fdd,#fdd,#fdd,#fdd,#fee,#fdd,#fdd,#fdd,#fdd,#fdd,#fdd,#fdd,#fdd,#fdd,#fdd,#fee,#f7f7fe,#bbf,#66f,#66f,#bbf,#f7f7fe,#fee,#fdd,#fdd,#fdd,#fdd,#fdd,#fdd,#fdd,#fdd,#fdd,#fdd,#fee,#fdd,#fdd,#fdd,#fdd,#fdd,#fdd,#fdd,#fdd,#fdd,#fdd,#fee,#eef,#aaf,#66f,#77f,#bbf,#fdf9f8,#fee,#fdd,#fdd,#fdd,#fdd,#fdd,#fdd,#fdd,#fdd,#fdd,#fdd,#fee,#fdd)"></div></div></div>
<svg class="main" width="1345" height="1612" viewBox="0 0 1345 1612"><defs><linearGradient id="cbb" x1="0" y1="0" x2="0" y2="1"><stop offset="0" stop-color="#dc0000"/><stop offset="0.08" stop-color="#e84e00"/><stop offset="0.15" stop-color="#ee8c00"/><stop offset="0.24" stop-color="#f6be00"/><stop offset="0.3" stop-color="#f0d400"/><stop offset="0.36" stop-color="#d8e800"/><stop offset="0.43" stop-color="#80e020"/><stop offset="0.51" stop-color="#20e040"/><stop offset="0.57" stop-color="#10e080"/><stop offset="0.63" stop-color="#00d8c0"/><stop offset="0.67" stop-color="#00b0d0"/><stop offset="0.71" stop-color="#0070e0"/><stop offset="0.76" stop-color="#1050f0"/><stop offset="0.85" stop-color="#3020f0"/><stop offset="0.88" stop-color="#4030f0"/><stop offset="0.92" stop-color="#9090f0"/><stop offset="0.97" stop-color="#e0e0ff"/><stop offset="1" stop-color="#f8f8ff"/></linearGradient><linearGradient id="cbr" x1="0" y1="0" x2="0" y2="1"><stop offset="0.0000" stop-color="#ff0000"/><stop offset="0.0192" stop-color="#ff0000"/><stop offset="0.0192" stop-color="#ff0a0a"/><stop offset="0.0385" stop-color="#ff0a0a"/><stop offset="0.0385" stop-color="#ff1414"/><stop offset="0.0577" stop-color="#ff1414"/><stop offset="0.0577" stop-color="#ff1f1f"/><stop offset="0.0769" stop-color="#ff1f1f"/><stop offset="0.0769" stop-color="#ff2929"/><stop offset="0.0962" stop-color="#ff2929"/><stop offset="0.0962" stop-color="#ff3333"/><stop offset="0.1154" stop-color="#ff3333"/><stop offset="0.1154" stop-color="#ff3d3d"/><stop offset="0.1346" stop-color="#ff3d3d"/><stop offset="0.1346" stop-color="#ff4747"/><stop offset="0.1538" stop-color="#ff4747"/><stop offset="0.1538" stop-color="#ff5252"/><stop offset="0.1731" stop-color="#ff5252"/><stop offset="0.1731" stop-color="#ff5c5c"/><stop offset="0.1923" stop-color="#ff5c5c"/><stop offset="0.1923" stop-color="#ff6666"/><stop offset="0.2115" stop-color="#ff6666"/><stop offset="0.2115" stop-color="#ff7070"/><stop offset="0.2308" stop-color="#ff7070"/><stop offset="0.2308" stop-color="#ff7a7a"/><stop offset="0.2500" stop-color="#ff7a7a"/><stop offset="0.2500" stop-color="#ff8585"/><stop offset="0.2692" stop-color="#ff8585"/><stop offset="0.2692" stop-color="#ff8f8f"/><stop offset="0.2885" stop-color="#ff8f8f"/><stop offset="0.2885" stop-color="#ff9999"/><stop offset="0.3077" stop-color="#ff9999"/><stop offset="0.3077" stop-color="#ffa3a3"/><stop offset="0.3269" stop-color="#ffa3a3"/><stop offset="0.3269" stop-color="#ffadad"/><stop offset="0.3462" stop-color="#ffadad"/><stop offset="0.3462" stop-color="#ffb8b8"/><stop offset="0.3654" stop-color="#ffb8b8"/><stop offset="0.3654" stop-color="#ffc2c2"/><stop offset="0.3846" stop-color="#ffc2c2"/><stop offset="0.3846" stop-color="#ffcccc"/><stop offset="0.4038" stop-color="#ffcccc"/><stop offset="0.4038" stop-color="#ffd6d6"/><stop offset="0.4231" stop-color="#ffd6d6"/><stop offset="0.4231" stop-color="#ffe0e0"/><stop offset="0.4423" stop-color="#ffe0e0"/><stop offset="0.4423" stop-color="#ffebeb"/><stop offset="0.4615" stop-color="#ffebeb"/><stop offset="0.4615" stop-color="#fff5f5"/><stop offset="0.4808" stop-color="#fff5f5"/><stop offset="0.4808" stop-color="#fdf9f8"/><stop offset="0.5000" stop-color="#fdf9f8"/><stop offset="0.5000" stop-color="#f7f7fe"/><stop offset="0.5192" stop-color="#f7f7fe"/><stop offset="0.5192" stop-color="#f5f5ff"/><stop offset="0.5385" stop-color="#f5f5ff"/><stop offset="0.5385" stop-color="#ebebff"/><stop offset="0.5577" stop-color="#ebebff"/><stop offset="0.5577" stop-color="#e0e0ff"/><stop offset="0.5769" stop-color="#e0e0ff"/><stop offset="0.5769" stop-color="#d6d6ff"/><stop offset="0.5962" stop-color="#d6d6ff"/><stop offset="0.5962" stop-color="#ccccff"/><stop offset="0.6154" stop-color="#ccccff"/><stop offset="0.6154" stop-color="#c2c2ff"/><stop offset="0.6346" stop-color="#c2c2ff"/><stop offset="0.6346" stop-color="#b8b8ff"/><stop offset="0.6538" stop-color="#b8b8ff"/><stop offset="0.6538" stop-color="#adadff"/><stop offset="0.6731" stop-color="#adadff"/><stop offset="0.6731" stop-color="#a3a3ff"/><stop offset="0.6923" stop-color="#a3a3ff"/><stop offset="0.6923" stop-color="#9999ff"/><stop offset="0.7115" stop-color="#9999ff"/><stop offset="0.7115" stop-color="#8f8fff"/><stop offset="0.7308" stop-color="#8f8fff"/><stop offset="0.7308" stop-color="#8585ff"/><stop offset="0.7500" stop-color="#8585ff"/><stop offset="0.7500" stop-color="#7a7aff"/><stop offset="0.7692" stop-color="#7a7aff"/><stop offset="0.7692" stop-color="#7070ff"/><stop offset="0.7885" stop-color="#7070ff"/><stop offset="0.7885" stop-color="#6666ff"/><stop offset="0.8077" stop-color="#6666ff"/><stop offset="0.8077" stop-color="#5c5cff"/><stop offset="0.8269" stop-color="#5c5cff"/><stop offset="0.8269" stop-color="#5252ff"/><stop offset="0.8462" stop-color="#5252ff"/><stop offset="0.8462" stop-color="#4747ff"/><stop offset="0.8654" stop-color="#4747ff"/><stop offset="0.8654" stop-color="#3d3dff"/><stop offset="0.8846" stop-color="#3d3dff"/><stop offset="0.8846" stop-color="#3333ff"/><stop offset="0.9038" stop-color="#3333ff"/><stop offset="0.9038" stop-color="#2929ff"/><stop offset="0.9231" stop-color="#2929ff"/><stop offset="0.9231" stop-color="#1f1fff"/><stop offset="0.9423" stop-color="#1f1fff"/><stop offset="0.9423" stop-color="#1414ff"/><stop offset="0.9615" stop-color="#1414ff"/><stop offset="0.9615" stop-color="#0a0aff"/><stop offset="0.9808" stop-color="#0a0aff"/><stop offset="0.9808" stop-color="#0000ff"/><stop offset="1.0000" stop-color="#0000ff"/></linearGradient></defs>
<line x1="149.9" y1="452.3" x2="149.9" y2="460.3" stroke="#000" stroke-width="1.5"/>
<text x="149.9" y="488.2" font-size="29" text-anchor="middle" font-family="Liberation Sans" >3</text>
<line x1="217.6" y1="452.3" x2="217.6" y2="460.3" stroke="#000" stroke-width="1.5"/>
<text x="217.6" y="488.2" font-size="29" text-anchor="middle" font-family="Liberation Sans" >3.5</text>
<line x1="285.3" y1="452.3" x2="285.3" y2="460.3" stroke="#000" stroke-width="1.5"/>
<text x="285.3" y="488.2" font-size="29" text-anchor="middle" font-family="Liberation Sans" >4</text>
<line x1="353.0" y1="452.3" x2="353.0" y2="460.3" stroke="#000" stroke-width="1.5"/>
<text x="353.0" y="488.2" font-size="29" text-anchor="middle" font-family="Liberation Sans" >4.5</text>
<line x1="420.7" y1="452.3" x2="420.7" y2="460.3" stroke="#000" stroke-width="1.5"/>
<text x="420.7" y="488.2" font-size="29" text-anchor="middle" font-family="Liberation Sans" >5</text>
<line x1="488.4" y1="452.3" x2="488.4" y2="460.3" stroke="#000" stroke-width="1.5"/>
<text x="488.4" y="488.2" font-size="29" text-anchor="middle" font-family="Liberation Sans" >5.5</text>
<line x1="556.1" y1="452.3" x2="556.1" y2="460.3" stroke="#000" stroke-width="1.5"/>
<text x="556.1" y="488.2" font-size="29" text-anchor="middle" font-family="Liberation Sans" >6</text>
<line x1="116.1" y1="452.3" x2="116.1" y2="456.3" stroke="#000" stroke-width="1.5"/>
<line x1="183.8" y1="452.3" x2="183.8" y2="456.3" stroke="#000" stroke-width="1.5"/>
<line x1="251.5" y1="452.3" x2="251.5" y2="456.3" stroke="#000" stroke-width="1.5"/>
<line x1="319.1" y1="452.3" x2="319.1" y2="456.3" stroke="#000" stroke-width="1.5"/>
<line x1="386.9" y1="452.3" x2="386.9" y2="456.3" stroke="#000" stroke-width="1.5"/>
<line x1="454.6" y1="452.3" x2="454.6" y2="456.3" stroke="#000" stroke-width="1.5"/>
<line x1="522.2" y1="452.3" x2="522.2" y2="456.3" stroke="#000" stroke-width="1.5"/>
<line x1="102.0" y1="87.5" x2="110.0" y2="87.5" stroke="#000" stroke-width="1.5"/>
<text x="96.5" y="96.5" font-size="29" text-anchor="end" font-family="Liberation Sans" >1</text>
<line x1="102.0" y1="452.3" x2="110.0" y2="452.3" stroke="#000" stroke-width="1.5"/>
<text x="96.5" y="461.3" font-size="29" text-anchor="end" font-family="Liberation Sans" >0</text>
<line x1="106.0" y1="361.1" x2="110.0" y2="361.1" stroke="#000" stroke-width="1.5"/>
<line x1="106.0" y1="269.9" x2="110.0" y2="269.9" stroke="#000" stroke-width="1.5"/>
<line x1="106.0" y1="178.7" x2="110.0" y2="178.7" stroke="#000" stroke-width="1.5"/>
<path d="M118.3,433.6 C119.3,432.4 121.5,431.3 124.1,426.6 C126.6,421.9 130.8,413.6 133.6,405.3 C136.3,397.0 138.6,386.0 140.6,377.0 C142.6,368.0 144.0,360.5 145.4,351.1 C146.8,341.7 147.9,330.3 148.9,320.5 C149.9,310.7 150.5,301.6 151.3,292.2 C152.1,282.8 153.0,271.8 153.6,263.9 C154.2,256.0 154.2,250.5 154.8,245.0 C155.4,239.5 156.2,242.7 157.2,230.9 C158.2,219.1 159.5,189.6 160.7,174.3 C161.9,159.0 163.0,150.7 164.2,138.9 C165.4,127.1 167.0,111.2 167.8,103.6 C168.6,95.9 168.1,94.8 168.9,93.0 C169.7,91.2 171.4,93.8 172.5,93.0 C173.6,92.2 174.5,88.3 175.5,88.3 C176.5,88.3 177.3,88.5 178.4,93.0 C179.5,97.5 180.7,105.8 181.9,115.4 C183.1,125.0 184.2,136.9 185.4,150.7 C186.6,164.4 188.0,185.3 189.0,197.9 C190.0,210.5 190.3,215.2 191.3,226.2 C192.3,237.2 193.7,252.9 194.9,263.9 C196.1,274.9 197.2,282.8 198.4,292.2 C199.6,301.6 200.9,312.9 201.9,320.5 C202.9,328.1 203.3,335.8 204.3,338.1 C205.3,340.5 206.6,335.8 207.8,334.6 C209.1,333.4 210.6,334.2 211.8,331.1 C213.0,328.0 213.8,321.9 214.9,315.8 C216.0,309.7 217.0,298.4 218.4,294.5 C219.8,290.6 221.8,292.8 223.2,292.2 C224.6,291.6 225.7,292.0 226.7,291.0 C227.7,290.0 228.3,286.3 229.1,286.3 C229.9,286.3 230.4,286.9 231.4,291.0 C232.4,295.1 233.7,303.7 234.9,311.0 C236.1,318.3 237.1,326.7 238.5,334.6 C239.9,342.5 241.2,350.7 243.2,358.2 C245.2,365.7 248.0,373.5 250.3,379.4 C252.7,385.3 254.8,389.9 257.3,393.6 C259.9,397.3 262.7,399.2 265.6,401.8 C268.6,404.4 271.9,406.5 275.0,408.9 C278.1,411.3 281.4,413.9 284.5,416.0 C287.6,418.1 291.1,421.6 293.9,421.8 C296.6,422.0 298.8,420.2 301.0,417.1 C303.2,414.0 304.9,407.7 306.9,403.0 C308.8,398.3 310.2,392.7 312.7,388.8 C315.1,384.9 318.7,380.1 321.6,379.9 C324.5,379.7 327.3,384.5 330.2,387.4 C333.1,390.3 335.9,393.1 338.8,397.1 C341.7,401.1 344.2,406.5 347.4,411.2 C350.6,415.9 354.6,421.6 358.2,425.2 C361.8,428.8 365.1,429.6 369.0,432.7 C372.9,435.8 378.3,441.3 381.9,443.5 C385.5,445.7 387.0,445.8 390.6,446.1 C394.2,446.5 398.5,446.0 403.5,445.6 C408.5,445.2 414.9,444.6 420.7,443.5 C426.4,442.4 432.2,440.8 438.0,439.2 C443.8,437.6 450.2,434.4 455.2,433.8 C460.2,433.2 463.5,435.0 468.2,435.9 C472.9,436.8 478.3,437.9 483.3,439.2 C488.3,440.5 493.0,442.1 498.4,443.5 C503.8,444.9 509.1,446.7 515.6,447.8 C522.1,448.9 530.0,449.5 537.2,450.0 C544.4,450.5 551.0,450.5 558.7,450.6 C566.4,450.7 579.1,450.6 583.2,450.6" fill="none" stroke="#4d4d4d" stroke-width="4.8" stroke-linejoin="round" stroke-linecap="round"/>
<path d="M117.1,431.3 C118.5,429.3 122.5,425.0 125.3,419.5 C128.1,414.0 131.0,406.9 133.6,398.3 C136.2,389.7 138.6,377.4 140.6,367.6 C142.6,357.8 143.8,349.9 145.4,339.3 C147.0,328.7 148.9,313.8 150.1,304.0 C151.3,294.2 151.4,289.4 152.4,280.4 C153.4,271.3 155.0,257.2 156.0,249.7 C157.0,242.2 157.1,248.2 158.3,235.6 C159.5,223.0 161.4,191.6 163.0,174.3 C164.6,157.0 166.4,141.7 167.8,131.9 C169.2,122.1 170.1,119.1 171.3,115.4 C172.5,111.7 173.7,112.1 174.8,109.5 C175.9,106.9 176.7,100.6 177.7,100.0 C178.7,99.4 179.6,102.6 180.7,105.9 C181.8,109.2 183.1,113.8 184.3,120.1 C185.5,126.4 186.6,134.7 187.8,143.7 C189.0,152.7 190.1,165.3 191.3,174.3 C192.5,183.3 193.5,189.2 194.9,197.9 C196.3,206.6 198.2,216.8 199.6,226.2 C201.0,235.6 201.9,247.4 203.1,254.5 C204.3,261.6 205.7,264.3 206.7,268.6 C207.7,272.9 208.2,274.9 209.0,280.4 C209.8,285.9 210.4,294.5 211.4,301.6 C212.4,308.7 213.5,315.3 214.9,322.8 C216.3,330.3 218.2,338.5 219.6,346.4 C221.0,354.3 222.0,363.3 223.2,370.0 C224.4,376.7 225.3,381.4 226.7,386.5 C228.1,391.6 229.6,396.9 231.4,400.6 C233.2,404.3 235.5,407.9 237.3,408.9 C239.1,409.9 239.6,407.1 242.0,406.5 C244.4,405.9 248.0,405.1 251.5,405.3 C255.0,405.5 259.3,406.5 263.2,407.7 C267.1,408.9 271.4,410.6 275.0,412.4 C278.6,414.2 281.1,416.1 284.5,418.3 C287.9,420.5 292.2,425.2 295.1,425.4 C298.0,425.6 300.0,422.9 302.1,419.5 C304.2,416.1 306.0,410.0 308.0,405.3 C310.0,400.6 311.8,394.5 313.9,391.2 C316.0,387.9 317.8,384.9 320.5,385.3 C323.2,385.8 326.4,390.3 330.2,393.9 C334.0,397.5 338.8,402.5 343.1,406.8 C347.4,411.1 351.1,416.0 356.1,419.8 C361.1,423.6 368.3,426.3 373.3,429.5 C378.3,432.7 382.6,436.6 386.2,439.2 C389.8,441.8 391.3,444.0 394.9,445.2 C398.5,446.4 403.5,446.2 407.8,446.1 C412.1,446.0 415.7,445.7 420.7,444.6 C425.7,443.5 432.2,441.4 438.0,439.6 C443.8,437.8 449.8,434.5 455.2,433.8 C460.6,433.1 465.3,434.6 470.3,435.5 C475.3,436.4 480.0,437.7 485.4,439.2 C490.8,440.7 496.9,442.9 502.7,444.6 C508.4,446.3 514.1,448.5 519.9,449.5 C525.6,450.5 526.7,450.4 537.2,450.6 C547.8,450.9 575.5,450.9 583.2,451.0" fill="none" stroke="#ee3b42" stroke-width="4.8" stroke-linejoin="round" stroke-linecap="round"/>
<rect x="110.0" y="51.7" width="473.2" height="400.6" fill="none" stroke="#000" stroke-width="1.8"/>
<rect x="292.7" y="68.4" width="274.7" height="96.1" fill="#fff" stroke="#888" stroke-width="1"/>
<line x1="297.0" y1="92.6" x2="376.0" y2="92.6" stroke="#4d4d4d" stroke-width="4.5" stroke-linecap="round"/>
<line x1="297.0" y1="140.7" x2="376.0" y2="140.7" stroke="#ee3b42" stroke-width="4.5" stroke-linecap="round"/>
<text x="385.0" y="104.6" font-size="35.7" text-anchor="start" font-family="Liberation Sans" >CEP shift 0</text>
<text x="385.0" y="151.8" font-size="35.7" text-anchor="start" font-family="Liberation Sans" >CEP shift <tspan font-family="Liberation Serif" font-style="italic">&#960;</tspan></text>
<text x="108.5" y="39.5" font-size="35.7" text-anchor="start" font-family="Liberation Sans" >(a)</text>
<text x="346.5" y="540.1" font-size="35.7" text-anchor="middle" font-family="Liberation Sans" >Photon Energy (eV)</text>
<text x="49.0" y="251.9" font-size="35.7" text-anchor="middle" font-family="Liberation Sans" transform="rotate(-90 49 251.9)">Spec. power density (arb.u.)</text>
<ellipse cx="765.5" cy="231.7" rx="2.2" ry="1" fill="#f0a000"/>
<ellipse cx="868" cy="257.5" rx="2.2" ry="1" fill="#f0a000"/>
<ellipse cx="832.5" cy="298.3" rx="2.2" ry="1" fill="#e04000"/>
<ellipse cx="879.5" cy="390.6" rx="2.2" ry="1" fill="#e02000"/>
<filter id="sb"><feGaussianBlur stdDeviation="0.6"/></filter><g fill="#3a3ae6" filter="url(#sb)"><rect x="770" y="71" width="5" height="1" opacity="0.4"/><rect x="727" y="72" width="5" height="1" opacity="0.4"/><rect x="742" y="61" width="4" height="2" opacity="0.2"/><rect x="994" y="68" width="7" height="2" opacity="0.4"/><rect x="721" y="84" width="6" height="2" opacity="0.2"/><rect x="844" y="64" width="6" height="1" opacity="0.5"/><rect x="874" y="78" width="5" height="1" opacity="0.2"/><rect x="1019" y="67" width="4" height="2" opacity="0.5"/><rect x="840" y="74" width="6" height="2" opacity="0.3"/><rect x="946" y="76" width="6" height="2" opacity="0.3"/><rect x="755" y="84" width="4" height="2" opacity="0.2"/><rect x="718" y="75" width="5" height="2" opacity="0.5"/><rect x="847" y="82" width="5" height="2" opacity="0.5"/><rect x="1094" y="74" width="7" height="2" opacity="0.5"/><rect x="1029" y="61" width="5" height="2" opacity="0.6"/><rect x="881" y="70" width="5" height="1" opacity="0.4"/><rect x="754" y="66" width="2" height="2" opacity="0.2"/><rect x="883" y="68" width="6" height="1" opacity="0.4"/><rect x="1114" y="76" width="6" height="2" opacity="0.3"/><rect x="868" y="73" width="6" height="2" opacity="0.2"/><rect x="808" y="66" width="3" height="2" opacity="0.5"/><rect x="701" y="69" width="4" height="2" opacity="0.5"/><rect x="1024" y="83" width="5" height="2" opacity="0.5"/><rect x="1122" y="60" width="6" height="2" opacity="0.6"/><rect x="887" y="72" width="3" height="2" opacity="0.2"/><rect x="797" y="61" width="3" height="2" opacity="0.2"/><rect x="770" y="53" width="3" height="2" opacity="0.2"/><rect x="988" y="82" width="3" height="2" opacity="0.3"/><rect x="757" y="72" width="6" height="2" opacity="0.4"/><rect x="740" y="75" width="3" height="2" opacity="0.3"/><rect x="775" y="81" width="2" height="2" opacity="0.4"/><rect x="954" y="65" width="2" height="2" opacity="0.7"/><rect x="1026" y="82" width="3" height="2" opacity="0.2"/><rect x="949" y="80" width="6" height="2" opacity="0.3"/><rect x="1162" y="81" width="6" height="2" opacity="0.6"/><rect x="806" y="80" width="5" height="2" opacity="0.2"/><rect x="831" y="58" width="3" height="2" opacity="0.7"/><rect x="1139" y="74" width="7" height="2" opacity="0.4"/><rect x="806" y="68" width="3" height="1" opacity="0.5"/><rect x="1094" y="82" width="4" height="2" opacity="0.6"/><rect x="1010" y="62" width="7" height="2" opacity="0.6"/><rect x="783" y="74" width="6" height="2" opacity="0.6"/><rect x="885" y="84" width="4" height="2" opacity="0.5"/><rect x="759" y="66" width="3" height="2" opacity="0.6"/><rect x="1087" y="65" width="7" height="2" opacity="0.3"/><rect x="761" y="76" width="2" height="2" opacity="0.5"/><rect x="1138" y="75" width="4" height="2" opacity="0.6"/><rect x="818" y="67" width="3" height="2" opacity="0.5"/><rect x="896" y="69" width="3" height="2" opacity="0.3"/><rect x="973" y="74" width="7" height="2" opacity="0.7"/><rect x="949" y="75" width="5" height="1" opacity="0.4"/><rect x="701" y="66" width="6" height="1" opacity="0.4"/><rect x="961" y="79" width="4" height="2" opacity="0.5"/><rect x="749" y="80" width="5" height="2" opacity="0.3"/><rect x="938" y="80" width="5" height="2" opacity="0.7"/><rect x="987" y="74" width="5" height="2" opacity="0.5"/><rect x="950" y="74" width="4" height="2" opacity="0.5"/><rect x="1142" y="82" width="3" height="2" opacity="0.7"/><rect x="764" y="81" width="3" height="2" opacity="0.2"/><rect x="734" y="68" width="5" height="2" opacity="0.6"/><rect x="1036" y="65" width="5" height="1" opacity="0.6"/><rect x="803" y="83" width="7" height="2" opacity="0.4"/><rect x="1090" y="84" width="3" height="2" opacity="0.4"/><rect x="791" y="71" width="4" height="2" opacity="0.2"/><rect x="906" y="76" width="2" height="2" opacity="0.5"/><rect x="730" y="75" width="7" height="2" opacity="0.7"/><rect x="824" y="63" width="2" height="2" opacity="0.3"/><rect x="898" y="64" width="7" height="2" opacity="0.3"/><rect x="1131" y="65" width="5" height="2" opacity="0.2"/><rect x="1022" y="60" width="4" height="1" opacity="0.7"/><rect x="1076" y="78" width="2" height="2" opacity="0.2"/><rect x="912" y="82" width="4" height="2" opacity="0.7"/><rect x="760" y="69" width="5" height="2" opacity="0.2"/><rect x="723" y="65" width="3" height="2" opacity="0.3"/><rect x="836" y="80" width="5" height="1" opacity="0.3"/><rect x="817" y="57" width="2" height="2" opacity="0.5"/><rect x="922" y="66" width="7" height="1" opacity="0.6"/><rect x="932" y="73" width="6" height="2" opacity="0.4"/><rect x="1161" y="79" width="4" height="2" opacity="0.5"/><rect x="889" y="78" width="4" height="1" opacity="0.2"/><rect x="1047" y="61" width="3" height="1" opacity="0.2"/><rect x="1108" y="81" width="5" height="2" opacity="0.3"/><rect x="915" y="70" width="3" height="2" opacity="0.3"/><rect x="1156" y="83" width="5" height="2" opacity="0.7"/><rect x="867" y="70" width="2" height="2" opacity="0.4"/><rect x="794" y="75" width="5" height="1" opacity="0.3"/><rect x="887" y="62" width="2" height="1" opacity="0.3"/><rect x="974" y="68" width="5" height="2" opacity="0.5"/><rect x="1112" y="79" width="4" height="2" opacity="0.7"/><rect x="1039" y="65" width="5" height="1" opacity="0.6"/><rect x="994" y="82" width="6" height="2" opacity="0.2"/><rect x="936" y="75" width="6" height="2" opacity="0.6"/><rect x="1119" y="77" width="5" height="2" opacity="0.3"/><rect x="762" y="58" width="4" height="1" opacity="0.6"/><rect x="994" y="76" width="5" height="2" opacity="0.4"/><rect x="1074" y="55" width="6" height="2" opacity="0.4"/><rect x="730" y="78" width="6" height="2" opacity="0.2"/><rect x="1042" y="69" width="3" height="2" opacity="0.7"/><rect x="879" y="75" width="4" height="2" opacity="0.6"/><rect x="1001" y="77" width="2" height="1" opacity="0.3"/><rect x="842" y="80" width="5" height="1" opacity="0.2"/><rect x="1015" y="69" width="5" height="2" opacity="0.3"/><rect x="918" y="75" width="4" height="1" opacity="0.6"/><rect x="1159" y="67" width="7" height="1" opacity="0.4"/><rect x="1154" y="81" width="4" height="2" opacity="0.3"/><rect x="798" y="83" width="5" height="1" opacity="0.4"/><rect x="762" y="83" width="6" height="2" opacity="0.6"/><rect x="808" y="79" width="6" height="2" opacity="0.2"/><rect x="930" y="55" width="4" height="2" opacity="0.2"/><rect x="848" y="71" width="6" height="1" opacity="0.6"/><rect x="756" y="81" width="7" height="2" opacity="0.6"/><rect x="874" y="70" width="4" height="2" opacity="0.5"/><rect x="900" y="72" width="3" height="1" opacity="0.2"/><rect x="834" y="81" width="7" height="2" opacity="0.3"/><rect x="789" y="75" width="4" height="2" opacity="0.6"/><rect x="996" y="81" width="7" height="2" opacity="0.5"/><rect x="723" y="79" width="6" height="2" opacity="0.6"/><rect x="834" y="78" width="2" height="2" opacity="0.2"/><rect x="861" y="74" width="3" height="2" opacity="0.7"/><rect x="1007" y="69" width="4" height="2" opacity="0.4"/><rect x="775" y="66" width="3" height="2" opacity="0.4"/><rect x="1125" y="68" width="7" height="2" opacity="0.2"/><rect x="742" y="67" width="4" height="1" opacity="0.3"/><rect x="967" y="69" width="6" height="2" opacity="0.4"/><rect x="945" y="73" width="4" height="2" opacity="0.2"/><rect x="1154" y="69" width="3" height="2" opacity="0.5"/><rect x="801" y="82" width="3" height="2" opacity="0.4"/><rect x="1147" y="74" width="6" height="2" opacity="0.2"/><rect x="1032" y="59" width="6" height="2" opacity="0.5"/><rect x="883" y="53" width="7" height="2" opacity="0.6"/><rect x="816" y="84" width="3" height="1" opacity="0.4"/><rect x="1141" y="79" width="6" height="2" opacity="0.6"/><rect x="958" y="74" width="2" height="2" opacity="0.3"/><rect x="1002" y="83" width="4" height="1" opacity="0.3"/><rect x="1027" y="78" width="3" height="1" opacity="0.4"/><rect x="882" y="77" width="3" height="2" opacity="0.2"/><rect x="916" y="70" width="7" height="2" opacity="0.6"/><rect x="810" y="74" width="3" height="2" opacity="0.5"/><rect x="710" y="70" width="4" height="2" opacity="0.4"/><rect x="1013" y="69" width="7" height="1" opacity="0.2"/><rect x="897" y="71" width="5" height="1" opacity="0.6"/><rect x="936" y="80" width="3" height="2" opacity="0.3"/><rect x="808" y="81" width="3" height="2" opacity="0.3"/><rect x="932" y="83" width="3" height="1" opacity="0.4"/><rect x="1145" y="78" width="3" height="2" opacity="0.3"/><rect x="766" y="84" width="2" height="1" opacity="0.4"/><rect x="1114" y="82" width="6" height="2" opacity="0.7"/><rect x="787" y="71" width="7" height="2" opacity="0.2"/><rect x="877" y="78" width="4" height="2" opacity="0.2"/><rect x="831" y="55" width="4" height="2" opacity="0.2"/><rect x="797" y="83" width="4" height="2" opacity="0.6"/><rect x="723" y="73" width="4" height="2" opacity="0.7"/><rect x="870" y="67" width="6" height="1" opacity="0.4"/><rect x="1059" y="81" width="2" height="1" opacity="0.2"/><rect x="820" y="83" width="6" height="2" opacity="0.3"/><rect x="1149" y="69" width="5" height="2" opacity="0.5"/><rect x="829" y="70" width="2" height="2" opacity="0.7"/><rect x="1142" y="78" width="2" height="2" opacity="0.4"/><rect x="1147" y="83" width="4" height="2" opacity="0.4"/><rect x="1135" y="75" width="3" height="2" opacity="0.6"/><rect x="1062" y="81" width="5" height="2" opacity="0.3"/><rect x="1067" y="72" width="2" height="1" opacity="0.6"/><rect x="730" y="68" width="2" height="2" opacity="0.3"/><rect x="1114" y="84" width="7" height="2" opacity="0.2"/><rect x="933" y="63" width="6" height="2" opacity="0.3"/><rect x="991" y="73" width="5" height="2" opacity="0.6"/><rect x="756" y="78" width="6" height="2" opacity="0.5"/><rect x="1046" y="72" width="3" height="2" opacity="0.3"/><rect x="1114" y="65" width="5" height="2" opacity="0.4"/><rect x="938" y="84" width="3" height="2" opacity="0.5"/><rect x="748" y="84" width="4" height="2" opacity="0.6"/><rect x="718" y="83" width="3" height="1" opacity="0.3"/><rect x="973" y="84" width="7" height="2" opacity="0.6"/><rect x="821" y="74" width="6" height="2" opacity="0.2"/><rect x="990" y="77" width="3" height="2" opacity="0.2"/><rect x="819" y="67" width="5" height="2" opacity="0.3"/><rect x="853" y="56" width="5" height="1" opacity="0.3"/><rect x="1073" y="67" width="5" height="1" opacity="0.2"/><rect x="958" y="72" width="5" height="1" opacity="0.2"/><rect x="892" y="79" width="3" height="2" opacity="0.7"/><rect x="965" y="70" width="4" height="2" opacity="0.6"/><rect x="870" y="84" width="3" height="2" opacity="0.3"/><rect x="1123" y="55" width="4" height="2" opacity="0.4"/><rect x="916" y="82" width="3" height="1" opacity="0.5"/><rect x="1126" y="78" width="2" height="2" opacity="0.4"/><rect x="768" y="75" width="3" height="2" opacity="0.7"/><rect x="930" y="63" width="6" height="2" opacity="0.3"/><rect x="1142" y="64" width="7" height="2" opacity="0.2"/><rect x="882" y="83" width="7" height="2" opacity="0.6"/><rect x="1068" y="65" width="3" height="2" opacity="0.6"/><rect x="785" y="81" width="3" height="2" opacity="0.4"/><rect x="757" y="72" width="3" height="2" opacity="0.6"/><rect x="963" y="59" width="6" height="1" opacity="0.6"/><rect x="981" y="64" width="5" height="2" opacity="0.3"/><rect x="973" y="73" width="4" height="2" opacity="0.4"/><rect x="710" y="74" width="5" height="2" opacity="0.3"/><rect x="1066" y="80" width="4" height="1" opacity="0.4"/><rect x="760" y="63" width="4" height="1" opacity="0.4"/><rect x="719" y="75" width="5" height="1" opacity="0.6"/><rect x="940" y="80" width="2" height="2" opacity="0.4"/><rect x="763" y="83" width="6" height="2" opacity="0.6"/><rect x="790" y="81" width="7" height="2" opacity="0.7"/><rect x="777" y="83" width="6" height="2" opacity="0.2"/><rect x="1054" y="71" width="3" height="2" opacity="0.3"/><rect x="767" y="81" width="5" height="2" opacity="0.3"/><rect x="937" y="69" width="4" height="1" opacity="0.3"/><rect x="1139" y="65" width="5" height="2" opacity="0.2"/><rect x="754" y="80" width="5" height="2" opacity="0.3"/><rect x="960" y="82" width="5" height="2" opacity="0.2"/><rect x="995" y="84" width="4" height="2" opacity="0.3"/><rect x="970" y="84" width="4" height="2" opacity="0.4"/><rect x="1048" y="66" width="2" height="2" opacity="0.3"/><rect x="1161" y="78" width="5" height="2" opacity="0.3"/><rect x="715" y="54" width="3" height="2" opacity="0.4"/><rect x="1120" y="75" width="3" height="1" opacity="0.5"/><rect x="701" y="58" width="4" height="1" opacity="0.3"/><rect x="973" y="68" width="5" height="1" opacity="0.5"/><rect x="763" y="74" width="7" height="2" opacity="0.2"/><rect x="999" y="63" width="6" height="2" opacity="0.4"/><rect x="705" y="69" width="5" height="2" opacity="0.3"/><rect x="908" y="78" width="7" height="2" opacity="0.3"/><rect x="720" y="82" width="5" height="2" opacity="0.3"/><rect x="1065" y="60" width="2" height="2" opacity="0.7"/><rect x="793" y="65" width="5" height="2" opacity="0.5"/><rect x="781" y="81" width="4" height="2" opacity="0.2"/><rect x="1067" y="82" width="6" height="1" opacity="0.6"/><rect x="918" y="80" width="6" height="2" opacity="0.3"/><rect x="809" y="63" width="2" height="2" opacity="0.6"/><rect x="1096" y="79" width="6" height="2" opacity="0.5"/><rect x="1070" y="73" width="5" height="2" opacity="0.5"/><rect x="801" y="83" width="6" height="1" opacity="0.3"/><rect x="1049" y="68" width="7" height="2" opacity="0.3"/><rect x="854" y="82" width="3" height="2" opacity="0.5"/><rect x="1012" y="79" width="7" height="2" opacity="0.6"/><rect x="1102" y="79" width="4" height="2" opacity="0.5"/><rect x="799" y="70" width="5" height="1" opacity="0.7"/><rect x="712" y="65" width="3" height="2" opacity="0.3"/><rect x="713" y="65" width="2" height="2" opacity="0.5"/><rect x="1045" y="79" width="2" height="2" opacity="0.3"/><rect x="1084" y="81" width="6" height="1" opacity="0.6"/><rect x="1143" y="83" width="3" height="1" opacity="0.2"/><rect x="1097" y="59" width="6" height="2" opacity="0.6"/><rect x="834" y="78" width="2" height="1" opacity="0.6"/><rect x="849" y="67" width="4" height="1" opacity="0.3"/><rect x="1035" y="69" width="4" height="2" opacity="0.7"/><rect x="1099" y="75" width="5" height="1" opacity="0.4"/><rect x="1062" y="73" width="4" height="2" opacity="0.4"/><rect x="1104" y="67" width="2" height="2" opacity="0.2"/><rect x="794" y="54" width="6" height="2" opacity="0.2"/><rect x="930" y="75" width="6" height="1" opacity="0.4"/><rect x="1090" y="71" width="3" height="2" opacity="0.3"/><rect x="1028" y="67" width="4" height="1" opacity="0.5"/><rect x="1069" y="62" width="5" height="2" opacity="0.5"/><rect x="888" y="71" width="4" height="2" opacity="0.2"/><rect x="711" y="82" width="3" height="2" opacity="0.6"/><rect x="878" y="75" width="6" height="2" opacity="0.4"/><rect x="1054" y="76" width="6" height="2" opacity="0.3"/><rect x="772" y="71" width="6" height="2" opacity="0.6"/><rect x="905" y="66" width="6" height="2" opacity="0.2"/><rect x="1115" y="74" width="3" height="1" opacity="0.3"/></g>
<rect x="698.5" y="51.7" width="473.3" height="400.6" fill="none" stroke="#000" stroke-width="1.8"/>
<line x1="698.5" y1="452.3" x2="698.5" y2="460.3" stroke="#000" stroke-width="1.5"/>
<text x="698.5" y="488.3" font-size="29" text-anchor="middle" font-family="Liberation Sans" >0</text>
<line x1="856.3" y1="452.3" x2="856.3" y2="460.3" stroke="#000" stroke-width="1.5"/>
<text x="856.3" y="488.3" font-size="29" text-anchor="middle" font-family="Liberation Sans" >1</text>
<line x1="1014.0" y1="452.3" x2="1014.0" y2="460.3" stroke="#000" stroke-width="1.5"/>
<text x="1014.0" y="488.3" font-size="29" text-anchor="middle" font-family="Liberation Sans" >2</text>
<line x1="1171.8" y1="452.3" x2="1171.8" y2="460.3" stroke="#000" stroke-width="1.5"/>
<text x="1171.8" y="488.3" font-size="29" text-anchor="middle" font-family="Liberation Sans" >3</text>
<line x1="777.4" y1="452.3" x2="777.4" y2="456.3" stroke="#000" stroke-width="1.5"/>
<line x1="935.1" y1="452.3" x2="935.1" y2="456.3" stroke="#000" stroke-width="1.5"/>
<line x1="1092.9" y1="452.3" x2="1092.9" y2="456.3" stroke="#000" stroke-width="1.5"/>
<line x1="690.5" y1="95.1" x2="698.5" y2="95.1" stroke="#000" stroke-width="1.5"/>
<text x="684.8" y="104.1" font-size="29" text-anchor="end" font-family="Liberation Sans" >6</text>
<line x1="690.5" y1="205.3" x2="698.5" y2="205.3" stroke="#000" stroke-width="1.5"/>
<text x="684.8" y="214.3" font-size="29" text-anchor="end" font-family="Liberation Sans" >5</text>
<line x1="690.5" y1="315.6" x2="698.5" y2="315.6" stroke="#000" stroke-width="1.5"/>
<text x="684.8" y="324.6" font-size="29" text-anchor="end" font-family="Liberation Sans" >4</text>
<line x1="690.5" y1="425.8" x2="698.5" y2="425.8" stroke="#000" stroke-width="1.5"/>
<text x="684.8" y="434.8" font-size="29" text-anchor="end" font-family="Liberation Sans" >3</text>
<line x1="694.5" y1="150.2" x2="698.5" y2="150.2" stroke="#000" stroke-width="1.5"/>
<line x1="694.5" y1="260.4" x2="698.5" y2="260.4" stroke="#000" stroke-width="1.5"/>
<line x1="694.5" y1="370.7" x2="698.5" y2="370.7" stroke="#000" stroke-width="1.5"/>
<text x="697.0" y="39.5" font-size="35.7" text-anchor="start" font-family="Liberation Sans" >(b)</text>
<text x="934.5" y="540.2" font-size="35.7" text-anchor="middle" font-family="Liberation Sans" >CEP shift (<tspan font-family="Liberation Serif" font-style="italic">&#960;</tspan>)</text>
<text x="647.7" y="250.4" font-size="35.7" text-anchor="middle" font-family="Liberation Sans" transform="rotate(-90 647.7 250.4)">Photon Energy (eV)</text>
<text x="1252.8" y="26.4" font-size="35.7" text-anchor="middle" font-family="Liberation Sans" >HHG spec.</text>
<text x="1248.0" y="69.2" font-size="35.7" text-anchor="middle" font-family="Liberation Sans" >power</text>
<text x="1247.6" y="112.0" font-size="35.7" text-anchor="middle" font-family="Liberation Sans" >density</text>
<text x="1252.5" y="154.8" font-size="35.7" text-anchor="middle" font-family="Liberation Sans" >(arb.u.)</text>
<rect x="1233.5" y="186" width="25.6" height="266.2" fill="url(#cbb)" stroke="#000" stroke-width="1.5"/>
<line x1="1259.2" y1="196.2" x2="1267.0" y2="196.2" stroke="#000" stroke-width="1.5"/>
<text x="1277.5" y="205.2" font-size="28" text-anchor="start" font-family="Liberation Sans" >0.7</text>
<line x1="1259.2" y1="222.3" x2="1267.0" y2="222.3" stroke="#000" stroke-width="1.5"/>
<text x="1277.5" y="231.3" font-size="28" text-anchor="start" font-family="Liberation Sans" >0.4</text>
<line x1="1259.2" y1="306.8" x2="1267.0" y2="306.8" stroke="#000" stroke-width="1.5"/>
<text x="1277.5" y="315.8" font-size="28" text-anchor="start" font-family="Liberation Sans" >0.05</text>
<rect x="110.0" y="640.1" width="473.4" height="400.1" fill="none" stroke="#000" stroke-width="1.8"/>
<line x1="110.0" y1="1040.2" x2="110.0" y2="1048.2" stroke="#000" stroke-width="1.5"/>
<text x="110.0" y="1075.7" font-size="29" text-anchor="middle" font-family="Liberation Sans" >0</text>
<line x1="267.8" y1="1040.2" x2="267.8" y2="1048.2" stroke="#000" stroke-width="1.5"/>
<text x="267.8" y="1075.7" font-size="29" text-anchor="middle" font-family="Liberation Sans" >1</text>
<line x1="425.6" y1="1040.2" x2="425.6" y2="1048.2" stroke="#000" stroke-width="1.5"/>
<text x="425.6" y="1075.7" font-size="29" text-anchor="middle" font-family="Liberation Sans" >2</text>
<line x1="583.4" y1="1040.2" x2="583.4" y2="1048.2" stroke="#000" stroke-width="1.5"/>
<text x="583.4" y="1075.7" font-size="29" text-anchor="middle" font-family="Liberation Sans" >3</text>
<line x1="188.9" y1="1040.2" x2="188.9" y2="1044.2" stroke="#000" stroke-width="1.5"/>
<line x1="346.7" y1="1040.2" x2="346.7" y2="1044.2" stroke="#000" stroke-width="1.5"/>
<line x1="504.5" y1="1040.2" x2="504.5" y2="1044.2" stroke="#000" stroke-width="1.5"/>
<line x1="102.0" y1="646.3" x2="110.0" y2="646.3" stroke="#000" stroke-width="1.5"/>
<text x="97.0" y="655.3" font-size="29" text-anchor="end" font-family="Liberation Sans" >6</text>
<line x1="102.0" y1="773.5" x2="110.0" y2="773.5" stroke="#000" stroke-width="1.5"/>
<text x="97.0" y="782.5" font-size="29" text-anchor="end" font-family="Liberation Sans" >5</text>
<line x1="102.0" y1="900.7" x2="110.0" y2="900.7" stroke="#000" stroke-width="1.5"/>
<text x="97.0" y="909.7" font-size="29" text-anchor="end" font-family="Liberation Sans" >4</text>
<line x1="102.0" y1="1027.9" x2="110.0" y2="1027.9" stroke="#000" stroke-width="1.5"/>
<text x="97.0" y="1036.9" font-size="29" text-anchor="end" font-family="Liberation Sans" >3</text>
<line x1="106.0" y1="709.9" x2="110.0" y2="709.9" stroke="#000" stroke-width="1.5"/>
<line x1="106.0" y1="837.1" x2="110.0" y2="837.1" stroke="#000" stroke-width="1.5"/>
<line x1="106.0" y1="964.3" x2="110.0" y2="964.3" stroke="#000" stroke-width="1.5"/>
<text x="108.5" y="625.1" font-size="35.7" text-anchor="start" font-family="Liberation Sans" >(c)</text>
<text x="330.0" y="625.1" font-size="35.7" text-anchor="middle" font-family="Liberation Sans" >[100] Experimental</text>
<rect x="698.2" y="640.1" width="473.4" height="400.1" fill="none" stroke="#000" stroke-width="1.8"/>
<line x1="698.2" y1="1040.2" x2="698.2" y2="1048.2" stroke="#000" stroke-width="1.5"/>
<text x="698.2" y="1075.7" font-size="29" text-anchor="middle" font-family="Liberation Sans" >0</text>
<line x1="856.0" y1="1040.2" x2="856.0" y2="1048.2" stroke="#000" stroke-width="1.5"/>
<text x="856.0" y="1075.7" font-size="29" text-anchor="middle" font-family="Liberation Sans" >1</text>
<line x1="1013.8" y1="1040.2" x2="1013.8" y2="1048.2" stroke="#000" stroke-width="1.5"/>
<text x="1013.8" y="1075.7" font-size="29" text-anchor="middle" font-family="Liberation Sans" >2</text>
<line x1="1171.6" y1="1040.2" x2="1171.6" y2="1048.2" stroke="#000" stroke-width="1.5"/>
<text x="1171.6" y="1075.7" font-size="29" text-anchor="middle" font-family="Liberation Sans" >3</text>
<line x1="777.1" y1="1040.2" x2="777.1" y2="1044.2" stroke="#000" stroke-width="1.5"/>
<line x1="934.9" y1="1040.2" x2="934.9" y2="1044.2" stroke="#000" stroke-width="1.5"/>
<line x1="1092.7" y1="1040.2" x2="1092.7" y2="1044.2" stroke="#000" stroke-width="1.5"/>
<line x1="690.2" y1="646.3" x2="698.2" y2="646.3" stroke="#000" stroke-width="1.5"/>
<text x="686.0" y="655.3" font-size="29" text-anchor="end" font-family="Liberation Sans" >6</text>
<line x1="690.2" y1="773.5" x2="698.2" y2="773.5" stroke="#000" stroke-width="1.5"/>
<text x="686.0" y="782.5" font-size="29" text-anchor="end" font-family="Liberation Sans" >5</text>
<line x1="690.2" y1="900.7" x2="698.2" y2="900.7" stroke="#000" stroke-width="1.5"/>
<text x="686.0" y="909.7" font-size="29" text-anchor="end" font-family="Liberation Sans" >4</text>
<line x1="690.2" y1="1027.9" x2="698.2" y2="1027.9" stroke="#000" stroke-width="1.5"/>
<text x="686.0" y="1036.9" font-size="29" text-anchor="end" font-family="Liberation Sans" >3</text>
<line x1="694.2" y1="709.9" x2="698.2" y2="709.9" stroke="#000" stroke-width="1.5"/>
<line x1="694.2" y1="837.1" x2="698.2" y2="837.1" stroke="#000" stroke-width="1.5"/>
<line x1="694.2" y1="964.3" x2="698.2" y2="964.3" stroke="#000" stroke-width="1.5"/>
<text x="696.7" y="625.1" font-size="35.7" text-anchor="start" font-family="Liberation Sans" >(d)</text>
<text x="921.0" y="625.1" font-size="35.7" text-anchor="middle" font-family="Liberation Sans" >[110] Experimental</text>
<rect x="110.0" y="1130.3" width="473.4" height="400.8" fill="none" stroke="#000" stroke-width="1.8"/>
<line x1="110.0" y1="1531.1" x2="110.0" y2="1539.1" stroke="#000" stroke-width="1.5"/>
<text x="110.0" y="1566.6" font-size="29" text-anchor="middle" font-family="Liberation Sans" >0</text>
<line x1="267.8" y1="1531.1" x2="267.8" y2="1539.1" stroke="#000" stroke-width="1.5"/>
<text x="267.8" y="1566.6" font-size="29" text-anchor="middle" font-family="Liberation Sans" >1</text>
<line x1="425.6" y1="1531.1" x2="425.6" y2="1539.1" stroke="#000" stroke-width="1.5"/>
<text x="425.6" y="1566.6" font-size="29" text-anchor="middle" font-family="Liberation Sans" >2</text>
<line x1="583.4" y1="1531.1" x2="583.4" y2="1539.1" stroke="#000" stroke-width="1.5"/>
<text x="583.4" y="1566.6" font-size="29" text-anchor="middle" font-family="Liberation Sans" >3</text>
<line x1="188.9" y1="1531.1" x2="188.9" y2="1535.1" stroke="#000" stroke-width="1.5"/>
<line x1="346.7" y1="1531.1" x2="346.7" y2="1535.1" stroke="#000" stroke-width="1.5"/>
<line x1="504.5" y1="1531.1" x2="504.5" y2="1535.1" stroke="#000" stroke-width="1.5"/>
<line x1="102.0" y1="1136.4" x2="110.0" y2="1136.4" stroke="#000" stroke-width="1.5"/>
<text x="97.0" y="1145.4" font-size="29" text-anchor="end" font-family="Liberation Sans" >6</text>
<line x1="102.0" y1="1200.0" x2="110.0" y2="1200.0" stroke="#000" stroke-width="1.5"/>
<text x="97.0" y="1209.0" font-size="29" text-anchor="end" font-family="Liberation Sans" >5.5</text>
<line x1="102.0" y1="1263.6" x2="110.0" y2="1263.6" stroke="#000" stroke-width="1.5"/>
<text x="97.0" y="1272.6" font-size="29" text-anchor="end" font-family="Liberation Sans" >5</text>
<line x1="102.0" y1="1327.2" x2="110.0" y2="1327.2" stroke="#000" stroke-width="1.5"/>
<text x="97.0" y="1336.2" font-size="29" text-anchor="end" font-family="Liberation Sans" >4.5</text>
<line x1="102.0" y1="1390.8" x2="110.0" y2="1390.8" stroke="#000" stroke-width="1.5"/>
<text x="97.0" y="1399.8" font-size="29" text-anchor="end" font-family="Liberation Sans" >4</text>
<line x1="102.0" y1="1454.4" x2="110.0" y2="1454.4" stroke="#000" stroke-width="1.5"/>
<text x="97.0" y="1463.4" font-size="29" text-anchor="end" font-family="Liberation Sans" >3.5</text>
<line x1="102.0" y1="1518.0" x2="110.0" y2="1518.0" stroke="#000" stroke-width="1.5"/>
<text x="97.0" y="1527.0" font-size="29" text-anchor="end" font-family="Liberation Sans" >3</text>
<line x1="106.0" y1="1168.2" x2="110.0" y2="1168.2" stroke="#000" stroke-width="1.5"/>
<line x1="106.0" y1="1231.8" x2="110.0" y2="1231.8" stroke="#000" stroke-width="1.5"/>
<line x1="106.0" y1="1295.4" x2="110.0" y2="1295.4" stroke="#000" stroke-width="1.5"/>
<line x1="106.0" y1="1359.0" x2="110.0" y2="1359.0" stroke="#000" stroke-width="1.5"/>
<line x1="106.0" y1="1422.6" x2="110.0" y2="1422.6" stroke="#000" stroke-width="1.5"/>
<line x1="106.0" y1="1486.2" x2="110.0" y2="1486.2" stroke="#000" stroke-width="1.5"/>
<text x="108.5" y="1115.3" font-size="35.7" text-anchor="start" font-family="Liberation Sans" >(e)</text>
<text x="339.0" y="1115.3" font-size="35.7" text-anchor="middle" font-family="Liberation Sans" >[100] Calculated</text>
<rect x="698.2" y="1130.3" width="473.4" height="400.8" fill="none" stroke="#000" stroke-width="1.8"/>
<line x1="698.2" y1="1531.1" x2="698.2" y2="1539.1" stroke="#000" stroke-width="1.5"/>
<text x="698.2" y="1566.6" font-size="29" text-anchor="middle" font-family="Liberation Sans" >0</text>
<line x1="856.0" y1="1531.1" x2="856.0" y2="1539.1" stroke="#000" stroke-width="1.5"/>
<text x="856.0" y="1566.6" font-size="29" text-anchor="middle" font-family="Liberation Sans" >1</text>
<line x1="1013.8" y1="1531.1" x2="1013.8" y2="1539.1" stroke="#000" stroke-width="1.5"/>
<text x="1013.8" y="1566.6" font-size="29" text-anchor="middle" font-family="Liberation Sans" >2</text>
<line x1="1171.6" y1="1531.1" x2="1171.6" y2="1539.1" stroke="#000" stroke-width="1.5"/>
<text x="1171.6" y="1566.6" font-size="29" text-anchor="middle" font-family="Liberation Sans" >3</text>
<line x1="777.1" y1="1531.1" x2="777.1" y2="1535.1" stroke="#000" stroke-width="1.5"/>
<line x1="934.9" y1="1531.1" x2="934.9" y2="1535.1" stroke="#000" stroke-width="1.5"/>
<line x1="1092.7" y1="1531.1" x2="1092.7" y2="1535.1" stroke="#000" stroke-width="1.5"/>
<line x1="690.2" y1="1136.4" x2="698.2" y2="1136.4" stroke="#000" stroke-width="1.5"/>
<text x="686.0" y="1145.4" font-size="29" text-anchor="end" font-family="Liberation Sans" >6</text>
<line x1="690.2" y1="1200.0" x2="698.2" y2="1200.0" stroke="#000" stroke-width="1.5"/>
<text x="686.0" y="1209.0" font-size="29" text-anchor="end" font-family="Liberation Sans" >5.5</text>
<line x1="690.2" y1="1263.6" x2="698.2" y2="1263.6" stroke="#000" stroke-width="1.5"/>
<text x="686.0" y="1272.6" font-size="29" text-anchor="end" font-family="Liberation Sans" >5</text>
<line x1="690.2" y1="1327.2" x2="698.2" y2="1327.2" stroke="#000" stroke-width="1.5"/>
<text x="686.0" y="1336.2" font-size="29" text-anchor="end" font-family="Liberation Sans" >4.5</text>
<line x1="690.2" y1="1390.8" x2="698.2" y2="1390.8" stroke="#000" stroke-width="1.5"/>
<text x="686.0" y="1399.8" font-size="29" text-anchor="end" font-family="Liberation Sans" >4</text>
<line x1="690.2" y1="1454.4" x2="698.2" y2="1454.4" stroke="#000" stroke-width="1.5"/>
<text x="686.0" y="1463.4" font-size="29" text-anchor="end" font-family="Liberation Sans" >3.5</text>
<line x1="690.2" y1="1518.0" x2="698.2" y2="1518.0" stroke="#000" stroke-width="1.5"/>
<text x="686.0" y="1527.0" font-size="29" text-anchor="end" font-family="Liberation Sans" >3</text>
<line x1="694.2" y1="1168.2" x2="698.2" y2="1168.2" stroke="#000" stroke-width="1.5"/>
<line x1="694.2" y1="1231.8" x2="698.2" y2="1231.8" stroke="#000" stroke-width="1.5"/>
<line x1="694.2" y1="1295.4" x2="698.2" y2="1295.4" stroke="#000" stroke-width="1.5"/>
<line x1="694.2" y1="1359.0" x2="698.2" y2="1359.0" stroke="#000" stroke-width="1.5"/>
<line x1="694.2" y1="1422.6" x2="698.2" y2="1422.6" stroke="#000" stroke-width="1.5"/>
<line x1="694.2" y1="1486.2" x2="698.2" y2="1486.2" stroke="#000" stroke-width="1.5"/>
<text x="696.7" y="1115.3" font-size="35.7" text-anchor="start" font-family="Liberation Sans" >(f)</text>
<text x="928.0" y="1115.3" font-size="35.7" text-anchor="middle" font-family="Liberation Sans" >[110] Calculated</text>
<text x="49.0" y="844.5" font-size="35.7" text-anchor="middle" font-family="Liberation Sans" transform="rotate(-90 49 844.5)">Photon Energy (eV)</text>
<text x="26.5" y="1330.3" font-size="35.7" text-anchor="middle" font-family="Liberation Sans" transform="rotate(-90 26.5 1330.3)">Photon Energy (eV)</text>
<text x="356.7" y="1604.5" font-size="35.7" text-anchor="middle" font-family="Liberation Sans" >CEP Shift (<tspan font-family="Liberation Serif" font-style="italic">&#960;</tspan>)</text>
<text x="941.3" y="1604.5" font-size="35.7" text-anchor="middle" font-family="Liberation Sans" >CEP Shift (<tspan font-family="Liberation Serif" font-style="italic">&#960;</tspan>)</text>
<rect x="1243.5" y="717.3" width="26" height="734.2" fill="url(#cbr)" stroke="#666" stroke-width="1"/>
<line x1="1269.5" y1="1084.5" x2="1277.0" y2="1084.5" stroke="#888" stroke-width="1.5"/>
<text x="1279.5" y="733.4" font-size="29" text-anchor="start" font-family="Liberation Sans" >0.25</text>
<text x="1294.0" y="1097.0" font-size="29" text-anchor="start" font-family="Liberation Sans" >0</text>
<text x="1281.0" y="1462.0" font-size="29" text-anchor="start" font-family="Liberation Sans" >-0.25</text>
<text x="0" y="0" font-size="34.2" font-family="Liberation Sans" transform="translate(1213 1320) rotate(-90)">(Sig<tspan font-size="23" dy="9">CEP</tspan><tspan dy="-9">-Sig</tspan><tspan font-size="23" dy="9">&lt;CEP&gt;</tspan><tspan dy="-9">)/Sig</tspan><tspan font-size="23" dy="9">&lt;CEP&gt;</tspan><tspan dy="-9"> (rel.u.)</tspan></text>
</svg>
</body></html>
